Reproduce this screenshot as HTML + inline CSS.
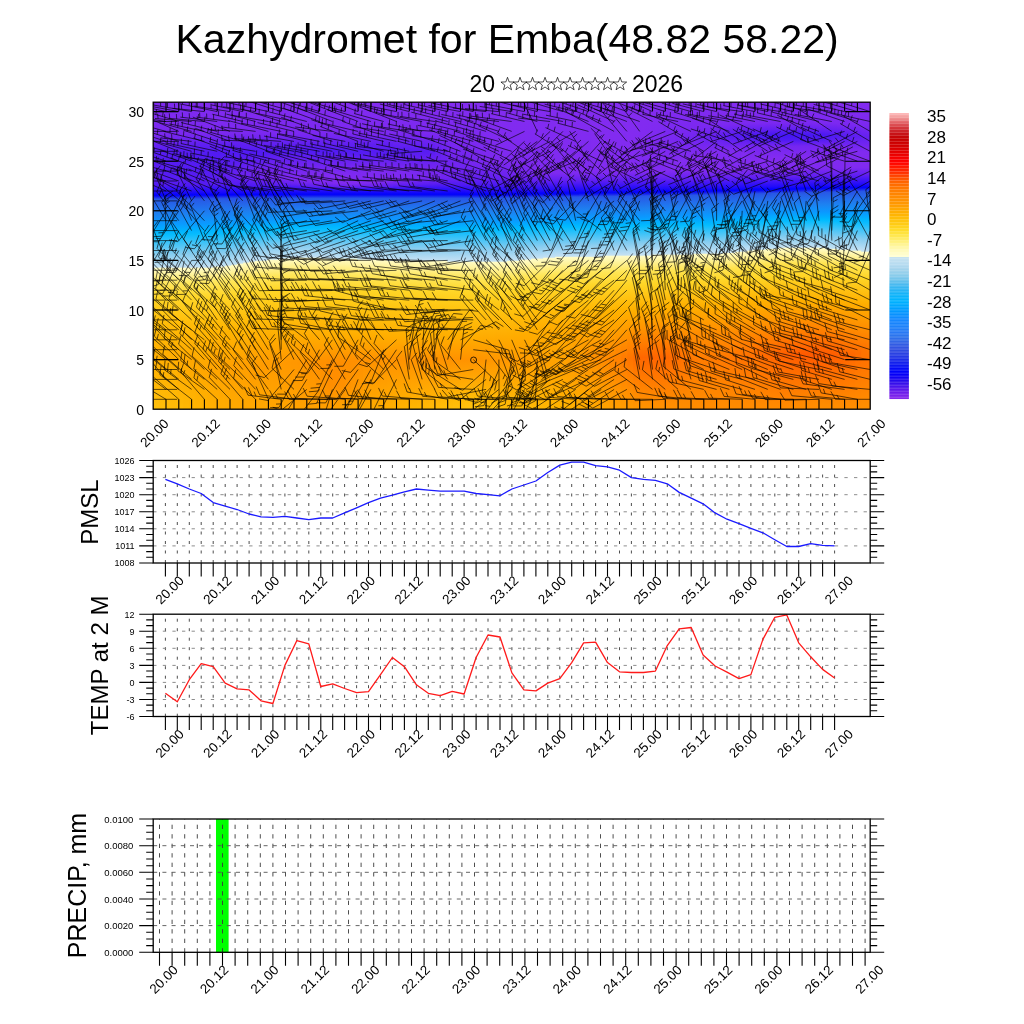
<!DOCTYPE html><html><head><meta charset="utf-8"><style>html,body{margin:0;padding:0;background:#fff;}svg{display:block;will-change:transform;}text{font-family:"Liberation Sans",sans-serif;}</style></head><body><svg width="1024" height="1024" viewBox="0 0 1024 1024"><rect width="1024" height="1024" fill="#fff"/><defs><linearGradient id="g0" x1="0" y1="0" x2="0" y2="1"><stop offset="0.000" stop-color="#7e29f0"/><stop offset="0.052" stop-color="#7e29f0"/><stop offset="0.104" stop-color="#7a28f0"/><stop offset="0.163" stop-color="#571cf2"/><stop offset="0.244" stop-color="#5e1ef2"/><stop offset="0.270" stop-color="#511af3"/><stop offset="0.296" stop-color="#1808fb"/><stop offset="0.303" stop-color="#0202fd"/><stop offset="0.306" stop-color="#0b0ef3"/><stop offset="0.313" stop-color="#2340e7"/><stop offset="0.316" stop-color="#2857e6"/><stop offset="0.362" stop-color="#1e7ff0"/><stop offset="0.394" stop-color="#0c98ff"/><stop offset="0.417" stop-color="#00b0ff"/><stop offset="0.430" stop-color="#05bcfe"/><stop offset="0.495" stop-color="#87cdf0"/><stop offset="0.537" stop-color="#c3e0f4"/><stop offset="0.541" stop-color="#fffcc7"/><stop offset="0.590" stop-color="#ffe75b"/><stop offset="0.635" stop-color="#ffd628"/><stop offset="0.720" stop-color="#ffbd09"/><stop offset="0.827" stop-color="#ffae00"/><stop offset="0.980" stop-color="#ffbe0a"/><stop offset="1.000" stop-color="#ffc10d"/></linearGradient><linearGradient id="g1" x1="0" y1="0" x2="0" y2="1"><stop offset="0.000" stop-color="#7e29f0"/><stop offset="0.052" stop-color="#7e29f0"/><stop offset="0.104" stop-color="#7a28f0"/><stop offset="0.163" stop-color="#571cf2"/><stop offset="0.257" stop-color="#591df2"/><stop offset="0.270" stop-color="#511af3"/><stop offset="0.296" stop-color="#1708fb"/><stop offset="0.303" stop-color="#0203fd"/><stop offset="0.306" stop-color="#0b0ef3"/><stop offset="0.313" stop-color="#2441e7"/><stop offset="0.316" stop-color="#2857e6"/><stop offset="0.362" stop-color="#1e7ff0"/><stop offset="0.394" stop-color="#0b98ff"/><stop offset="0.417" stop-color="#00b0ff"/><stop offset="0.430" stop-color="#05bcfe"/><stop offset="0.495" stop-color="#87cdf0"/><stop offset="0.537" stop-color="#c3e0f4"/><stop offset="0.541" stop-color="#fffcc7"/><stop offset="0.590" stop-color="#ffe75b"/><stop offset="0.635" stop-color="#ffd628"/><stop offset="0.723" stop-color="#ffbc08"/><stop offset="0.831" stop-color="#ffad00"/><stop offset="0.980" stop-color="#ffbc08"/><stop offset="1.000" stop-color="#ffbf0b"/></linearGradient><linearGradient id="g2" x1="0" y1="0" x2="0" y2="1"><stop offset="0.000" stop-color="#7e29f0"/><stop offset="0.055" stop-color="#7f2af0"/><stop offset="0.107" stop-color="#7927f0"/><stop offset="0.163" stop-color="#561cf2"/><stop offset="0.267" stop-color="#571cf2"/><stop offset="0.296" stop-color="#1708fb"/><stop offset="0.303" stop-color="#0203fd"/><stop offset="0.306" stop-color="#0c0ff2"/><stop offset="0.313" stop-color="#2442e7"/><stop offset="0.316" stop-color="#2857e6"/><stop offset="0.362" stop-color="#1e7ff0"/><stop offset="0.394" stop-color="#0b98ff"/><stop offset="0.417" stop-color="#00b1ff"/><stop offset="0.430" stop-color="#05bcfe"/><stop offset="0.495" stop-color="#87cdf0"/><stop offset="0.537" stop-color="#c3e0f4"/><stop offset="0.541" stop-color="#fffcc7"/><stop offset="0.590" stop-color="#ffe75b"/><stop offset="0.635" stop-color="#ffd628"/><stop offset="0.723" stop-color="#ffbc08"/><stop offset="0.827" stop-color="#ffad00"/><stop offset="0.987" stop-color="#ffbb07"/><stop offset="1.000" stop-color="#ffbd09"/></linearGradient><linearGradient id="g3" x1="0" y1="0" x2="0" y2="1"><stop offset="0.000" stop-color="#7e2af0"/><stop offset="0.062" stop-color="#802af0"/><stop offset="0.117" stop-color="#7425f0"/><stop offset="0.163" stop-color="#551bf3"/><stop offset="0.267" stop-color="#571cf2"/><stop offset="0.296" stop-color="#1708fb"/><stop offset="0.303" stop-color="#0203fc"/><stop offset="0.306" stop-color="#0c10f2"/><stop offset="0.313" stop-color="#2443e7"/><stop offset="0.316" stop-color="#2857e6"/><stop offset="0.362" stop-color="#1e80f0"/><stop offset="0.394" stop-color="#0b98ff"/><stop offset="0.417" stop-color="#00b1ff"/><stop offset="0.430" stop-color="#05bcfe"/><stop offset="0.495" stop-color="#87cdf0"/><stop offset="0.537" stop-color="#c3e0f4"/><stop offset="0.541" stop-color="#fffcc7"/><stop offset="0.590" stop-color="#ffe75b"/><stop offset="0.635" stop-color="#ffd628"/><stop offset="0.723" stop-color="#ffbc08"/><stop offset="0.821" stop-color="#ffac00"/><stop offset="0.997" stop-color="#ffbb07"/><stop offset="1.000" stop-color="#ffbb07"/></linearGradient><linearGradient id="g4" x1="0" y1="0" x2="0" y2="1"><stop offset="0.000" stop-color="#7f2af0"/><stop offset="0.101" stop-color="#7b28f0"/><stop offset="0.140" stop-color="#601ff1"/><stop offset="0.173" stop-color="#551bf3"/><stop offset="0.267" stop-color="#561cf2"/><stop offset="0.296" stop-color="#1607fb"/><stop offset="0.303" stop-color="#0303fc"/><stop offset="0.306" stop-color="#0d10f2"/><stop offset="0.313" stop-color="#2545e7"/><stop offset="0.316" stop-color="#2857e6"/><stop offset="0.365" stop-color="#1d82f2"/><stop offset="0.394" stop-color="#0b98ff"/><stop offset="0.417" stop-color="#00b1ff"/><stop offset="0.430" stop-color="#05bcfe"/><stop offset="0.495" stop-color="#87cdf0"/><stop offset="0.537" stop-color="#c3e0f4"/><stop offset="0.541" stop-color="#fffcc7"/><stop offset="0.590" stop-color="#ffe75b"/><stop offset="0.635" stop-color="#ffd628"/><stop offset="0.726" stop-color="#ffbb07"/><stop offset="0.844" stop-color="#ffa900"/><stop offset="1.000" stop-color="#ffba06"/></linearGradient><linearGradient id="g5" x1="0" y1="0" x2="0" y2="1"><stop offset="0.000" stop-color="#7f2af0"/><stop offset="0.101" stop-color="#7b28f0"/><stop offset="0.140" stop-color="#601ff1"/><stop offset="0.173" stop-color="#541bf3"/><stop offset="0.257" stop-color="#571cf2"/><stop offset="0.270" stop-color="#501af3"/><stop offset="0.296" stop-color="#1607fb"/><stop offset="0.303" stop-color="#0303fc"/><stop offset="0.309" stop-color="#1c29e9"/><stop offset="0.313" stop-color="#2546e7"/><stop offset="0.316" stop-color="#2857e6"/><stop offset="0.365" stop-color="#1d82f2"/><stop offset="0.394" stop-color="#0b98ff"/><stop offset="0.417" stop-color="#00b1ff"/><stop offset="0.430" stop-color="#05bcfe"/><stop offset="0.495" stop-color="#88cdf0"/><stop offset="0.537" stop-color="#c3e0f4"/><stop offset="0.541" stop-color="#fffcc7"/><stop offset="0.590" stop-color="#ffe75b"/><stop offset="0.635" stop-color="#ffd628"/><stop offset="0.726" stop-color="#ffbb07"/><stop offset="0.840" stop-color="#ffa800"/><stop offset="1.000" stop-color="#ffb804"/></linearGradient><linearGradient id="g6" x1="0" y1="0" x2="0" y2="1"><stop offset="0.000" stop-color="#802af0"/><stop offset="0.101" stop-color="#7b28f0"/><stop offset="0.140" stop-color="#5f1ff1"/><stop offset="0.173" stop-color="#541bf3"/><stop offset="0.257" stop-color="#571cf2"/><stop offset="0.270" stop-color="#501af3"/><stop offset="0.296" stop-color="#1607fb"/><stop offset="0.300" stop-color="#0602fe"/><stop offset="0.303" stop-color="#0304fc"/><stop offset="0.309" stop-color="#1c2ae9"/><stop offset="0.313" stop-color="#2547e7"/><stop offset="0.316" stop-color="#2858e6"/><stop offset="0.365" stop-color="#1d82f2"/><stop offset="0.394" stop-color="#0b98ff"/><stop offset="0.417" stop-color="#00b1ff"/><stop offset="0.430" stop-color="#06bcfe"/><stop offset="0.495" stop-color="#88cdf0"/><stop offset="0.537" stop-color="#c3e0f4"/><stop offset="0.541" stop-color="#fffcc7"/><stop offset="0.590" stop-color="#ffe75b"/><stop offset="0.635" stop-color="#ffd628"/><stop offset="0.726" stop-color="#ffbb07"/><stop offset="0.844" stop-color="#ffa700"/><stop offset="1.000" stop-color="#ffb602"/></linearGradient><linearGradient id="g7" x1="0" y1="0" x2="0" y2="1"><stop offset="0.000" stop-color="#802af0"/><stop offset="0.101" stop-color="#7b28f0"/><stop offset="0.140" stop-color="#5f1ef2"/><stop offset="0.169" stop-color="#531bf3"/><stop offset="0.267" stop-color="#561cf2"/><stop offset="0.296" stop-color="#1507fb"/><stop offset="0.300" stop-color="#0602fe"/><stop offset="0.303" stop-color="#0304fc"/><stop offset="0.309" stop-color="#1d2be9"/><stop offset="0.313" stop-color="#2648e6"/><stop offset="0.316" stop-color="#2858e6"/><stop offset="0.365" stop-color="#1d82f2"/><stop offset="0.394" stop-color="#0b98ff"/><stop offset="0.417" stop-color="#00b1ff"/><stop offset="0.430" stop-color="#06bcfe"/><stop offset="0.495" stop-color="#88cdf0"/><stop offset="0.537" stop-color="#c3e0f4"/><stop offset="0.541" stop-color="#fffcc7"/><stop offset="0.590" stop-color="#ffe75b"/><stop offset="0.635" stop-color="#ffd628"/><stop offset="0.730" stop-color="#ffba06"/><stop offset="0.866" stop-color="#ffa700"/><stop offset="1.000" stop-color="#ffb400"/></linearGradient><linearGradient id="g8" x1="0" y1="0" x2="0" y2="1"><stop offset="0.000" stop-color="#812bf0"/><stop offset="0.101" stop-color="#7b28f0"/><stop offset="0.140" stop-color="#5e1ef2"/><stop offset="0.169" stop-color="#521bf3"/><stop offset="0.267" stop-color="#561cf2"/><stop offset="0.296" stop-color="#1507fb"/><stop offset="0.300" stop-color="#0502fe"/><stop offset="0.303" stop-color="#0404fb"/><stop offset="0.309" stop-color="#1d2ce8"/><stop offset="0.313" stop-color="#264ae6"/><stop offset="0.316" stop-color="#2858e6"/><stop offset="0.365" stop-color="#1c82f2"/><stop offset="0.394" stop-color="#0b99ff"/><stop offset="0.417" stop-color="#00b1ff"/><stop offset="0.427" stop-color="#00bcff"/><stop offset="0.492" stop-color="#84ccf0"/><stop offset="0.537" stop-color="#c4e1f4"/><stop offset="0.541" stop-color="#fffbc5"/><stop offset="0.590" stop-color="#ffe75a"/><stop offset="0.635" stop-color="#ffd627"/><stop offset="0.736" stop-color="#ffb804"/><stop offset="0.866" stop-color="#ffa600"/><stop offset="1.000" stop-color="#ffb200"/></linearGradient><linearGradient id="g9" x1="0" y1="0" x2="0" y2="1"><stop offset="0.000" stop-color="#812bf0"/><stop offset="0.101" stop-color="#7b28f0"/><stop offset="0.137" stop-color="#611ff1"/><stop offset="0.166" stop-color="#521bf3"/><stop offset="0.264" stop-color="#581df2"/><stop offset="0.290" stop-color="#260df9"/><stop offset="0.296" stop-color="#1507fc"/><stop offset="0.300" stop-color="#0401fe"/><stop offset="0.303" stop-color="#0405fb"/><stop offset="0.309" stop-color="#1e2de8"/><stop offset="0.313" stop-color="#274be6"/><stop offset="0.319" stop-color="#285ce6"/><stop offset="0.365" stop-color="#1c82f3"/><stop offset="0.397" stop-color="#079dff"/><stop offset="0.423" stop-color="#00b9ff"/><stop offset="0.495" stop-color="#8acef0"/><stop offset="0.537" stop-color="#c6e1f4"/><stop offset="0.541" stop-color="#fffbc2"/><stop offset="0.590" stop-color="#ffe658"/><stop offset="0.635" stop-color="#ffd527"/><stop offset="0.746" stop-color="#ffb400"/><stop offset="0.870" stop-color="#ffa400"/><stop offset="1.000" stop-color="#ffb000"/></linearGradient><linearGradient id="g10" x1="0" y1="0" x2="0" y2="1"><stop offset="0.000" stop-color="#822bf0"/><stop offset="0.101" stop-color="#7b28f0"/><stop offset="0.137" stop-color="#611ff1"/><stop offset="0.166" stop-color="#521af3"/><stop offset="0.251" stop-color="#591df2"/><stop offset="0.267" stop-color="#561cf2"/><stop offset="0.296" stop-color="#1407fc"/><stop offset="0.300" stop-color="#0301ff"/><stop offset="0.303" stop-color="#0406fa"/><stop offset="0.309" stop-color="#1e2ee8"/><stop offset="0.313" stop-color="#274ce6"/><stop offset="0.319" stop-color="#285ce6"/><stop offset="0.365" stop-color="#1c83f3"/><stop offset="0.397" stop-color="#069eff"/><stop offset="0.423" stop-color="#00baff"/><stop offset="0.492" stop-color="#87cdf0"/><stop offset="0.534" stop-color="#c3e0f4"/><stop offset="0.537" stop-color="#fffcc6"/><stop offset="0.586" stop-color="#ffe75b"/><stop offset="0.632" stop-color="#ffd628"/><stop offset="0.723" stop-color="#ffba06"/><stop offset="0.837" stop-color="#ffa300"/><stop offset="1.000" stop-color="#ffae00"/></linearGradient><linearGradient id="g11" x1="0" y1="0" x2="0" y2="1"><stop offset="0.000" stop-color="#822bf0"/><stop offset="0.101" stop-color="#7b28f0"/><stop offset="0.137" stop-color="#611ff1"/><stop offset="0.166" stop-color="#521af3"/><stop offset="0.241" stop-color="#5d1ef2"/><stop offset="0.267" stop-color="#561cf2"/><stop offset="0.296" stop-color="#1407fc"/><stop offset="0.300" stop-color="#0201ff"/><stop offset="0.303" stop-color="#0506fa"/><stop offset="0.309" stop-color="#1f2fe8"/><stop offset="0.313" stop-color="#274de6"/><stop offset="0.319" stop-color="#285ce6"/><stop offset="0.365" stop-color="#1c83f3"/><stop offset="0.394" stop-color="#099bff"/><stop offset="0.414" stop-color="#00b0ff"/><stop offset="0.427" stop-color="#05bcfe"/><stop offset="0.492" stop-color="#89cdf0"/><stop offset="0.534" stop-color="#c5e1f4"/><stop offset="0.537" stop-color="#fffbc4"/><stop offset="0.586" stop-color="#ffe659"/><stop offset="0.632" stop-color="#ffd627"/><stop offset="0.736" stop-color="#ffb602"/><stop offset="0.866" stop-color="#ffa200"/><stop offset="1.000" stop-color="#ffac00"/></linearGradient><linearGradient id="g12" x1="0" y1="0" x2="0" y2="1"><stop offset="0.000" stop-color="#822bf0"/><stop offset="0.101" stop-color="#7b28f0"/><stop offset="0.137" stop-color="#601ff1"/><stop offset="0.166" stop-color="#511af3"/><stop offset="0.238" stop-color="#621ff1"/><stop offset="0.267" stop-color="#561cf2"/><stop offset="0.296" stop-color="#1407fc"/><stop offset="0.300" stop-color="#0100ff"/><stop offset="0.303" stop-color="#0507f9"/><stop offset="0.309" stop-color="#1f31e8"/><stop offset="0.313" stop-color="#284ee6"/><stop offset="0.326" stop-color="#2863e6"/><stop offset="0.378" stop-color="#168bfc"/><stop offset="0.410" stop-color="#00adff"/><stop offset="0.427" stop-color="#06bcfe"/><stop offset="0.492" stop-color="#8acef0"/><stop offset="0.531" stop-color="#c2e0f3"/><stop offset="0.534" stop-color="#fffcc7"/><stop offset="0.583" stop-color="#ffe75c"/><stop offset="0.632" stop-color="#ffd627"/><stop offset="0.743" stop-color="#ffb400"/><stop offset="0.866" stop-color="#ffa000"/><stop offset="1.000" stop-color="#ffab00"/></linearGradient><linearGradient id="g13" x1="0" y1="0" x2="0" y2="1"><stop offset="0.000" stop-color="#832bf0"/><stop offset="0.101" stop-color="#7b28f0"/><stop offset="0.137" stop-color="#601ff1"/><stop offset="0.166" stop-color="#511af3"/><stop offset="0.238" stop-color="#6621f1"/><stop offset="0.267" stop-color="#571cf2"/><stop offset="0.296" stop-color="#1306fc"/><stop offset="0.300" stop-color="#0000ff"/><stop offset="0.303" stop-color="#0607f9"/><stop offset="0.309" stop-color="#1f32e8"/><stop offset="0.313" stop-color="#2850e6"/><stop offset="0.339" stop-color="#2770e7"/><stop offset="0.391" stop-color="#0a99ff"/><stop offset="0.410" stop-color="#00afff"/><stop offset="0.423" stop-color="#03bcff"/><stop offset="0.485" stop-color="#84ccf0"/><stop offset="0.528" stop-color="#c2e0f3"/><stop offset="0.531" stop-color="#fffcc7"/><stop offset="0.583" stop-color="#ffe658"/><stop offset="0.629" stop-color="#ffd627"/><stop offset="0.736" stop-color="#ffb602"/><stop offset="0.863" stop-color="#ff9f00"/><stop offset="1.000" stop-color="#ffaa00"/></linearGradient><linearGradient id="g14" x1="0" y1="0" x2="0" y2="1"><stop offset="0.000" stop-color="#832bf0"/><stop offset="0.101" stop-color="#7b28f0"/><stop offset="0.137" stop-color="#601ff1"/><stop offset="0.166" stop-color="#521af3"/><stop offset="0.238" stop-color="#6b22f0"/><stop offset="0.270" stop-color="#511af3"/><stop offset="0.296" stop-color="#1306fc"/><stop offset="0.300" stop-color="#0000ff"/><stop offset="0.303" stop-color="#0608f8"/><stop offset="0.309" stop-color="#2033e8"/><stop offset="0.313" stop-color="#2851e6"/><stop offset="0.345" stop-color="#2475ea"/><stop offset="0.391" stop-color="#099bff"/><stop offset="0.414" stop-color="#00b5ff"/><stop offset="0.423" stop-color="#08bcfe"/><stop offset="0.485" stop-color="#8acdf0"/><stop offset="0.524" stop-color="#c4e1f4"/><stop offset="0.528" stop-color="#fffbc5"/><stop offset="0.577" stop-color="#ffe75b"/><stop offset="0.625" stop-color="#ffd627"/><stop offset="0.730" stop-color="#ffb703"/><stop offset="0.860" stop-color="#ff9f00"/><stop offset="1.000" stop-color="#ffa900"/></linearGradient><linearGradient id="g15" x1="0" y1="0" x2="0" y2="1"><stop offset="0.000" stop-color="#832bf0"/><stop offset="0.101" stop-color="#7b28f0"/><stop offset="0.134" stop-color="#6320f1"/><stop offset="0.163" stop-color="#511af3"/><stop offset="0.238" stop-color="#6f24f0"/><stop offset="0.270" stop-color="#511af3"/><stop offset="0.296" stop-color="#1306fc"/><stop offset="0.300" stop-color="#0000ff"/><stop offset="0.303" stop-color="#0708f8"/><stop offset="0.309" stop-color="#2034e8"/><stop offset="0.313" stop-color="#2852e6"/><stop offset="0.349" stop-color="#2279ec"/><stop offset="0.388" stop-color="#0a99ff"/><stop offset="0.407" stop-color="#00b0ff"/><stop offset="0.420" stop-color="#06bcfe"/><stop offset="0.482" stop-color="#8bcef0"/><stop offset="0.521" stop-color="#c5e1f4"/><stop offset="0.524" stop-color="#fffbc3"/><stop offset="0.573" stop-color="#ffe75a"/><stop offset="0.622" stop-color="#ffd527"/><stop offset="0.723" stop-color="#ffb905"/><stop offset="0.857" stop-color="#ff9e00"/><stop offset="0.997" stop-color="#ffa800"/><stop offset="1.000" stop-color="#ffa800"/></linearGradient><linearGradient id="g16" x1="0" y1="0" x2="0" y2="1"><stop offset="0.000" stop-color="#832bf0"/><stop offset="0.101" stop-color="#7b28f0"/><stop offset="0.134" stop-color="#6320f1"/><stop offset="0.163" stop-color="#511af3"/><stop offset="0.231" stop-color="#7124f0"/><stop offset="0.254" stop-color="#6621f1"/><stop offset="0.274" stop-color="#4b18f4"/><stop offset="0.296" stop-color="#1206fc"/><stop offset="0.300" stop-color="#0001fe"/><stop offset="0.303" stop-color="#0709f7"/><stop offset="0.309" stop-color="#2036e8"/><stop offset="0.313" stop-color="#2853e6"/><stop offset="0.352" stop-color="#207cee"/><stop offset="0.388" stop-color="#099bff"/><stop offset="0.407" stop-color="#00b2ff"/><stop offset="0.417" stop-color="#03bcff"/><stop offset="0.476" stop-color="#84ccf0"/><stop offset="0.518" stop-color="#c5e1f4"/><stop offset="0.521" stop-color="#fffbc2"/><stop offset="0.570" stop-color="#ffe75b"/><stop offset="0.619" stop-color="#ffd627"/><stop offset="0.710" stop-color="#ffbc08"/><stop offset="0.801" stop-color="#ffa500"/><stop offset="0.889" stop-color="#ff9d00"/><stop offset="1.000" stop-color="#ffa800"/></linearGradient><linearGradient id="g17" x1="0" y1="0" x2="0" y2="1"><stop offset="0.000" stop-color="#832bf0"/><stop offset="0.101" stop-color="#7b28f0"/><stop offset="0.134" stop-color="#6320f1"/><stop offset="0.163" stop-color="#511af3"/><stop offset="0.225" stop-color="#7225f0"/><stop offset="0.248" stop-color="#6f24f0"/><stop offset="0.274" stop-color="#4b19f3"/><stop offset="0.296" stop-color="#1206fc"/><stop offset="0.300" stop-color="#0101fe"/><stop offset="0.303" stop-color="#0809f7"/><stop offset="0.309" stop-color="#2137e7"/><stop offset="0.313" stop-color="#2854e6"/><stop offset="0.355" stop-color="#1e7ff0"/><stop offset="0.388" stop-color="#089bff"/><stop offset="0.410" stop-color="#00b7ff"/><stop offset="0.420" stop-color="#0cbcfe"/><stop offset="0.476" stop-color="#87ccf0"/><stop offset="0.515" stop-color="#c3e0f4"/><stop offset="0.518" stop-color="#fffcc6"/><stop offset="0.570" stop-color="#ffe659"/><stop offset="0.616" stop-color="#ffd628"/><stop offset="0.691" stop-color="#ffc00c"/><stop offset="0.775" stop-color="#ffab00"/><stop offset="0.857" stop-color="#ff9c00"/><stop offset="1.000" stop-color="#ffa700"/></linearGradient><linearGradient id="g18" x1="0" y1="0" x2="0" y2="1"><stop offset="0.000" stop-color="#832cf0"/><stop offset="0.101" stop-color="#7b28f0"/><stop offset="0.134" stop-color="#6320f1"/><stop offset="0.163" stop-color="#511af3"/><stop offset="0.221" stop-color="#7325f0"/><stop offset="0.248" stop-color="#7225f0"/><stop offset="0.274" stop-color="#4c19f3"/><stop offset="0.296" stop-color="#1206fc"/><stop offset="0.300" stop-color="#0101fe"/><stop offset="0.303" stop-color="#080af6"/><stop offset="0.309" stop-color="#2138e7"/><stop offset="0.313" stop-color="#2855e6"/><stop offset="0.355" stop-color="#1e80f0"/><stop offset="0.384" stop-color="#0b98ff"/><stop offset="0.404" stop-color="#00b0ff"/><stop offset="0.414" stop-color="#00bcff"/><stop offset="0.476" stop-color="#89cdf0"/><stop offset="0.515" stop-color="#c5e1f4"/><stop offset="0.518" stop-color="#fffbc3"/><stop offset="0.567" stop-color="#ffe75b"/><stop offset="0.616" stop-color="#ffd627"/><stop offset="0.694" stop-color="#ffc00c"/><stop offset="0.779" stop-color="#ffaa00"/><stop offset="0.857" stop-color="#ff9b00"/><stop offset="1.000" stop-color="#ffa700"/></linearGradient><linearGradient id="g19" x1="0" y1="0" x2="0" y2="1"><stop offset="0.000" stop-color="#832cf0"/><stop offset="0.101" stop-color="#7b28f0"/><stop offset="0.134" stop-color="#6320f1"/><stop offset="0.160" stop-color="#511af3"/><stop offset="0.199" stop-color="#6c22f0"/><stop offset="0.244" stop-color="#7727f0"/><stop offset="0.267" stop-color="#5c1ef2"/><stop offset="0.296" stop-color="#1106fc"/><stop offset="0.300" stop-color="#0101fe"/><stop offset="0.303" stop-color="#080bf6"/><stop offset="0.309" stop-color="#2139e7"/><stop offset="0.313" stop-color="#2856e6"/><stop offset="0.355" stop-color="#1e80f0"/><stop offset="0.384" stop-color="#0a99ff"/><stop offset="0.401" stop-color="#00adff"/><stop offset="0.414" stop-color="#01bcff"/><stop offset="0.472" stop-color="#85ccf0"/><stop offset="0.511" stop-color="#c3e0f4"/><stop offset="0.515" stop-color="#fffcc6"/><stop offset="0.567" stop-color="#ffe65a"/><stop offset="0.612" stop-color="#ffd628"/><stop offset="0.678" stop-color="#ffc30f"/><stop offset="0.772" stop-color="#ffab00"/><stop offset="0.853" stop-color="#ff9b00"/><stop offset="0.997" stop-color="#ffa500"/><stop offset="1.000" stop-color="#ffa600"/></linearGradient><linearGradient id="g20" x1="0" y1="0" x2="0" y2="1"><stop offset="0.000" stop-color="#832cf0"/><stop offset="0.101" stop-color="#7b28f0"/><stop offset="0.134" stop-color="#6220f1"/><stop offset="0.160" stop-color="#511af3"/><stop offset="0.195" stop-color="#6a22f0"/><stop offset="0.244" stop-color="#7a28f0"/><stop offset="0.267" stop-color="#5e1ef2"/><stop offset="0.296" stop-color="#1005fc"/><stop offset="0.300" stop-color="#0101fe"/><stop offset="0.303" stop-color="#090bf5"/><stop offset="0.309" stop-color="#223ae7"/><stop offset="0.313" stop-color="#2856e6"/><stop offset="0.355" stop-color="#1e80f0"/><stop offset="0.384" stop-color="#0a9aff"/><stop offset="0.404" stop-color="#00b2ff"/><stop offset="0.414" stop-color="#03bcff"/><stop offset="0.472" stop-color="#88cdf0"/><stop offset="0.511" stop-color="#c5e1f4"/><stop offset="0.515" stop-color="#fffbc3"/><stop offset="0.567" stop-color="#ffe658"/><stop offset="0.612" stop-color="#ffd627"/><stop offset="0.681" stop-color="#ffc20e"/><stop offset="0.772" stop-color="#ffab00"/><stop offset="0.850" stop-color="#ff9a00"/><stop offset="0.993" stop-color="#ffa400"/><stop offset="1.000" stop-color="#ffa500"/></linearGradient><linearGradient id="g21" x1="0" y1="0" x2="0" y2="1"><stop offset="0.000" stop-color="#832cf0"/><stop offset="0.101" stop-color="#7b28f0"/><stop offset="0.134" stop-color="#6220f1"/><stop offset="0.160" stop-color="#511af3"/><stop offset="0.195" stop-color="#6b22f0"/><stop offset="0.248" stop-color="#7a28f0"/><stop offset="0.267" stop-color="#601ff1"/><stop offset="0.300" stop-color="#0102fe"/><stop offset="0.303" stop-color="#090cf5"/><stop offset="0.313" stop-color="#2856e6"/><stop offset="0.355" stop-color="#1d81f1"/><stop offset="0.384" stop-color="#099bff"/><stop offset="0.404" stop-color="#00b3ff"/><stop offset="0.414" stop-color="#05bcfe"/><stop offset="0.472" stop-color="#8acdf0"/><stop offset="0.508" stop-color="#c3e0f4"/><stop offset="0.511" stop-color="#fffcc6"/><stop offset="0.564" stop-color="#ffe75a"/><stop offset="0.612" stop-color="#ffd526"/><stop offset="0.684" stop-color="#ffc20e"/><stop offset="0.775" stop-color="#ffa900"/><stop offset="0.850" stop-color="#ff9900"/><stop offset="0.993" stop-color="#ffa400"/><stop offset="1.000" stop-color="#ffa500"/></linearGradient><linearGradient id="g22" x1="0" y1="0" x2="0" y2="1"><stop offset="0.000" stop-color="#832cf0"/><stop offset="0.101" stop-color="#7b28f0"/><stop offset="0.134" stop-color="#6220f1"/><stop offset="0.160" stop-color="#511af3"/><stop offset="0.192" stop-color="#6921f1"/><stop offset="0.248" stop-color="#7e29f0"/><stop offset="0.267" stop-color="#6320f1"/><stop offset="0.300" stop-color="#0102fd"/><stop offset="0.303" stop-color="#0a0cf4"/><stop offset="0.313" stop-color="#2856e6"/><stop offset="0.352" stop-color="#1f7eef"/><stop offset="0.384" stop-color="#089bff"/><stop offset="0.407" stop-color="#00b8ff"/><stop offset="0.417" stop-color="#0fbcfd"/><stop offset="0.469" stop-color="#86ccf0"/><stop offset="0.508" stop-color="#c5e1f4"/><stop offset="0.511" stop-color="#fffbc3"/><stop offset="0.564" stop-color="#ffe658"/><stop offset="0.609" stop-color="#ffd628"/><stop offset="0.671" stop-color="#ffc410"/><stop offset="0.772" stop-color="#ffaa00"/><stop offset="0.847" stop-color="#ff9800"/><stop offset="0.987" stop-color="#ffa200"/><stop offset="1.000" stop-color="#ffa400"/></linearGradient><linearGradient id="g23" x1="0" y1="0" x2="0" y2="1"><stop offset="0.000" stop-color="#832cf0"/><stop offset="0.101" stop-color="#7b28f0"/><stop offset="0.134" stop-color="#6220f1"/><stop offset="0.160" stop-color="#511af3"/><stop offset="0.192" stop-color="#6922f0"/><stop offset="0.248" stop-color="#7f2af0"/><stop offset="0.267" stop-color="#6621f1"/><stop offset="0.300" stop-color="#0202fd"/><stop offset="0.303" stop-color="#0a0df4"/><stop offset="0.313" stop-color="#2857e6"/><stop offset="0.352" stop-color="#1f7fef"/><stop offset="0.381" stop-color="#0b98ff"/><stop offset="0.397" stop-color="#00adff"/><stop offset="0.410" stop-color="#02bcff"/><stop offset="0.469" stop-color="#89cdf0"/><stop offset="0.505" stop-color="#c2e0f3"/><stop offset="0.508" stop-color="#fffcc7"/><stop offset="0.560" stop-color="#ffe75b"/><stop offset="0.609" stop-color="#ffd527"/><stop offset="0.671" stop-color="#ffc410"/><stop offset="0.772" stop-color="#ffaa00"/><stop offset="0.847" stop-color="#ff9700"/><stop offset="0.984" stop-color="#ffa100"/><stop offset="1.000" stop-color="#ffa400"/></linearGradient><linearGradient id="g24" x1="0" y1="0" x2="0" y2="1"><stop offset="0.000" stop-color="#832cf0"/><stop offset="0.101" stop-color="#7b28f0"/><stop offset="0.134" stop-color="#621ff1"/><stop offset="0.160" stop-color="#511af3"/><stop offset="0.192" stop-color="#6a22f0"/><stop offset="0.248" stop-color="#802af0"/><stop offset="0.267" stop-color="#6a22f0"/><stop offset="0.280" stop-color="#3f15f5"/><stop offset="0.300" stop-color="#0202fd"/><stop offset="0.303" stop-color="#0b0df3"/><stop offset="0.313" stop-color="#2857e6"/><stop offset="0.352" stop-color="#1e7ff0"/><stop offset="0.381" stop-color="#0a99ff"/><stop offset="0.397" stop-color="#00adff"/><stop offset="0.410" stop-color="#03bcff"/><stop offset="0.466" stop-color="#85ccf0"/><stop offset="0.505" stop-color="#c5e1f4"/><stop offset="0.508" stop-color="#fffbc4"/><stop offset="0.560" stop-color="#ffe659"/><stop offset="0.606" stop-color="#ffd628"/><stop offset="0.664" stop-color="#ffc511"/><stop offset="0.772" stop-color="#ffa900"/><stop offset="0.847" stop-color="#ff9600"/><stop offset="0.977" stop-color="#ff9f00"/><stop offset="1.000" stop-color="#ffa300"/></linearGradient><linearGradient id="g25" x1="0" y1="0" x2="0" y2="1"><stop offset="0.000" stop-color="#832cf0"/><stop offset="0.101" stop-color="#7b28f0"/><stop offset="0.134" stop-color="#6220f1"/><stop offset="0.160" stop-color="#511af3"/><stop offset="0.192" stop-color="#6a22f0"/><stop offset="0.248" stop-color="#802af0"/><stop offset="0.261" stop-color="#7727f0"/><stop offset="0.274" stop-color="#5c1ef2"/><stop offset="0.287" stop-color="#290ef8"/><stop offset="0.300" stop-color="#0202fd"/><stop offset="0.303" stop-color="#0b0df3"/><stop offset="0.313" stop-color="#2857e6"/><stop offset="0.352" stop-color="#1f7fef"/><stop offset="0.381" stop-color="#0b99ff"/><stop offset="0.397" stop-color="#00adff"/><stop offset="0.410" stop-color="#03bcff"/><stop offset="0.466" stop-color="#84ccf0"/><stop offset="0.505" stop-color="#c4e1f4"/><stop offset="0.508" stop-color="#fffbc5"/><stop offset="0.560" stop-color="#ffe75a"/><stop offset="0.606" stop-color="#ffd628"/><stop offset="0.664" stop-color="#ffc511"/><stop offset="0.772" stop-color="#ffa900"/><stop offset="0.847" stop-color="#ff9400"/><stop offset="0.971" stop-color="#ff9e00"/><stop offset="1.000" stop-color="#ffa200"/></linearGradient><linearGradient id="g26" x1="0" y1="0" x2="0" y2="1"><stop offset="0.000" stop-color="#832cf0"/><stop offset="0.101" stop-color="#7b28f0"/><stop offset="0.134" stop-color="#6220f1"/><stop offset="0.160" stop-color="#511af3"/><stop offset="0.189" stop-color="#6721f1"/><stop offset="0.238" stop-color="#7f2af0"/><stop offset="0.257" stop-color="#7f2af0"/><stop offset="0.274" stop-color="#5f1ff1"/><stop offset="0.287" stop-color="#290ef8"/><stop offset="0.300" stop-color="#0202fd"/><stop offset="0.303" stop-color="#0b0df3"/><stop offset="0.313" stop-color="#2857e6"/><stop offset="0.352" stop-color="#1f7fef"/><stop offset="0.381" stop-color="#0b98ff"/><stop offset="0.397" stop-color="#00adff"/><stop offset="0.410" stop-color="#02bcff"/><stop offset="0.469" stop-color="#89cdf0"/><stop offset="0.505" stop-color="#c3e0f4"/><stop offset="0.508" stop-color="#fffcc6"/><stop offset="0.560" stop-color="#ffe75a"/><stop offset="0.609" stop-color="#ffd526"/><stop offset="0.668" stop-color="#ffc511"/><stop offset="0.772" stop-color="#ffa900"/><stop offset="0.847" stop-color="#ff9300"/><stop offset="0.958" stop-color="#ff9b00"/><stop offset="1.000" stop-color="#ffa200"/></linearGradient><linearGradient id="g27" x1="0" y1="0" x2="0" y2="1"><stop offset="0.000" stop-color="#832cf0"/><stop offset="0.101" stop-color="#7b28f0"/><stop offset="0.134" stop-color="#6220f1"/><stop offset="0.160" stop-color="#511af3"/><stop offset="0.189" stop-color="#6721f1"/><stop offset="0.238" stop-color="#802af0"/><stop offset="0.261" stop-color="#7e29f0"/><stop offset="0.274" stop-color="#6320f1"/><stop offset="0.280" stop-color="#4517f4"/><stop offset="0.283" stop-color="#3211f7"/><stop offset="0.300" stop-color="#0202fd"/><stop offset="0.303" stop-color="#0b0df3"/><stop offset="0.313" stop-color="#2857e6"/><stop offset="0.352" stop-color="#1f7fef"/><stop offset="0.381" stop-color="#0b98ff"/><stop offset="0.397" stop-color="#00acff"/><stop offset="0.410" stop-color="#01bcff"/><stop offset="0.469" stop-color="#88cdf0"/><stop offset="0.505" stop-color="#c2e0f3"/><stop offset="0.508" stop-color="#fffcc7"/><stop offset="0.560" stop-color="#ffe75b"/><stop offset="0.609" stop-color="#ffd526"/><stop offset="0.664" stop-color="#ffc612"/><stop offset="0.772" stop-color="#ffa900"/><stop offset="0.847" stop-color="#ff9100"/><stop offset="0.945" stop-color="#ff9700"/><stop offset="1.000" stop-color="#ffa100"/></linearGradient><linearGradient id="g28" x1="0" y1="0" x2="0" y2="1"><stop offset="0.000" stop-color="#832cf0"/><stop offset="0.101" stop-color="#7b28f0"/><stop offset="0.134" stop-color="#6320f1"/><stop offset="0.160" stop-color="#521af3"/><stop offset="0.189" stop-color="#6721f1"/><stop offset="0.238" stop-color="#802af0"/><stop offset="0.261" stop-color="#812af0"/><stop offset="0.274" stop-color="#6621f1"/><stop offset="0.280" stop-color="#4717f4"/><stop offset="0.283" stop-color="#3211f7"/><stop offset="0.300" stop-color="#0202fd"/><stop offset="0.303" stop-color="#0b0df3"/><stop offset="0.313" stop-color="#2857e6"/><stop offset="0.352" stop-color="#1f7fef"/><stop offset="0.381" stop-color="#0b98ff"/><stop offset="0.401" stop-color="#00b0ff"/><stop offset="0.410" stop-color="#01bcff"/><stop offset="0.466" stop-color="#82cbf0"/><stop offset="0.508" stop-color="#c6e1f4"/><stop offset="0.511" stop-color="#fffbc2"/><stop offset="0.564" stop-color="#ffe658"/><stop offset="0.609" stop-color="#ffd527"/><stop offset="0.661" stop-color="#ffc612"/><stop offset="0.765" stop-color="#ffab00"/><stop offset="0.847" stop-color="#ff9000"/><stop offset="0.935" stop-color="#ff9300"/><stop offset="1.000" stop-color="#ffa100"/></linearGradient><linearGradient id="g29" x1="0" y1="0" x2="0" y2="1"><stop offset="0.000" stop-color="#832cf0"/><stop offset="0.101" stop-color="#7b28f0"/><stop offset="0.134" stop-color="#6320f1"/><stop offset="0.160" stop-color="#521bf3"/><stop offset="0.189" stop-color="#6821f1"/><stop offset="0.238" stop-color="#802af0"/><stop offset="0.264" stop-color="#7d29f0"/><stop offset="0.277" stop-color="#5e1ef2"/><stop offset="0.283" stop-color="#3211f7"/><stop offset="0.300" stop-color="#0202fd"/><stop offset="0.303" stop-color="#0b0df3"/><stop offset="0.313" stop-color="#2857e6"/><stop offset="0.355" stop-color="#1d81f1"/><stop offset="0.384" stop-color="#089cff"/><stop offset="0.407" stop-color="#00b8ff"/><stop offset="0.414" stop-color="#08bcfe"/><stop offset="0.469" stop-color="#87ccf0"/><stop offset="0.508" stop-color="#c5e1f4"/><stop offset="0.511" stop-color="#fffbc3"/><stop offset="0.564" stop-color="#ffe658"/><stop offset="0.609" stop-color="#ffd527"/><stop offset="0.661" stop-color="#ffc713"/><stop offset="0.762" stop-color="#ffad00"/><stop offset="0.847" stop-color="#ff8e00"/><stop offset="0.922" stop-color="#ff8e00"/><stop offset="1.000" stop-color="#ffa000"/></linearGradient><linearGradient id="g30" x1="0" y1="0" x2="0" y2="1"><stop offset="0.000" stop-color="#832cf0"/><stop offset="0.101" stop-color="#7b28f0"/><stop offset="0.134" stop-color="#6320f1"/><stop offset="0.160" stop-color="#521bf3"/><stop offset="0.189" stop-color="#6821f1"/><stop offset="0.238" stop-color="#802af0"/><stop offset="0.264" stop-color="#802af0"/><stop offset="0.277" stop-color="#601ff1"/><stop offset="0.283" stop-color="#3211f7"/><stop offset="0.300" stop-color="#0202fd"/><stop offset="0.303" stop-color="#0b0df3"/><stop offset="0.313" stop-color="#2857e6"/><stop offset="0.355" stop-color="#1d81f1"/><stop offset="0.384" stop-color="#089bff"/><stop offset="0.407" stop-color="#00b8ff"/><stop offset="0.417" stop-color="#0fbcfd"/><stop offset="0.472" stop-color="#8bcef0"/><stop offset="0.508" stop-color="#c4e1f4"/><stop offset="0.511" stop-color="#fffbc4"/><stop offset="0.564" stop-color="#ffe659"/><stop offset="0.609" stop-color="#ffd627"/><stop offset="0.658" stop-color="#ffc713"/><stop offset="0.762" stop-color="#ffad00"/><stop offset="0.847" stop-color="#ff8e00"/><stop offset="0.919" stop-color="#ff8e00"/><stop offset="1.000" stop-color="#ffa200"/></linearGradient><linearGradient id="g31" x1="0" y1="0" x2="0" y2="1"><stop offset="0.000" stop-color="#832cf0"/><stop offset="0.101" stop-color="#7b28f0"/><stop offset="0.134" stop-color="#6320f1"/><stop offset="0.160" stop-color="#521bf3"/><stop offset="0.189" stop-color="#6821f1"/><stop offset="0.238" stop-color="#812af0"/><stop offset="0.264" stop-color="#812bf0"/><stop offset="0.277" stop-color="#621ff1"/><stop offset="0.280" stop-color="#501af3"/><stop offset="0.283" stop-color="#3211f7"/><stop offset="0.300" stop-color="#0202fd"/><stop offset="0.303" stop-color="#0b0df3"/><stop offset="0.313" stop-color="#2857e6"/><stop offset="0.355" stop-color="#1d81f1"/><stop offset="0.384" stop-color="#099bff"/><stop offset="0.407" stop-color="#00b7ff"/><stop offset="0.417" stop-color="#0ebcfd"/><stop offset="0.472" stop-color="#8bcef0"/><stop offset="0.508" stop-color="#c3e0f4"/><stop offset="0.511" stop-color="#fffbc5"/><stop offset="0.564" stop-color="#ffe659"/><stop offset="0.609" stop-color="#ffd627"/><stop offset="0.661" stop-color="#ffc713"/><stop offset="0.762" stop-color="#ffad00"/><stop offset="0.847" stop-color="#ff8e00"/><stop offset="0.922" stop-color="#ff9000"/><stop offset="1.000" stop-color="#ffa300"/></linearGradient><linearGradient id="g32" x1="0" y1="0" x2="0" y2="1"><stop offset="0.000" stop-color="#832cf0"/><stop offset="0.101" stop-color="#7b28f0"/><stop offset="0.134" stop-color="#6320f1"/><stop offset="0.160" stop-color="#521bf3"/><stop offset="0.189" stop-color="#6821f1"/><stop offset="0.238" stop-color="#812af0"/><stop offset="0.264" stop-color="#822bf0"/><stop offset="0.277" stop-color="#6320f1"/><stop offset="0.280" stop-color="#511af3"/><stop offset="0.283" stop-color="#3211f7"/><stop offset="0.300" stop-color="#0202fd"/><stop offset="0.303" stop-color="#0b0df3"/><stop offset="0.313" stop-color="#2857e6"/><stop offset="0.355" stop-color="#1d81f1"/><stop offset="0.384" stop-color="#099bff"/><stop offset="0.407" stop-color="#00b7ff"/><stop offset="0.417" stop-color="#0dbcfd"/><stop offset="0.472" stop-color="#8acdf0"/><stop offset="0.508" stop-color="#c3e0f4"/><stop offset="0.511" stop-color="#fffcc6"/><stop offset="0.564" stop-color="#ffe75a"/><stop offset="0.609" stop-color="#ffd628"/><stop offset="0.661" stop-color="#ffc713"/><stop offset="0.762" stop-color="#ffad00"/><stop offset="0.844" stop-color="#ff8f00"/><stop offset="0.928" stop-color="#ff9400"/><stop offset="1.000" stop-color="#ffa500"/></linearGradient><linearGradient id="g33" x1="0" y1="0" x2="0" y2="1"><stop offset="0.000" stop-color="#832cf0"/><stop offset="0.101" stop-color="#7b28f0"/><stop offset="0.137" stop-color="#601ff1"/><stop offset="0.163" stop-color="#531bf3"/><stop offset="0.218" stop-color="#7b28f0"/><stop offset="0.264" stop-color="#822bf0"/><stop offset="0.277" stop-color="#6220f1"/><stop offset="0.280" stop-color="#511af3"/><stop offset="0.283" stop-color="#3211f7"/><stop offset="0.300" stop-color="#0202fd"/><stop offset="0.303" stop-color="#0b0df3"/><stop offset="0.313" stop-color="#2857e6"/><stop offset="0.355" stop-color="#1d81f1"/><stop offset="0.384" stop-color="#099bff"/><stop offset="0.404" stop-color="#00b3ff"/><stop offset="0.414" stop-color="#05bcfe"/><stop offset="0.472" stop-color="#89cdf0"/><stop offset="0.508" stop-color="#c2e0f3"/><stop offset="0.511" stop-color="#fffcc8"/><stop offset="0.564" stop-color="#ffe75b"/><stop offset="0.609" stop-color="#ffd628"/><stop offset="0.661" stop-color="#ffc713"/><stop offset="0.762" stop-color="#ffad00"/><stop offset="0.844" stop-color="#ff8f00"/><stop offset="0.932" stop-color="#ff9700"/><stop offset="1.000" stop-color="#ffa600"/></linearGradient><linearGradient id="g34" x1="0" y1="0" x2="0" y2="1"><stop offset="0.000" stop-color="#832cf0"/><stop offset="0.101" stop-color="#7b28f0"/><stop offset="0.137" stop-color="#601ff1"/><stop offset="0.163" stop-color="#531bf3"/><stop offset="0.218" stop-color="#7b28f0"/><stop offset="0.264" stop-color="#812af0"/><stop offset="0.277" stop-color="#611ff1"/><stop offset="0.280" stop-color="#4f1af3"/><stop offset="0.283" stop-color="#3211f7"/><stop offset="0.300" stop-color="#0202fd"/><stop offset="0.303" stop-color="#0b0df3"/><stop offset="0.313" stop-color="#2857e6"/><stop offset="0.355" stop-color="#1d81f1"/><stop offset="0.384" stop-color="#099aff"/><stop offset="0.404" stop-color="#00b2ff"/><stop offset="0.414" stop-color="#04bcff"/><stop offset="0.472" stop-color="#88cdf0"/><stop offset="0.511" stop-color="#c6e1f4"/><stop offset="0.515" stop-color="#fffbc2"/><stop offset="0.564" stop-color="#ffe75b"/><stop offset="0.609" stop-color="#ffd728"/><stop offset="0.661" stop-color="#ffc713"/><stop offset="0.762" stop-color="#ffad00"/><stop offset="0.840" stop-color="#ff9000"/><stop offset="0.945" stop-color="#ff9c00"/><stop offset="1.000" stop-color="#ffa800"/></linearGradient><linearGradient id="g35" x1="0" y1="0" x2="0" y2="1"><stop offset="0.000" stop-color="#832cf0"/><stop offset="0.101" stop-color="#7b28f0"/><stop offset="0.137" stop-color="#601ff1"/><stop offset="0.163" stop-color="#541bf3"/><stop offset="0.218" stop-color="#7b28f0"/><stop offset="0.264" stop-color="#7f2af0"/><stop offset="0.277" stop-color="#5f1ff1"/><stop offset="0.283" stop-color="#3211f7"/><stop offset="0.300" stop-color="#0202fd"/><stop offset="0.303" stop-color="#0b0df3"/><stop offset="0.313" stop-color="#2857e6"/><stop offset="0.355" stop-color="#1e81f1"/><stop offset="0.384" stop-color="#099aff"/><stop offset="0.404" stop-color="#00b2ff"/><stop offset="0.414" stop-color="#03bcff"/><stop offset="0.472" stop-color="#87cdf0"/><stop offset="0.511" stop-color="#c5e1f4"/><stop offset="0.515" stop-color="#fffbc4"/><stop offset="0.567" stop-color="#ffe658"/><stop offset="0.612" stop-color="#ffd526"/><stop offset="0.664" stop-color="#ffc612"/><stop offset="0.762" stop-color="#ffad00"/><stop offset="0.840" stop-color="#ff9100"/><stop offset="0.987" stop-color="#ffa700"/><stop offset="1.000" stop-color="#ffa900"/></linearGradient><linearGradient id="g36" x1="0" y1="0" x2="0" y2="1"><stop offset="0.000" stop-color="#832cf0"/><stop offset="0.101" stop-color="#7b28f0"/><stop offset="0.137" stop-color="#611ff1"/><stop offset="0.163" stop-color="#541bf3"/><stop offset="0.221" stop-color="#7c29f0"/><stop offset="0.261" stop-color="#832bf0"/><stop offset="0.274" stop-color="#6921f1"/><stop offset="0.280" stop-color="#4918f4"/><stop offset="0.283" stop-color="#3211f7"/><stop offset="0.300" stop-color="#0202fd"/><stop offset="0.303" stop-color="#0b0df3"/><stop offset="0.313" stop-color="#2857e6"/><stop offset="0.355" stop-color="#1e81f1"/><stop offset="0.384" stop-color="#0a9aff"/><stop offset="0.404" stop-color="#00b2ff"/><stop offset="0.414" stop-color="#03bcff"/><stop offset="0.472" stop-color="#87ccf0"/><stop offset="0.511" stop-color="#c4e1f4"/><stop offset="0.515" stop-color="#fffbc5"/><stop offset="0.567" stop-color="#ffe659"/><stop offset="0.612" stop-color="#ffd527"/><stop offset="0.664" stop-color="#ffc612"/><stop offset="0.762" stop-color="#ffad00"/><stop offset="0.840" stop-color="#ff9200"/><stop offset="1.000" stop-color="#ffab00"/></linearGradient><linearGradient id="g37" x1="0" y1="0" x2="0" y2="1"><stop offset="0.000" stop-color="#832cf0"/><stop offset="0.101" stop-color="#7b28f0"/><stop offset="0.137" stop-color="#611ff1"/><stop offset="0.163" stop-color="#551bf3"/><stop offset="0.221" stop-color="#7c29f0"/><stop offset="0.261" stop-color="#802af0"/><stop offset="0.274" stop-color="#6520f1"/><stop offset="0.280" stop-color="#4617f4"/><stop offset="0.283" stop-color="#3211f7"/><stop offset="0.300" stop-color="#0202fd"/><stop offset="0.303" stop-color="#0b0df3"/><stop offset="0.313" stop-color="#2857e6"/><stop offset="0.355" stop-color="#1e80f1"/><stop offset="0.384" stop-color="#0a9aff"/><stop offset="0.404" stop-color="#00b1ff"/><stop offset="0.414" stop-color="#02bcff"/><stop offset="0.472" stop-color="#86ccf0"/><stop offset="0.511" stop-color="#c3e0f4"/><stop offset="0.515" stop-color="#fffcc6"/><stop offset="0.567" stop-color="#ffe659"/><stop offset="0.612" stop-color="#ffd627"/><stop offset="0.661" stop-color="#ffc713"/><stop offset="0.762" stop-color="#ffae00"/><stop offset="0.840" stop-color="#ff9200"/><stop offset="1.000" stop-color="#ffac00"/></linearGradient><linearGradient id="g38" x1="0" y1="0" x2="0" y2="1"><stop offset="0.000" stop-color="#832cf0"/><stop offset="0.101" stop-color="#7b28f0"/><stop offset="0.140" stop-color="#5e1ef2"/><stop offset="0.166" stop-color="#561cf2"/><stop offset="0.218" stop-color="#7b28f0"/><stop offset="0.257" stop-color="#822bf0"/><stop offset="0.274" stop-color="#621ff1"/><stop offset="0.283" stop-color="#3211f7"/><stop offset="0.300" stop-color="#0202fd"/><stop offset="0.303" stop-color="#0b0df3"/><stop offset="0.313" stop-color="#2857e6"/><stop offset="0.355" stop-color="#1e80f0"/><stop offset="0.384" stop-color="#0a99ff"/><stop offset="0.401" stop-color="#00adff"/><stop offset="0.414" stop-color="#01bcff"/><stop offset="0.472" stop-color="#85ccf0"/><stop offset="0.511" stop-color="#c2e0f3"/><stop offset="0.515" stop-color="#fffcc7"/><stop offset="0.567" stop-color="#ffe75a"/><stop offset="0.612" stop-color="#ffd627"/><stop offset="0.661" stop-color="#ffc713"/><stop offset="0.762" stop-color="#ffae00"/><stop offset="0.840" stop-color="#ff9200"/><stop offset="1.000" stop-color="#ffae00"/></linearGradient><linearGradient id="g39" x1="0" y1="0" x2="0" y2="1"><stop offset="0.000" stop-color="#832cf0"/><stop offset="0.101" stop-color="#7b28f0"/><stop offset="0.140" stop-color="#5e1ef2"/><stop offset="0.166" stop-color="#561cf2"/><stop offset="0.218" stop-color="#7b28f0"/><stop offset="0.257" stop-color="#7f2af0"/><stop offset="0.274" stop-color="#5e1ef2"/><stop offset="0.287" stop-color="#290ef8"/><stop offset="0.300" stop-color="#0202fd"/><stop offset="0.303" stop-color="#0b0df3"/><stop offset="0.313" stop-color="#2857e6"/><stop offset="0.355" stop-color="#1e80f0"/><stop offset="0.384" stop-color="#0a99ff"/><stop offset="0.401" stop-color="#00adff"/><stop offset="0.414" stop-color="#01bcff"/><stop offset="0.472" stop-color="#84ccf0"/><stop offset="0.515" stop-color="#c6e1f4"/><stop offset="0.518" stop-color="#fffbc2"/><stop offset="0.567" stop-color="#ffe75b"/><stop offset="0.612" stop-color="#ffd628"/><stop offset="0.664" stop-color="#ffc713"/><stop offset="0.762" stop-color="#ffae00"/><stop offset="0.840" stop-color="#ff9300"/><stop offset="1.000" stop-color="#ffaf00"/></linearGradient><linearGradient id="g40" x1="0" y1="0" x2="0" y2="1"><stop offset="0.000" stop-color="#832cf0"/><stop offset="0.101" stop-color="#7b28f0"/><stop offset="0.160" stop-color="#551cf2"/><stop offset="0.225" stop-color="#7d29f0"/><stop offset="0.254" stop-color="#802af0"/><stop offset="0.270" stop-color="#6420f1"/><stop offset="0.287" stop-color="#290ef8"/><stop offset="0.300" stop-color="#0202fd"/><stop offset="0.303" stop-color="#0b0df3"/><stop offset="0.313" stop-color="#2857e6"/><stop offset="0.355" stop-color="#1e80f0"/><stop offset="0.384" stop-color="#0b99ff"/><stop offset="0.404" stop-color="#00b0ff"/><stop offset="0.414" stop-color="#00bcff"/><stop offset="0.472" stop-color="#83cbf0"/><stop offset="0.515" stop-color="#c5e1f4"/><stop offset="0.518" stop-color="#fffbc3"/><stop offset="0.567" stop-color="#ffe75b"/><stop offset="0.612" stop-color="#ffd628"/><stop offset="0.664" stop-color="#ffc713"/><stop offset="0.762" stop-color="#ffae00"/><stop offset="0.837" stop-color="#ff9200"/><stop offset="1.000" stop-color="#ffb100"/></linearGradient><linearGradient id="g41" x1="0" y1="0" x2="0" y2="1"><stop offset="0.000" stop-color="#832cf0"/><stop offset="0.101" stop-color="#7b28f0"/><stop offset="0.160" stop-color="#561cf2"/><stop offset="0.225" stop-color="#7c29f0"/><stop offset="0.254" stop-color="#7d29f0"/><stop offset="0.270" stop-color="#601ff1"/><stop offset="0.290" stop-color="#210bfa"/><stop offset="0.300" stop-color="#0202fd"/><stop offset="0.303" stop-color="#0b0df3"/><stop offset="0.313" stop-color="#2857e6"/><stop offset="0.355" stop-color="#1e80f0"/><stop offset="0.384" stop-color="#0b99ff"/><stop offset="0.404" stop-color="#00b0ff"/><stop offset="0.414" stop-color="#00bcff"/><stop offset="0.476" stop-color="#88cdf0"/><stop offset="0.515" stop-color="#c5e1f4"/><stop offset="0.518" stop-color="#fffbc4"/><stop offset="0.570" stop-color="#ffe658"/><stop offset="0.616" stop-color="#ffd526"/><stop offset="0.668" stop-color="#ffc612"/><stop offset="0.762" stop-color="#ffae00"/><stop offset="0.837" stop-color="#ff9200"/><stop offset="1.000" stop-color="#ffb300"/></linearGradient><linearGradient id="g42" x1="0" y1="0" x2="0" y2="1"><stop offset="0.000" stop-color="#832cf0"/><stop offset="0.101" stop-color="#7b28f0"/><stop offset="0.160" stop-color="#561cf2"/><stop offset="0.225" stop-color="#7b28f0"/><stop offset="0.251" stop-color="#7e29f0"/><stop offset="0.267" stop-color="#6520f1"/><stop offset="0.300" stop-color="#0202fd"/><stop offset="0.303" stop-color="#0b0df3"/><stop offset="0.313" stop-color="#2857e6"/><stop offset="0.355" stop-color="#1e80f0"/><stop offset="0.384" stop-color="#0b99ff"/><stop offset="0.404" stop-color="#00b0ff"/><stop offset="0.417" stop-color="#07bcfe"/><stop offset="0.476" stop-color="#88cdf0"/><stop offset="0.515" stop-color="#c4e1f4"/><stop offset="0.518" stop-color="#fffbc4"/><stop offset="0.570" stop-color="#ffe658"/><stop offset="0.616" stop-color="#ffd526"/><stop offset="0.668" stop-color="#ffc612"/><stop offset="0.762" stop-color="#ffae00"/><stop offset="0.837" stop-color="#ff9200"/><stop offset="1.000" stop-color="#ffb400"/></linearGradient><linearGradient id="g43" x1="0" y1="0" x2="0" y2="1"><stop offset="0.000" stop-color="#832cf0"/><stop offset="0.101" stop-color="#7b28f0"/><stop offset="0.160" stop-color="#571cf2"/><stop offset="0.225" stop-color="#7a28f0"/><stop offset="0.251" stop-color="#7a28f0"/><stop offset="0.270" stop-color="#5a1df2"/><stop offset="0.300" stop-color="#0202fd"/><stop offset="0.303" stop-color="#0b0df3"/><stop offset="0.313" stop-color="#2857e6"/><stop offset="0.355" stop-color="#1e80f0"/><stop offset="0.384" stop-color="#0b98ff"/><stop offset="0.404" stop-color="#00b0ff"/><stop offset="0.417" stop-color="#06bcfe"/><stop offset="0.476" stop-color="#87cdf0"/><stop offset="0.515" stop-color="#c4e1f4"/><stop offset="0.518" stop-color="#fffbc5"/><stop offset="0.570" stop-color="#ffe658"/><stop offset="0.616" stop-color="#ffd526"/><stop offset="0.668" stop-color="#ffc612"/><stop offset="0.762" stop-color="#ffae00"/><stop offset="0.837" stop-color="#ff9200"/><stop offset="1.000" stop-color="#ffb602"/></linearGradient><linearGradient id="g44" x1="0" y1="0" x2="0" y2="1"><stop offset="0.000" stop-color="#832cf0"/><stop offset="0.101" stop-color="#7b28f0"/><stop offset="0.160" stop-color="#571cf2"/><stop offset="0.225" stop-color="#7927f0"/><stop offset="0.248" stop-color="#7a28f0"/><stop offset="0.267" stop-color="#5f1ef2"/><stop offset="0.300" stop-color="#0202fd"/><stop offset="0.303" stop-color="#0b0df3"/><stop offset="0.313" stop-color="#2857e6"/><stop offset="0.355" stop-color="#1e80f0"/><stop offset="0.384" stop-color="#0b98ff"/><stop offset="0.404" stop-color="#00b0ff"/><stop offset="0.417" stop-color="#06bcfe"/><stop offset="0.476" stop-color="#87cdf0"/><stop offset="0.515" stop-color="#c3e0f4"/><stop offset="0.518" stop-color="#fffcc6"/><stop offset="0.570" stop-color="#ffe659"/><stop offset="0.616" stop-color="#ffd527"/><stop offset="0.668" stop-color="#ffc612"/><stop offset="0.762" stop-color="#ffae00"/><stop offset="0.837" stop-color="#ff9200"/><stop offset="1.000" stop-color="#ffb703"/></linearGradient><linearGradient id="g45" x1="0" y1="0" x2="0" y2="1"><stop offset="0.000" stop-color="#832cf0"/><stop offset="0.101" stop-color="#7c28f0"/><stop offset="0.160" stop-color="#581cf2"/><stop offset="0.221" stop-color="#7726f0"/><stop offset="0.248" stop-color="#7727f0"/><stop offset="0.267" stop-color="#5c1ef2"/><stop offset="0.300" stop-color="#0202fd"/><stop offset="0.303" stop-color="#0b0df3"/><stop offset="0.313" stop-color="#2857e6"/><stop offset="0.355" stop-color="#1e80f0"/><stop offset="0.384" stop-color="#0b98ff"/><stop offset="0.404" stop-color="#00afff"/><stop offset="0.417" stop-color="#06bcfe"/><stop offset="0.476" stop-color="#87ccf0"/><stop offset="0.515" stop-color="#c3e0f4"/><stop offset="0.518" stop-color="#fffcc6"/><stop offset="0.570" stop-color="#ffe659"/><stop offset="0.616" stop-color="#ffd527"/><stop offset="0.668" stop-color="#ffc612"/><stop offset="0.762" stop-color="#ffae00"/><stop offset="0.837" stop-color="#ff9200"/><stop offset="1.000" stop-color="#ffb905"/></linearGradient><linearGradient id="g46" x1="0" y1="0" x2="0" y2="1"><stop offset="0.000" stop-color="#832cf0"/><stop offset="0.104" stop-color="#7b28f0"/><stop offset="0.163" stop-color="#5b1df2"/><stop offset="0.221" stop-color="#7526f0"/><stop offset="0.244" stop-color="#7727f0"/><stop offset="0.267" stop-color="#5a1df2"/><stop offset="0.300" stop-color="#0202fd"/><stop offset="0.303" stop-color="#0b0df3"/><stop offset="0.313" stop-color="#2857e6"/><stop offset="0.355" stop-color="#1e80f0"/><stop offset="0.384" stop-color="#0b98ff"/><stop offset="0.404" stop-color="#00afff"/><stop offset="0.417" stop-color="#05bcfe"/><stop offset="0.476" stop-color="#86ccf0"/><stop offset="0.515" stop-color="#c3e0f4"/><stop offset="0.518" stop-color="#fffcc7"/><stop offset="0.570" stop-color="#ffe659"/><stop offset="0.616" stop-color="#ffd627"/><stop offset="0.664" stop-color="#ffc713"/><stop offset="0.762" stop-color="#ffae00"/><stop offset="0.837" stop-color="#ff9200"/><stop offset="0.997" stop-color="#ffba06"/><stop offset="1.000" stop-color="#ffba06"/></linearGradient><linearGradient id="g47" x1="0" y1="0" x2="0" y2="1"><stop offset="0.000" stop-color="#832cf0"/><stop offset="0.107" stop-color="#7a28f0"/><stop offset="0.163" stop-color="#621ff1"/><stop offset="0.238" stop-color="#7827f0"/><stop offset="0.264" stop-color="#5e1ef2"/><stop offset="0.293" stop-color="#1808fb"/><stop offset="0.300" stop-color="#0202fd"/><stop offset="0.303" stop-color="#0b0df3"/><stop offset="0.313" stop-color="#2857e6"/><stop offset="0.355" stop-color="#1e80f0"/><stop offset="0.384" stop-color="#0b98ff"/><stop offset="0.404" stop-color="#00afff"/><stop offset="0.417" stop-color="#05bcfe"/><stop offset="0.476" stop-color="#86ccf0"/><stop offset="0.515" stop-color="#c2e0f3"/><stop offset="0.518" stop-color="#fffcc7"/><stop offset="0.570" stop-color="#ffe75a"/><stop offset="0.616" stop-color="#ffd627"/><stop offset="0.664" stop-color="#ffc713"/><stop offset="0.762" stop-color="#ffae00"/><stop offset="0.837" stop-color="#ff9200"/><stop offset="0.990" stop-color="#ffba06"/><stop offset="1.000" stop-color="#ffbc08"/></linearGradient><linearGradient id="g48" x1="0" y1="0" x2="0" y2="1"><stop offset="0.000" stop-color="#832cf0"/><stop offset="0.111" stop-color="#7a28f0"/><stop offset="0.166" stop-color="#6922f0"/><stop offset="0.244" stop-color="#7124f0"/><stop offset="0.270" stop-color="#501af3"/><stop offset="0.300" stop-color="#0202fd"/><stop offset="0.303" stop-color="#0b0df3"/><stop offset="0.313" stop-color="#2857e6"/><stop offset="0.355" stop-color="#1e80f0"/><stop offset="0.384" stop-color="#0b98ff"/><stop offset="0.404" stop-color="#00afff"/><stop offset="0.417" stop-color="#05bcfe"/><stop offset="0.479" stop-color="#8bcef0"/><stop offset="0.515" stop-color="#c2e0f3"/><stop offset="0.518" stop-color="#fffcc8"/><stop offset="0.570" stop-color="#ffe75a"/><stop offset="0.616" stop-color="#ffd627"/><stop offset="0.664" stop-color="#ffc713"/><stop offset="0.762" stop-color="#ffae00"/><stop offset="0.837" stop-color="#ff9200"/><stop offset="0.984" stop-color="#ffba06"/><stop offset="1.000" stop-color="#ffbd09"/></linearGradient><linearGradient id="g49" x1="0" y1="0" x2="0" y2="1"><stop offset="0.000" stop-color="#832cf0"/><stop offset="0.114" stop-color="#7b28f0"/><stop offset="0.176" stop-color="#7024f0"/><stop offset="0.244" stop-color="#6f23f0"/><stop offset="0.270" stop-color="#4f1af3"/><stop offset="0.296" stop-color="#0d04fd"/><stop offset="0.300" stop-color="#0202fd"/><stop offset="0.303" stop-color="#0b0df3"/><stop offset="0.313" stop-color="#2857e6"/><stop offset="0.355" stop-color="#1e80f0"/><stop offset="0.384" stop-color="#0c98ff"/><stop offset="0.404" stop-color="#00afff"/><stop offset="0.417" stop-color="#04bcff"/><stop offset="0.476" stop-color="#85ccf0"/><stop offset="0.518" stop-color="#c6e1f4"/><stop offset="0.521" stop-color="#fffbc2"/><stop offset="0.570" stop-color="#ffe75a"/><stop offset="0.616" stop-color="#ffd627"/><stop offset="0.664" stop-color="#ffc713"/><stop offset="0.762" stop-color="#ffae00"/><stop offset="0.837" stop-color="#ff9200"/><stop offset="0.977" stop-color="#ffba06"/><stop offset="1.000" stop-color="#ffbf0b"/></linearGradient><linearGradient id="g50" x1="0" y1="0" x2="0" y2="1"><stop offset="0.000" stop-color="#832cf0"/><stop offset="0.121" stop-color="#7a28f0"/><stop offset="0.228" stop-color="#7024f0"/><stop offset="0.251" stop-color="#6621f1"/><stop offset="0.270" stop-color="#4e1af3"/><stop offset="0.296" stop-color="#0d04fd"/><stop offset="0.300" stop-color="#0202fd"/><stop offset="0.303" stop-color="#0b0df3"/><stop offset="0.313" stop-color="#2857e6"/><stop offset="0.355" stop-color="#1e80f0"/><stop offset="0.384" stop-color="#0c98ff"/><stop offset="0.404" stop-color="#00afff"/><stop offset="0.417" stop-color="#04bcff"/><stop offset="0.476" stop-color="#85ccf0"/><stop offset="0.518" stop-color="#c5e1f4"/><stop offset="0.521" stop-color="#fffbc3"/><stop offset="0.570" stop-color="#ffe75b"/><stop offset="0.616" stop-color="#ffd627"/><stop offset="0.664" stop-color="#ffc713"/><stop offset="0.762" stop-color="#ffae00"/><stop offset="0.837" stop-color="#ff9200"/><stop offset="0.971" stop-color="#ffba06"/><stop offset="1.000" stop-color="#ffc00c"/></linearGradient><linearGradient id="g51" x1="0" y1="0" x2="0" y2="1"><stop offset="0.000" stop-color="#832cf0"/><stop offset="0.127" stop-color="#7a28f0"/><stop offset="0.244" stop-color="#6a22f0"/><stop offset="0.270" stop-color="#4e19f3"/><stop offset="0.296" stop-color="#0d04fd"/><stop offset="0.300" stop-color="#0202fd"/><stop offset="0.303" stop-color="#0b0df3"/><stop offset="0.313" stop-color="#2857e6"/><stop offset="0.355" stop-color="#1e80f0"/><stop offset="0.388" stop-color="#089bff"/><stop offset="0.410" stop-color="#00b6ff"/><stop offset="0.420" stop-color="#0bbcfe"/><stop offset="0.479" stop-color="#8acdf0"/><stop offset="0.518" stop-color="#c5e1f4"/><stop offset="0.521" stop-color="#fffbc3"/><stop offset="0.570" stop-color="#ffe75b"/><stop offset="0.616" stop-color="#ffd628"/><stop offset="0.664" stop-color="#ffc713"/><stop offset="0.762" stop-color="#ffae00"/><stop offset="0.837" stop-color="#ff9200"/><stop offset="0.964" stop-color="#ffba06"/><stop offset="1.000" stop-color="#ffc20e"/></linearGradient><linearGradient id="g52" x1="0" y1="0" x2="0" y2="1"><stop offset="0.000" stop-color="#832cf0"/><stop offset="0.195" stop-color="#7526f0"/><stop offset="0.244" stop-color="#6721f1"/><stop offset="0.267" stop-color="#541bf3"/><stop offset="0.293" stop-color="#1808fb"/><stop offset="0.300" stop-color="#0202fd"/><stop offset="0.303" stop-color="#0b0df3"/><stop offset="0.313" stop-color="#2857e6"/><stop offset="0.355" stop-color="#1e80f0"/><stop offset="0.388" stop-color="#099bff"/><stop offset="0.410" stop-color="#00b6ff"/><stop offset="0.420" stop-color="#0abcfe"/><stop offset="0.479" stop-color="#89cdf0"/><stop offset="0.518" stop-color="#c5e1f4"/><stop offset="0.521" stop-color="#fffbc4"/><stop offset="0.570" stop-color="#ffe75b"/><stop offset="0.616" stop-color="#ffd628"/><stop offset="0.664" stop-color="#ffc713"/><stop offset="0.762" stop-color="#ffae00"/><stop offset="0.837" stop-color="#ff9200"/><stop offset="0.958" stop-color="#ffba06"/><stop offset="1.000" stop-color="#ffc410"/></linearGradient><linearGradient id="g53" x1="0" y1="0" x2="0" y2="1"><stop offset="0.000" stop-color="#832cf0"/><stop offset="0.195" stop-color="#7727f0"/><stop offset="0.251" stop-color="#621ff1"/><stop offset="0.267" stop-color="#531bf3"/><stop offset="0.293" stop-color="#1808fb"/><stop offset="0.300" stop-color="#0202fd"/><stop offset="0.303" stop-color="#0b0df3"/><stop offset="0.313" stop-color="#2857e6"/><stop offset="0.355" stop-color="#1e80f0"/><stop offset="0.388" stop-color="#099bff"/><stop offset="0.410" stop-color="#00b6ff"/><stop offset="0.420" stop-color="#0abcfe"/><stop offset="0.479" stop-color="#89cdf0"/><stop offset="0.518" stop-color="#c4e1f4"/><stop offset="0.521" stop-color="#fffbc4"/><stop offset="0.573" stop-color="#ffe658"/><stop offset="0.616" stop-color="#ffd628"/><stop offset="0.668" stop-color="#ffc612"/><stop offset="0.765" stop-color="#ffad00"/><stop offset="0.837" stop-color="#ff9300"/><stop offset="0.961" stop-color="#ffbb07"/><stop offset="1.000" stop-color="#ffc30f"/></linearGradient><linearGradient id="g54" x1="0" y1="0" x2="0" y2="1"><stop offset="0.000" stop-color="#832cf0"/><stop offset="0.195" stop-color="#7927f0"/><stop offset="0.254" stop-color="#5f1ff1"/><stop offset="0.270" stop-color="#4c19f3"/><stop offset="0.293" stop-color="#1808fb"/><stop offset="0.300" stop-color="#0202fd"/><stop offset="0.303" stop-color="#0b0df3"/><stop offset="0.313" stop-color="#2857e6"/><stop offset="0.355" stop-color="#1e7ff0"/><stop offset="0.388" stop-color="#099bff"/><stop offset="0.407" stop-color="#00b2ff"/><stop offset="0.420" stop-color="#0abcfe"/><stop offset="0.479" stop-color="#89cdf0"/><stop offset="0.518" stop-color="#c4e1f4"/><stop offset="0.521" stop-color="#fffbc5"/><stop offset="0.573" stop-color="#ffe658"/><stop offset="0.616" stop-color="#ffd628"/><stop offset="0.668" stop-color="#ffc612"/><stop offset="0.775" stop-color="#ffa900"/><stop offset="0.837" stop-color="#ff9400"/><stop offset="0.964" stop-color="#ffba06"/><stop offset="1.000" stop-color="#ffc20e"/></linearGradient><linearGradient id="g55" x1="0" y1="0" x2="0" y2="1"><stop offset="0.000" stop-color="#832cf0"/><stop offset="0.192" stop-color="#7c28f0"/><stop offset="0.254" stop-color="#5f1ff1"/><stop offset="0.270" stop-color="#4c19f3"/><stop offset="0.293" stop-color="#1808fb"/><stop offset="0.300" stop-color="#0202fd"/><stop offset="0.303" stop-color="#0b0df3"/><stop offset="0.313" stop-color="#2857e6"/><stop offset="0.355" stop-color="#1e7ff0"/><stop offset="0.388" stop-color="#099bff"/><stop offset="0.407" stop-color="#00b2ff"/><stop offset="0.420" stop-color="#09bcfe"/><stop offset="0.479" stop-color="#88cdf0"/><stop offset="0.518" stop-color="#c3e0f4"/><stop offset="0.521" stop-color="#fffbc5"/><stop offset="0.573" stop-color="#ffe658"/><stop offset="0.616" stop-color="#ffd628"/><stop offset="0.668" stop-color="#ffc612"/><stop offset="0.775" stop-color="#ffa800"/><stop offset="0.837" stop-color="#ff9500"/><stop offset="0.967" stop-color="#ffba06"/><stop offset="1.000" stop-color="#ffc10d"/></linearGradient><linearGradient id="g56" x1="0" y1="0" x2="0" y2="1"><stop offset="0.000" stop-color="#832cf0"/><stop offset="0.192" stop-color="#7d29f0"/><stop offset="0.251" stop-color="#6220f1"/><stop offset="0.270" stop-color="#4c19f3"/><stop offset="0.293" stop-color="#1808fb"/><stop offset="0.300" stop-color="#0202fd"/><stop offset="0.303" stop-color="#0b0df3"/><stop offset="0.313" stop-color="#2857e6"/><stop offset="0.355" stop-color="#1e7ff0"/><stop offset="0.388" stop-color="#099bff"/><stop offset="0.407" stop-color="#00b2ff"/><stop offset="0.420" stop-color="#09bcfe"/><stop offset="0.479" stop-color="#88cdf0"/><stop offset="0.518" stop-color="#c3e0f4"/><stop offset="0.521" stop-color="#fffcc6"/><stop offset="0.573" stop-color="#ffe658"/><stop offset="0.616" stop-color="#ffd628"/><stop offset="0.668" stop-color="#ffc511"/><stop offset="0.772" stop-color="#ffaa00"/><stop offset="0.840" stop-color="#ff9600"/><stop offset="0.971" stop-color="#ffba06"/><stop offset="1.000" stop-color="#ffc00c"/></linearGradient><linearGradient id="g57" x1="0" y1="0" x2="0" y2="1"><stop offset="0.000" stop-color="#832cf0"/><stop offset="0.192" stop-color="#7e29f0"/><stop offset="0.248" stop-color="#6621f1"/><stop offset="0.270" stop-color="#4c19f3"/><stop offset="0.293" stop-color="#1808fb"/><stop offset="0.300" stop-color="#0202fd"/><stop offset="0.303" stop-color="#0b0df3"/><stop offset="0.313" stop-color="#2857e6"/><stop offset="0.355" stop-color="#1e7ff0"/><stop offset="0.388" stop-color="#099bff"/><stop offset="0.407" stop-color="#00b1ff"/><stop offset="0.417" stop-color="#02bcff"/><stop offset="0.476" stop-color="#82cbf0"/><stop offset="0.518" stop-color="#c3e0f4"/><stop offset="0.521" stop-color="#fffcc7"/><stop offset="0.573" stop-color="#ffe659"/><stop offset="0.616" stop-color="#ffd628"/><stop offset="0.668" stop-color="#ffc511"/><stop offset="0.772" stop-color="#ffa900"/><stop offset="0.840" stop-color="#ff9700"/><stop offset="0.977" stop-color="#ffba06"/><stop offset="1.000" stop-color="#ffbf0b"/></linearGradient><linearGradient id="g58" x1="0" y1="0" x2="0" y2="1"><stop offset="0.000" stop-color="#832cf0"/><stop offset="0.192" stop-color="#7e29f0"/><stop offset="0.248" stop-color="#6721f1"/><stop offset="0.270" stop-color="#4b19f3"/><stop offset="0.293" stop-color="#1708fb"/><stop offset="0.300" stop-color="#0203fd"/><stop offset="0.303" stop-color="#0b0ef3"/><stop offset="0.309" stop-color="#2441e7"/><stop offset="0.313" stop-color="#2857e6"/><stop offset="0.355" stop-color="#1e80f0"/><stop offset="0.388" stop-color="#099bff"/><stop offset="0.410" stop-color="#00b6ff"/><stop offset="0.420" stop-color="#0abcfe"/><stop offset="0.479" stop-color="#89cdf0"/><stop offset="0.518" stop-color="#c4e1f4"/><stop offset="0.521" stop-color="#fffbc5"/><stop offset="0.573" stop-color="#ffe658"/><stop offset="0.616" stop-color="#ffd627"/><stop offset="0.671" stop-color="#ffc410"/><stop offset="0.769" stop-color="#ffaa00"/><stop offset="0.840" stop-color="#ff9800"/><stop offset="0.980" stop-color="#ffba06"/><stop offset="1.000" stop-color="#ffbe0a"/></linearGradient><linearGradient id="g59" x1="0" y1="0" x2="0" y2="1"><stop offset="0.000" stop-color="#832cf0"/><stop offset="0.195" stop-color="#7e29f0"/><stop offset="0.248" stop-color="#6922f0"/><stop offset="0.274" stop-color="#4517f4"/><stop offset="0.293" stop-color="#1708fb"/><stop offset="0.300" stop-color="#0203fc"/><stop offset="0.303" stop-color="#0c10f2"/><stop offset="0.309" stop-color="#2544e7"/><stop offset="0.313" stop-color="#2857e6"/><stop offset="0.355" stop-color="#1e80f0"/><stop offset="0.384" stop-color="#0b98ff"/><stop offset="0.404" stop-color="#00afff"/><stop offset="0.417" stop-color="#05bcfe"/><stop offset="0.476" stop-color="#86ccf0"/><stop offset="0.515" stop-color="#c2e0f3"/><stop offset="0.518" stop-color="#fffcc8"/><stop offset="0.570" stop-color="#ffe75a"/><stop offset="0.616" stop-color="#ffd526"/><stop offset="0.671" stop-color="#ffc30f"/><stop offset="0.762" stop-color="#ffac00"/><stop offset="0.840" stop-color="#ff9900"/><stop offset="0.987" stop-color="#ffba06"/><stop offset="1.000" stop-color="#ffbd09"/></linearGradient><linearGradient id="g60" x1="0" y1="0" x2="0" y2="1"><stop offset="0.000" stop-color="#832cf0"/><stop offset="0.199" stop-color="#7e29f0"/><stop offset="0.244" stop-color="#6e23f0"/><stop offset="0.277" stop-color="#3e15f5"/><stop offset="0.293" stop-color="#1607fb"/><stop offset="0.296" stop-color="#0702fe"/><stop offset="0.300" stop-color="#0303fc"/><stop offset="0.306" stop-color="#1c29e9"/><stop offset="0.309" stop-color="#2546e7"/><stop offset="0.313" stop-color="#2858e6"/><stop offset="0.355" stop-color="#1e81f1"/><stop offset="0.384" stop-color="#0a99ff"/><stop offset="0.404" stop-color="#00b0ff"/><stop offset="0.414" stop-color="#00bcff"/><stop offset="0.472" stop-color="#82cbf0"/><stop offset="0.515" stop-color="#c4e1f4"/><stop offset="0.518" stop-color="#fffbc5"/><stop offset="0.570" stop-color="#ffe658"/><stop offset="0.612" stop-color="#ffd627"/><stop offset="0.668" stop-color="#ffc30f"/><stop offset="0.759" stop-color="#ffac00"/><stop offset="0.840" stop-color="#ff9a00"/><stop offset="0.990" stop-color="#ffba06"/><stop offset="1.000" stop-color="#ffbc08"/></linearGradient><linearGradient id="g61" x1="0" y1="0" x2="0" y2="1"><stop offset="0.000" stop-color="#832cf0"/><stop offset="0.202" stop-color="#7e29f0"/><stop offset="0.244" stop-color="#6f23f0"/><stop offset="0.277" stop-color="#3e14f5"/><stop offset="0.293" stop-color="#1507fb"/><stop offset="0.296" stop-color="#0502fe"/><stop offset="0.300" stop-color="#0304fb"/><stop offset="0.306" stop-color="#1d2ce8"/><stop offset="0.309" stop-color="#2649e6"/><stop offset="0.313" stop-color="#2858e6"/><stop offset="0.355" stop-color="#1d81f1"/><stop offset="0.384" stop-color="#0a9aff"/><stop offset="0.404" stop-color="#00b1ff"/><stop offset="0.414" stop-color="#02bcff"/><stop offset="0.472" stop-color="#85ccf0"/><stop offset="0.511" stop-color="#c2e0f3"/><stop offset="0.515" stop-color="#fffcc8"/><stop offset="0.567" stop-color="#ffe75a"/><stop offset="0.612" stop-color="#ffd527"/><stop offset="0.671" stop-color="#ffc20e"/><stop offset="0.756" stop-color="#ffac00"/><stop offset="0.840" stop-color="#ff9b00"/><stop offset="0.997" stop-color="#ffba06"/><stop offset="1.000" stop-color="#ffbb07"/></linearGradient><linearGradient id="g62" x1="0" y1="0" x2="0" y2="1"><stop offset="0.000" stop-color="#832cf0"/><stop offset="0.208" stop-color="#7d29f0"/><stop offset="0.244" stop-color="#7024f0"/><stop offset="0.280" stop-color="#3612f6"/><stop offset="0.293" stop-color="#1407fc"/><stop offset="0.296" stop-color="#0301ff"/><stop offset="0.300" stop-color="#0405fa"/><stop offset="0.306" stop-color="#1e2ee8"/><stop offset="0.309" stop-color="#274ce6"/><stop offset="0.316" stop-color="#285ce6"/><stop offset="0.358" stop-color="#1b84f4"/><stop offset="0.388" stop-color="#059fff"/><stop offset="0.410" stop-color="#00baff"/><stop offset="0.472" stop-color="#87cdf0"/><stop offset="0.511" stop-color="#c4e1f4"/><stop offset="0.515" stop-color="#fffbc5"/><stop offset="0.567" stop-color="#ffe658"/><stop offset="0.609" stop-color="#ffd628"/><stop offset="0.664" stop-color="#ffc30f"/><stop offset="0.749" stop-color="#ffad00"/><stop offset="0.844" stop-color="#ff9d00"/><stop offset="1.000" stop-color="#ffba06"/></linearGradient><linearGradient id="g63" x1="0" y1="0" x2="0" y2="1"><stop offset="0.000" stop-color="#832cf0"/><stop offset="0.228" stop-color="#7d29f0"/><stop offset="0.254" stop-color="#6420f1"/><stop offset="0.287" stop-color="#250cf9"/><stop offset="0.293" stop-color="#1407fc"/><stop offset="0.296" stop-color="#0100ff"/><stop offset="0.300" stop-color="#0507f9"/><stop offset="0.306" stop-color="#1f31e8"/><stop offset="0.309" stop-color="#284ee6"/><stop offset="0.322" stop-color="#2864e6"/><stop offset="0.381" stop-color="#0b98ff"/><stop offset="0.401" stop-color="#00b0ff"/><stop offset="0.414" stop-color="#07bcfe"/><stop offset="0.472" stop-color="#89cdf0"/><stop offset="0.508" stop-color="#c2e0f3"/><stop offset="0.511" stop-color="#fffcc8"/><stop offset="0.564" stop-color="#ffe75b"/><stop offset="0.609" stop-color="#ffd527"/><stop offset="0.668" stop-color="#ffc10d"/><stop offset="0.746" stop-color="#ffad00"/><stop offset="0.844" stop-color="#ff9e00"/><stop offset="1.000" stop-color="#ffb905"/></linearGradient><linearGradient id="g64" x1="0" y1="0" x2="0" y2="1"><stop offset="0.000" stop-color="#832cf0"/><stop offset="0.228" stop-color="#7e2af0"/><stop offset="0.254" stop-color="#6520f1"/><stop offset="0.287" stop-color="#240cf9"/><stop offset="0.293" stop-color="#1306fc"/><stop offset="0.296" stop-color="#0000ff"/><stop offset="0.300" stop-color="#0608f8"/><stop offset="0.306" stop-color="#2033e8"/><stop offset="0.309" stop-color="#2851e6"/><stop offset="0.342" stop-color="#2377eb"/><stop offset="0.381" stop-color="#0b99ff"/><stop offset="0.397" stop-color="#00adff"/><stop offset="0.410" stop-color="#01bcff"/><stop offset="0.469" stop-color="#86ccf0"/><stop offset="0.508" stop-color="#c4e1f4"/><stop offset="0.511" stop-color="#fffbc5"/><stop offset="0.564" stop-color="#ffe659"/><stop offset="0.606" stop-color="#ffd628"/><stop offset="0.664" stop-color="#ffc10d"/><stop offset="0.739" stop-color="#ffad00"/><stop offset="0.844" stop-color="#ff9f00"/><stop offset="1.000" stop-color="#ffb804"/></linearGradient><linearGradient id="g65" x1="0" y1="0" x2="0" y2="1"><stop offset="0.000" stop-color="#832cf0"/><stop offset="0.231" stop-color="#7d29f0"/><stop offset="0.257" stop-color="#5f1ef2"/><stop offset="0.287" stop-color="#230cf9"/><stop offset="0.293" stop-color="#1206fc"/><stop offset="0.296" stop-color="#0101fe"/><stop offset="0.300" stop-color="#0709f7"/><stop offset="0.306" stop-color="#2136e7"/><stop offset="0.309" stop-color="#2853e6"/><stop offset="0.349" stop-color="#1f7def"/><stop offset="0.381" stop-color="#0a9aff"/><stop offset="0.401" stop-color="#00b2ff"/><stop offset="0.410" stop-color="#04bcff"/><stop offset="0.469" stop-color="#89cdf0"/><stop offset="0.505" stop-color="#c2e0f3"/><stop offset="0.508" stop-color="#fffcc8"/><stop offset="0.564" stop-color="#ffe657"/><stop offset="0.606" stop-color="#ffd627"/><stop offset="0.668" stop-color="#ffc00c"/><stop offset="0.739" stop-color="#ffac00"/><stop offset="0.847" stop-color="#ffa000"/><stop offset="1.000" stop-color="#ffb602"/></linearGradient><linearGradient id="g66" x1="0" y1="0" x2="0" y2="1"><stop offset="0.000" stop-color="#832cf0"/><stop offset="0.231" stop-color="#7e29f0"/><stop offset="0.257" stop-color="#5f1ef2"/><stop offset="0.287" stop-color="#220bf9"/><stop offset="0.293" stop-color="#1106fc"/><stop offset="0.296" stop-color="#0101fe"/><stop offset="0.300" stop-color="#080af6"/><stop offset="0.306" stop-color="#2139e7"/><stop offset="0.309" stop-color="#2856e6"/><stop offset="0.352" stop-color="#1e81f1"/><stop offset="0.381" stop-color="#099bff"/><stop offset="0.401" stop-color="#00b3ff"/><stop offset="0.410" stop-color="#06bcfe"/><stop offset="0.466" stop-color="#85ccf0"/><stop offset="0.505" stop-color="#c4e1f4"/><stop offset="0.508" stop-color="#fffbc5"/><stop offset="0.560" stop-color="#ffe659"/><stop offset="0.603" stop-color="#ffd628"/><stop offset="0.664" stop-color="#ffc00c"/><stop offset="0.736" stop-color="#ffac00"/><stop offset="0.850" stop-color="#ffa100"/><stop offset="1.000" stop-color="#ffb501"/></linearGradient><linearGradient id="g67" x1="0" y1="0" x2="0" y2="1"><stop offset="0.000" stop-color="#832cf0"/><stop offset="0.231" stop-color="#7e2af0"/><stop offset="0.257" stop-color="#5e1ef2"/><stop offset="0.287" stop-color="#220bf9"/><stop offset="0.296" stop-color="#0102fe"/><stop offset="0.300" stop-color="#090cf5"/><stop offset="0.309" stop-color="#2856e6"/><stop offset="0.349" stop-color="#1f7eef"/><stop offset="0.378" stop-color="#0c98ff"/><stop offset="0.397" stop-color="#00b0ff"/><stop offset="0.407" stop-color="#00bcff"/><stop offset="0.463" stop-color="#82cbf0"/><stop offset="0.502" stop-color="#c2e0f3"/><stop offset="0.505" stop-color="#fffcc8"/><stop offset="0.560" stop-color="#ffe657"/><stop offset="0.603" stop-color="#ffd627"/><stop offset="0.664" stop-color="#ffbf0b"/><stop offset="0.733" stop-color="#ffac00"/><stop offset="0.857" stop-color="#ffa200"/><stop offset="1.000" stop-color="#ffb400"/></linearGradient><linearGradient id="g68" x1="0" y1="0" x2="0" y2="1"><stop offset="0.000" stop-color="#832cf0"/><stop offset="0.231" stop-color="#7f2af0"/><stop offset="0.254" stop-color="#6420f1"/><stop offset="0.287" stop-color="#210bfa"/><stop offset="0.296" stop-color="#0202fd"/><stop offset="0.300" stop-color="#0a0df4"/><stop offset="0.309" stop-color="#2857e6"/><stop offset="0.349" stop-color="#1f7fef"/><stop offset="0.378" stop-color="#0b98ff"/><stop offset="0.394" stop-color="#00adff"/><stop offset="0.407" stop-color="#02bcff"/><stop offset="0.466" stop-color="#89cdf0"/><stop offset="0.502" stop-color="#c3e0f4"/><stop offset="0.505" stop-color="#fffcc6"/><stop offset="0.560" stop-color="#ffe556"/><stop offset="0.603" stop-color="#ffd526"/><stop offset="0.668" stop-color="#ffbe0a"/><stop offset="0.736" stop-color="#ffaa00"/><stop offset="0.857" stop-color="#ffa000"/><stop offset="1.000" stop-color="#ffb200"/></linearGradient><linearGradient id="g69" x1="0" y1="0" x2="0" y2="1"><stop offset="0.000" stop-color="#832cf0"/><stop offset="0.231" stop-color="#7f2af0"/><stop offset="0.254" stop-color="#6420f1"/><stop offset="0.287" stop-color="#200bfa"/><stop offset="0.296" stop-color="#0203fd"/><stop offset="0.300" stop-color="#0b0ef3"/><stop offset="0.306" stop-color="#2441e7"/><stop offset="0.309" stop-color="#2857e6"/><stop offset="0.349" stop-color="#1f7fef"/><stop offset="0.378" stop-color="#0b99ff"/><stop offset="0.394" stop-color="#00adff"/><stop offset="0.407" stop-color="#02bcff"/><stop offset="0.463" stop-color="#84cbf0"/><stop offset="0.502" stop-color="#c3e0f4"/><stop offset="0.505" stop-color="#fffcc6"/><stop offset="0.557" stop-color="#ffe659"/><stop offset="0.599" stop-color="#ffd628"/><stop offset="0.664" stop-color="#ffbe0a"/><stop offset="0.730" stop-color="#ffaa00"/><stop offset="0.853" stop-color="#ff9d00"/><stop offset="1.000" stop-color="#ffb000"/></linearGradient><linearGradient id="g70" x1="0" y1="0" x2="0" y2="1"><stop offset="0.000" stop-color="#832cf0"/><stop offset="0.231" stop-color="#7f2af0"/><stop offset="0.254" stop-color="#6320f1"/><stop offset="0.287" stop-color="#1f0afa"/><stop offset="0.296" stop-color="#0203fc"/><stop offset="0.300" stop-color="#0c10f2"/><stop offset="0.306" stop-color="#2443e7"/><stop offset="0.309" stop-color="#2857e6"/><stop offset="0.349" stop-color="#1e7ff0"/><stop offset="0.378" stop-color="#0a99ff"/><stop offset="0.394" stop-color="#00adff"/><stop offset="0.407" stop-color="#03bcff"/><stop offset="0.463" stop-color="#84ccf0"/><stop offset="0.502" stop-color="#c4e1f4"/><stop offset="0.505" stop-color="#fffbc5"/><stop offset="0.557" stop-color="#ffe658"/><stop offset="0.599" stop-color="#ffd627"/><stop offset="0.668" stop-color="#ffbc08"/><stop offset="0.736" stop-color="#ffa700"/><stop offset="0.850" stop-color="#ff9a00"/><stop offset="1.000" stop-color="#ffae00"/></linearGradient><linearGradient id="g71" x1="0" y1="0" x2="0" y2="1"><stop offset="0.000" stop-color="#832cf0"/><stop offset="0.231" stop-color="#7f2af0"/><stop offset="0.254" stop-color="#6320f1"/><stop offset="0.287" stop-color="#1f0afa"/><stop offset="0.296" stop-color="#0303fc"/><stop offset="0.303" stop-color="#1c29e9"/><stop offset="0.306" stop-color="#2546e7"/><stop offset="0.309" stop-color="#2858e6"/><stop offset="0.349" stop-color="#1e80f0"/><stop offset="0.378" stop-color="#0a99ff"/><stop offset="0.394" stop-color="#00aeff"/><stop offset="0.407" stop-color="#04bcff"/><stop offset="0.463" stop-color="#85ccf0"/><stop offset="0.502" stop-color="#c4e1f4"/><stop offset="0.505" stop-color="#fffbc4"/><stop offset="0.557" stop-color="#ffe657"/><stop offset="0.599" stop-color="#ffd627"/><stop offset="0.671" stop-color="#ffba06"/><stop offset="0.772" stop-color="#ff9f00"/><stop offset="0.853" stop-color="#ff9800"/><stop offset="1.000" stop-color="#ffac00"/></linearGradient><linearGradient id="g72" x1="0" y1="0" x2="0" y2="1"><stop offset="0.000" stop-color="#832cf0"/><stop offset="0.231" stop-color="#7e2af0"/><stop offset="0.254" stop-color="#621ff1"/><stop offset="0.287" stop-color="#1e0afa"/><stop offset="0.293" stop-color="#0502fe"/><stop offset="0.296" stop-color="#0304fb"/><stop offset="0.303" stop-color="#1d2be9"/><stop offset="0.306" stop-color="#2649e6"/><stop offset="0.309" stop-color="#2858e6"/><stop offset="0.349" stop-color="#1e80f0"/><stop offset="0.378" stop-color="#0a9aff"/><stop offset="0.397" stop-color="#00b2ff"/><stop offset="0.407" stop-color="#05bcfe"/><stop offset="0.463" stop-color="#85ccf0"/><stop offset="0.502" stop-color="#c5e1f4"/><stop offset="0.505" stop-color="#fffbc3"/><stop offset="0.557" stop-color="#ffe555"/><stop offset="0.599" stop-color="#ffd526"/><stop offset="0.674" stop-color="#ffb804"/><stop offset="0.824" stop-color="#ff9300"/><stop offset="1.000" stop-color="#ffa900"/></linearGradient><linearGradient id="g73" x1="0" y1="0" x2="0" y2="1"><stop offset="0.000" stop-color="#832cf0"/><stop offset="0.228" stop-color="#812bf0"/><stop offset="0.254" stop-color="#611ff1"/><stop offset="0.287" stop-color="#1d0afa"/><stop offset="0.293" stop-color="#0301fe"/><stop offset="0.296" stop-color="#0405fa"/><stop offset="0.303" stop-color="#1e2ee8"/><stop offset="0.306" stop-color="#274be6"/><stop offset="0.313" stop-color="#285ce6"/><stop offset="0.355" stop-color="#1b85f5"/><stop offset="0.381" stop-color="#069eff"/><stop offset="0.404" stop-color="#00bbff"/><stop offset="0.466" stop-color="#8ccef0"/><stop offset="0.502" stop-color="#c5e1f4"/><stop offset="0.505" stop-color="#fffbc3"/><stop offset="0.557" stop-color="#ffe554"/><stop offset="0.596" stop-color="#ffd628"/><stop offset="0.671" stop-color="#ffb905"/><stop offset="0.824" stop-color="#ff9000"/><stop offset="1.000" stop-color="#ffa700"/></linearGradient><linearGradient id="g74" x1="0" y1="0" x2="0" y2="1"><stop offset="0.000" stop-color="#832cf0"/><stop offset="0.228" stop-color="#812bf0"/><stop offset="0.254" stop-color="#611ff1"/><stop offset="0.287" stop-color="#1c09fa"/><stop offset="0.290" stop-color="#1407fc"/><stop offset="0.293" stop-color="#0100ff"/><stop offset="0.296" stop-color="#0507f9"/><stop offset="0.303" stop-color="#1f30e8"/><stop offset="0.306" stop-color="#274ee6"/><stop offset="0.319" stop-color="#2865e6"/><stop offset="0.375" stop-color="#0d97ff"/><stop offset="0.394" stop-color="#00afff"/><stop offset="0.407" stop-color="#06bcfe"/><stop offset="0.463" stop-color="#87ccf0"/><stop offset="0.502" stop-color="#c6e1f4"/><stop offset="0.505" stop-color="#fffbc2"/><stop offset="0.554" stop-color="#ffe657"/><stop offset="0.596" stop-color="#ffd627"/><stop offset="0.674" stop-color="#ffb703"/><stop offset="0.827" stop-color="#ff8d00"/><stop offset="1.000" stop-color="#ffa500"/></linearGradient><linearGradient id="g75" x1="0" y1="0" x2="0" y2="1"><stop offset="0.000" stop-color="#832cf0"/><stop offset="0.228" stop-color="#812bf0"/><stop offset="0.254" stop-color="#601ff1"/><stop offset="0.283" stop-color="#240cf9"/><stop offset="0.290" stop-color="#1306fc"/><stop offset="0.293" stop-color="#0000ff"/><stop offset="0.296" stop-color="#0608f8"/><stop offset="0.303" stop-color="#2033e8"/><stop offset="0.306" stop-color="#2851e6"/><stop offset="0.336" stop-color="#2475ea"/><stop offset="0.378" stop-color="#099bff"/><stop offset="0.401" stop-color="#00b8ff"/><stop offset="0.410" stop-color="#0fbcfd"/><stop offset="0.463" stop-color="#87cdf0"/><stop offset="0.498" stop-color="#c2e0f3"/><stop offset="0.502" stop-color="#fffcc8"/><stop offset="0.554" stop-color="#ffe656"/><stop offset="0.596" stop-color="#ffd527"/><stop offset="0.678" stop-color="#ffb501"/><stop offset="0.834" stop-color="#ff8a00"/><stop offset="1.000" stop-color="#ffa300"/></linearGradient><linearGradient id="g76" x1="0" y1="0" x2="0" y2="1"><stop offset="0.000" stop-color="#832cf0"/><stop offset="0.228" stop-color="#812af0"/><stop offset="0.254" stop-color="#601ff1"/><stop offset="0.283" stop-color="#230cf9"/><stop offset="0.290" stop-color="#1206fc"/><stop offset="0.293" stop-color="#0101fe"/><stop offset="0.296" stop-color="#0709f7"/><stop offset="0.303" stop-color="#2136e7"/><stop offset="0.306" stop-color="#2853e6"/><stop offset="0.342" stop-color="#217bed"/><stop offset="0.378" stop-color="#089bff"/><stop offset="0.401" stop-color="#00b8ff"/><stop offset="0.407" stop-color="#08bcfe"/><stop offset="0.463" stop-color="#88cdf0"/><stop offset="0.498" stop-color="#c2e0f3"/><stop offset="0.502" stop-color="#fffcc7"/><stop offset="0.554" stop-color="#ffe555"/><stop offset="0.596" stop-color="#ffd526"/><stop offset="0.678" stop-color="#ffb400"/><stop offset="0.837" stop-color="#ff8500"/><stop offset="1.000" stop-color="#ffa000"/></linearGradient><linearGradient id="g77" x1="0" y1="0" x2="0" y2="1"><stop offset="0.000" stop-color="#832cf0"/><stop offset="0.228" stop-color="#802af0"/><stop offset="0.254" stop-color="#5f1ff1"/><stop offset="0.283" stop-color="#230cf9"/><stop offset="0.290" stop-color="#1106fc"/><stop offset="0.293" stop-color="#0101fe"/><stop offset="0.296" stop-color="#080af6"/><stop offset="0.303" stop-color="#2138e7"/><stop offset="0.306" stop-color="#2855e6"/><stop offset="0.345" stop-color="#1f7eef"/><stop offset="0.375" stop-color="#0b98ff"/><stop offset="0.394" stop-color="#00b0ff"/><stop offset="0.404" stop-color="#01bcff"/><stop offset="0.459" stop-color="#83cbf0"/><stop offset="0.498" stop-color="#c3e0f4"/><stop offset="0.502" stop-color="#fffcc6"/><stop offset="0.554" stop-color="#ffe554"/><stop offset="0.593" stop-color="#ffd628"/><stop offset="0.674" stop-color="#ffb400"/><stop offset="0.834" stop-color="#ff8000"/><stop offset="1.000" stop-color="#ff9e00"/></linearGradient><linearGradient id="g78" x1="0" y1="0" x2="0" y2="1"><stop offset="0.000" stop-color="#832cf0"/><stop offset="0.228" stop-color="#802af0"/><stop offset="0.254" stop-color="#5f1ef2"/><stop offset="0.283" stop-color="#220bf9"/><stop offset="0.293" stop-color="#0102fe"/><stop offset="0.296" stop-color="#090bf5"/><stop offset="0.306" stop-color="#2856e6"/><stop offset="0.345" stop-color="#1f7fef"/><stop offset="0.375" stop-color="#0b98ff"/><stop offset="0.391" stop-color="#00adff"/><stop offset="0.404" stop-color="#02bcff"/><stop offset="0.459" stop-color="#83cbf0"/><stop offset="0.498" stop-color="#c3e0f4"/><stop offset="0.502" stop-color="#fffbc5"/><stop offset="0.554" stop-color="#ffe553"/><stop offset="0.593" stop-color="#ffd627"/><stop offset="0.674" stop-color="#ffb300"/><stop offset="0.834" stop-color="#ff7a00"/><stop offset="1.000" stop-color="#ff9c00"/></linearGradient><linearGradient id="g79" x1="0" y1="0" x2="0" y2="1"><stop offset="0.000" stop-color="#832cf0"/><stop offset="0.163" stop-color="#832bf0"/><stop offset="0.228" stop-color="#802af0"/><stop offset="0.254" stop-color="#5e1ef2"/><stop offset="0.283" stop-color="#210bfa"/><stop offset="0.293" stop-color="#0202fd"/><stop offset="0.296" stop-color="#0a0df4"/><stop offset="0.306" stop-color="#2857e6"/><stop offset="0.345" stop-color="#1f7fef"/><stop offset="0.375" stop-color="#0b99ff"/><stop offset="0.391" stop-color="#00adff"/><stop offset="0.404" stop-color="#03bcff"/><stop offset="0.459" stop-color="#84ccf0"/><stop offset="0.498" stop-color="#c4e1f4"/><stop offset="0.502" stop-color="#fffbc5"/><stop offset="0.550" stop-color="#ffe556"/><stop offset="0.593" stop-color="#ffd526"/><stop offset="0.674" stop-color="#ffb200"/><stop offset="0.834" stop-color="#ff7400"/><stop offset="1.000" stop-color="#ff9a00"/></linearGradient><linearGradient id="g80" x1="0" y1="0" x2="0" y2="1"><stop offset="0.000" stop-color="#832cf0"/><stop offset="0.147" stop-color="#822bf0"/><stop offset="0.228" stop-color="#7f2af0"/><stop offset="0.251" stop-color="#6420f1"/><stop offset="0.283" stop-color="#200bfa"/><stop offset="0.293" stop-color="#0202fd"/><stop offset="0.296" stop-color="#0b0ef3"/><stop offset="0.303" stop-color="#2440e7"/><stop offset="0.306" stop-color="#2857e6"/><stop offset="0.345" stop-color="#1e7ff0"/><stop offset="0.375" stop-color="#0a99ff"/><stop offset="0.391" stop-color="#00adff"/><stop offset="0.404" stop-color="#03bcff"/><stop offset="0.459" stop-color="#85ccf0"/><stop offset="0.498" stop-color="#c4e1f4"/><stop offset="0.502" stop-color="#fffbc4"/><stop offset="0.550" stop-color="#ffe554"/><stop offset="0.593" stop-color="#ffd526"/><stop offset="0.674" stop-color="#ffb100"/><stop offset="0.831" stop-color="#ff6d00"/><stop offset="1.000" stop-color="#ff9700"/></linearGradient><linearGradient id="g81" x1="0" y1="0" x2="0" y2="1"><stop offset="0.000" stop-color="#832cf0"/><stop offset="0.140" stop-color="#802af0"/><stop offset="0.228" stop-color="#7f2af0"/><stop offset="0.251" stop-color="#6320f1"/><stop offset="0.283" stop-color="#1f0afa"/><stop offset="0.293" stop-color="#0203fc"/><stop offset="0.296" stop-color="#0c0ff2"/><stop offset="0.303" stop-color="#2443e7"/><stop offset="0.306" stop-color="#2857e6"/><stop offset="0.345" stop-color="#1e7ff0"/><stop offset="0.375" stop-color="#0a99ff"/><stop offset="0.391" stop-color="#00aeff"/><stop offset="0.404" stop-color="#04bcff"/><stop offset="0.459" stop-color="#85ccf0"/><stop offset="0.498" stop-color="#c5e1f4"/><stop offset="0.502" stop-color="#fffbc3"/><stop offset="0.550" stop-color="#ffe553"/><stop offset="0.590" stop-color="#ffd627"/><stop offset="0.671" stop-color="#ffb100"/><stop offset="0.831" stop-color="#ff6700"/><stop offset="1.000" stop-color="#ff9500"/></linearGradient><linearGradient id="g82" x1="0" y1="0" x2="0" y2="1"><stop offset="0.000" stop-color="#832cf0"/><stop offset="0.137" stop-color="#7f2af0"/><stop offset="0.228" stop-color="#7f2af0"/><stop offset="0.251" stop-color="#6320f1"/><stop offset="0.283" stop-color="#1f0afa"/><stop offset="0.293" stop-color="#0303fc"/><stop offset="0.300" stop-color="#1b29e9"/><stop offset="0.303" stop-color="#2546e7"/><stop offset="0.306" stop-color="#2858e6"/><stop offset="0.345" stop-color="#1e80f0"/><stop offset="0.375" stop-color="#0a9aff"/><stop offset="0.394" stop-color="#00b2ff"/><stop offset="0.404" stop-color="#05bcfe"/><stop offset="0.459" stop-color="#86ccf0"/><stop offset="0.498" stop-color="#c6e1f4"/><stop offset="0.502" stop-color="#fffbc2"/><stop offset="0.550" stop-color="#ffe452"/><stop offset="0.590" stop-color="#ffd627"/><stop offset="0.671" stop-color="#ffb100"/><stop offset="0.831" stop-color="#ff6600"/><stop offset="1.000" stop-color="#ff9400"/></linearGradient><linearGradient id="g83" x1="0" y1="0" x2="0" y2="1"><stop offset="0.000" stop-color="#832cf0"/><stop offset="0.134" stop-color="#7e29f0"/><stop offset="0.225" stop-color="#822bf0"/><stop offset="0.251" stop-color="#621ff1"/><stop offset="0.283" stop-color="#1e0afa"/><stop offset="0.290" stop-color="#0502fe"/><stop offset="0.293" stop-color="#0304fc"/><stop offset="0.300" stop-color="#1d2be9"/><stop offset="0.303" stop-color="#2649e6"/><stop offset="0.306" stop-color="#2858e6"/><stop offset="0.345" stop-color="#1e80f0"/><stop offset="0.375" stop-color="#099aff"/><stop offset="0.394" stop-color="#00b3ff"/><stop offset="0.404" stop-color="#06bcfe"/><stop offset="0.459" stop-color="#87ccf0"/><stop offset="0.495" stop-color="#c2e0f3"/><stop offset="0.498" stop-color="#fffcc8"/><stop offset="0.550" stop-color="#ffe451"/><stop offset="0.590" stop-color="#ffd526"/><stop offset="0.671" stop-color="#ffb000"/><stop offset="0.831" stop-color="#ff6500"/><stop offset="1.000" stop-color="#ff9300"/></linearGradient><linearGradient id="g84" x1="0" y1="0" x2="0" y2="1"><stop offset="0.000" stop-color="#832cf0"/><stop offset="0.130" stop-color="#7c29f0"/><stop offset="0.225" stop-color="#812bf0"/><stop offset="0.251" stop-color="#621ff1"/><stop offset="0.283" stop-color="#1d0afa"/><stop offset="0.290" stop-color="#0301fe"/><stop offset="0.293" stop-color="#0405fb"/><stop offset="0.300" stop-color="#1e2de8"/><stop offset="0.303" stop-color="#274be6"/><stop offset="0.309" stop-color="#285ce6"/><stop offset="0.349" stop-color="#1c83f3"/><stop offset="0.375" stop-color="#099bff"/><stop offset="0.394" stop-color="#00b3ff"/><stop offset="0.404" stop-color="#07bcfe"/><stop offset="0.459" stop-color="#88cdf0"/><stop offset="0.495" stop-color="#c2e0f3"/><stop offset="0.498" stop-color="#fffcc7"/><stop offset="0.547" stop-color="#ffe555"/><stop offset="0.586" stop-color="#ffd628"/><stop offset="0.668" stop-color="#ffb100"/><stop offset="0.831" stop-color="#ff6600"/><stop offset="1.000" stop-color="#ff9200"/></linearGradient><linearGradient id="g85" x1="0" y1="0" x2="0" y2="1"><stop offset="0.000" stop-color="#832cf0"/><stop offset="0.094" stop-color="#7a28f0"/><stop offset="0.225" stop-color="#812bf0"/><stop offset="0.251" stop-color="#611ff1"/><stop offset="0.283" stop-color="#1c09fa"/><stop offset="0.290" stop-color="#0100ff"/><stop offset="0.293" stop-color="#0506f9"/><stop offset="0.300" stop-color="#1f30e8"/><stop offset="0.303" stop-color="#274ee6"/><stop offset="0.313" stop-color="#2861e6"/><stop offset="0.355" stop-color="#1988f8"/><stop offset="0.388" stop-color="#00acff"/><stop offset="0.401" stop-color="#00bcff"/><stop offset="0.456" stop-color="#83cbf0"/><stop offset="0.495" stop-color="#c3e0f4"/><stop offset="0.498" stop-color="#fffcc6"/><stop offset="0.547" stop-color="#ffe553"/><stop offset="0.586" stop-color="#ffd627"/><stop offset="0.668" stop-color="#ffb000"/><stop offset="0.831" stop-color="#ff6800"/><stop offset="1.000" stop-color="#ff9100"/></linearGradient><linearGradient id="g86" x1="0" y1="0" x2="0" y2="1"><stop offset="0.000" stop-color="#832cf0"/><stop offset="0.088" stop-color="#7b28f0"/><stop offset="0.130" stop-color="#7a28f0"/><stop offset="0.221" stop-color="#832cf0"/><stop offset="0.248" stop-color="#6721f1"/><stop offset="0.280" stop-color="#240cf9"/><stop offset="0.287" stop-color="#1306fc"/><stop offset="0.290" stop-color="#0000ff"/><stop offset="0.293" stop-color="#0608f8"/><stop offset="0.300" stop-color="#2033e8"/><stop offset="0.303" stop-color="#2850e6"/><stop offset="0.332" stop-color="#2475ea"/><stop offset="0.371" stop-color="#0c98ff"/><stop offset="0.391" stop-color="#00b0ff"/><stop offset="0.401" stop-color="#01bcff"/><stop offset="0.456" stop-color="#84cbf0"/><stop offset="0.495" stop-color="#c4e1f4"/><stop offset="0.498" stop-color="#fffbc4"/><stop offset="0.547" stop-color="#ffe452"/><stop offset="0.586" stop-color="#ffd627"/><stop offset="0.668" stop-color="#ffb000"/><stop offset="0.831" stop-color="#ff6b00"/><stop offset="1.000" stop-color="#ff9000"/></linearGradient><linearGradient id="g87" x1="0" y1="0" x2="0" y2="1"><stop offset="0.000" stop-color="#832cf0"/><stop offset="0.085" stop-color="#7b28f0"/><stop offset="0.124" stop-color="#7726f0"/><stop offset="0.195" stop-color="#832cf0"/><stop offset="0.228" stop-color="#7d29f0"/><stop offset="0.251" stop-color="#601ff1"/><stop offset="0.280" stop-color="#230cf9"/><stop offset="0.287" stop-color="#1206fc"/><stop offset="0.290" stop-color="#0001fe"/><stop offset="0.293" stop-color="#0709f7"/><stop offset="0.300" stop-color="#2035e8"/><stop offset="0.303" stop-color="#2853e6"/><stop offset="0.339" stop-color="#217bed"/><stop offset="0.371" stop-color="#0b98ff"/><stop offset="0.388" stop-color="#00adff"/><stop offset="0.401" stop-color="#02bcff"/><stop offset="0.456" stop-color="#84ccf0"/><stop offset="0.495" stop-color="#c4e1f4"/><stop offset="0.498" stop-color="#fffbc3"/><stop offset="0.547" stop-color="#ffe451"/><stop offset="0.586" stop-color="#ffd526"/><stop offset="0.668" stop-color="#ffaf00"/><stop offset="0.827" stop-color="#ff6f00"/><stop offset="1.000" stop-color="#ff8f00"/></linearGradient><linearGradient id="g88" x1="0" y1="0" x2="0" y2="1"><stop offset="0.000" stop-color="#832cf0"/><stop offset="0.081" stop-color="#7c28f0"/><stop offset="0.121" stop-color="#7425f0"/><stop offset="0.186" stop-color="#832cf0"/><stop offset="0.225" stop-color="#802af0"/><stop offset="0.251" stop-color="#5f1ff1"/><stop offset="0.280" stop-color="#230cf9"/><stop offset="0.287" stop-color="#1106fc"/><stop offset="0.290" stop-color="#0101fe"/><stop offset="0.293" stop-color="#080af6"/><stop offset="0.300" stop-color="#2138e7"/><stop offset="0.303" stop-color="#2855e6"/><stop offset="0.342" stop-color="#1f7fef"/><stop offset="0.371" stop-color="#0b99ff"/><stop offset="0.388" stop-color="#00adff"/><stop offset="0.401" stop-color="#03bcff"/><stop offset="0.456" stop-color="#85ccf0"/><stop offset="0.495" stop-color="#c5e1f4"/><stop offset="0.498" stop-color="#fffbc2"/><stop offset="0.547" stop-color="#ffe450"/><stop offset="0.586" stop-color="#ffd526"/><stop offset="0.664" stop-color="#ffb000"/><stop offset="0.798" stop-color="#ff7b00"/><stop offset="0.844" stop-color="#ff7400"/><stop offset="1.000" stop-color="#ff8e00"/></linearGradient><linearGradient id="g89" x1="0" y1="0" x2="0" y2="1"><stop offset="0.000" stop-color="#832cf0"/><stop offset="0.081" stop-color="#7b28f0"/><stop offset="0.121" stop-color="#7225f0"/><stop offset="0.182" stop-color="#832cf0"/><stop offset="0.225" stop-color="#802af0"/><stop offset="0.251" stop-color="#5f1ef2"/><stop offset="0.280" stop-color="#220bf9"/><stop offset="0.290" stop-color="#0102fe"/><stop offset="0.293" stop-color="#090bf5"/><stop offset="0.303" stop-color="#2856e6"/><stop offset="0.342" stop-color="#1f7fef"/><stop offset="0.371" stop-color="#0a99ff"/><stop offset="0.388" stop-color="#00aeff"/><stop offset="0.401" stop-color="#04bcff"/><stop offset="0.456" stop-color="#86ccf0"/><stop offset="0.495" stop-color="#c6e1f4"/><stop offset="0.498" stop-color="#fffbc1"/><stop offset="0.544" stop-color="#ffe554"/><stop offset="0.583" stop-color="#ffd627"/><stop offset="0.664" stop-color="#ffb000"/><stop offset="0.752" stop-color="#ff8d00"/><stop offset="0.837" stop-color="#ff7700"/><stop offset="1.000" stop-color="#ff8e00"/></linearGradient><linearGradient id="g90" x1="0" y1="0" x2="0" y2="1"><stop offset="0.000" stop-color="#832cf0"/><stop offset="0.078" stop-color="#7c28f0"/><stop offset="0.117" stop-color="#7024f0"/><stop offset="0.179" stop-color="#832bf0"/><stop offset="0.225" stop-color="#802af0"/><stop offset="0.251" stop-color="#5e1ef2"/><stop offset="0.280" stop-color="#210bf9"/><stop offset="0.290" stop-color="#0202fd"/><stop offset="0.293" stop-color="#0a0df4"/><stop offset="0.303" stop-color="#2857e6"/><stop offset="0.342" stop-color="#1e7ff0"/><stop offset="0.371" stop-color="#0a99ff"/><stop offset="0.388" stop-color="#00aeff"/><stop offset="0.401" stop-color="#05bcfe"/><stop offset="0.456" stop-color="#87ccf0"/><stop offset="0.492" stop-color="#c2e0f3"/><stop offset="0.495" stop-color="#fffcc7"/><stop offset="0.544" stop-color="#ffe553"/><stop offset="0.583" stop-color="#ffd627"/><stop offset="0.664" stop-color="#ffaf00"/><stop offset="0.749" stop-color="#ff8e00"/><stop offset="0.840" stop-color="#ff7a00"/><stop offset="1.000" stop-color="#ff8d00"/></linearGradient><linearGradient id="g91" x1="0" y1="0" x2="0" y2="1"><stop offset="0.000" stop-color="#832cf0"/><stop offset="0.078" stop-color="#7b28f0"/><stop offset="0.114" stop-color="#6c22f0"/><stop offset="0.176" stop-color="#832bf0"/><stop offset="0.225" stop-color="#7f2af0"/><stop offset="0.248" stop-color="#6420f1"/><stop offset="0.280" stop-color="#200bfa"/><stop offset="0.290" stop-color="#0203fd"/><stop offset="0.293" stop-color="#0b0ef3"/><stop offset="0.300" stop-color="#2441e7"/><stop offset="0.303" stop-color="#2857e6"/><stop offset="0.342" stop-color="#1e80f0"/><stop offset="0.371" stop-color="#0a9aff"/><stop offset="0.391" stop-color="#00b3ff"/><stop offset="0.401" stop-color="#06bcfe"/><stop offset="0.456" stop-color="#88cdf0"/><stop offset="0.492" stop-color="#c2e0f3"/><stop offset="0.495" stop-color="#fffcc6"/><stop offset="0.544" stop-color="#ffe452"/><stop offset="0.583" stop-color="#ffd527"/><stop offset="0.664" stop-color="#ffaf00"/><stop offset="0.746" stop-color="#ff8f00"/><stop offset="0.840" stop-color="#ff7c00"/><stop offset="1.000" stop-color="#ff8c00"/></linearGradient><linearGradient id="g92" x1="0" y1="0" x2="0" y2="1"><stop offset="0.000" stop-color="#832cf0"/><stop offset="0.075" stop-color="#7c28f0"/><stop offset="0.114" stop-color="#6821f1"/><stop offset="0.169" stop-color="#832bf0"/><stop offset="0.225" stop-color="#7f2af0"/><stop offset="0.248" stop-color="#6320f1"/><stop offset="0.280" stop-color="#1f0afa"/><stop offset="0.290" stop-color="#0303fc"/><stop offset="0.296" stop-color="#1b28ea"/><stop offset="0.300" stop-color="#2545e7"/><stop offset="0.303" stop-color="#2858e6"/><stop offset="0.342" stop-color="#1e80f0"/><stop offset="0.371" stop-color="#099bff"/><stop offset="0.391" stop-color="#00b3ff"/><stop offset="0.401" stop-color="#07bcfe"/><stop offset="0.456" stop-color="#88cdf0"/><stop offset="0.492" stop-color="#c3e0f4"/><stop offset="0.495" stop-color="#fffbc5"/><stop offset="0.544" stop-color="#ffe450"/><stop offset="0.583" stop-color="#ffd526"/><stop offset="0.661" stop-color="#ffb000"/><stop offset="0.746" stop-color="#ff8f00"/><stop offset="0.840" stop-color="#ff7b00"/><stop offset="1.000" stop-color="#ff8c00"/></linearGradient><linearGradient id="g93" x1="0" y1="0" x2="0" y2="1"><stop offset="0.000" stop-color="#832cf0"/><stop offset="0.075" stop-color="#7b28f0"/><stop offset="0.114" stop-color="#6420f1"/><stop offset="0.166" stop-color="#822bf0"/><stop offset="0.225" stop-color="#7e2af0"/><stop offset="0.248" stop-color="#621ff1"/><stop offset="0.280" stop-color="#1e0afa"/><stop offset="0.287" stop-color="#0502fe"/><stop offset="0.290" stop-color="#0304fb"/><stop offset="0.296" stop-color="#1d2ce8"/><stop offset="0.300" stop-color="#2649e6"/><stop offset="0.303" stop-color="#2858e6"/><stop offset="0.342" stop-color="#1e80f0"/><stop offset="0.371" stop-color="#099bff"/><stop offset="0.394" stop-color="#00b8ff"/><stop offset="0.401" stop-color="#08bcfe"/><stop offset="0.456" stop-color="#89cdf0"/><stop offset="0.492" stop-color="#c4e1f4"/><stop offset="0.495" stop-color="#fffbc4"/><stop offset="0.544" stop-color="#ffe44f"/><stop offset="0.583" stop-color="#ffd526"/><stop offset="0.661" stop-color="#ffb000"/><stop offset="0.746" stop-color="#ff8e00"/><stop offset="0.837" stop-color="#ff7a00"/><stop offset="1.000" stop-color="#ff8c00"/></linearGradient><linearGradient id="g94" x1="0" y1="0" x2="0" y2="1"><stop offset="0.000" stop-color="#832cf0"/><stop offset="0.072" stop-color="#7c29f0"/><stop offset="0.111" stop-color="#601ff1"/><stop offset="0.163" stop-color="#812bf0"/><stop offset="0.221" stop-color="#812bf0"/><stop offset="0.248" stop-color="#611ff1"/><stop offset="0.280" stop-color="#1c09fa"/><stop offset="0.287" stop-color="#0201ff"/><stop offset="0.290" stop-color="#0506fa"/><stop offset="0.296" stop-color="#1f30e8"/><stop offset="0.300" stop-color="#274de6"/><stop offset="0.309" stop-color="#2861e6"/><stop offset="0.352" stop-color="#1888f8"/><stop offset="0.384" stop-color="#00acff"/><stop offset="0.397" stop-color="#02bcff"/><stop offset="0.453" stop-color="#84ccf0"/><stop offset="0.492" stop-color="#c5e1f4"/><stop offset="0.495" stop-color="#fffbc3"/><stop offset="0.544" stop-color="#ffe34e"/><stop offset="0.580" stop-color="#ffd627"/><stop offset="0.661" stop-color="#ffb000"/><stop offset="0.746" stop-color="#ff8e00"/><stop offset="0.837" stop-color="#ff7900"/><stop offset="1.000" stop-color="#ff8c00"/></linearGradient><linearGradient id="g95" x1="0" y1="0" x2="0" y2="1"><stop offset="0.000" stop-color="#832cf0"/><stop offset="0.072" stop-color="#7c29f0"/><stop offset="0.111" stop-color="#5c1df2"/><stop offset="0.160" stop-color="#802af0"/><stop offset="0.221" stop-color="#812bf0"/><stop offset="0.248" stop-color="#601ff1"/><stop offset="0.277" stop-color="#240cf9"/><stop offset="0.283" stop-color="#1306fc"/><stop offset="0.287" stop-color="#0000ff"/><stop offset="0.290" stop-color="#0608f8"/><stop offset="0.296" stop-color="#2034e8"/><stop offset="0.300" stop-color="#2851e6"/><stop offset="0.329" stop-color="#2475ea"/><stop offset="0.368" stop-color="#0b99ff"/><stop offset="0.384" stop-color="#00aeff"/><stop offset="0.397" stop-color="#04bcfe"/><stop offset="0.453" stop-color="#87cdf0"/><stop offset="0.489" stop-color="#c3e0f4"/><stop offset="0.492" stop-color="#fffcc6"/><stop offset="0.541" stop-color="#ffe451"/><stop offset="0.580" stop-color="#ffd526"/><stop offset="0.658" stop-color="#ffb000"/><stop offset="0.746" stop-color="#ff8d00"/><stop offset="0.834" stop-color="#ff7700"/><stop offset="1.000" stop-color="#ff8c00"/></linearGradient><linearGradient id="g96" x1="0" y1="0" x2="0" y2="1"><stop offset="0.000" stop-color="#832cf0"/><stop offset="0.072" stop-color="#7b28f0"/><stop offset="0.111" stop-color="#581cf2"/><stop offset="0.156" stop-color="#7f2af0"/><stop offset="0.221" stop-color="#802af0"/><stop offset="0.248" stop-color="#5f1ff1"/><stop offset="0.277" stop-color="#230cf9"/><stop offset="0.283" stop-color="#1206fc"/><stop offset="0.287" stop-color="#0101fe"/><stop offset="0.290" stop-color="#080af6"/><stop offset="0.296" stop-color="#2138e7"/><stop offset="0.300" stop-color="#2855e6"/><stop offset="0.339" stop-color="#1e7ff0"/><stop offset="0.368" stop-color="#0a9aff"/><stop offset="0.388" stop-color="#00b3ff"/><stop offset="0.397" stop-color="#07bcfe"/><stop offset="0.450" stop-color="#84ccf0"/><stop offset="0.489" stop-color="#c5e1f4"/><stop offset="0.492" stop-color="#fffbc2"/><stop offset="0.541" stop-color="#ffe34d"/><stop offset="0.577" stop-color="#ffd627"/><stop offset="0.658" stop-color="#ffb000"/><stop offset="0.746" stop-color="#ff8d00"/><stop offset="0.834" stop-color="#ff7600"/><stop offset="1.000" stop-color="#ff8c00"/></linearGradient><linearGradient id="g97" x1="0" y1="0" x2="0" y2="1"><stop offset="0.000" stop-color="#832cf0"/><stop offset="0.072" stop-color="#7b28f0"/><stop offset="0.094" stop-color="#621ff1"/><stop offset="0.111" stop-color="#541bf3"/><stop offset="0.153" stop-color="#7d29f0"/><stop offset="0.221" stop-color="#802af0"/><stop offset="0.248" stop-color="#5e1ef2"/><stop offset="0.277" stop-color="#210bf9"/><stop offset="0.287" stop-color="#0102fd"/><stop offset="0.290" stop-color="#0a0cf5"/><stop offset="0.300" stop-color="#2856e6"/><stop offset="0.339" stop-color="#1e80f0"/><stop offset="0.365" stop-color="#0c97ff"/><stop offset="0.384" stop-color="#00b0ff"/><stop offset="0.394" stop-color="#02bcff"/><stop offset="0.450" stop-color="#87ccf0"/><stop offset="0.485" stop-color="#c3e0f4"/><stop offset="0.489" stop-color="#fffbc5"/><stop offset="0.537" stop-color="#ffe450"/><stop offset="0.577" stop-color="#ffd526"/><stop offset="0.655" stop-color="#ffb000"/><stop offset="0.749" stop-color="#ff8b00"/><stop offset="0.831" stop-color="#ff7400"/><stop offset="1.000" stop-color="#ff8c00"/></linearGradient><linearGradient id="g98" x1="0" y1="0" x2="0" y2="1"><stop offset="0.000" stop-color="#832cf0"/><stop offset="0.068" stop-color="#7c29f0"/><stop offset="0.091" stop-color="#6520f1"/><stop offset="0.111" stop-color="#511af3"/><stop offset="0.130" stop-color="#6821f1"/><stop offset="0.163" stop-color="#812bf0"/><stop offset="0.221" stop-color="#7f2af0"/><stop offset="0.244" stop-color="#6420f1"/><stop offset="0.277" stop-color="#200bfa"/><stop offset="0.287" stop-color="#0202fd"/><stop offset="0.290" stop-color="#0b0ef3"/><stop offset="0.296" stop-color="#2440e7"/><stop offset="0.300" stop-color="#2857e6"/><stop offset="0.339" stop-color="#1e80f1"/><stop offset="0.365" stop-color="#0b98ff"/><stop offset="0.381" stop-color="#00adff"/><stop offset="0.394" stop-color="#05bcfe"/><stop offset="0.446" stop-color="#84cbf0"/><stop offset="0.485" stop-color="#c6e1f4"/><stop offset="0.489" stop-color="#fffbc1"/><stop offset="0.534" stop-color="#ffe553"/><stop offset="0.573" stop-color="#ffd627"/><stop offset="0.655" stop-color="#ffb000"/><stop offset="0.759" stop-color="#ff8600"/><stop offset="0.831" stop-color="#ff7200"/><stop offset="1.000" stop-color="#ff8c00"/></linearGradient><linearGradient id="g99" x1="0" y1="0" x2="0" y2="1"><stop offset="0.000" stop-color="#832cf0"/><stop offset="0.068" stop-color="#7c29f0"/><stop offset="0.091" stop-color="#6320f1"/><stop offset="0.107" stop-color="#4e19f3"/><stop offset="0.124" stop-color="#5a1df2"/><stop offset="0.143" stop-color="#7626f0"/><stop offset="0.189" stop-color="#832cf0"/><stop offset="0.221" stop-color="#7f2af0"/><stop offset="0.244" stop-color="#6320f1"/><stop offset="0.277" stop-color="#1f0afa"/><stop offset="0.287" stop-color="#0303fc"/><stop offset="0.290" stop-color="#0d10f2"/><stop offset="0.296" stop-color="#2545e7"/><stop offset="0.300" stop-color="#2858e6"/><stop offset="0.339" stop-color="#1d81f1"/><stop offset="0.365" stop-color="#0a99ff"/><stop offset="0.381" stop-color="#00afff"/><stop offset="0.391" stop-color="#00bcff"/><stop offset="0.446" stop-color="#86ccf0"/><stop offset="0.482" stop-color="#c3e0f4"/><stop offset="0.485" stop-color="#fffbc5"/><stop offset="0.534" stop-color="#ffe44f"/><stop offset="0.570" stop-color="#ffd628"/><stop offset="0.651" stop-color="#ffb000"/><stop offset="0.775" stop-color="#ff7f00"/><stop offset="0.831" stop-color="#ff7100"/><stop offset="1.000" stop-color="#ff8c00"/></linearGradient><linearGradient id="g100" x1="0" y1="0" x2="0" y2="1"><stop offset="0.000" stop-color="#832cf0"/><stop offset="0.068" stop-color="#7c29f0"/><stop offset="0.088" stop-color="#6821f1"/><stop offset="0.107" stop-color="#4b19f3"/><stop offset="0.124" stop-color="#571cf2"/><stop offset="0.143" stop-color="#7626f0"/><stop offset="0.186" stop-color="#832bf0"/><stop offset="0.221" stop-color="#7f2af0"/><stop offset="0.244" stop-color="#621ff1"/><stop offset="0.277" stop-color="#1e0afa"/><stop offset="0.283" stop-color="#0502fe"/><stop offset="0.287" stop-color="#0304fb"/><stop offset="0.293" stop-color="#1d2be9"/><stop offset="0.296" stop-color="#2649e6"/><stop offset="0.300" stop-color="#2858e6"/><stop offset="0.339" stop-color="#1d82f2"/><stop offset="0.365" stop-color="#099bff"/><stop offset="0.384" stop-color="#00b5ff"/><stop offset="0.394" stop-color="#0abcfe"/><stop offset="0.446" stop-color="#89cdf0"/><stop offset="0.479" stop-color="#c1e0f3"/><stop offset="0.482" stop-color="#fffcc8"/><stop offset="0.534" stop-color="#ffe34c"/><stop offset="0.570" stop-color="#ffd527"/><stop offset="0.651" stop-color="#ffb000"/><stop offset="0.811" stop-color="#ff7000"/><stop offset="1.000" stop-color="#ff8c00"/></linearGradient><linearGradient id="g101" x1="0" y1="0" x2="0" y2="1"><stop offset="0.000" stop-color="#832cf0"/><stop offset="0.068" stop-color="#7c28f0"/><stop offset="0.088" stop-color="#6621f1"/><stop offset="0.107" stop-color="#4918f4"/><stop offset="0.124" stop-color="#551cf2"/><stop offset="0.143" stop-color="#7526f0"/><stop offset="0.186" stop-color="#832bf0"/><stop offset="0.221" stop-color="#7e29f0"/><stop offset="0.244" stop-color="#611ff1"/><stop offset="0.277" stop-color="#1d0afa"/><stop offset="0.283" stop-color="#0201ff"/><stop offset="0.287" stop-color="#0506fa"/><stop offset="0.293" stop-color="#1f2fe8"/><stop offset="0.296" stop-color="#274de6"/><stop offset="0.303" stop-color="#285de6"/><stop offset="0.342" stop-color="#1b85f5"/><stop offset="0.368" stop-color="#04a0ff"/><stop offset="0.391" stop-color="#05bcfe"/><stop offset="0.443" stop-color="#86ccf0"/><stop offset="0.479" stop-color="#c4e1f4"/><stop offset="0.482" stop-color="#fffbc4"/><stop offset="0.531" stop-color="#ffe34f"/><stop offset="0.567" stop-color="#ffd627"/><stop offset="0.648" stop-color="#ffb000"/><stop offset="0.818" stop-color="#ff6a00"/><stop offset="1.000" stop-color="#ff8c00"/></linearGradient><linearGradient id="g102" x1="0" y1="0" x2="0" y2="1"><stop offset="0.000" stop-color="#832cf0"/><stop offset="0.068" stop-color="#7b28f0"/><stop offset="0.088" stop-color="#6520f1"/><stop offset="0.107" stop-color="#4717f4"/><stop offset="0.124" stop-color="#541bf3"/><stop offset="0.143" stop-color="#7526f0"/><stop offset="0.186" stop-color="#832bf0"/><stop offset="0.221" stop-color="#7e29f0"/><stop offset="0.244" stop-color="#601ff1"/><stop offset="0.274" stop-color="#240cf9"/><stop offset="0.280" stop-color="#1306fc"/><stop offset="0.283" stop-color="#0000ff"/><stop offset="0.287" stop-color="#0608f8"/><stop offset="0.293" stop-color="#2033e8"/><stop offset="0.296" stop-color="#2851e6"/><stop offset="0.326" stop-color="#2377eb"/><stop offset="0.362" stop-color="#0b99ff"/><stop offset="0.378" stop-color="#00afff"/><stop offset="0.388" stop-color="#00bcff"/><stop offset="0.443" stop-color="#89cdf0"/><stop offset="0.476" stop-color="#c2e0f3"/><stop offset="0.479" stop-color="#fffcc7"/><stop offset="0.531" stop-color="#ffe24b"/><stop offset="0.567" stop-color="#ffd526"/><stop offset="0.648" stop-color="#ffaf00"/><stop offset="0.821" stop-color="#ff6800"/><stop offset="1.000" stop-color="#ff8c00"/></linearGradient><linearGradient id="g103" x1="0" y1="0" x2="0" y2="1"><stop offset="0.000" stop-color="#832cf0"/><stop offset="0.068" stop-color="#7b28f0"/><stop offset="0.088" stop-color="#6420f1"/><stop offset="0.107" stop-color="#4517f4"/><stop offset="0.124" stop-color="#521bf3"/><stop offset="0.143" stop-color="#7526f0"/><stop offset="0.182" stop-color="#832bf0"/><stop offset="0.218" stop-color="#802af0"/><stop offset="0.244" stop-color="#5f1ff1"/><stop offset="0.274" stop-color="#230cf9"/><stop offset="0.280" stop-color="#1206fc"/><stop offset="0.283" stop-color="#0101fe"/><stop offset="0.287" stop-color="#080af6"/><stop offset="0.293" stop-color="#2138e7"/><stop offset="0.296" stop-color="#2855e6"/><stop offset="0.336" stop-color="#1d81f1"/><stop offset="0.362" stop-color="#099aff"/><stop offset="0.381" stop-color="#00b5ff"/><stop offset="0.391" stop-color="#0bbcfe"/><stop offset="0.440" stop-color="#86ccf0"/><stop offset="0.476" stop-color="#c4e1f4"/><stop offset="0.479" stop-color="#fffbc3"/><stop offset="0.528" stop-color="#ffe34e"/><stop offset="0.564" stop-color="#ffd627"/><stop offset="0.645" stop-color="#ffb000"/><stop offset="0.824" stop-color="#ff6500"/><stop offset="1.000" stop-color="#ff8c00"/></linearGradient><linearGradient id="g104" x1="0" y1="0" x2="0" y2="1"><stop offset="0.000" stop-color="#832cf0"/><stop offset="0.068" stop-color="#7b28f0"/><stop offset="0.088" stop-color="#6320f1"/><stop offset="0.107" stop-color="#4417f4"/><stop offset="0.124" stop-color="#521af3"/><stop offset="0.143" stop-color="#7426f0"/><stop offset="0.182" stop-color="#832bf0"/><stop offset="0.218" stop-color="#802af0"/><stop offset="0.244" stop-color="#5e1ef2"/><stop offset="0.274" stop-color="#220bf9"/><stop offset="0.283" stop-color="#0102fe"/><stop offset="0.287" stop-color="#090cf5"/><stop offset="0.296" stop-color="#2856e6"/><stop offset="0.336" stop-color="#1d81f2"/><stop offset="0.358" stop-color="#0c97ff"/><stop offset="0.375" stop-color="#00adff"/><stop offset="0.388" stop-color="#05bcfe"/><stop offset="0.440" stop-color="#88cdf0"/><stop offset="0.472" stop-color="#c2e0f3"/><stop offset="0.476" stop-color="#fffcc7"/><stop offset="0.528" stop-color="#ffe24b"/><stop offset="0.564" stop-color="#ffd526"/><stop offset="0.645" stop-color="#ffaf00"/><stop offset="0.821" stop-color="#ff6100"/><stop offset="1.000" stop-color="#ff8c00"/></linearGradient><linearGradient id="g105" x1="0" y1="0" x2="0" y2="1"><stop offset="0.000" stop-color="#832cf0"/><stop offset="0.068" stop-color="#7b28f0"/><stop offset="0.088" stop-color="#6320f1"/><stop offset="0.107" stop-color="#4416f4"/><stop offset="0.124" stop-color="#511af3"/><stop offset="0.143" stop-color="#7426f0"/><stop offset="0.182" stop-color="#832bf0"/><stop offset="0.218" stop-color="#7f2af0"/><stop offset="0.241" stop-color="#6420f1"/><stop offset="0.274" stop-color="#200bfa"/><stop offset="0.283" stop-color="#0202fd"/><stop offset="0.287" stop-color="#0b0ef3"/><stop offset="0.293" stop-color="#2340e7"/><stop offset="0.296" stop-color="#2857e6"/><stop offset="0.336" stop-color="#1d82f2"/><stop offset="0.362" stop-color="#089cff"/><stop offset="0.378" stop-color="#00b2ff"/><stop offset="0.388" stop-color="#06bcfe"/><stop offset="0.440" stop-color="#89cdf0"/><stop offset="0.472" stop-color="#c2e0f3"/><stop offset="0.476" stop-color="#fffcc7"/><stop offset="0.528" stop-color="#ffe24b"/><stop offset="0.564" stop-color="#ffd526"/><stop offset="0.645" stop-color="#ffaf00"/><stop offset="0.821" stop-color="#ff5f00"/><stop offset="1.000" stop-color="#ff8c00"/></linearGradient><linearGradient id="g106" x1="0" y1="0" x2="0" y2="1"><stop offset="0.000" stop-color="#832cf0"/><stop offset="0.068" stop-color="#7b28f0"/><stop offset="0.088" stop-color="#6320f1"/><stop offset="0.107" stop-color="#4416f4"/><stop offset="0.124" stop-color="#511af3"/><stop offset="0.143" stop-color="#7426f0"/><stop offset="0.182" stop-color="#832bf0"/><stop offset="0.218" stop-color="#7f2af0"/><stop offset="0.241" stop-color="#6320f1"/><stop offset="0.274" stop-color="#1f0afa"/><stop offset="0.283" stop-color="#0203fc"/><stop offset="0.287" stop-color="#0d10f2"/><stop offset="0.293" stop-color="#2544e7"/><stop offset="0.296" stop-color="#2858e6"/><stop offset="0.332" stop-color="#1e7ff0"/><stop offset="0.358" stop-color="#0c98ff"/><stop offset="0.375" stop-color="#00aeff"/><stop offset="0.388" stop-color="#07bcfe"/><stop offset="0.440" stop-color="#89cdf0"/><stop offset="0.472" stop-color="#c2e0f3"/><stop offset="0.476" stop-color="#fffcc7"/><stop offset="0.528" stop-color="#ffe24b"/><stop offset="0.564" stop-color="#ffd526"/><stop offset="0.645" stop-color="#ffb000"/><stop offset="0.821" stop-color="#ff5d00"/><stop offset="1.000" stop-color="#ff8d00"/></linearGradient><linearGradient id="g107" x1="0" y1="0" x2="0" y2="1"><stop offset="0.000" stop-color="#832cf0"/><stop offset="0.068" stop-color="#7b28f0"/><stop offset="0.088" stop-color="#6320f1"/><stop offset="0.107" stop-color="#4416f4"/><stop offset="0.124" stop-color="#511af3"/><stop offset="0.143" stop-color="#7426f0"/><stop offset="0.182" stop-color="#832bf0"/><stop offset="0.218" stop-color="#7f2af0"/><stop offset="0.241" stop-color="#621ff1"/><stop offset="0.274" stop-color="#1e0afa"/><stop offset="0.280" stop-color="#0502fe"/><stop offset="0.283" stop-color="#0304fc"/><stop offset="0.290" stop-color="#1d2be9"/><stop offset="0.293" stop-color="#2648e6"/><stop offset="0.296" stop-color="#2858e6"/><stop offset="0.332" stop-color="#1e80f0"/><stop offset="0.358" stop-color="#0b98ff"/><stop offset="0.375" stop-color="#00aeff"/><stop offset="0.384" stop-color="#00bbff"/><stop offset="0.440" stop-color="#89cdf0"/><stop offset="0.472" stop-color="#c2e0f3"/><stop offset="0.476" stop-color="#fffcc7"/><stop offset="0.528" stop-color="#ffe24b"/><stop offset="0.564" stop-color="#ffd526"/><stop offset="0.645" stop-color="#ffb000"/><stop offset="0.821" stop-color="#ff5c00"/><stop offset="0.993" stop-color="#ff8c00"/><stop offset="1.000" stop-color="#ff8d00"/></linearGradient><linearGradient id="g108" x1="0" y1="0" x2="0" y2="1"><stop offset="0.000" stop-color="#832cf0"/><stop offset="0.068" stop-color="#7b28f0"/><stop offset="0.088" stop-color="#6420f1"/><stop offset="0.107" stop-color="#4517f4"/><stop offset="0.124" stop-color="#521bf3"/><stop offset="0.143" stop-color="#7526f0"/><stop offset="0.182" stop-color="#832bf0"/><stop offset="0.218" stop-color="#7e29f0"/><stop offset="0.241" stop-color="#611ff1"/><stop offset="0.274" stop-color="#1d0afa"/><stop offset="0.280" stop-color="#0201ff"/><stop offset="0.283" stop-color="#0506fa"/><stop offset="0.290" stop-color="#1f2fe8"/><stop offset="0.293" stop-color="#274de6"/><stop offset="0.300" stop-color="#285de6"/><stop offset="0.339" stop-color="#1a85f5"/><stop offset="0.365" stop-color="#03a1ff"/><stop offset="0.384" stop-color="#00bcff"/><stop offset="0.440" stop-color="#89cdf0"/><stop offset="0.472" stop-color="#c2e0f3"/><stop offset="0.476" stop-color="#fffcc7"/><stop offset="0.528" stop-color="#ffe24b"/><stop offset="0.564" stop-color="#ffd526"/><stop offset="0.645" stop-color="#ffb000"/><stop offset="0.821" stop-color="#ff5a00"/><stop offset="0.984" stop-color="#ff8a00"/><stop offset="1.000" stop-color="#ff8d00"/></linearGradient><linearGradient id="g109" x1="0" y1="0" x2="0" y2="1"><stop offset="0.000" stop-color="#832cf0"/><stop offset="0.068" stop-color="#7b28f0"/><stop offset="0.088" stop-color="#6520f1"/><stop offset="0.107" stop-color="#4717f4"/><stop offset="0.124" stop-color="#531bf3"/><stop offset="0.143" stop-color="#7526f0"/><stop offset="0.186" stop-color="#832bf0"/><stop offset="0.218" stop-color="#7e29f0"/><stop offset="0.241" stop-color="#601ff1"/><stop offset="0.270" stop-color="#240cf9"/><stop offset="0.277" stop-color="#1306fc"/><stop offset="0.280" stop-color="#0000ff"/><stop offset="0.283" stop-color="#0608f8"/><stop offset="0.290" stop-color="#2033e8"/><stop offset="0.293" stop-color="#2851e6"/><stop offset="0.322" stop-color="#2377eb"/><stop offset="0.358" stop-color="#0a99ff"/><stop offset="0.375" stop-color="#00afff"/><stop offset="0.384" stop-color="#00bcff"/><stop offset="0.436" stop-color="#83cbf0"/><stop offset="0.472" stop-color="#c2e0f3"/><stop offset="0.476" stop-color="#fffcc7"/><stop offset="0.528" stop-color="#ffe24b"/><stop offset="0.564" stop-color="#ffd526"/><stop offset="0.645" stop-color="#ffb000"/><stop offset="0.821" stop-color="#ff5900"/><stop offset="0.980" stop-color="#ff8a00"/><stop offset="1.000" stop-color="#ff8d00"/></linearGradient><linearGradient id="g110" x1="0" y1="0" x2="0" y2="1"><stop offset="0.000" stop-color="#832cf0"/><stop offset="0.068" stop-color="#7c28f0"/><stop offset="0.088" stop-color="#6621f1"/><stop offset="0.107" stop-color="#4818f4"/><stop offset="0.124" stop-color="#551bf3"/><stop offset="0.143" stop-color="#7526f0"/><stop offset="0.186" stop-color="#832bf0"/><stop offset="0.215" stop-color="#802af0"/><stop offset="0.241" stop-color="#5f1ff1"/><stop offset="0.270" stop-color="#230cf9"/><stop offset="0.277" stop-color="#1206fc"/><stop offset="0.280" stop-color="#0101fe"/><stop offset="0.283" stop-color="#080af7"/><stop offset="0.290" stop-color="#2137e7"/><stop offset="0.293" stop-color="#2854e6"/><stop offset="0.332" stop-color="#1e81f1"/><stop offset="0.358" stop-color="#0a99ff"/><stop offset="0.375" stop-color="#00afff"/><stop offset="0.384" stop-color="#01bcff"/><stop offset="0.436" stop-color="#83cbf0"/><stop offset="0.472" stop-color="#c2e0f3"/><stop offset="0.476" stop-color="#fffcc7"/><stop offset="0.528" stop-color="#ffe24b"/><stop offset="0.564" stop-color="#ffd526"/><stop offset="0.645" stop-color="#ffb000"/><stop offset="0.821" stop-color="#ff5900"/><stop offset="0.977" stop-color="#ff8a00"/><stop offset="1.000" stop-color="#ff8e00"/></linearGradient><linearGradient id="g111" x1="0" y1="0" x2="0" y2="1"><stop offset="0.000" stop-color="#832cf0"/><stop offset="0.068" stop-color="#7c29f0"/><stop offset="0.088" stop-color="#6721f1"/><stop offset="0.107" stop-color="#4b18f4"/><stop offset="0.124" stop-color="#571cf2"/><stop offset="0.143" stop-color="#7626f0"/><stop offset="0.186" stop-color="#832bf0"/><stop offset="0.215" stop-color="#802af0"/><stop offset="0.241" stop-color="#5f1ef2"/><stop offset="0.270" stop-color="#220bf9"/><stop offset="0.280" stop-color="#0102fe"/><stop offset="0.283" stop-color="#090cf5"/><stop offset="0.293" stop-color="#2856e6"/><stop offset="0.332" stop-color="#1d81f1"/><stop offset="0.358" stop-color="#0a99ff"/><stop offset="0.375" stop-color="#00afff"/><stop offset="0.384" stop-color="#00bcff"/><stop offset="0.436" stop-color="#83cbf0"/><stop offset="0.472" stop-color="#c1e0f3"/><stop offset="0.476" stop-color="#fffcc8"/><stop offset="0.528" stop-color="#ffe34b"/><stop offset="0.564" stop-color="#ffd527"/><stop offset="0.645" stop-color="#ffb000"/><stop offset="0.821" stop-color="#ff5a00"/><stop offset="0.980" stop-color="#ff8b00"/><stop offset="1.000" stop-color="#ff8e00"/></linearGradient><linearGradient id="g112" x1="0" y1="0" x2="0" y2="1"><stop offset="0.000" stop-color="#832cf0"/><stop offset="0.068" stop-color="#7c29f0"/><stop offset="0.091" stop-color="#6320f1"/><stop offset="0.107" stop-color="#4d19f3"/><stop offset="0.124" stop-color="#591df2"/><stop offset="0.147" stop-color="#7927f0"/><stop offset="0.199" stop-color="#832cf0"/><stop offset="0.218" stop-color="#7c29f0"/><stop offset="0.241" stop-color="#5e1ef2"/><stop offset="0.270" stop-color="#200bfa"/><stop offset="0.280" stop-color="#0202fd"/><stop offset="0.283" stop-color="#0b0ef3"/><stop offset="0.290" stop-color="#2340e7"/><stop offset="0.293" stop-color="#2857e6"/><stop offset="0.332" stop-color="#1d81f1"/><stop offset="0.358" stop-color="#0a99ff"/><stop offset="0.375" stop-color="#00afff"/><stop offset="0.384" stop-color="#00bbff"/><stop offset="0.440" stop-color="#87ccf0"/><stop offset="0.476" stop-color="#c4e1f4"/><stop offset="0.479" stop-color="#fffbc4"/><stop offset="0.528" stop-color="#ffe34e"/><stop offset="0.564" stop-color="#ffd627"/><stop offset="0.648" stop-color="#ffaf00"/><stop offset="0.821" stop-color="#ff5c00"/><stop offset="0.987" stop-color="#ff8c00"/><stop offset="1.000" stop-color="#ff8e00"/></linearGradient><linearGradient id="g113" x1="0" y1="0" x2="0" y2="1"><stop offset="0.000" stop-color="#832cf0"/><stop offset="0.068" stop-color="#7c29f0"/><stop offset="0.091" stop-color="#6520f1"/><stop offset="0.111" stop-color="#501af3"/><stop offset="0.130" stop-color="#6721f1"/><stop offset="0.160" stop-color="#802af0"/><stop offset="0.215" stop-color="#7f2af0"/><stop offset="0.238" stop-color="#6320f1"/><stop offset="0.270" stop-color="#1f0afa"/><stop offset="0.280" stop-color="#0203fc"/><stop offset="0.283" stop-color="#0d10f2"/><stop offset="0.290" stop-color="#2544e7"/><stop offset="0.293" stop-color="#2857e6"/><stop offset="0.332" stop-color="#1d81f1"/><stop offset="0.358" stop-color="#0b99ff"/><stop offset="0.375" stop-color="#00aeff"/><stop offset="0.388" stop-color="#06bcfe"/><stop offset="0.440" stop-color="#84ccf0"/><stop offset="0.476" stop-color="#c1e0f3"/><stop offset="0.479" stop-color="#fffcc8"/><stop offset="0.531" stop-color="#ffe24b"/><stop offset="0.567" stop-color="#ffd526"/><stop offset="0.648" stop-color="#ffaf00"/><stop offset="0.821" stop-color="#ff5e00"/><stop offset="0.993" stop-color="#ff8e00"/><stop offset="1.000" stop-color="#ff8e00"/></linearGradient><linearGradient id="g114" x1="0" y1="0" x2="0" y2="1"><stop offset="0.000" stop-color="#832cf0"/><stop offset="0.072" stop-color="#7b28f0"/><stop offset="0.094" stop-color="#621ff1"/><stop offset="0.111" stop-color="#531bf3"/><stop offset="0.130" stop-color="#6922f0"/><stop offset="0.163" stop-color="#812bf0"/><stop offset="0.215" stop-color="#7f2af0"/><stop offset="0.238" stop-color="#621ff1"/><stop offset="0.270" stop-color="#1e0afa"/><stop offset="0.277" stop-color="#0602fe"/><stop offset="0.280" stop-color="#0304fc"/><stop offset="0.287" stop-color="#1d2be9"/><stop offset="0.290" stop-color="#2648e6"/><stop offset="0.293" stop-color="#2858e6"/><stop offset="0.332" stop-color="#1d81f1"/><stop offset="0.358" stop-color="#0b98ff"/><stop offset="0.375" stop-color="#00adff"/><stop offset="0.388" stop-color="#04bcfe"/><stop offset="0.443" stop-color="#88cdf0"/><stop offset="0.479" stop-color="#c4e1f4"/><stop offset="0.482" stop-color="#fffbc4"/><stop offset="0.531" stop-color="#ffe34d"/><stop offset="0.567" stop-color="#ffd627"/><stop offset="0.648" stop-color="#ffb000"/><stop offset="0.821" stop-color="#ff6100"/><stop offset="1.000" stop-color="#ff8f00"/></linearGradient><linearGradient id="g115" x1="0" y1="0" x2="0" y2="1"><stop offset="0.000" stop-color="#832cf0"/><stop offset="0.072" stop-color="#7b28f0"/><stop offset="0.111" stop-color="#571cf2"/><stop offset="0.156" stop-color="#7f2af0"/><stop offset="0.212" stop-color="#812bf0"/><stop offset="0.238" stop-color="#611ff1"/><stop offset="0.270" stop-color="#1d0afa"/><stop offset="0.277" stop-color="#0301ff"/><stop offset="0.280" stop-color="#0506fa"/><stop offset="0.287" stop-color="#1e2fe8"/><stop offset="0.290" stop-color="#274ce6"/><stop offset="0.296" stop-color="#285de6"/><stop offset="0.336" stop-color="#1c83f3"/><stop offset="0.362" stop-color="#089cff"/><stop offset="0.381" stop-color="#00b5ff"/><stop offset="0.391" stop-color="#0bbcfe"/><stop offset="0.443" stop-color="#86ccf0"/><stop offset="0.479" stop-color="#c2e0f3"/><stop offset="0.482" stop-color="#fffcc7"/><stop offset="0.531" stop-color="#ffe450"/><stop offset="0.567" stop-color="#ffd628"/><stop offset="0.651" stop-color="#ffaf00"/><stop offset="0.824" stop-color="#ff6500"/><stop offset="1.000" stop-color="#ff8f00"/></linearGradient><linearGradient id="g116" x1="0" y1="0" x2="0" y2="1"><stop offset="0.000" stop-color="#832cf0"/><stop offset="0.072" stop-color="#7c28f0"/><stop offset="0.111" stop-color="#5b1df2"/><stop offset="0.160" stop-color="#802af0"/><stop offset="0.212" stop-color="#812bf0"/><stop offset="0.238" stop-color="#601ff1"/><stop offset="0.270" stop-color="#1c09fa"/><stop offset="0.274" stop-color="#1306fc"/><stop offset="0.277" stop-color="#0000ff"/><stop offset="0.280" stop-color="#0608f8"/><stop offset="0.287" stop-color="#2033e8"/><stop offset="0.290" stop-color="#2850e6"/><stop offset="0.319" stop-color="#2475ea"/><stop offset="0.358" stop-color="#0b98ff"/><stop offset="0.378" stop-color="#00b0ff"/><stop offset="0.388" stop-color="#02bcff"/><stop offset="0.443" stop-color="#84ccf0"/><stop offset="0.482" stop-color="#c4e1f4"/><stop offset="0.485" stop-color="#fffbc3"/><stop offset="0.534" stop-color="#ffe34d"/><stop offset="0.570" stop-color="#ffd527"/><stop offset="0.651" stop-color="#ffb000"/><stop offset="0.821" stop-color="#ff6800"/><stop offset="1.000" stop-color="#ff8f00"/></linearGradient><linearGradient id="g117" x1="0" y1="0" x2="0" y2="1"><stop offset="0.000" stop-color="#832cf0"/><stop offset="0.072" stop-color="#7c29f0"/><stop offset="0.111" stop-color="#5f1ef2"/><stop offset="0.163" stop-color="#812bf0"/><stop offset="0.212" stop-color="#802af0"/><stop offset="0.238" stop-color="#5f1ff1"/><stop offset="0.267" stop-color="#230cf9"/><stop offset="0.274" stop-color="#1206fc"/><stop offset="0.277" stop-color="#0101fe"/><stop offset="0.280" stop-color="#080af7"/><stop offset="0.287" stop-color="#2137e7"/><stop offset="0.290" stop-color="#2854e6"/><stop offset="0.329" stop-color="#1f7eef"/><stop offset="0.362" stop-color="#089cff"/><stop offset="0.384" stop-color="#00b8ff"/><stop offset="0.394" stop-color="#10bdfd"/><stop offset="0.446" stop-color="#88cdf0"/><stop offset="0.482" stop-color="#c2e0f3"/><stop offset="0.485" stop-color="#fffcc7"/><stop offset="0.534" stop-color="#ffe44f"/><stop offset="0.570" stop-color="#ffd627"/><stop offset="0.651" stop-color="#ffb000"/><stop offset="0.818" stop-color="#ff6c00"/><stop offset="1.000" stop-color="#ff8f00"/></linearGradient><linearGradient id="g118" x1="0" y1="0" x2="0" y2="1"><stop offset="0.000" stop-color="#832cf0"/><stop offset="0.075" stop-color="#7b28f0"/><stop offset="0.114" stop-color="#6320f1"/><stop offset="0.163" stop-color="#812bf0"/><stop offset="0.212" stop-color="#802af0"/><stop offset="0.238" stop-color="#5f1ef2"/><stop offset="0.267" stop-color="#220bf9"/><stop offset="0.277" stop-color="#0102fe"/><stop offset="0.280" stop-color="#090bf5"/><stop offset="0.290" stop-color="#2856e6"/><stop offset="0.329" stop-color="#1f7eef"/><stop offset="0.362" stop-color="#099bff"/><stop offset="0.384" stop-color="#00b7ff"/><stop offset="0.394" stop-color="#0ebcfd"/><stop offset="0.450" stop-color="#8ccef0"/><stop offset="0.485" stop-color="#c4e1f4"/><stop offset="0.489" stop-color="#fffbc3"/><stop offset="0.537" stop-color="#ffe34c"/><stop offset="0.573" stop-color="#ffd526"/><stop offset="0.655" stop-color="#ffaf00"/><stop offset="0.801" stop-color="#ff7400"/><stop offset="0.840" stop-color="#ff7200"/><stop offset="1.000" stop-color="#ff9000"/></linearGradient><linearGradient id="g119" x1="0" y1="0" x2="0" y2="1"><stop offset="0.000" stop-color="#832cf0"/><stop offset="0.075" stop-color="#7b28f0"/><stop offset="0.114" stop-color="#6621f1"/><stop offset="0.166" stop-color="#822bf0"/><stop offset="0.212" stop-color="#802af0"/><stop offset="0.235" stop-color="#6420f1"/><stop offset="0.267" stop-color="#210bfa"/><stop offset="0.277" stop-color="#0202fd"/><stop offset="0.280" stop-color="#0a0df4"/><stop offset="0.290" stop-color="#2857e6"/><stop offset="0.332" stop-color="#1d81f1"/><stop offset="0.362" stop-color="#099bff"/><stop offset="0.384" stop-color="#00b7ff"/><stop offset="0.394" stop-color="#0dbcfd"/><stop offset="0.450" stop-color="#8acdf0"/><stop offset="0.485" stop-color="#c3e0f4"/><stop offset="0.489" stop-color="#fffcc6"/><stop offset="0.537" stop-color="#ffe34e"/><stop offset="0.573" stop-color="#ffd527"/><stop offset="0.655" stop-color="#ffb000"/><stop offset="0.785" stop-color="#ff7c00"/><stop offset="0.834" stop-color="#ff7200"/><stop offset="1.000" stop-color="#ff9000"/></linearGradient></defs><rect x="153.2" y="102.2" width="7.00" height="307.0" fill="url(#g0)"/><rect x="159.2" y="102.2" width="7.00" height="307.0" fill="url(#g1)"/><rect x="165.2" y="102.2" width="7.00" height="307.0" fill="url(#g2)"/><rect x="171.2" y="102.2" width="7.00" height="307.0" fill="url(#g3)"/><rect x="177.2" y="102.2" width="7.00" height="307.0" fill="url(#g4)"/><rect x="183.2" y="102.2" width="7.00" height="307.0" fill="url(#g5)"/><rect x="189.2" y="102.2" width="7.00" height="307.0" fill="url(#g6)"/><rect x="195.2" y="102.2" width="7.00" height="307.0" fill="url(#g7)"/><rect x="201.2" y="102.2" width="7.00" height="307.0" fill="url(#g8)"/><rect x="207.2" y="102.2" width="7.00" height="307.0" fill="url(#g9)"/><rect x="213.2" y="102.2" width="7.00" height="307.0" fill="url(#g10)"/><rect x="219.2" y="102.2" width="7.00" height="307.0" fill="url(#g11)"/><rect x="225.2" y="102.2" width="7.00" height="307.0" fill="url(#g12)"/><rect x="231.2" y="102.2" width="7.00" height="307.0" fill="url(#g13)"/><rect x="237.2" y="102.2" width="7.00" height="307.0" fill="url(#g14)"/><rect x="243.2" y="102.2" width="7.00" height="307.0" fill="url(#g15)"/><rect x="249.2" y="102.2" width="7.00" height="307.0" fill="url(#g16)"/><rect x="255.2" y="102.2" width="7.00" height="307.0" fill="url(#g17)"/><rect x="261.2" y="102.2" width="7.00" height="307.0" fill="url(#g18)"/><rect x="267.2" y="102.2" width="7.00" height="307.0" fill="url(#g19)"/><rect x="273.2" y="102.2" width="7.00" height="307.0" fill="url(#g20)"/><rect x="279.2" y="102.2" width="7.00" height="307.0" fill="url(#g21)"/><rect x="285.2" y="102.2" width="7.00" height="307.0" fill="url(#g22)"/><rect x="291.2" y="102.2" width="7.00" height="307.0" fill="url(#g23)"/><rect x="297.2" y="102.2" width="7.00" height="307.0" fill="url(#g24)"/><rect x="303.2" y="102.2" width="7.00" height="307.0" fill="url(#g25)"/><rect x="309.2" y="102.2" width="7.00" height="307.0" fill="url(#g26)"/><rect x="315.2" y="102.2" width="7.00" height="307.0" fill="url(#g27)"/><rect x="321.2" y="102.2" width="7.00" height="307.0" fill="url(#g28)"/><rect x="327.2" y="102.2" width="7.00" height="307.0" fill="url(#g29)"/><rect x="333.2" y="102.2" width="7.00" height="307.0" fill="url(#g30)"/><rect x="339.2" y="102.2" width="7.00" height="307.0" fill="url(#g31)"/><rect x="345.2" y="102.2" width="7.00" height="307.0" fill="url(#g32)"/><rect x="351.2" y="102.2" width="7.00" height="307.0" fill="url(#g33)"/><rect x="357.2" y="102.2" width="7.00" height="307.0" fill="url(#g34)"/><rect x="363.2" y="102.2" width="7.00" height="307.0" fill="url(#g35)"/><rect x="369.2" y="102.2" width="7.00" height="307.0" fill="url(#g36)"/><rect x="375.2" y="102.2" width="7.00" height="307.0" fill="url(#g37)"/><rect x="381.2" y="102.2" width="7.00" height="307.0" fill="url(#g38)"/><rect x="387.2" y="102.2" width="7.00" height="307.0" fill="url(#g39)"/><rect x="393.2" y="102.2" width="7.00" height="307.0" fill="url(#g40)"/><rect x="399.2" y="102.2" width="7.00" height="307.0" fill="url(#g41)"/><rect x="405.2" y="102.2" width="7.00" height="307.0" fill="url(#g42)"/><rect x="411.2" y="102.2" width="7.00" height="307.0" fill="url(#g43)"/><rect x="417.2" y="102.2" width="7.00" height="307.0" fill="url(#g44)"/><rect x="423.2" y="102.2" width="7.00" height="307.0" fill="url(#g45)"/><rect x="429.2" y="102.2" width="7.00" height="307.0" fill="url(#g46)"/><rect x="435.2" y="102.2" width="7.00" height="307.0" fill="url(#g47)"/><rect x="441.2" y="102.2" width="7.00" height="307.0" fill="url(#g48)"/><rect x="447.2" y="102.2" width="7.00" height="307.0" fill="url(#g49)"/><rect x="453.2" y="102.2" width="7.00" height="307.0" fill="url(#g50)"/><rect x="459.2" y="102.2" width="7.00" height="307.0" fill="url(#g51)"/><rect x="465.2" y="102.2" width="7.00" height="307.0" fill="url(#g52)"/><rect x="471.2" y="102.2" width="7.00" height="307.0" fill="url(#g53)"/><rect x="477.2" y="102.2" width="7.00" height="307.0" fill="url(#g54)"/><rect x="483.2" y="102.2" width="7.00" height="307.0" fill="url(#g55)"/><rect x="489.2" y="102.2" width="7.00" height="307.0" fill="url(#g56)"/><rect x="495.2" y="102.2" width="7.00" height="307.0" fill="url(#g57)"/><rect x="501.2" y="102.2" width="7.00" height="307.0" fill="url(#g58)"/><rect x="507.2" y="102.2" width="7.00" height="307.0" fill="url(#g59)"/><rect x="513.2" y="102.2" width="7.00" height="307.0" fill="url(#g60)"/><rect x="519.2" y="102.2" width="7.00" height="307.0" fill="url(#g61)"/><rect x="525.2" y="102.2" width="7.00" height="307.0" fill="url(#g62)"/><rect x="531.2" y="102.2" width="7.00" height="307.0" fill="url(#g63)"/><rect x="537.2" y="102.2" width="7.00" height="307.0" fill="url(#g64)"/><rect x="543.2" y="102.2" width="7.00" height="307.0" fill="url(#g65)"/><rect x="549.2" y="102.2" width="7.00" height="307.0" fill="url(#g66)"/><rect x="555.2" y="102.2" width="7.00" height="307.0" fill="url(#g67)"/><rect x="561.2" y="102.2" width="7.00" height="307.0" fill="url(#g68)"/><rect x="567.2" y="102.2" width="7.00" height="307.0" fill="url(#g69)"/><rect x="573.2" y="102.2" width="7.00" height="307.0" fill="url(#g70)"/><rect x="579.2" y="102.2" width="7.00" height="307.0" fill="url(#g71)"/><rect x="585.2" y="102.2" width="7.00" height="307.0" fill="url(#g72)"/><rect x="591.2" y="102.2" width="7.00" height="307.0" fill="url(#g73)"/><rect x="597.2" y="102.2" width="7.00" height="307.0" fill="url(#g74)"/><rect x="603.2" y="102.2" width="7.00" height="307.0" fill="url(#g75)"/><rect x="609.2" y="102.2" width="7.00" height="307.0" fill="url(#g76)"/><rect x="615.2" y="102.2" width="7.00" height="307.0" fill="url(#g77)"/><rect x="621.2" y="102.2" width="7.00" height="307.0" fill="url(#g78)"/><rect x="627.2" y="102.2" width="7.00" height="307.0" fill="url(#g79)"/><rect x="633.2" y="102.2" width="7.00" height="307.0" fill="url(#g80)"/><rect x="639.2" y="102.2" width="7.00" height="307.0" fill="url(#g81)"/><rect x="645.2" y="102.2" width="7.00" height="307.0" fill="url(#g82)"/><rect x="651.2" y="102.2" width="7.00" height="307.0" fill="url(#g83)"/><rect x="657.2" y="102.2" width="7.00" height="307.0" fill="url(#g84)"/><rect x="663.2" y="102.2" width="7.00" height="307.0" fill="url(#g85)"/><rect x="669.2" y="102.2" width="7.00" height="307.0" fill="url(#g86)"/><rect x="675.2" y="102.2" width="7.00" height="307.0" fill="url(#g87)"/><rect x="681.2" y="102.2" width="7.00" height="307.0" fill="url(#g88)"/><rect x="687.2" y="102.2" width="7.00" height="307.0" fill="url(#g89)"/><rect x="693.2" y="102.2" width="7.00" height="307.0" fill="url(#g90)"/><rect x="699.2" y="102.2" width="7.00" height="307.0" fill="url(#g91)"/><rect x="705.2" y="102.2" width="7.00" height="307.0" fill="url(#g92)"/><rect x="711.2" y="102.2" width="7.00" height="307.0" fill="url(#g93)"/><rect x="717.2" y="102.2" width="7.00" height="307.0" fill="url(#g94)"/><rect x="723.2" y="102.2" width="7.00" height="307.0" fill="url(#g95)"/><rect x="729.2" y="102.2" width="7.00" height="307.0" fill="url(#g96)"/><rect x="735.2" y="102.2" width="7.00" height="307.0" fill="url(#g97)"/><rect x="741.2" y="102.2" width="7.00" height="307.0" fill="url(#g98)"/><rect x="747.2" y="102.2" width="7.00" height="307.0" fill="url(#g99)"/><rect x="753.2" y="102.2" width="7.00" height="307.0" fill="url(#g100)"/><rect x="759.2" y="102.2" width="7.00" height="307.0" fill="url(#g101)"/><rect x="765.2" y="102.2" width="7.00" height="307.0" fill="url(#g102)"/><rect x="771.2" y="102.2" width="7.00" height="307.0" fill="url(#g103)"/><rect x="777.2" y="102.2" width="7.00" height="307.0" fill="url(#g104)"/><rect x="783.2" y="102.2" width="7.00" height="307.0" fill="url(#g105)"/><rect x="789.2" y="102.2" width="7.00" height="307.0" fill="url(#g106)"/><rect x="795.2" y="102.2" width="7.00" height="307.0" fill="url(#g107)"/><rect x="801.2" y="102.2" width="7.00" height="307.0" fill="url(#g108)"/><rect x="807.2" y="102.2" width="7.00" height="307.0" fill="url(#g109)"/><rect x="813.2" y="102.2" width="7.00" height="307.0" fill="url(#g110)"/><rect x="819.2" y="102.2" width="7.00" height="307.0" fill="url(#g111)"/><rect x="825.2" y="102.2" width="7.00" height="307.0" fill="url(#g112)"/><rect x="831.2" y="102.2" width="7.00" height="307.0" fill="url(#g113)"/><rect x="837.2" y="102.2" width="7.00" height="307.0" fill="url(#g114)"/><rect x="843.2" y="102.2" width="7.00" height="307.0" fill="url(#g115)"/><rect x="849.2" y="102.2" width="7.00" height="307.0" fill="url(#g116)"/><rect x="855.2" y="102.2" width="7.00" height="307.0" fill="url(#g117)"/><rect x="861.2" y="102.2" width="7.00" height="307.0" fill="url(#g118)"/><rect x="867.2" y="102.2" width="3.00" height="307.0" fill="url(#g119)"/><clipPath id="mclip"><rect x="153.2" y="102.2" width="717.0" height="307.0"/></clipPath><g clip-path="url(#mclip)"><path d="M153.2 399.3L177.2 399.3M153.2 389.4L177.2 389.4M153.2 379.4L177.2 379.4M153.2 369.5L177.2 369.5M153.2 359.6L177.2 359.6M153.2 349.7L177.2 349.7M153.2 339.8L177.2 339.8M153.2 329.8L177.2 329.8M153.2 319.9L177.2 319.9M153.2 310.0L177.2 310.0M153.2 300.1L177.2 300.1M153.2 290.2L177.2 290.2M153.2 280.2L177.2 280.2M153.2 270.3L177.2 270.3M153.2 260.4L177.2 260.4M153.2 250.5L177.2 250.5M153.2 240.6L177.2 240.6M153.2 230.6L177.2 230.6M153.2 220.7L177.2 220.7M153.2 210.8L177.2 210.8M153.2 200.9L177.2 200.9M153.2 191.0L177.2 191.0M153.2 181.0L177.2 181.0M153.2 171.1L177.2 171.1M153.2 161.2L177.2 161.2M153.2 151.3L177.2 151.3M153.2 141.4L177.2 141.4M153.2 131.4L177.2 131.4M153.2 121.5L177.2 121.5M153.2 111.6L177.2 111.6M166.0 399.3L135.1 380.7M135.1 380.7l0.2 -9.0M138.6 382.8l0.1 -5.0M166.0 389.4L137.5 368.2M137.5 368.2l1.0 -8.9M166.0 379.4L140.8 348.3M140.8 348.3l3.2 -8.4M143.3 351.4l1.8 -4.7M166.0 369.5L139.4 348.6M139.4 348.6l1.3 -8.9M166.0 359.6L135.3 335.2M135.3 335.2l1.3 -8.9M166.0 349.7L135.7 323.4M135.7 323.4l1.7 -8.8M166.0 339.8L145.7 317.6M145.7 317.6l2.7 -8.6M166.0 329.8L134.0 304.3M134.0 304.3l1.3 -8.9M137.1 306.8l0.7 -4.9M166.0 319.9L144.2 298.0M144.2 298.0l2.4 -8.7M147.1 300.9l1.3 -4.8M166.0 310.0L136.4 284.1M136.4 284.1l1.8 -8.8M166.0 300.1L136.8 270.5M136.8 270.5l2.4 -8.7M139.6 273.3l1.3 -4.8M166.0 290.2L143.7 268.1M143.7 268.1l2.3 -8.7M166.0 280.2L137.8 252.5M137.8 252.5l2.3 -8.7M166.0 270.3L140.0 244.4M140.0 244.4l2.3 -8.7M166.0 260.4L152.8 227.9M152.8 227.9l5.5 -7.1M166.0 250.5L158.2 284.6M158.2 284.6l-8.6 2.6M166.0 240.6L144.2 276.4M144.2 276.4l-9.0 -0.2M166.0 230.6L165.0 195.9M165.0 195.9l7.7 -4.7M165.1 199.9l7.7 -4.7M165.3 203.9l4.3 -2.6M166.0 220.7L149.3 192.8M149.3 192.8l4.4 -7.9M166.0 210.8L145.1 244.8M145.1 244.8l-9.0 -0.2M166.0 200.9L154.7 172.9M154.7 172.9l5.6 -7.1M166.0 191.0L131.8 175.7M131.8 175.7l-0.9 -9.0M166.0 181.0L135.5 172.8M140.3 174.1l0.4 -5.0M147.1 176.0l0.4 -5.0M166.0 171.1L133.6 161.7M138.3 163.1l0.5 -5.0M145.0 165.0l0.5 -5.0M166.0 161.2L130.4 149.3M135.6 151.0l0.7 -4.9M142.2 153.3l0.7 -4.9M148.9 155.5l0.7 -4.9M166.0 151.3L132.6 142.2M133.2 142.4l0.5 -5.0M139.9 144.2l0.5 -5.0M166.0 141.4L131.6 130.2M137.3 132.0l0.7 -5.0M143.9 134.2l0.7 -5.0M166.0 131.4L132.6 122.2M139.5 124.1l0.5 -5.0M146.3 126.0l0.5 -5.0M166.0 121.5L125.3 115.2M126.3 115.4l-0.1 -5.0M133.3 116.5l-0.1 -5.0M140.2 117.5l-0.1 -5.0M166.0 111.6L131.1 103.8M135.9 104.9l0.2 -5.0M142.8 106.4l0.2 -5.0M149.6 107.9l0.2 -5.0M178.8 399.3L148.0 372.3M148.0 372.3l1.8 -8.8M151.0 374.9l1.0 -4.9M178.8 389.4L155.4 369.3M155.4 369.3l1.6 -8.8M178.8 379.4L153.2 358.0M153.2 358.0l1.5 -8.9M156.3 360.6l0.9 -4.9M178.8 369.5L147.7 341.8M147.7 341.8l1.8 -8.8M178.8 359.6L154.3 336.1M154.3 336.1l2.2 -8.7M157.2 338.8l1.2 -4.9M178.8 349.7L153.1 324.1M153.1 324.1l2.3 -8.7M156.0 326.9l2.3 -8.7M158.8 329.7l1.3 -4.8M178.8 339.8L149.4 319.6M149.4 319.6l0.7 -9.0M178.8 329.8L152.2 309.1M152.2 309.1l1.2 -8.9M178.8 319.9L155.9 299.3M155.9 299.3l1.9 -8.8M178.8 310.0L155.6 288.5M155.6 288.5l2.0 -8.8M178.8 300.1L155.7 280.2M155.7 280.2l1.7 -8.8M158.7 282.8l1.7 -8.8M161.7 285.4l0.9 -4.9M178.8 290.2L151.8 262.2M151.8 262.2l2.5 -8.6M178.8 280.2L158.5 256.8M158.5 256.8l2.9 -8.5M161.1 259.8l1.6 -4.7M178.8 270.3L157.0 248.4M157.0 248.4l2.4 -8.7M159.8 251.2l2.4 -8.7M162.7 254.0l1.3 -4.8M178.8 260.4L162.8 293.6M162.8 293.6l-9.0 0.7M164.6 290.0l-5.0 0.4M178.8 250.5L162.1 280.7M162.1 280.7l-9.0 0.2M178.8 240.6L161.7 202.3M161.7 202.3l5.3 -7.3M163.3 205.9l5.3 -7.3M165.0 209.6l2.9 -4.0M178.8 230.6L163.6 261.8M163.6 261.8l-9.0 0.6M165.3 258.2l-5.0 0.3M178.8 220.7L156.8 191.9M156.8 191.9l3.5 -8.3M159.2 195.1l1.9 -4.6M178.8 210.8L158.4 241.9M158.4 241.9l-9.0 -0.5M160.6 238.6l-5.0 -0.3M178.8 200.9L161.5 236.2M161.5 236.2l-9.0 0.6M163.3 232.6l-5.0 0.3M178.8 191.0L147.4 173.6M147.4 173.6l-0.2 -9.0M150.9 175.6l-0.2 -9.0M154.4 177.5l-0.1 -5.0M178.8 181.0L143.7 168.3M149.4 170.3l0.9 -4.9M156.0 172.7l0.9 -4.9M162.5 175.1l0.9 -4.9M178.8 171.1L147.1 158.5M150.8 159.9l1.0 -4.9M157.3 162.5l1.0 -4.9M163.8 165.1l1.0 -4.9M178.8 161.2L147.6 150.4M153.7 152.5l0.8 -4.9M160.3 154.8l0.8 -4.9M166.9 157.1l0.8 -4.9M178.8 151.3L142.5 136.9M144.1 137.6l1.0 -4.9M150.6 140.1l1.0 -4.9M178.8 141.4L147.9 131.4M150.5 132.2l0.7 -5.0M157.2 134.4l0.7 -5.0M178.8 131.4L141.5 115.1M142.0 115.3l1.2 -4.9M148.4 118.1l1.2 -4.9M178.8 121.5L148.8 112.4M155.9 114.6l0.6 -5.0M162.6 116.6l0.6 -5.0M178.8 111.6L139.5 104.2M143.6 105.0l0.1 -5.0M150.5 106.3l0.1 -5.0M191.6 399.3L159.9 374.7M159.9 374.7l1.2 -8.9M163.1 377.1l0.7 -5.0M191.6 389.4L164.2 369.6M164.2 369.6l0.9 -9.0M167.4 371.9l0.9 -9.0M170.6 374.2l0.5 -5.0M191.6 379.4L162.8 354.4M162.8 354.4l1.7 -8.8M191.6 369.5L168.6 344.1M168.6 344.1l2.8 -8.6M171.3 347.1l1.5 -4.8M191.6 359.6L164.1 338.2M164.1 338.2l1.2 -8.9M191.6 349.7L162.2 323.7M162.2 323.7l1.8 -8.8M191.6 339.8L162.3 309.9M162.3 309.9l2.4 -8.7M191.6 329.8L166.9 310.7M166.9 310.7l1.2 -8.9M170.0 313.1l0.7 -5.0M191.6 319.9L168.9 298.9M168.9 298.9l2.0 -8.8M191.6 310.0L162.4 282.8M162.4 282.8l2.0 -8.8M191.6 300.1L165.8 274.3M165.8 274.3l2.3 -8.7M191.6 290.2L166.7 268.9M166.7 268.9l1.6 -8.8M169.8 271.5l0.9 -4.9M191.6 280.2L163.3 258.0M163.3 258.0l1.3 -8.9M166.5 260.5l1.3 -8.9M169.6 262.9l0.7 -4.9M191.6 270.3L169.3 247.5M169.3 247.5l2.4 -8.7M172.1 250.3l2.4 -8.7M174.9 253.2l1.4 -4.8M191.6 260.4L170.9 296.0M170.9 296.0l-9.0 -0.0M172.9 292.5l-5.0 -0.0M191.6 250.5L171.4 221.4M171.4 221.4l3.8 -8.1M191.6 240.6L175.4 272.2M175.4 272.2l-9.0 0.5M177.2 268.7l-5.0 0.3M191.6 230.6L176.6 203.3M176.6 203.3l4.7 -7.7M178.5 206.8l4.7 -7.7M180.5 210.3l2.6 -4.3M191.6 220.7L179.8 190.4M179.8 190.4l5.6 -7.0M181.3 194.1l5.6 -7.0M182.7 197.8l3.1 -3.9M191.6 210.8L159.8 183.8M159.8 183.8l1.6 -8.9M162.8 186.4l0.9 -4.9M191.6 200.9L176.7 170.1M176.7 170.1l5.1 -7.4M191.6 191.0L158.3 179.2M158.3 179.2l-1.7 -8.8M162.1 180.6l-0.9 -4.9M191.6 181.0L163.5 169.7M164.0 169.9l1.0 -4.9M170.4 172.5l1.0 -4.9M176.9 175.1l1.0 -4.9M191.6 171.1L153.5 160.5M156.0 161.2l0.5 -5.0M162.8 163.1l0.5 -5.0M191.6 161.2L161.6 150.7M167.1 152.6l0.8 -4.9M173.7 154.9l0.8 -4.9M180.3 157.2l0.8 -4.9M191.6 151.3L153.0 140.7M160.3 142.7l0.5 -5.0M167.0 144.5l0.5 -5.0M173.8 146.4l0.5 -5.0M191.6 141.4L160.8 137.9M165.0 138.4l-0.3 -5.0M171.9 139.1l-0.3 -5.0M191.6 131.4L159.3 122.6M164.2 123.9l0.5 -5.0M171.0 125.8l0.5 -5.0M177.7 127.6l0.5 -5.0M191.6 121.5L155.0 118.5M158.1 118.7l-0.5 -5.0M165.0 119.3l-0.5 -5.0M191.6 111.6L152.0 104.8M153.7 105.1l-0.0 -5.0M160.6 106.3l-0.0 -5.0M167.5 107.5l-0.0 -5.0M204.4 399.3L180.7 371.8M180.7 371.8l2.9 -8.5M183.3 374.9l1.6 -4.7M204.4 389.4L177.9 370.8M177.9 370.8l0.8 -9.0M181.1 373.1l0.4 -5.0M204.4 379.4L180.7 360.5M180.7 360.5l1.3 -8.9M183.8 363.0l1.3 -8.9M187.0 365.5l0.7 -4.9M204.4 369.5L178.6 344.2M178.6 344.2l2.3 -8.7M204.4 359.6L179.8 333.4M179.8 333.4l2.6 -8.6M182.6 336.4l1.4 -4.8M204.4 349.7L181.1 329.5M181.1 329.5l1.7 -8.8M184.1 332.2l0.9 -4.9M204.4 339.8L171.9 314.6M171.9 314.6l1.2 -8.9M204.4 329.8L182.5 301.7M182.5 301.7l3.4 -8.3M204.4 319.9L173.5 293.3M173.5 293.3l1.7 -8.8M176.5 295.9l0.9 -4.9M204.4 310.0L183.1 283.7M183.1 283.7l3.2 -8.4M204.4 300.1L180.9 279.0M180.9 279.0l1.8 -8.8M183.9 281.7l1.0 -4.9M204.4 290.2L182.3 269.5M182.3 269.5l2.0 -8.8M204.4 280.2L182.9 254.1M182.9 254.1l3.2 -8.4M204.4 270.3L183.6 239.2M183.6 239.2l4.0 -8.1M204.4 260.4L185.9 294.3M185.9 294.3l-9.0 0.2M187.8 290.8l-5.0 0.1M204.4 250.5L187.9 275.9M187.9 275.9l-9.0 -0.5M190.1 272.5l-5.0 -0.3M204.4 240.6L189.5 203.1M189.5 203.1l5.6 -7.1M191.0 206.8l3.1 -3.9M204.4 230.6L180.9 202.9M180.9 202.9l3.0 -8.5M183.5 206.0l3.0 -8.5M186.1 209.0l1.7 -4.7M204.4 220.7L176.4 190.8M176.4 190.8l2.6 -8.6M179.2 193.7l1.5 -4.8M204.4 210.8L177.8 241.7M177.8 241.7l-8.8 -1.7M204.4 200.9L180.7 169.5M180.7 169.5l3.5 -8.3M204.4 191.0L177.7 174.9M177.7 174.9l0.2 -9.0M181.2 176.9l0.2 -9.0M184.6 179.0l0.1 -5.0M204.4 181.0L172.4 167.7M179.4 170.6l1.1 -4.9M185.8 173.3l1.1 -4.9M204.4 171.1L170.4 157.8M171.9 158.4l1.0 -4.9M178.4 160.9l1.0 -4.9M184.9 163.5l1.0 -4.9M204.4 161.2L174.2 153.7M176.9 154.4l0.3 -5.0M183.7 156.1l0.3 -5.0M190.5 157.8l0.3 -5.0M204.4 151.3L165.5 142.8M171.0 144.0l0.2 -5.0M177.8 145.5l0.2 -5.0M204.4 141.4L163.6 131.4M169.9 132.9l0.3 -5.0M176.7 134.6l0.3 -5.0M183.5 136.2l0.3 -5.0M204.4 131.4L169.4 123.9M175.4 125.2l0.2 -5.0M182.2 126.7l0.2 -5.0M204.4 121.5L168.8 118.3M169.7 118.4l-0.4 -5.0M176.7 119.0l-0.4 -5.0M204.4 111.6L172.5 108.3M174.8 108.6l-0.4 -5.0M181.7 109.3l-0.4 -5.0M217.2 399.3L193.9 377.9M193.9 377.9l2.0 -8.8M196.9 380.6l1.1 -4.9M217.2 389.4L193.8 369.1M193.8 369.1l1.7 -8.8M217.2 379.4L192.1 356.1M192.1 356.1l2.0 -8.8M217.2 369.5L194.8 343.4M194.8 343.4l3.0 -8.5M197.4 346.4l1.7 -4.7M217.2 359.6L194.7 332.9M194.7 332.9l3.0 -8.5M217.2 349.7L194.4 323.9M194.4 323.9l2.8 -8.5M197.0 326.9l2.8 -8.5M199.7 329.9l1.6 -4.7M217.2 339.8L190.2 310.9M190.2 310.9l2.6 -8.6M217.2 329.8L196.4 306.9M196.4 306.9l2.8 -8.6M199.1 309.8l2.8 -8.6M201.8 312.8l1.5 -4.8M217.2 319.9L193.9 285.8M193.9 285.8l3.9 -8.1M196.2 289.1l2.2 -4.5M217.2 310.0L193.9 287.6M193.9 287.6l2.2 -8.7M196.8 290.4l1.2 -4.9M217.2 300.1L194.4 275.7M194.4 275.7l2.6 -8.6M217.2 290.2L195.9 257.6M195.9 257.6l4.1 -8.0M217.2 280.2L197.1 252.9M197.1 252.9l3.6 -8.2M199.5 256.1l2.0 -4.6M217.2 270.3L195.7 243.4M195.7 243.4l3.3 -8.4M217.2 260.4L204.1 232.5M204.1 232.5l5.1 -7.4M217.2 250.5L205.6 279.5M205.6 279.5l-8.9 1.3M207.1 275.7l-8.9 1.3M208.6 272.0l-4.9 0.7M217.2 240.6L213.5 208.0M213.5 208.0l7.2 -5.3M214.0 212.0l7.2 -5.3M214.4 215.9l4.0 -3.0M217.2 230.6L200.6 260.3M200.6 260.3l-9.0 0.1M202.5 256.9l-5.0 0.1M217.2 220.7L194.4 248.8M194.4 248.8l-8.9 -1.4M196.9 245.7l-4.9 -0.8M217.2 210.8L196.2 178.7M196.2 178.7l4.1 -8.0M198.4 182.0l2.3 -4.5M217.2 200.9L200.3 165.9M200.3 165.9l5.0 -7.4M217.2 191.0L185.1 177.5M185.1 177.5l-1.1 -8.9M217.2 181.0L188.5 169.0M195.1 171.8l1.1 -4.9M201.6 174.5l1.1 -4.9M217.2 171.1L183.7 156.3M190.8 159.5l1.2 -4.9M197.2 162.3l1.2 -4.9M203.6 165.1l1.2 -4.9M217.2 161.2L179.8 156.6M180.4 156.7l-0.3 -5.0M187.4 157.6l-0.3 -5.0M194.3 158.4l-0.3 -5.0M217.2 151.3L180.9 143.5M181.2 143.6l0.2 -5.0M188.1 145.0l0.2 -5.0M194.9 146.5l0.2 -5.0M217.2 141.4L183.4 130.2M187.1 131.4l0.7 -4.9M193.8 133.6l0.7 -4.9M217.2 131.4L181.0 122.5M188.3 124.3l0.3 -5.0M195.1 126.0l0.3 -5.0M217.2 121.5L180.3 117.1M182.6 117.4l-0.3 -5.0M189.5 118.2l-0.3 -5.0M217.2 111.6L180.2 103.9M182.4 104.3l0.2 -5.0M189.2 105.8l0.2 -5.0M196.1 107.2l0.2 -5.0M230.0 399.3L209.2 377.4M209.2 377.4l2.5 -8.6M230.0 389.4L208.2 368.0M208.2 368.0l2.2 -8.7M230.0 379.4L202.9 349.0M202.9 349.0l2.8 -8.5M205.6 352.0l1.6 -4.7M230.0 369.5L208.3 348.0M208.3 348.0l2.3 -8.7M211.1 350.8l2.3 -8.7M214.0 353.6l1.3 -4.8M230.0 359.6L204.2 328.0M204.2 328.0l3.2 -8.4M230.0 349.7L206.7 322.6M206.7 322.6l3.0 -8.5M209.3 325.6l3.0 -8.5M211.9 328.7l1.7 -4.7M230.0 339.8L203.8 307.9M203.8 307.9l3.2 -8.4M206.4 311.0l1.8 -4.7M230.0 329.8L210.0 300.4M210.0 300.4l3.9 -8.1M212.3 303.7l3.9 -8.1M214.5 307.0l2.2 -4.5M230.0 319.9L211.5 294.6M211.5 294.6l3.6 -8.2M213.8 297.8l2.0 -4.6M230.0 310.0L205.9 284.0M205.9 284.0l2.6 -8.6M230.0 300.1L213.0 273.6M213.0 273.6l4.1 -8.0M230.0 290.2L208.1 259.1M208.1 259.1l3.8 -8.2M210.4 262.4l2.1 -4.5M230.0 280.2L209.1 252.1M209.1 252.1l3.6 -8.3M211.5 255.3l2.0 -4.6M230.0 270.3L211.6 239.0M211.6 239.0l4.4 -7.8M213.6 242.4l4.4 -7.8M215.6 245.9l2.5 -4.3M230.0 260.4L222.3 225.5M222.3 225.5l6.6 -6.1M223.2 229.4l3.7 -3.4M230.0 250.5L208.7 283.6M208.7 283.6l-9.0 -0.4M210.9 280.3l-5.0 -0.2M230.0 240.6L209.5 209.0M209.5 209.0l4.1 -8.0M211.7 212.4l2.3 -4.5M230.0 230.6L214.6 192.2M214.6 192.2l5.6 -7.1M216.1 195.9l3.1 -3.9M230.0 220.7L210.2 188.8M210.2 188.8l4.3 -7.9M230.0 210.8L210.7 240.1M210.7 240.1l-9.0 -0.5M212.9 236.8l-5.0 -0.3M230.0 200.9L217.9 163.7M217.9 163.7l6.0 -6.7M219.2 167.5l6.0 -6.7M220.4 171.3l3.3 -3.7M230.0 191.0L201.3 177.1M201.3 177.1l-0.7 -9.0M230.0 181.0L199.2 166.0M202.8 167.7l1.4 -4.8M209.1 170.8l1.4 -4.8M230.0 171.1L200.3 160.5M206.3 162.7l0.8 -4.9M212.9 165.0l0.8 -4.9M219.5 167.4l0.8 -4.9M230.0 161.2L190.8 153.0M194.3 153.7l0.2 -5.0M201.1 155.2l0.2 -5.0M208.0 156.6l0.2 -5.0M230.0 151.3L193.4 138.0M194.5 138.4l0.9 -4.9M201.1 140.8l0.9 -4.9M230.0 141.4L195.2 128.3M200.9 130.5l0.9 -4.9M207.5 132.9l0.9 -4.9M230.0 131.4L192.8 117.1M197.7 118.9l1.0 -4.9M204.2 121.5l1.0 -4.9M230.0 121.5L196.4 117.1M199.8 117.6l-0.2 -5.0M206.8 118.5l-0.2 -5.0M213.7 119.4l-0.2 -5.0M230.0 111.6L193.6 106.0M197.3 106.6l-0.1 -5.0M204.2 107.6l-0.1 -5.0M211.1 108.7l-0.1 -5.0M242.8 399.3L220.9 373.7M220.9 373.7l3.0 -8.5M223.5 376.7l3.0 -8.5M226.1 379.8l1.7 -4.7M242.8 389.4L218.5 361.2M218.5 361.2l3.0 -8.5M221.1 364.2l1.6 -4.7M242.8 379.4L218.2 356.1M218.2 356.1l2.1 -8.8M221.1 358.9l2.1 -8.8M224.0 361.6l1.2 -4.9M242.8 369.5L222.3 344.2M222.3 344.2l3.2 -8.4M224.8 347.3l1.8 -4.7M242.8 359.6L219.8 334.7M219.8 334.7l2.7 -8.6M242.8 349.7L224.0 317.7M224.0 317.7l4.4 -7.8M226.0 321.1l4.4 -7.8M228.1 324.6l2.5 -4.3M242.8 339.8L220.0 311.4M220.0 311.4l3.2 -8.4M222.5 314.6l3.2 -8.4M225.0 317.7l1.8 -4.7M242.8 329.8L220.0 302.7M220.0 302.7l3.1 -8.5M242.8 319.9L224.6 288.6M224.6 288.6l4.5 -7.8M242.8 310.0L218.6 278.2M218.6 278.2l3.5 -8.3M242.8 300.1L218.6 268.8M218.6 268.8l3.4 -8.3M221.0 272.0l1.9 -4.6M242.8 290.2L220.9 263.7M220.9 263.7l3.1 -8.4M242.8 280.2L226.1 252.8M226.1 252.8l4.3 -7.9M242.8 270.3L225.4 239.4M225.4 239.4l4.6 -7.7M227.4 242.9l4.6 -7.7M229.4 246.4l2.5 -4.3M242.8 260.4L227.2 227.4M227.2 227.4l5.1 -7.4M228.9 231.0l2.8 -4.1M242.8 250.5L221.4 219.3M221.4 219.3l3.9 -8.1M223.7 222.6l3.9 -8.1M225.9 225.9l2.1 -4.5M242.8 240.6L233.2 207.9M233.2 207.9l6.2 -6.5M242.8 230.6L226.8 193.1M226.8 193.1l5.4 -7.2M242.8 220.7L225.5 248.7M225.5 248.7l-9.0 -0.3M242.8 210.8L222.0 244.0M222.0 244.0l-9.0 -0.3M242.8 200.9L218.9 174.1M218.9 174.1l2.8 -8.5M221.6 177.1l1.6 -4.7M242.8 191.0L210.0 170.6M210.0 170.6l0.3 -9.0M213.4 172.7l0.2 -5.0M242.8 181.0L206.7 164.2M212.8 167.1l1.3 -4.8M219.2 170.0l1.3 -4.8M225.5 173.0l1.3 -4.8M242.8 171.1L205.1 158.8M211.9 161.0l0.7 -5.0M218.5 163.2l0.7 -5.0M225.2 165.4l0.7 -5.0M242.8 161.2L209.8 146.2M215.6 148.9l1.2 -4.8M222.0 151.8l1.2 -4.8M228.4 154.7l1.2 -4.8M242.8 151.3L209.1 141.6M210.2 141.9l0.5 -5.0M217.0 143.9l0.5 -5.0M242.8 141.4L209.6 132.1M211.1 132.6l0.5 -5.0M217.9 134.4l0.5 -5.0M242.8 131.4L207.8 129.8M215.5 130.2l-0.6 -5.0M222.5 130.5l-0.6 -5.0M242.8 121.5L212.3 114.2M218.4 115.6l0.3 -5.0M225.2 117.3l0.3 -5.0M232.0 118.9l0.3 -5.0M242.8 111.6L211.4 104.9M215.0 105.6l0.2 -5.0M221.8 107.1l0.2 -5.0M255.6 399.3L233.6 378.3M233.6 378.3l2.1 -8.7M255.6 389.4L233.8 365.7M233.8 365.7l2.7 -8.6M255.6 379.4L233.2 349.8M233.2 349.8l3.5 -8.3M255.6 369.5L239.1 341.9M239.1 341.9l4.4 -7.9M255.6 359.6L237.0 331.5M237.0 331.5l4.0 -8.1M239.2 334.8l2.2 -4.5M255.6 349.7L235.6 315.3M235.6 315.3l4.5 -7.8M237.6 318.7l2.5 -4.3M255.6 339.8L231.5 306.7M231.5 306.7l3.6 -8.2M255.6 329.8L239.2 297.2M239.2 297.2l4.9 -7.5M241.0 300.7l4.9 -7.5M242.8 304.3l2.7 -4.2M255.6 319.9L237.1 295.6M237.1 295.6l3.5 -8.3M239.5 298.8l3.5 -8.3M241.9 301.9l1.9 -4.6M255.6 310.0L233.7 277.0M233.7 277.0l4.0 -8.1M255.6 300.1L235.1 273.9M235.1 273.9l3.3 -8.4M237.5 277.0l3.3 -8.4M240.0 280.2l1.9 -4.6M255.6 290.2L234.6 258.6M234.6 258.6l4.0 -8.1M255.6 280.2L239.5 249.8M239.5 249.8l4.8 -7.6M241.4 253.3l2.7 -4.2M255.6 270.3L235.5 237.4M235.5 237.4l4.3 -7.9M237.6 240.9l2.4 -4.4M255.6 260.4L239.5 230.6M239.5 230.6l4.7 -7.7M255.6 250.5L236.9 214.6M236.9 214.6l4.8 -7.6M238.8 218.2l2.7 -4.2M255.6 240.6L234.2 215.2M234.2 215.2l3.0 -8.5M236.7 218.3l1.7 -4.7M255.6 230.6L234.4 207.0M234.4 207.0l2.8 -8.6M237.0 210.0l1.5 -4.8M255.6 220.7L241.4 183.2M241.4 183.2l5.7 -7.0M242.8 186.9l5.7 -7.0M244.3 190.6l3.2 -3.9M255.6 210.8L240.2 183.9M240.2 183.9l4.5 -7.8M255.6 200.9L237.5 170.1M237.5 170.1l4.4 -7.8M239.5 173.5l2.5 -4.4M255.6 191.0L215.2 181.9M215.2 181.9l-2.7 -8.6M219.1 182.8l-1.5 -4.8M255.6 181.0L217.9 169.4M224.9 171.6l0.6 -5.0M231.6 173.6l0.6 -5.0M255.6 171.1L225.2 164.8M226.8 165.1l0.2 -5.0M233.7 166.5l0.2 -5.0M240.5 168.0l0.2 -5.0M255.6 161.2L224.1 156.7M226.5 157.0l-0.2 -5.0M233.5 158.0l-0.2 -5.0M240.4 159.0l-0.2 -5.0M255.6 151.3L222.3 145.9M224.8 146.3l-0.1 -5.0M231.7 147.4l-0.1 -5.0M255.6 141.4L221.3 140.2M222.2 140.2l-0.7 -5.0M229.2 140.5l-0.7 -5.0M236.2 140.7l-0.7 -5.0M255.6 131.4L221.2 126.9M228.9 127.9l-0.2 -5.0M235.8 128.9l-0.2 -5.0M255.6 121.5L226.4 114.1M231.9 115.5l0.4 -5.0M238.7 117.2l0.4 -5.0M255.6 111.6L223.1 106.8M226.8 107.4l-0.1 -5.0M233.7 108.4l-0.1 -5.0M240.6 109.4l-0.1 -5.0M268.4 399.3L252.1 363.2M252.1 363.2l5.2 -7.3M268.4 389.4L246.8 358.9M246.8 358.9l3.8 -8.2M268.4 379.4L247.2 353.4M247.2 353.4l3.2 -8.4M268.4 369.5L250.2 340.0M250.2 340.0l4.3 -7.9M252.3 343.4l2.4 -4.4M268.4 359.6L246.4 327.7M246.4 327.7l3.8 -8.1M268.4 349.7L246.9 314.4M246.9 314.4l4.3 -7.9M249.0 317.8l2.4 -4.4M268.4 339.8L246.0 306.7M246.0 306.7l3.9 -8.1M268.4 329.8L249.6 304.4M249.6 304.4l3.6 -8.3M268.4 319.9L249.9 293.6M249.9 293.6l3.8 -8.2M268.4 310.0L244.0 278.3M244.0 278.3l3.4 -8.3M246.5 281.4l1.9 -4.6M268.4 300.1L253.0 272.2M253.0 272.2l4.6 -7.7M268.4 290.2L251.4 259.7M251.4 259.7l4.6 -7.7M268.4 280.2L252.2 247.9M252.2 247.9l5.0 -7.5M254.0 251.5l2.8 -4.2M268.4 270.3L247.8 237.0M247.8 237.0l4.3 -7.9M249.9 240.4l4.3 -7.9M252.0 243.8l2.4 -4.4M268.4 260.4L249.9 230.8M249.9 230.8l4.2 -7.9M268.4 250.5L252.6 219.5M252.6 219.5l4.9 -7.6M254.4 223.0l2.7 -4.2M268.4 240.6L254.7 205.2M254.7 205.2l5.6 -7.0M256.1 208.9l3.1 -3.9M268.4 230.6L252.9 204.7M252.9 204.7l4.4 -7.9M268.4 220.7L251.0 194.8M251.0 194.8l3.9 -8.1M268.4 210.8L253.8 177.8M253.8 177.8l5.3 -7.3M255.4 181.4l2.9 -4.0M268.4 200.9L254.0 172.4M254.0 172.4l4.9 -7.5M255.8 176.0l2.7 -4.2M268.4 191.0L228.1 184.8M228.1 184.8l-3.3 -8.4M232.0 185.4l-1.8 -4.7M268.4 181.0L237.4 174.5M245.1 176.1l0.2 -5.0M252.0 177.6l0.2 -5.0M258.8 179.0l0.2 -5.0M268.4 171.1L234.1 159.5M240.5 161.7l0.8 -4.9M247.1 163.9l0.8 -4.9M253.7 166.2l0.8 -4.9M268.4 161.2L232.5 150.3M233.2 150.5l0.6 -5.0M239.9 152.5l0.6 -5.0M268.4 151.3L237.7 139.5M242.9 141.5l0.9 -4.9M249.4 144.0l0.9 -4.9M256.0 146.5l0.9 -4.9M268.4 141.4L234.2 138.4M235.2 138.5l-0.4 -5.0M242.2 139.1l-0.4 -5.0M268.4 131.4L228.2 120.5M235.2 122.4l0.4 -5.0M241.9 124.3l0.4 -5.0M268.4 121.5L232.2 115.3M239.4 116.5l-0.0 -5.0M246.3 117.7l-0.0 -5.0M268.4 111.6L227.5 102.6M232.2 103.6l0.2 -5.0M239.0 105.1l0.2 -5.0M245.9 106.6l0.2 -5.0M281.2 399.3L248.0 395.2M248.0 395.2l-3.5 -8.3M252.0 395.7l-3.5 -8.3M256.0 396.2l-2.0 -4.6M281.2 389.4L274.3 357.2M274.3 357.2l6.7 -6.0M275.1 361.1l3.7 -3.4M281.2 379.4L269.9 344.7M269.9 344.7l6.0 -6.7M281.2 369.5L269.2 341.6M269.2 341.6l5.4 -7.2M281.2 359.6L277.4 321.9M277.4 321.9l7.3 -5.3M281.2 349.7L281.0 311.6M281.0 311.6l7.8 -4.6M281.0 315.6l4.3 -2.5M281.2 339.8L279.9 300.1M279.9 300.1l7.6 -4.8M281.2 329.8L282.3 297.5M282.3 297.5l7.9 -4.3M282.1 301.5l4.4 -2.4M281.2 319.9L282.0 283.1M282.0 283.1l7.9 -4.3M281.2 310.0L282.2 273.8M282.2 273.8l7.9 -4.3M281.2 300.1L280.2 262.4M280.2 262.4l7.7 -4.7M281.2 290.2L280.7 252.1M280.7 252.1l7.7 -4.6M281.2 280.2L282.9 244.6M282.9 244.6l8.0 -4.1M281.2 270.3L280.8 232.8M280.8 232.8l7.7 -4.6M280.8 236.8l4.3 -2.6M281.2 260.4L281.3 224.6M281.3 224.6l7.8 -4.5M281.3 228.6l7.8 -4.5M281.3 232.6l4.3 -2.5M281.2 250.5L256.4 219.1M256.4 219.1l3.3 -8.4M258.9 222.2l3.3 -8.4M261.4 225.3l1.8 -4.6M281.2 240.6L260.4 210.2M260.4 210.2l3.9 -8.1M262.7 213.5l3.9 -8.1M264.9 216.8l2.2 -4.5M281.2 230.6L264.7 198.3M264.7 198.3l4.9 -7.6M266.5 201.9l2.7 -4.2M281.2 220.7L259.5 194.7M259.5 194.7l3.1 -8.4M281.2 210.8L264.6 175.9M264.6 175.9l5.1 -7.4M266.3 179.5l5.1 -7.4M268.0 183.1l2.8 -4.1M281.2 200.9L261.3 167.3M261.3 167.3l4.4 -7.9M281.2 191.0L244.4 186.3M244.4 186.3l-3.5 -8.3M281.2 181.0L246.8 170.3M247.2 170.4l0.6 -5.0M253.9 172.5l0.6 -5.0M281.2 171.1L244.8 159.2M246.6 159.8l0.7 -5.0M253.3 162.0l0.7 -5.0M259.9 164.2l0.7 -5.0M281.2 161.2L249.3 153.8M256.4 155.4l0.3 -5.0M263.2 157.0l0.3 -5.0M281.2 151.3L241.4 139.3M248.0 141.3l0.6 -5.0M254.7 143.3l0.6 -5.0M261.4 145.3l0.6 -5.0M281.2 141.4L248.7 138.9M253.2 139.3l-0.5 -5.0M260.2 139.8l-0.5 -5.0M267.1 140.3l-0.5 -5.0M281.2 131.4L241.2 123.2M247.4 124.5l0.1 -5.0M254.3 125.9l0.1 -5.0M281.2 121.5L241.7 109.1M243.6 109.7l0.7 -5.0M250.3 111.8l0.7 -5.0M281.2 111.6L249.2 101.5M249.7 101.7l0.6 -5.0M256.3 103.8l0.6 -5.0M294.0 399.3L259.6 394.8M259.6 394.8l-3.5 -8.3M294.0 389.4L272.0 368.2M272.0 368.2l2.1 -8.7M294.0 379.4L279.1 407.4M279.1 407.4l-9.0 0.3M281.0 403.9l-5.0 0.2M294.0 369.5L267.9 400.5M267.9 400.5l-8.9 -1.6M294.0 359.6L280.2 330.4M280.2 330.4l5.1 -7.4M281.9 334.0l5.1 -7.4M283.6 337.6l2.8 -4.1M294.0 349.7L264.3 377.6M264.3 377.6l-8.6 -2.6M294.0 339.8L268.2 314.1M268.2 314.1l2.3 -8.7M294.0 329.8L252.7 328.4M252.7 328.4l-4.2 -7.9M256.7 328.6l-4.2 -7.9M260.7 328.7l-2.3 -4.4M294.0 319.9L254.2 319.0M254.2 319.0l-4.3 -7.9M258.2 319.1l-4.3 -7.9M262.2 319.2l-2.4 -4.4M294.0 310.0L260.8 310.8M260.8 310.8l-4.7 -7.7M294.0 300.1L252.6 298.7M252.6 298.7l-4.2 -7.9M256.6 298.8l-2.3 -4.4M294.0 290.2L259.1 290.7M259.1 290.7l-4.6 -7.7M294.0 280.2L255.8 277.5M255.8 277.5l-3.9 -8.1M294.0 270.3L255.5 267.2M255.5 267.2l-3.9 -8.1M259.5 267.6l-2.1 -4.5M294.0 260.4L254.7 255.6M254.7 255.6l-3.5 -8.3M258.7 256.1l-2.0 -4.6M294.0 250.5L280.2 222.3M280.2 222.3l5.0 -7.5M282.0 225.9l2.8 -4.2M294.0 240.6L283.3 210.2M283.3 210.2l5.8 -6.8M294.0 230.6L277.5 203.7M277.5 203.7l4.3 -7.9M279.6 207.1l2.4 -4.4M294.0 220.7L272.3 185.9M272.3 185.9l4.2 -7.9M294.0 210.8L273.9 175.2M273.9 175.2l4.6 -7.8M294.0 200.9L273.8 172.3M273.8 172.3l3.8 -8.2M276.1 175.5l2.1 -4.5M294.0 191.0L262.4 186.1M262.4 186.1l-3.3 -8.4M266.4 186.7l-3.3 -8.4M270.3 187.3l-1.8 -4.7M294.0 181.0L256.5 171.4M262.6 172.9l0.4 -5.0M269.4 174.7l0.4 -5.0M294.0 171.1L263.6 161.8M268.4 163.2l0.6 -5.0M275.1 165.3l0.6 -5.0M281.8 167.3l0.6 -5.0M294.0 161.2L265.7 151.2M266.2 151.3l0.8 -4.9M272.8 153.7l0.8 -4.9M279.4 156.0l0.8 -4.9M294.0 151.3L263.9 145.3M271.0 146.7l0.1 -5.0M277.9 148.1l0.1 -5.0M284.7 149.4l0.1 -5.0M294.0 141.4L264.1 136.1M270.6 137.3l-0.0 -5.0M277.5 138.5l-0.0 -5.0M294.0 131.4L257.5 122.6M263.3 124.0l0.3 -5.0M270.1 125.6l0.3 -5.0M276.9 127.3l0.3 -5.0M294.0 121.5L255.7 113.2M259.1 113.9l0.2 -5.0M265.9 115.4l0.2 -5.0M294.0 111.6L257.4 101.5M259.4 102.0l0.5 -5.0M266.1 103.9l0.5 -5.0M272.9 105.7l0.5 -5.0M306.8 399.3L273.7 398.1M273.7 398.1l-4.2 -7.9M277.7 398.3l-2.3 -4.4M306.8 389.4L281.2 410.4M281.2 410.4l-8.4 -3.2M306.8 379.4L285.5 413.8M285.5 413.8l-9.0 -0.3M306.8 369.5L285.1 339.2M285.1 339.2l3.7 -8.2M287.5 342.4l2.1 -4.6M306.8 359.6L286.2 394.2M286.2 394.2l-9.0 -0.1M306.8 349.7L277.4 321.3M277.4 321.3l2.2 -8.7M280.3 324.1l1.2 -4.9M306.8 339.8L277.3 316.7M277.3 316.7l1.2 -8.9M306.8 329.8L271.9 326.5M271.9 326.5l-3.7 -8.2M275.9 326.9l-2.1 -4.5M306.8 319.9L267.7 315.4M267.7 315.4l-3.6 -8.3M271.7 315.8l-2.0 -4.6M306.8 310.0L270.9 311.5M270.9 311.5l-4.8 -7.6M274.9 311.4l-2.7 -4.2M306.8 300.1L273.9 301.6M273.9 301.6l-4.9 -7.6M277.9 301.4l-2.7 -4.2M306.8 290.2L268.9 290.2M268.9 290.2l-4.5 -7.8M272.9 290.2l-2.5 -4.3M306.8 280.2L271.2 280.8M271.2 280.8l-4.6 -7.7M275.2 280.7l-2.6 -4.3M306.8 270.3L268.5 267.1M268.5 267.1l-3.8 -8.1M272.5 267.4l-3.8 -8.1M276.5 267.8l-2.1 -4.5M306.8 260.4L270.2 253.9M270.2 253.9l-3.1 -8.5M306.8 250.5L268.8 258.7M268.8 258.7l-6.1 -6.7M272.7 257.9l-3.4 -3.7M306.8 240.6L272.8 248.3M272.8 248.3l-6.1 -6.6M276.7 247.4l-3.4 -3.7M306.8 230.6L276.1 235.4M276.1 235.4l-5.6 -7.0M280.1 234.8l-3.1 -3.9M306.8 220.7L266.5 231.3M266.5 231.3l-6.3 -6.4M270.4 230.3l-3.5 -3.6M306.8 210.8L268.3 212.4M268.3 212.4l-4.8 -7.6M272.3 212.2l-4.8 -7.6M276.3 212.1l-2.7 -4.2M306.8 200.9L275.7 205.0M275.7 205.0l-5.5 -7.1M279.7 204.5l-5.5 -7.1M283.6 203.9l-3.0 -4.0M306.8 191.0L272.2 186.1M272.2 186.1l-3.4 -8.3M306.8 181.0L266.5 171.8M268.2 172.1l0.3 -5.0M275.1 173.7l0.3 -5.0M281.9 175.3l0.3 -5.0M306.8 171.1L276.4 161.4M284.0 163.9l0.7 -5.0M290.7 166.0l0.7 -5.0M297.3 168.1l0.7 -5.0M306.8 161.2L267.2 150.9M274.4 152.8l0.4 -5.0M281.1 154.5l0.4 -5.0M287.9 156.3l0.4 -5.0M306.8 151.3L275.1 146.0M282.5 147.3l-0.1 -5.0M289.4 148.4l-0.1 -5.0M296.3 149.5l-0.1 -5.0M306.8 141.4L277.1 134.0M279.1 134.5l0.3 -5.0M285.9 136.2l0.3 -5.0M306.8 131.4L268.6 121.5M272.3 122.5l0.4 -5.0M279.1 124.3l0.4 -5.0M285.9 126.0l0.4 -5.0M306.8 121.5L268.9 111.9M272.7 112.8l0.4 -5.0M279.5 114.6l0.4 -5.0M306.8 111.6L271.6 98.8M275.2 100.1l0.9 -4.9M281.8 102.5l0.9 -4.9M319.6 399.3L289.1 399.3M289.1 399.3l-4.5 -7.8M319.6 389.4L296.8 419.0M296.8 419.0l-8.9 -1.2M299.2 415.9l-5.0 -0.7M319.6 379.4L300.3 352.4M300.3 352.4l3.7 -8.2M319.6 369.5L291.3 343.1M291.3 343.1l2.0 -8.8M294.3 345.8l1.1 -4.9M319.6 359.6L304.4 333.5M304.4 333.5l4.5 -7.8M319.6 349.7L302.3 380.5M302.3 380.5l-9.0 0.1M304.2 377.0l-9.0 0.1M306.2 373.6l-5.0 0.1M319.6 339.8L297.7 314.2M297.7 314.2l3.0 -8.5M300.3 317.3l1.7 -4.7M319.6 329.8L284.3 324.0M284.3 324.0l-3.2 -8.4M319.6 319.9L287.2 317.3M287.2 317.3l-3.9 -8.1M319.6 310.0L284.0 307.8M284.0 307.8l-4.0 -8.1M288.0 308.1l-2.2 -4.5M319.6 300.1L285.9 301.6M285.9 301.6l-4.8 -7.6M289.9 301.4l-2.7 -4.2M319.6 290.2L285.1 290.4M285.1 290.4l-4.5 -7.8M289.1 290.3l-4.5 -7.8M293.1 290.3l-2.5 -4.3M319.6 280.2L284.3 278.8M284.3 278.8l-4.2 -8.0M319.6 270.3L283.4 270.8M283.4 270.8l-4.6 -7.7M319.6 260.4L282.6 255.6M282.6 255.6l-3.5 -8.3M319.6 250.5L281.2 262.0M281.2 262.0l-6.5 -6.2M285.0 260.8l-3.6 -3.4M319.6 240.6L282.1 251.7M282.1 251.7l-6.5 -6.2M286.0 250.5l-3.6 -3.4M319.6 230.6L282.5 238.2M282.5 238.2l-6.0 -6.7M319.6 220.7L285.5 223.4M285.5 223.4l-5.1 -7.4M319.6 210.8L280.8 216.8M280.8 216.8l-5.6 -7.0M319.6 200.9L280.1 203.2M280.1 203.2l-5.0 -7.5M319.6 191.0L283.9 187.3M283.9 187.3l-3.7 -8.2M287.9 187.7l-2.0 -4.6M319.6 181.0L282.4 171.6M289.6 173.4l0.4 -5.0M296.4 175.1l0.4 -5.0M319.6 171.1L287.9 164.3M290.7 164.9l0.2 -5.0M297.5 166.4l0.2 -5.0M304.4 167.9l0.2 -5.0M319.6 161.2L281.8 152.0M288.1 153.6l0.3 -5.0M294.9 155.2l0.3 -5.0M301.7 156.8l0.3 -5.0M319.6 151.3L284.5 144.9M291.2 146.2l0.0 -5.0M298.1 147.4l0.0 -5.0M319.6 141.4L279.5 133.8M286.7 135.1l0.1 -5.0M293.6 136.4l0.1 -5.0M319.6 131.4L281.2 117.3M284.1 118.3l0.9 -4.9M290.6 120.7l0.9 -4.9M319.6 121.5L283.4 108.2M283.9 108.4l0.9 -4.9M290.5 110.8l0.9 -4.9M297.1 113.3l0.9 -4.9M319.6 111.6L290.5 102.9M293.3 103.8l0.6 -5.0M300.1 105.8l0.6 -5.0M332.4 399.3L291.8 398.3M291.8 398.3l-4.3 -7.9M295.8 398.4l-2.4 -4.4M332.4 389.4L321.3 425.0M321.3 425.0l-8.8 2.0M322.5 421.2l-8.8 2.0M323.6 417.4l-4.9 1.1M332.4 379.4L305.4 351.0M305.4 351.0l2.6 -8.6M308.2 353.9l1.4 -4.8M332.4 369.5L316.6 403.4M316.6 403.4l-9.0 0.8M332.4 359.6L317.9 391.0M317.9 391.0l-9.0 0.8M319.6 387.4l-9.0 0.8M321.3 383.7l-5.0 0.4M332.4 349.7L312.4 315.5M312.4 315.5l4.5 -7.8M314.4 318.9l2.5 -4.3M332.4 339.8L307.5 373.2M307.5 373.2l-8.9 -1.0M332.4 329.8L300.8 323.4M300.8 323.4l-2.9 -8.5M332.4 319.9L302.6 316.6M302.6 316.6l-3.6 -8.2M306.6 317.0l-2.0 -4.6M332.4 310.0L297.8 308.0M297.8 308.0l-4.0 -8.0M332.4 300.1L295.9 301.1M295.9 301.1l-4.7 -7.7M299.9 301.0l-2.6 -4.3M332.4 290.2L295.7 289.6M295.7 289.6l-4.4 -7.9M299.7 289.7l-4.4 -7.9M303.7 289.7l-2.4 -4.4M332.4 280.2L298.3 278.7M298.3 278.7l-4.1 -8.0M302.3 278.8l-4.1 -8.0M306.3 279.0l-2.3 -4.4M332.4 270.3L298.7 270.0M298.7 270.0l-4.4 -7.8M302.7 270.0l-2.5 -4.4M332.4 260.4L290.9 259.1M290.9 259.1l-4.3 -7.9M294.9 259.2l-4.3 -7.9M298.9 259.3l-2.4 -4.4M332.4 250.5L303.7 264.3M303.7 264.3l-7.4 -5.1M307.3 262.6l-4.1 -2.8M332.4 240.6L300.8 254.2M300.8 254.2l-7.2 -5.4M332.4 230.6L294.7 240.2M294.7 240.2l-6.3 -6.5M298.5 239.2l-3.5 -3.6M332.4 220.7L299.1 226.6M299.1 226.6l-5.8 -6.9M332.4 210.8L296.3 212.9M296.3 212.9l-4.9 -7.5M332.4 200.9L301.3 202.4M301.3 202.4l-4.9 -7.6M305.3 202.2l-2.7 -4.2M332.4 191.0L301.4 186.5M301.4 186.5l-3.3 -8.4M305.4 187.0l-1.9 -4.6M332.4 181.0L301.1 175.1M307.9 176.4l0.1 -5.0M314.8 177.7l0.1 -5.0M321.6 179.0l0.1 -5.0M332.4 171.1L302.1 166.9M306.1 167.5l-0.2 -5.0M313.1 168.4l-0.2 -5.0M332.4 161.2L295.2 151.0M300.8 152.5l0.5 -5.0M307.5 154.4l0.5 -5.0M332.4 151.3L299.2 144.7M305.1 145.9l0.1 -5.0M312.0 147.2l0.1 -5.0M332.4 141.4L297.6 129.6M302.9 131.4l0.8 -4.9M309.6 133.6l0.8 -4.9M332.4 131.4L295.2 127.0M301.6 127.8l-0.3 -5.0M308.6 128.6l-0.3 -5.0M315.5 129.4l-0.3 -5.0M332.4 121.5L297.1 107.6M298.4 108.1l1.0 -4.9M305.0 110.7l1.0 -4.9M332.4 111.6L304.4 100.5M311.4 103.3l1.0 -4.9M317.9 105.9l1.0 -4.9M324.4 108.4l1.0 -4.9M345.3 399.3L307.1 396.2M307.1 396.2l-3.9 -8.1M345.3 389.4L324.9 417.4M324.9 417.4l-9.0 -0.9M327.2 414.2l-5.0 -0.5M345.3 379.4L324.3 344.9M324.3 344.9l4.3 -7.9M345.3 369.5L325.6 402.9M325.6 402.9l-9.0 -0.1M327.6 399.5l-9.0 -0.1M329.6 396.0l-5.0 -0.0M345.3 359.6L326.2 324.4M326.2 324.4l4.7 -7.7M328.1 328.0l4.7 -7.7M330.0 331.5l2.6 -4.3M345.3 349.7L328.6 319.5M328.6 319.5l4.7 -7.7M345.3 339.8L329.4 368.3M329.4 368.3l-9.0 0.2M331.3 364.8l-5.0 0.1M345.3 329.8L310.4 328.6M310.4 328.6l-4.2 -7.9M345.3 319.9L312.7 317.7M312.7 317.7l-4.0 -8.1M345.3 310.0L305.0 306.7M305.0 306.7l-3.8 -8.1M345.3 300.1L304.7 295.6M304.7 295.6l-3.6 -8.2M308.7 296.0l-3.6 -8.2M312.7 296.5l-2.0 -4.6M345.3 290.2L310.1 291.0M310.1 291.0l-4.7 -7.7M345.3 280.2L308.5 278.9M308.5 278.9l-4.2 -7.9M345.3 270.3L310.5 271.2M310.5 271.2l-4.7 -7.7M345.3 260.4L308.7 258.2M308.7 258.2l-4.0 -8.1M312.7 258.4l-2.2 -4.5M345.3 250.5L315.1 260.6M315.1 260.6l-6.7 -6.0M345.3 240.6L316.9 250.4M316.9 250.4l-6.8 -5.9M345.3 230.6L316.1 243.0M316.1 243.0l-7.2 -5.4M319.8 241.5l-4.0 -3.0M345.3 220.7L315.2 225.5M315.2 225.5l-5.7 -7.0M345.3 210.8L309.0 216.5M309.0 216.5l-5.7 -7.0M312.9 215.9l-3.1 -3.9M345.3 200.9L305.4 203.8M305.4 203.8l-5.1 -7.4M345.3 191.0L313.7 184.2M313.7 184.2l-2.8 -8.6M345.3 181.0L308.8 175.4M309.2 175.5l-0.1 -5.0M316.1 176.5l-0.1 -5.0M323.0 177.6l-0.1 -5.0M345.3 171.1L307.0 158.4M311.1 159.7l0.7 -4.9M317.8 161.9l0.7 -4.9M324.4 164.2l0.7 -4.9M345.3 161.2L315.6 154.9M316.1 155.0l0.2 -5.0M323.0 156.5l0.2 -5.0M329.8 157.9l0.2 -5.0M345.3 151.3L310.4 143.9M310.9 144.0l0.2 -5.0M317.8 145.5l0.2 -5.0M324.6 146.9l0.2 -5.0M345.3 141.4L312.6 135.4M319.9 136.7l0.0 -5.0M326.8 138.0l0.0 -5.0M345.3 131.4L311.3 119.7M315.3 121.1l0.8 -4.9M321.9 123.4l0.8 -4.9M345.3 121.5L307.8 109.9M311.5 111.1l0.6 -5.0M318.2 113.1l0.6 -5.0M324.8 115.2l0.6 -5.0M345.3 111.6L306.6 101.1M313.5 102.9l0.5 -5.0M320.3 104.8l0.5 -5.0M358.1 399.3L326.4 397.8M326.4 397.8l-4.1 -8.0M358.1 389.4L336.9 418.6M336.9 418.6l-9.0 -0.9M358.1 379.4L345.8 411.4M345.8 411.4l-8.9 1.4M358.1 369.5L336.4 399.7M336.4 399.7l-9.0 -0.9M358.1 359.6L336.5 327.2M336.5 327.2l4.0 -8.1M338.7 330.5l2.2 -4.5M358.1 349.7L342.5 321.5M342.5 321.5l4.7 -7.7M358.1 339.8L343.3 366.2M343.3 366.2l-9.0 0.1M358.1 329.8L327.8 325.3M327.8 325.3l-3.3 -8.4M358.1 319.9L320.0 310.9M320.0 310.9l-2.6 -8.6M358.1 310.0L326.1 306.7M326.1 306.7l-3.7 -8.2M358.1 300.1L324.2 298.5M324.2 298.5l-4.1 -8.0M328.2 298.7l-2.3 -4.4M358.1 290.2L316.8 289.2M316.8 289.2l-4.3 -7.9M320.8 289.3l-2.4 -4.4M358.1 280.2L318.3 278.6M318.3 278.6l-4.2 -8.0M358.1 270.3L323.6 274.0M323.6 274.0l-5.3 -7.3M327.6 273.6l-5.3 -7.3M331.5 273.2l-2.9 -4.0M358.1 260.4L321.9 257.6M321.9 257.6l-3.9 -8.1M358.1 250.5L322.5 265.9M322.5 265.9l-7.2 -5.4M326.1 264.3l-4.0 -3.0M358.1 240.6L322.7 252.6M322.7 252.6l-6.8 -5.9M358.1 230.6L324.8 242.5M324.8 242.5l-6.9 -5.8M328.6 241.2l-3.8 -3.2M358.1 220.7L320.9 238.2M320.9 238.2l-7.4 -5.1M358.1 210.8L319.5 215.4M319.5 215.4l-5.4 -7.2M323.4 214.9l-3.0 -4.0M358.1 200.9L318.8 208.9M318.8 208.9l-6.0 -6.7M322.8 208.1l-3.3 -3.7M358.1 191.0L323.9 186.4M323.9 186.4l-3.4 -8.3M327.8 187.0l-1.9 -4.6M358.1 181.0L323.2 170.9M325.4 171.5l0.5 -5.0M332.1 173.5l0.5 -5.0M358.1 171.1L328.2 164.6M330.7 165.2l0.2 -5.0M337.6 166.6l0.2 -5.0M358.1 161.2L325.4 156.1M326.9 156.3l-0.1 -5.0M333.8 157.4l-0.1 -5.0M340.7 158.5l-0.1 -5.0M358.1 151.3L323.4 143.1M323.8 143.2l0.3 -5.0M330.6 144.8l0.3 -5.0M337.4 146.4l0.3 -5.0M358.1 141.4L320.1 126.4M321.5 126.9l1.0 -4.9M328.0 129.5l1.0 -4.9M358.1 131.4L318.1 122.0M319.2 122.3l0.3 -5.0M326.0 123.9l0.3 -5.0M332.8 125.5l0.3 -5.0M358.1 121.5L327.2 109.7M328.6 110.2l1.0 -4.9M335.2 112.7l1.0 -4.9M358.1 111.6L329.6 100.7M333.5 102.2l0.9 -4.9M340.0 104.7l0.9 -4.9M370.9 399.3L340.7 398.3M340.7 398.3l-4.3 -7.9M370.9 389.4L354.5 418.4M354.5 418.4l-9.0 0.1M356.4 414.9l-5.0 0.0M370.9 379.4L354.6 416.6M354.6 416.6l-8.9 1.0M370.9 369.5L351.1 404.6M351.1 404.6l-9.0 0.1M353.1 401.1l-5.0 0.1M370.9 359.6L338.0 337.2M338.0 337.2l0.7 -9.0M370.9 349.7L350.6 372.4M350.6 372.4l-8.8 -1.8M370.9 339.8L357.5 307.4M357.5 307.4l5.5 -7.1M359.0 311.1l3.0 -4.0M370.9 329.8L340.5 329.5M340.5 329.5l-4.4 -7.8M344.5 329.6l-2.5 -4.4M370.9 319.9L339.9 317.9M339.9 317.9l-4.0 -8.1M343.9 318.2l-2.2 -4.5M370.9 310.0L334.9 304.5M334.9 304.5l-3.3 -8.4M370.9 300.1L335.4 290.6M335.4 290.6l-2.3 -8.7M339.2 291.7l-2.3 -8.7M343.1 292.7l-1.3 -4.8M370.9 290.2L336.4 288.3M336.4 288.3l-4.1 -8.0M340.4 288.5l-4.1 -8.0M344.4 288.8l-2.3 -4.5M370.9 280.2L329.5 279.7M329.5 279.7l-4.4 -7.9M333.5 279.7l-2.4 -4.4M370.9 270.3L338.5 273.1M338.5 273.1l-5.2 -7.4M370.9 260.4L333.9 260.3M333.9 260.3l-4.5 -7.8M370.9 250.5L339.4 261.4M339.4 261.4l-6.8 -5.9M370.9 240.6L339.7 253.4M339.7 253.4l-7.1 -5.5M370.9 230.6L341.1 238.8M341.1 238.8l-6.4 -6.3M370.9 220.7L333.9 234.0M333.9 234.0l-6.9 -5.8M370.9 210.8L342.3 222.6M342.3 222.6l-7.1 -5.5M370.9 200.9L338.5 209.0M338.5 209.0l-6.3 -6.5M370.9 191.0L339.8 186.0M339.8 186.0l-3.2 -8.4M370.9 181.0L335.0 179.5M336.0 179.6l-0.7 -5.0M343.0 179.9l-0.7 -5.0M370.9 171.1L330.8 165.3M331.4 165.3l-0.1 -5.0M338.3 166.4l-0.1 -5.0M345.2 167.4l-0.1 -5.0M370.9 161.2L335.6 155.3M338.9 155.9l-0.0 -5.0M345.8 157.0l-0.0 -5.0M370.9 151.3L338.8 145.0M341.7 145.6l0.1 -5.0M348.6 146.9l0.1 -5.0M355.4 148.3l0.1 -5.0M370.9 141.4L333.8 133.4M339.0 134.6l0.2 -5.0M345.8 136.0l0.2 -5.0M370.9 131.4L342.4 121.4M342.6 121.4l0.8 -4.9M349.2 123.7l0.8 -4.9M355.8 126.1l0.8 -4.9M370.9 121.5L332.2 109.9M334.3 110.5l0.6 -5.0M341.0 112.5l0.6 -5.0M370.9 111.6L342.0 99.7M347.7 102.0l1.1 -4.9M354.2 104.7l1.1 -4.9M360.6 107.4l1.1 -4.9M383.7 399.3L348.5 395.3M348.5 395.3l-3.6 -8.3M383.7 389.4L370.4 416.5M370.4 416.5l-9.0 0.6M383.7 379.4L355.4 354.0M355.4 354.0l1.9 -8.8M383.7 369.5L360.1 344.5M360.1 344.5l2.6 -8.6M362.9 347.4l1.4 -4.8M383.7 359.6L356.3 328.2M356.3 328.2l2.9 -8.5M359.0 331.2l2.9 -8.5M361.6 334.2l1.6 -4.7M383.7 349.7L370.8 382.5M370.8 382.5l-8.9 1.4M383.7 339.8L364.0 316.1M364.0 316.1l3.1 -8.4M366.6 319.1l1.7 -4.7M383.7 329.8L348.9 328.2M348.9 328.2l-4.1 -8.0M352.9 328.4l-2.3 -4.4M383.7 319.9L351.4 315.7M351.4 315.7l-3.4 -8.3M383.7 310.0L353.2 301.0M353.2 301.0l-2.1 -8.8M383.7 300.1L352.0 295.7M352.0 295.7l-3.4 -8.3M355.9 296.2l-1.9 -4.6M383.7 290.2L346.4 286.6M346.4 286.6l-3.7 -8.2M350.3 287.0l-2.1 -4.5M383.7 280.2L345.0 277.5M345.0 277.5l-3.9 -8.1M349.0 277.8l-2.2 -4.5M383.7 270.3L352.5 266.4M352.5 266.4l-3.5 -8.3M356.4 266.9l-1.9 -4.6M383.7 260.4L342.6 256.0M342.6 256.0l-3.6 -8.2M346.5 256.4l-3.6 -8.2M350.5 256.9l-2.0 -4.6M383.7 250.5L354.2 257.4M354.2 257.4l-6.2 -6.6M383.7 240.6L354.7 252.6M354.7 252.6l-7.1 -5.5M358.4 251.1l-4.0 -3.0M383.7 230.6L352.3 242.6M352.3 242.6l-7.0 -5.7M356.0 241.2l-3.9 -3.2M383.7 220.7L353.3 229.4M353.3 229.4l-6.5 -6.3M383.7 210.8L348.5 219.2M348.5 219.2l-6.2 -6.5M383.7 200.9L349.5 208.5M349.5 208.5l-6.1 -6.6M383.7 191.0L351.1 189.8M351.1 189.8l-4.2 -7.9M355.1 189.9l-2.3 -4.4M383.7 181.0L343.5 179.9M350.3 180.1l-0.7 -4.9M357.3 180.3l-0.7 -4.9M383.7 171.1L352.0 167.8M356.2 168.3l-0.4 -5.0M363.1 169.0l-0.4 -5.0M370.1 169.7l-0.4 -5.0M383.7 161.2L343.5 157.5M346.8 157.8l-0.4 -5.0M353.7 158.4l-0.4 -5.0M360.7 159.1l-0.4 -5.0M383.7 151.3L354.6 143.3M360.9 145.0l0.5 -5.0M367.7 146.9l0.5 -5.0M383.7 141.4L352.7 133.9M352.9 134.0l0.3 -5.0M359.7 135.6l0.3 -5.0M366.5 137.2l0.3 -5.0M383.7 131.4L352.7 126.7M360.3 127.9l-0.1 -5.0M367.3 128.9l-0.1 -5.0M383.7 121.5L354.2 113.5M354.8 113.6l0.5 -5.0M361.5 115.5l0.5 -5.0M383.7 111.6L351.6 103.4M358.7 105.2l0.4 -5.0M365.5 106.9l0.4 -5.0M396.5 399.3L358.6 398.4M358.6 398.4l-4.3 -7.9M362.6 398.5l-4.3 -7.9M366.6 398.6l-2.4 -4.4M396.5 389.4L381.0 355.9M381.0 355.9l5.2 -7.4M382.7 359.6l2.9 -4.1M396.5 379.4L381.5 409.1M381.5 409.1l-9.0 0.5M383.3 405.5l-5.0 0.3M396.5 369.5L374.0 343.4M374.0 343.4l3.0 -8.5M396.5 359.6L372.7 383.9M372.7 383.9l-8.7 -2.2M396.5 349.7L374.3 383.0M374.3 383.0l-9.0 -0.6M396.5 339.8L367.2 366.7M367.2 366.7l-8.6 -2.7M370.1 364.0l-4.8 -1.5M396.5 329.8L357.9 329.2M357.9 329.2l-4.4 -7.9M396.5 319.9L360.2 320.3M360.2 320.3l-4.6 -7.7M364.2 320.3l-2.5 -4.3M396.5 310.0L358.5 301.8M358.5 301.8l-2.8 -8.6M396.5 300.1L358.5 295.6M358.5 295.6l-3.6 -8.3M396.5 290.2L363.7 286.2M363.7 286.2l-3.5 -8.3M367.7 286.7l-3.5 -8.3M371.7 287.2l-2.0 -4.6M396.5 280.2L364.0 278.0M364.0 278.0l-4.0 -8.1M368.0 278.3l-2.2 -4.5M396.5 270.3L365.8 271.4M365.8 271.4l-4.8 -7.6M396.5 260.4L362.4 257.6M362.4 257.6l-3.8 -8.1M366.4 257.9l-3.8 -8.1M370.4 258.2l-2.1 -4.5M396.5 250.5L364.1 254.2M364.1 254.2l-5.4 -7.2M368.1 253.7l-3.0 -4.0M396.5 240.6L359.5 248.4M359.5 248.4l-6.0 -6.7M396.5 230.6L368.9 245.1M368.9 245.1l-7.6 -4.8M372.5 243.2l-4.2 -2.7M396.5 220.7L365.1 230.1M365.1 230.1l-6.6 -6.2M396.5 210.8L367.3 219.5M367.3 219.5l-6.5 -6.2M396.5 200.9L364.1 208.9M364.1 208.9l-6.2 -6.5M368.0 208.0l-6.2 -6.5M371.8 207.0l-3.5 -3.6M396.5 191.0L360.9 186.1M360.9 186.1l-3.4 -8.3M396.5 181.0L362.6 176.8M367.5 177.4l-0.3 -5.0M374.5 178.3l-0.3 -5.0M381.4 179.2l-0.3 -5.0M396.5 171.1L358.6 166.1M362.9 166.7l-0.2 -5.0M369.9 167.6l-0.2 -5.0M396.5 161.2L363.0 154.9M370.2 156.3l0.1 -5.0M377.1 157.6l0.1 -5.0M384.0 158.8l0.1 -5.0M396.5 151.3L356.9 146.4M357.6 146.5l-0.3 -5.0M364.5 147.4l-0.3 -5.0M396.5 141.4L358.3 133.0M364.6 134.3l0.2 -5.0M371.4 135.8l0.2 -5.0M378.2 137.4l0.2 -5.0M396.5 131.4L362.0 123.7M367.7 125.0l0.2 -5.0M374.5 126.5l0.2 -5.0M381.3 128.0l0.2 -5.0M396.5 121.5L364.6 108.8M369.9 110.9l1.0 -4.9M376.4 113.5l1.0 -4.9M382.9 116.1l1.0 -4.9M396.5 111.6L358.8 104.0M364.2 105.1l0.1 -5.0M371.1 106.5l0.1 -5.0M409.3 399.3L368.9 397.8M368.9 397.8l-4.2 -8.0M409.3 389.4L396.5 358.0M396.5 358.0l5.5 -7.1M409.3 379.4L404.3 346.5M404.3 346.5l7.0 -5.6M409.3 369.5L406.0 328.9M406.0 328.9l7.4 -5.1M406.3 332.9l7.4 -5.1M406.6 336.9l4.1 -2.8M409.3 359.6L414.4 324.0M414.4 324.0l8.4 -3.3M409.3 349.7L424.8 313.3M424.8 313.3l8.9 -1.1M423.2 316.9l5.0 -0.6M409.3 339.8L419.8 300.9M419.8 300.9l8.7 -2.3M418.7 304.8l4.8 -1.3M409.3 329.8L375.4 329.3M375.4 329.3l-4.4 -7.9M409.3 319.9L374.8 317.3M374.8 317.3l-3.9 -8.1M378.8 317.6l-3.9 -8.1M382.8 317.9l-2.2 -4.5M409.3 310.0L371.1 309.3M371.1 309.3l-4.4 -7.9M375.1 309.4l-2.4 -4.4M409.3 300.1L370.1 297.1M370.1 297.1l-3.9 -8.1M409.3 290.2L371.1 286.0M371.1 286.0l-3.6 -8.2M409.3 280.2L372.3 273.7M372.3 273.7l-3.1 -8.5M409.3 270.3L374.6 266.2M374.6 266.2l-3.5 -8.3M409.3 260.4L376.2 259.7M376.2 259.7l-4.3 -7.9M409.3 250.5L377.4 257.1M377.4 257.1l-6.0 -6.7M381.3 256.3l-6.0 -6.7M385.2 255.5l-3.3 -3.7M409.3 240.6L374.9 246.8M374.9 246.8l-5.8 -6.9M378.8 246.1l-3.2 -3.8M409.3 230.6L375.9 240.0M375.9 240.0l-6.4 -6.3M409.3 220.7L372.8 232.0M372.8 232.0l-6.6 -6.1M376.6 230.8l-3.7 -3.4M409.3 210.8L378.5 218.9M378.5 218.9l-6.3 -6.4M382.4 217.9l-6.3 -6.4M386.3 216.9l-3.5 -3.5M409.3 200.9L375.4 212.8M375.4 212.8l-6.8 -5.8M379.2 211.5l-3.8 -3.2M409.3 191.0L374.2 186.4M374.2 186.4l-3.5 -8.3M378.2 186.9l-3.5 -8.3M382.1 187.4l-1.9 -4.6M409.3 181.0L376.3 179.4M384.2 179.8l-0.6 -5.0M391.2 180.1l-0.6 -5.0M409.3 171.1L369.4 165.3M372.1 165.7l-0.1 -5.0M379.0 166.7l-0.1 -5.0M385.9 167.7l-0.1 -5.0M409.3 161.2L377.6 156.3M380.5 156.8l-0.1 -5.0M387.5 157.8l-0.1 -5.0M394.4 158.9l-0.1 -5.0M409.3 151.3L376.1 144.2M382.3 145.5l0.2 -5.0M389.1 147.0l0.2 -5.0M409.3 141.4L370.5 131.6M371.4 131.8l0.4 -5.0M378.2 133.5l0.4 -5.0M384.9 135.2l0.4 -5.0M409.3 131.4L375.4 126.1M382.4 127.2l-0.1 -5.0M389.3 128.3l-0.1 -5.0M409.3 121.5L373.9 111.8M374.4 111.9l0.5 -5.0M381.2 113.8l0.5 -5.0M409.3 111.6L379.9 104.0M387.2 105.9l0.4 -5.0M394.0 107.7l0.4 -5.0M400.8 109.4l0.4 -5.0M422.1 399.3L382.3 396.0M382.3 396.0l-3.8 -8.1M386.3 396.3l-2.1 -4.5M422.1 389.4L411.2 359.7M411.2 359.7l5.8 -6.9M422.1 379.4L412.1 341.7M412.1 341.7l6.4 -6.3M413.1 345.6l3.5 -3.5M422.1 369.5L416.3 332.9M416.3 332.9l7.0 -5.7M416.9 336.9l3.9 -3.1M422.1 359.6L424.3 320.3M424.3 320.3l8.0 -4.1M424.1 324.3l4.5 -2.3M422.1 349.7L436.0 315.9M436.0 315.9l8.9 -1.2M434.5 319.6l5.0 -0.7M422.1 339.8L435.6 310.1M435.6 310.1l9.0 -0.9M433.9 313.7l5.0 -0.5M422.1 329.8L388.9 331.3M388.9 331.3l-4.8 -7.6M392.9 331.1l-2.7 -4.2M422.1 319.9L385.5 318.7M385.5 318.7l-4.2 -7.9M389.5 318.8l-2.4 -4.4M422.1 310.0L381.0 308.2M381.0 308.2l-4.2 -8.0M385.0 308.4l-2.3 -4.4M422.1 300.1L381.1 295.9M381.1 295.9l-3.7 -8.2M385.1 296.3l-3.7 -8.2M389.0 296.7l-2.1 -4.6M422.1 290.2L390.0 285.7M390.0 285.7l-3.4 -8.3M422.1 280.2L381.0 275.3M381.0 275.3l-3.5 -8.3M385.0 275.8l-2.0 -4.6M422.1 270.3L390.7 266.0M390.7 266.0l-3.4 -8.3M422.1 260.4L380.4 259.5M380.4 259.5l-4.3 -7.9M384.4 259.6l-4.3 -7.9M388.4 259.7l-2.4 -4.4M422.1 250.5L381.0 250.0M381.0 250.0l-4.4 -7.8M385.0 250.0l-2.4 -4.4M422.1 240.6L392.1 248.7M392.1 248.7l-6.4 -6.3M396.0 247.7l-3.6 -3.5M422.1 230.6L385.5 238.2M385.5 238.2l-6.0 -6.7M389.4 237.4l-6.0 -6.7M393.3 236.6l-3.3 -3.7M422.1 220.7L391.7 229.7M391.7 229.7l-6.5 -6.2M422.1 210.8L386.3 224.6M386.3 224.6l-7.0 -5.7M422.1 200.9L391.6 207.1M391.6 207.1l-6.0 -6.7M395.6 206.3l-6.0 -6.7M399.5 205.5l-3.3 -3.7M422.1 191.0L389.0 189.2M389.0 189.2l-4.1 -8.0M422.1 181.0L385.7 178.0M386.9 178.1l-0.5 -5.0M393.9 178.7l-0.5 -5.0M400.9 179.3l-0.5 -5.0M422.1 171.1L387.2 166.6M392.1 167.2l-0.2 -5.0M399.0 168.1l-0.2 -5.0M406.0 169.0l-0.2 -5.0M422.1 161.2L385.8 154.7M388.3 155.1l0.0 -5.0M395.2 156.3l0.0 -5.0M402.1 157.6l0.0 -5.0M422.1 151.3L390.1 153.7M391.4 153.6l-1.2 -4.8M398.4 153.1l-1.2 -4.8M405.3 152.6l-1.2 -4.8M422.1 141.4L389.3 134.0M397.0 135.7l0.2 -5.0M403.9 137.3l0.2 -5.0M422.1 131.4L387.9 124.0M389.4 124.4l0.2 -5.0M396.2 125.8l0.2 -5.0M422.1 121.5L383.5 114.3M384.2 114.4l0.1 -5.0M391.1 115.7l0.1 -5.0M398.0 117.0l0.1 -5.0M422.1 111.6L388.3 104.6M390.0 105.0l0.1 -5.0M396.9 106.4l0.1 -5.0M403.7 107.8l0.1 -5.0M434.9 399.3L400.7 398.5M400.7 398.5l-4.3 -7.9M434.9 389.4L417.6 359.3M417.6 359.3l4.5 -7.8M419.6 362.8l4.5 -7.8M421.6 366.2l2.5 -4.3M434.9 379.4L422.0 347.5M422.0 347.5l5.6 -7.1M423.5 351.2l3.1 -3.9M434.9 369.5L430.4 333.5M430.4 333.5l7.2 -5.4M434.9 359.6L433.4 324.7M433.4 324.7l7.6 -4.8M434.9 349.7L439.9 317.5M439.9 317.5l8.4 -3.2M439.3 321.5l4.7 -1.8M434.9 339.8L453.5 313.5M453.5 313.5l9.0 0.8M451.2 316.8l5.0 0.5M434.9 329.8L397.8 325.4M397.8 325.4l-3.5 -8.3M401.8 325.9l-2.0 -4.6M434.9 319.9L404.7 321.7M404.7 321.7l-4.9 -7.5M434.9 310.0L404.1 310.0M404.1 310.0l-4.5 -7.8M408.1 310.0l-2.5 -4.3M434.9 300.1L404.5 297.9M404.5 297.9l-3.9 -8.1M434.9 290.2L403.9 287.7M403.9 287.7l-3.9 -8.1M407.9 288.0l-2.1 -4.5M434.9 280.2L404.4 277.7M404.4 277.7l-3.8 -8.1M408.4 278.1l-2.1 -4.5M434.9 270.3L403.5 266.2M403.5 266.2l-3.4 -8.3M407.5 266.7l-1.9 -4.6M434.9 260.4L394.9 262.3M394.9 262.3l-4.9 -7.6M398.9 262.1l-4.9 -7.6M402.9 261.9l-2.7 -4.2M434.9 250.5L399.9 252.8M399.9 252.8l-5.0 -7.5M403.9 252.6l-2.8 -4.2M434.9 240.6L402.6 243.8M402.6 243.8l-5.3 -7.3M406.5 243.4l-5.3 -7.3M410.5 243.0l-2.9 -4.1M434.9 230.6L398.1 229.8M398.1 229.8l-4.3 -7.9M402.1 229.9l-4.3 -7.9M406.1 230.0l-2.4 -4.4M434.9 220.7L394.1 224.7M394.1 224.7l-5.2 -7.3M434.9 210.8L405.4 218.3M405.4 218.3l-6.3 -6.5M409.3 217.3l-6.3 -6.5M413.2 216.3l-3.5 -3.6M434.9 200.9L406.3 212.5M406.3 212.5l-7.1 -5.5M434.9 191.0L399.3 185.8M399.3 185.8l-3.3 -8.4M434.9 181.0L403.3 178.5M405.9 178.7l-0.5 -5.0M412.9 179.3l-0.5 -5.0M419.8 179.8l-0.5 -5.0M434.9 171.1L404.6 167.4M410.2 168.1l-0.3 -5.0M417.1 168.9l-0.3 -5.0M434.9 161.2L394.5 156.7M397.4 157.1l-0.3 -5.0M404.4 157.8l-0.3 -5.0M411.3 158.6l-0.3 -5.0M434.9 151.3L397.5 141.2M398.6 141.5l0.4 -5.0M405.4 143.3l0.4 -5.0M412.1 145.1l0.4 -5.0M434.9 141.4L398.0 129.7M398.9 130.0l0.7 -5.0M405.6 132.1l0.7 -5.0M412.3 134.2l0.7 -5.0M434.9 131.4L401.1 129.2M403.3 129.3l-0.5 -5.0M410.3 129.8l-0.5 -5.0M417.3 130.3l-0.5 -5.0M434.9 121.5L399.9 116.4M402.0 116.7l-0.1 -5.0M408.9 117.7l-0.1 -5.0M415.9 118.7l-0.1 -5.0M434.9 111.6L404.6 104.6M404.7 104.6l0.3 -5.0M411.5 106.2l0.3 -5.0M418.3 107.8l0.3 -5.0M447.7 399.3L407.1 392.0M407.1 392.0l-3.0 -8.5M411.1 392.7l-1.7 -4.7M447.7 389.4L422.3 369.5M422.3 369.5l1.3 -8.9M425.5 372.0l1.3 -8.9M428.6 374.4l0.7 -5.0M447.7 379.4L427.5 349.9M427.5 349.9l3.9 -8.1M429.7 353.2l3.9 -8.1M432.0 356.5l2.2 -4.5M447.7 369.5L436.3 334.1M436.3 334.1l6.0 -6.7M447.7 359.6L454.5 329.9M454.5 329.9l8.6 -2.7M447.7 349.7L463.9 318.0M463.9 318.0l9.0 -0.5M462.1 321.5l5.0 -0.3M447.7 339.8L469.3 310.3M469.3 310.3l8.9 1.0M447.7 329.8L417.2 328.4M417.2 328.4l-4.1 -8.0M447.7 319.9L417.4 318.1M417.4 318.1l-4.0 -8.0M447.7 310.0L406.4 314.6M406.4 314.6l-5.3 -7.3M410.4 314.1l-3.0 -4.0M447.7 300.1L413.6 298.2M413.6 298.2l-4.1 -8.0M447.7 290.2L406.2 286.2M406.2 286.2l-3.7 -8.2M447.7 280.2L410.0 273.9M410.0 273.9l-3.2 -8.4M447.7 270.3L408.9 267.0M408.9 267.0l-3.8 -8.1M447.7 260.4L410.4 261.7M410.4 261.7l-4.8 -7.6M447.7 250.5L410.6 250.4M410.6 250.4l-4.5 -7.8M447.7 240.6L409.6 241.1M409.6 241.1l-4.6 -7.7M413.6 241.0l-2.6 -4.3M447.7 230.6L407.6 237.6M407.6 237.6l-5.8 -6.9M411.5 236.9l-3.2 -3.8M447.7 220.7L408.6 233.2M408.6 233.2l-6.7 -6.1M412.4 232.0l-3.7 -3.4M447.7 210.8L408.0 222.0M408.0 222.0l-6.4 -6.3M447.7 200.9L412.4 216.0M412.4 216.0l-7.2 -5.4M447.7 191.0L410.3 186.4M410.3 186.4l-3.5 -8.3M414.3 186.9l-2.0 -4.6M447.7 181.0L416.9 175.1M423.2 176.4l0.1 -5.0M430.1 177.7l0.1 -5.0M436.9 179.0l0.1 -5.0M447.7 171.1L410.0 167.7M415.3 168.2l-0.4 -5.0M422.3 168.8l-0.4 -5.0M429.3 169.4l-0.4 -5.0M447.7 161.2L407.5 160.2M408.0 160.3l-0.8 -4.9M415.0 160.4l-0.8 -4.9M422.0 160.6l-0.8 -4.9M447.7 151.3L414.3 145.9M414.8 146.0l-0.1 -5.0M421.7 147.1l-0.1 -5.0M428.6 148.2l-0.1 -5.0M447.7 141.4L411.7 135.6M413.9 136.0l-0.1 -5.0M420.8 137.1l-0.1 -5.0M447.7 131.4L417.7 125.3M420.8 125.9l0.1 -5.0M427.7 127.3l0.1 -5.0M434.5 128.7l0.1 -5.0M447.7 121.5L411.3 112.2M414.0 112.9l0.4 -5.0M420.8 114.6l0.4 -5.0M447.7 111.6L417.8 104.7M424.5 106.2l0.3 -5.0M431.3 107.8l0.3 -5.0M460.5 399.3L422.6 396.3M422.6 396.3l-3.9 -8.1M426.6 396.6l-2.2 -4.5M460.5 389.4L425.7 367.4M425.7 367.4l0.4 -9.0M429.1 369.5l0.2 -5.0M460.5 379.4L433.1 360.0M433.1 360.0l0.8 -9.0M436.4 362.3l0.5 -5.0M460.5 369.5L440.9 344.8M440.9 344.8l3.3 -8.4M460.5 359.6L464.1 326.2M464.1 326.2l8.2 -3.6M463.7 330.2l8.2 -3.6M463.3 334.2l4.6 -2.0M460.5 349.7L480.6 325.5M480.6 325.5l8.9 1.5M478.0 328.6l4.9 0.8M460.5 339.8L495.8 321.7M495.8 321.7l7.6 4.9M492.3 323.5l7.6 4.9M488.7 325.3l4.2 2.7M460.5 329.8L422.6 328.7M422.6 328.7l-4.3 -7.9M426.6 328.8l-2.4 -4.4M460.5 319.9L425.7 321.2M425.7 321.2l-4.8 -7.6M429.7 321.1l-4.8 -7.6M433.7 320.9l-2.7 -4.2M460.5 310.0L420.2 312.5M420.2 312.5l-5.0 -7.5M424.2 312.2l-5.0 -7.5M428.2 312.0l-2.8 -4.2M460.5 300.1L427.1 298.7M427.1 298.7l-4.2 -8.0M460.5 290.2L427.6 287.0M427.6 287.0l-3.7 -8.2M431.6 287.4l-2.1 -4.5M460.5 280.2L422.2 276.0M422.2 276.0l-3.6 -8.2M426.2 276.4l-2.0 -4.6M460.5 270.3L421.7 266.6M421.7 266.6l-3.7 -8.2M425.7 267.0l-2.1 -4.5M460.5 260.4L426.4 267.0M426.4 267.0l-5.9 -6.8M430.3 266.2l-3.3 -3.8M460.5 250.5L430.5 252.0M430.5 252.0l-4.9 -7.6M460.5 240.6L428.7 248.0M428.7 248.0l-6.2 -6.6M432.5 247.1l-3.4 -3.6M460.5 230.6L430.2 233.7M430.2 233.7l-5.3 -7.3M434.1 233.3l-5.3 -7.3M438.1 232.9l-2.9 -4.1M460.5 220.7L429.9 232.4M429.9 232.4l-7.0 -5.7M433.6 231.0l-3.9 -3.2M460.5 210.8L430.0 218.4M430.0 218.4l-6.3 -6.5M460.5 200.9L425.0 215.2M425.0 215.2l-7.1 -5.6M460.5 191.0L429.8 178.3M429.8 178.3l-1.2 -8.9M433.5 179.9l-0.7 -5.0M460.5 181.0L432.4 168.8M436.3 170.5l1.2 -4.9M442.7 173.3l1.2 -4.9M460.5 171.1L426.4 156.9M429.8 158.3l1.1 -4.9M436.3 161.0l1.1 -4.9M460.5 161.2L430.3 148.9M430.8 149.1l1.1 -4.9M437.3 151.7l1.1 -4.9M443.7 154.4l1.1 -4.9M460.5 151.3L431.4 140.2M431.7 140.3l0.9 -4.9M438.3 142.8l0.9 -4.9M444.8 145.3l0.9 -4.9M460.5 141.4L429.1 129.8M431.8 130.8l0.9 -4.9M438.4 133.2l0.9 -4.9M445.0 135.6l0.9 -4.9M460.5 131.4L426.3 123.0M428.9 123.6l0.3 -5.0M435.7 125.3l0.3 -5.0M460.5 121.5L421.3 111.9M425.5 112.9l0.3 -5.0M432.3 114.6l0.3 -5.0M439.1 116.3l0.3 -5.0M460.5 111.6L428.5 105.5M434.7 106.7l0.1 -5.0M441.6 108.0l0.1 -5.0M448.4 109.3l0.1 -5.0M473.3 399.3L438.2 396.8M438.2 396.8l-3.9 -8.1M442.2 397.1l-2.2 -4.5M473.3 389.4L438.4 387.4M438.4 387.4l-4.1 -8.0M442.3 387.6l-2.3 -4.5M473.3 379.4L437.7 373.8M437.7 373.8l-3.2 -8.4M441.7 374.4l-3.2 -8.4M445.6 375.0l-1.8 -4.7M473.3 369.5L436.8 375.6M436.8 375.6l-5.7 -6.9M473.3 359.6L496.7 381.7M496.7 381.7l-2.1 8.8M493.8 379.0l-2.1 8.8M490.9 376.2l-1.2 4.9M473.3 349.7L510.4 354.1M510.4 354.1l3.5 8.3M473.3 339.8L508.8 350.1M508.8 350.1l2.2 8.7M505.0 349.0l2.2 8.7M501.2 347.8l1.2 4.9M473.3 329.8L440.1 328.0M440.1 328.0l-4.1 -8.0M444.1 328.2l-2.3 -4.5M473.3 319.9L442.6 318.4M442.6 318.4l-4.1 -8.0M446.6 318.6l-4.1 -8.0M450.6 318.8l-2.3 -4.4M473.3 310.0L431.9 309.7M431.9 309.7l-4.4 -7.8M473.3 300.1L436.7 300.0M436.7 300.0l-4.5 -7.8M473.3 290.2L438.1 285.0M438.1 285.0l-3.3 -8.4M442.0 285.6l-1.8 -4.6M473.3 280.2L438.0 273.3M438.0 273.3l-2.9 -8.5M441.9 274.1l-1.6 -4.7M473.3 270.3L440.4 270.6M440.4 270.6l-4.6 -7.8M444.4 270.6l-4.6 -7.8M448.4 270.5l-2.5 -4.3M473.3 260.4L438.8 266.0M438.8 266.0l-5.7 -7.0M473.3 250.5L436.5 249.3M436.5 249.3l-4.2 -7.9M473.3 240.6L439.0 245.3M439.0 245.3l-5.5 -7.1M443.0 244.7l-3.1 -4.0M473.3 230.6L434.8 234.9M434.8 234.9l-5.3 -7.3M438.7 234.4l-3.0 -4.0M473.3 220.7L434.6 225.0M434.6 225.0l-5.3 -7.2M438.6 224.6l-5.3 -7.2M442.6 224.1l-3.0 -4.0M473.3 210.8L433.2 216.6M433.2 216.6l-5.6 -7.1M437.2 216.1l-5.6 -7.1M441.1 215.5l-3.1 -3.9M473.3 200.9L444.5 210.1M444.5 210.1l-6.7 -6.0M448.3 208.9l-6.7 -6.0M452.1 207.7l-3.7 -3.4M473.3 191.0L436.2 179.9M436.2 179.9l-2.1 -8.8M440.1 181.1l-1.2 -4.9M473.3 181.0L442.8 170.4M443.5 170.6l0.8 -4.9M450.1 172.9l0.8 -4.9M473.3 171.1L440.6 165.4M445.8 166.3l-0.0 -5.0M452.7 167.5l-0.0 -5.0M473.3 161.2L443.0 149.3M449.5 151.8l1.0 -4.9M456.0 154.4l1.0 -4.9M473.3 151.3L439.4 135.4M444.7 137.9l1.3 -4.8M451.0 140.8l1.3 -4.8M473.3 141.4L436.8 131.2M440.7 132.3l0.5 -5.0M447.4 134.2l0.5 -5.0M454.1 136.0l0.5 -5.0M473.3 131.4L435.1 120.8M442.0 122.7l0.5 -5.0M448.7 124.6l0.5 -5.0M455.4 126.5l0.5 -5.0M473.3 121.5L441.3 114.4M446.0 115.5l0.2 -5.0M452.8 117.0l0.2 -5.0M459.7 118.5l0.2 -5.0M473.3 111.6L432.2 103.2M433.8 103.5l0.1 -5.0M440.7 104.9l0.1 -5.0M486.1 399.3L455.1 398.3M455.1 398.3l-4.3 -7.9M459.1 398.4l-2.4 -4.4M486.1 389.4L448.1 396.9M448.1 396.9l-5.9 -6.8M452.0 396.2l-3.3 -3.8M486.1 379.4L459.1 400.4M459.1 400.4l-8.3 -3.4M486.1 369.5L462.9 390.2M462.9 390.2l-8.5 -2.8M486.1 359.6L481.3 400.8M481.3 400.8l-8.3 3.6M481.8 396.8l-4.6 2.0M486.1 349.7L507.3 377.8M507.3 377.8l-3.5 8.3M504.9 374.6l-1.9 4.6M486.1 339.8L514.3 365.0M514.3 365.0l-1.8 8.8M486.1 329.8L460.0 297.3M460.0 297.3l3.3 -8.4M462.5 300.4l1.8 -4.7M486.1 319.9L461.7 293.8M461.7 293.8l2.6 -8.6M486.1 310.0L464.1 278.8M464.1 278.8l3.8 -8.2M486.1 300.1L461.4 269.9M461.4 269.9l3.2 -8.4M463.9 273.0l1.8 -4.7M486.1 290.2L461.2 259.2M461.2 259.2l3.2 -8.4M463.7 262.4l1.8 -4.7M486.1 280.2L469.0 250.7M469.0 250.7l4.5 -7.8M471.0 254.2l4.5 -7.8M473.0 257.6l2.5 -4.3M486.1 270.3L464.9 243.8M464.9 243.8l3.3 -8.4M467.4 246.9l3.3 -8.4M469.9 250.1l1.8 -4.7M486.1 260.4L469.2 228.8M469.2 228.8l4.8 -7.6M471.1 232.3l4.8 -7.6M473.0 235.8l2.6 -4.2M486.1 250.5L461.2 217.1M461.2 217.1l3.6 -8.3M463.6 220.3l2.0 -4.6M486.1 240.6L469.1 209.3M469.1 209.3l4.7 -7.7M471.1 212.8l2.6 -4.3M486.1 230.6L469.0 199.8M469.0 199.8l4.6 -7.7M486.1 220.7L470.0 194.6M470.0 194.6l4.3 -7.9M486.1 210.8L471.3 177.4M471.3 177.4l5.3 -7.3M486.1 200.9L465.3 168.5M465.3 168.5l4.1 -8.0M486.1 191.0L452.0 176.7M452.0 176.7l-1.2 -8.9M455.7 178.3l-0.6 -5.0M486.1 181.0L452.4 171.9M457.3 173.3l0.4 -5.0M464.0 175.1l0.4 -5.0M470.8 176.9l0.4 -5.0M486.1 171.1L448.2 158.2M449.8 158.8l0.8 -4.9M456.4 161.0l0.8 -4.9M463.0 163.3l0.8 -4.9M486.1 161.2L453.8 141.9M455.1 142.7l1.8 -4.7M461.1 146.3l1.8 -4.7M486.1 151.3L458.0 140.1M462.3 141.8l1.0 -4.9M468.8 144.4l1.0 -4.9M486.1 141.4L453.8 130.9M456.5 131.8l0.7 -5.0M463.2 134.0l0.7 -5.0M469.8 136.1l0.7 -5.0M486.1 131.4L453.6 121.9M460.6 123.9l0.6 -5.0M467.3 125.9l0.6 -5.0M474.0 127.9l0.6 -5.0M486.1 121.5L456.5 114.8M462.7 116.2l0.2 -5.0M469.5 117.8l0.2 -5.0M476.3 119.3l0.2 -5.0M486.1 111.6L452.9 108.0M455.8 108.3l-0.3 -5.0M462.7 109.0l-0.3 -5.0M469.7 109.8l-0.3 -5.0M498.9 399.3L465.1 399.8M465.1 399.8l-4.6 -7.7M469.1 399.7l-2.6 -4.3M498.9 389.4L466.9 415.1M466.9 415.1l-8.4 -3.2M470.0 412.6l-4.7 -1.8M498.9 379.4L476.2 402.3M476.2 402.3l-8.7 -2.3M479.1 399.5l-4.8 -1.3M498.9 369.5L483.8 405.6M483.8 405.6l-8.9 1.1M485.3 402.0l-5.0 0.6M498.9 359.6L499.1 398.8M499.1 398.8l-7.8 4.5M498.9 349.7L512.7 387.5M512.7 387.5l-5.8 6.9M511.4 383.7l-3.2 3.8M498.9 339.8L515.9 373.8M515.9 373.8l-5.0 7.5M514.1 370.2l-5.0 7.5M512.3 366.6l-2.8 4.2M498.9 329.8L475.2 298.9M475.2 298.9l3.4 -8.3M477.6 302.1l1.9 -4.6M498.9 319.9L477.1 298.9M477.1 298.9l2.2 -8.7M498.9 310.0L469.3 287.6M469.3 287.6l1.1 -8.9M472.5 290.0l0.6 -5.0M498.9 300.1L473.4 276.6M473.4 276.6l2.0 -8.8M476.3 279.3l1.1 -4.9M498.9 290.2L476.6 263.2M476.6 263.2l3.1 -8.4M479.1 266.3l3.1 -8.4M481.7 269.4l1.7 -4.7M498.9 280.2L477.0 258.9M477.0 258.9l2.2 -8.7M498.9 270.3L471.9 243.4M471.9 243.4l2.3 -8.7M498.9 260.4L484.1 234.0M484.1 234.0l4.6 -7.7M498.9 250.5L482.0 225.6M482.0 225.6l3.9 -8.1M484.3 228.9l3.9 -8.1M486.5 232.2l2.2 -4.5M498.9 240.6L481.5 210.9M481.5 210.9l4.5 -7.8M498.9 230.6L483.3 202.6M483.3 202.6l4.6 -7.7M498.9 220.7L480.7 187.2M480.7 187.2l4.7 -7.7M498.9 210.8L481.9 178.4M481.9 178.4l4.8 -7.6M483.8 182.0l4.8 -7.6M485.6 185.5l2.7 -4.2M498.9 200.9L485.4 168.2M485.4 168.2l5.5 -7.1M486.9 171.9l3.0 -4.0M498.9 191.0L466.9 183.2M466.9 183.2l-2.5 -8.6M470.8 184.2l-2.5 -8.6M474.7 185.1l-1.4 -4.8M498.9 181.0L465.2 170.4M472.8 172.8l0.6 -5.0M479.5 174.9l0.6 -5.0M486.2 177.0l0.6 -5.0M498.9 171.1L462.4 155.6M464.5 156.5l1.1 -4.9M470.9 159.3l1.1 -4.9M477.4 162.0l1.1 -4.9M498.9 161.2L463.1 149.2M466.5 150.3l0.7 -4.9M473.2 152.6l0.7 -4.9M498.9 151.3L466.0 136.1M472.7 139.2l1.3 -4.8M479.0 142.1l1.3 -4.8M498.9 141.4L465.6 132.6M466.3 132.8l0.4 -5.0M473.0 134.5l0.4 -5.0M479.8 136.3l0.4 -5.0M498.9 131.4L464.7 120.3M469.1 121.7l0.7 -5.0M475.7 123.9l0.7 -5.0M498.9 121.5L466.8 117.8M471.0 118.3l-0.3 -5.0M478.0 119.1l-0.3 -5.0M498.9 111.6L465.0 108.6M469.4 109.0l-0.4 -5.0M476.4 109.6l-0.4 -5.0M511.7 399.3L477.6 396.1M477.6 396.1l-3.7 -8.2M481.6 396.4l-3.7 -8.2M485.5 396.8l-2.1 -4.5M511.7 389.4L486.7 415.8M486.7 415.8l-8.8 -2.1M511.7 379.4L487.5 409.5M487.5 409.5l-8.9 -1.4M490.0 406.4l-4.9 -0.8M511.7 369.5L505.1 404.3M505.1 404.3l-8.5 3.0M505.8 400.3l-8.5 3.0M506.6 396.4l-4.7 1.6M511.7 359.6L504.9 395.5M504.9 395.5l-8.5 3.0M511.7 349.7L521.5 386.9M521.5 386.9l-6.4 6.3M511.7 339.8L525.6 373.0M525.6 373.0l-5.4 7.2M524.1 369.3l-5.4 7.2M522.5 365.6l-3.0 4.0M511.7 329.8L485.2 302.8M485.2 302.8l2.4 -8.7M488.0 305.7l2.4 -8.7M490.8 308.6l1.3 -4.8M511.7 319.9L495.0 286.5M495.0 286.5l5.0 -7.5M511.7 310.0L486.4 280.8M486.4 280.8l2.9 -8.5M489.0 283.8l2.9 -8.5M491.6 286.8l1.6 -4.7M511.7 300.1L488.5 275.6M488.5 275.6l2.5 -8.6M511.7 290.2L484.1 260.3M484.1 260.3l2.7 -8.6M486.8 263.2l1.5 -4.8M511.7 280.2L492.6 254.2M492.6 254.2l3.6 -8.2M495.0 257.4l2.0 -4.6M511.7 270.3L490.4 245.5M490.4 245.5l3.0 -8.5M511.7 260.4L489.4 228.9M489.4 228.9l3.8 -8.2M491.7 232.2l2.1 -4.5M511.7 250.5L497.6 215.6M497.6 215.6l5.5 -7.1M499.1 219.3l3.1 -3.9M511.7 240.6L495.0 202.2M495.0 202.2l5.4 -7.2M496.6 205.9l5.4 -7.2M498.2 209.5l3.0 -4.0M511.7 230.6L487.9 197.5M487.9 197.5l3.7 -8.2M490.2 200.7l2.1 -4.6M511.7 220.7L496.1 195.0M496.1 195.0l4.3 -7.9M498.2 198.4l2.4 -4.4M511.7 210.8L493.2 174.9M493.2 174.9l4.9 -7.6M511.7 200.9L497.8 169.1M497.8 169.1l5.3 -7.2M499.4 172.8l3.0 -4.0M511.7 191.0L491.1 162.7M491.1 162.7l3.7 -8.2M493.5 165.9l2.0 -4.6M511.7 181.0L482.0 166.2M482.5 166.5l1.4 -4.8M488.8 169.6l1.4 -4.8M511.7 171.1L481.0 159.0M483.8 160.2l1.0 -4.9M490.3 162.7l1.0 -4.9M496.8 165.3l1.0 -4.9M511.7 161.2L483.6 147.0M488.3 149.4l1.4 -4.8M494.5 152.5l1.4 -4.8M500.8 155.7l1.4 -4.8M511.7 151.3L475.1 140.0M477.5 140.8l0.6 -5.0M484.2 142.8l0.6 -5.0M490.9 144.9l0.6 -5.0M511.7 141.4L478.2 125.6M480.0 126.5l1.3 -4.8M486.3 129.5l1.3 -4.8M511.7 131.4L482.2 120.6M486.8 122.3l0.9 -4.9M493.4 124.7l0.9 -4.9M511.7 121.5L470.7 116.1M475.6 116.7l-0.2 -5.0M482.5 117.6l-0.2 -5.0M489.4 118.6l-0.2 -5.0M511.7 111.6L479.7 106.4M484.9 107.2l-0.1 -5.0M491.8 108.3l-0.1 -5.0M524.5 399.3L489.1 399.0M489.1 399.0l-4.4 -7.8M493.1 399.1l-2.5 -4.3M524.5 389.4L510.2 416.3M510.2 416.3l-9.0 0.3M512.0 412.8l-5.0 0.2M524.5 379.4L507.9 409.8M507.9 409.8l-9.0 0.2M524.5 369.5L515.6 403.6M515.6 403.6l-8.7 2.4M524.5 359.6L519.2 399.8M519.2 399.8l-8.3 3.4M524.5 349.7L525.3 380.5M525.3 380.5l-7.7 4.7M524.5 339.8L538.9 369.3M538.9 369.3l-5.0 7.5M537.2 365.7l-2.8 4.1M524.5 329.8L500.7 308.8M500.7 308.8l1.8 -8.8M503.7 311.4l1.0 -4.9M524.5 319.9L499.6 286.3M499.6 286.3l3.6 -8.3M502.0 289.5l3.6 -8.3M504.4 292.7l2.0 -4.6M524.5 310.0L502.8 279.9M502.8 279.9l3.7 -8.2M524.5 300.1L503.2 272.0M503.2 272.0l3.5 -8.3M524.5 290.2L504.2 260.1M504.2 260.1l3.9 -8.1M524.5 280.2L504.4 251.7M504.4 251.7l3.8 -8.2M524.5 270.3L494.9 245.0M494.9 245.0l1.7 -8.8M524.5 260.4L500.6 226.1M500.6 226.1l3.8 -8.1M524.5 250.5L504.8 216.1M504.8 216.1l4.5 -7.8M506.8 219.5l4.5 -7.8M508.8 223.0l2.5 -4.3M524.5 240.6L499.0 209.5M499.0 209.5l3.2 -8.4M524.5 230.6L510.3 200.4M510.3 200.4l5.2 -7.4M512.0 204.0l2.9 -4.1M524.5 220.7L507.8 183.7M507.8 183.7l5.3 -7.3M509.5 187.4l5.3 -7.3M511.1 191.0l2.9 -4.1M524.5 210.8L513.3 181.6M513.3 181.6l5.7 -7.0M514.8 185.3l3.2 -3.9M524.5 200.9L507.8 172.5M507.8 172.5l4.4 -7.8M509.8 175.9l4.4 -7.8M511.9 179.4l2.5 -4.3M524.5 191.0L511.3 162.7M511.3 162.7l5.2 -7.4M513.0 166.3l2.9 -4.1M524.5 181.0L491.0 201.4M497.7 197.3l-3.3 -3.8M503.7 193.7l-3.3 -3.8M524.5 171.1L489.2 190.7M493.4 188.4l-3.1 -3.9M499.5 185.0l-3.1 -3.9M524.5 161.2L503.9 197.8M506.5 193.2l-4.7 -1.7M509.9 187.1l-4.7 -1.7M513.4 181.0l-4.7 -1.7M524.5 151.3L497.2 132.5M497.8 132.9l2.1 -4.5M503.6 136.9l2.1 -4.5M524.5 141.4L496.8 166.7M498.7 165.0l-4.0 -3.0M503.9 160.2l-4.0 -3.0M524.5 131.4L495.4 145.4M501.6 142.4l-2.9 -4.1M507.9 139.4l-2.9 -4.1M524.5 121.5L491.1 113.6M492.5 113.9l0.3 -5.0M499.3 115.5l0.3 -5.0M506.1 117.2l0.3 -5.0M524.5 111.6L485.0 104.0M489.4 104.9l0.1 -5.0M496.3 106.2l0.1 -5.0M537.3 399.3L507.3 397.7M507.3 397.7l-4.1 -8.0M537.3 389.4L520.5 418.8M520.5 418.8l-9.0 0.0M537.3 379.4L521.7 406.0M521.7 406.0l-9.0 -0.1M523.8 402.6l-5.0 -0.0M537.3 369.5L530.0 401.5M530.0 401.5l-8.6 2.6M530.9 397.6l-4.8 1.5M537.3 359.6L535.4 400.8M535.4 400.8l-8.0 4.1M537.3 349.7L546.5 382.2M546.5 382.2l-6.3 6.4M537.3 339.8L547.3 373.9M547.3 373.9l-6.2 6.5M546.1 370.1l-3.5 3.6M537.3 329.8L521.0 302.5M521.0 302.5l4.4 -7.9M523.0 306.0l2.4 -4.4M537.3 319.9L515.3 289.7M515.3 289.7l3.7 -8.2M537.3 310.0L517.4 287.0M517.4 287.0l3.0 -8.5M537.3 300.1L515.6 270.3M515.6 270.3l3.7 -8.2M518.0 273.5l2.0 -4.6M537.3 290.2L515.8 254.5M515.8 254.5l4.3 -7.9M537.3 280.2L515.1 252.5M515.1 252.5l3.3 -8.4M517.6 255.6l3.3 -8.4M520.1 258.8l1.8 -4.7M537.3 270.3L513.2 240.7M513.2 240.7l3.2 -8.4M515.8 243.8l1.8 -4.7M537.3 260.4L518.7 235.2M518.7 235.2l3.6 -8.2M521.1 238.4l2.0 -4.6M537.3 250.5L520.1 225.5M520.1 225.5l3.9 -8.1M537.3 240.6L523.6 213.0M523.6 213.0l5.0 -7.5M525.4 216.6l2.8 -4.2M537.3 230.6L521.9 203.1M521.9 203.1l4.6 -7.7M523.8 206.6l2.5 -4.3M537.3 220.7L522.8 192.8M522.8 192.8l4.8 -7.6M524.6 196.4l2.7 -4.2M537.3 210.8L515.1 179.0M515.1 179.0l3.8 -8.2M517.4 182.3l3.8 -8.2M519.7 185.6l2.1 -4.5M537.3 200.9L512.8 168.9M512.8 168.9l3.4 -8.3M515.2 172.0l1.9 -4.6M537.3 191.0L514.8 155.8M514.8 155.8l4.1 -8.0M537.3 181.0L513.2 202.9M518.2 198.3l-3.9 -3.1M523.4 193.6l-3.9 -3.1M537.3 171.1L503.9 187.4M507.5 185.7l-2.9 -4.0M513.8 182.6l-2.9 -4.0M520.1 179.5l-2.9 -4.0M537.3 161.2L510.3 188.2M514.8 183.7l-4.1 -2.9M519.7 178.8l-4.1 -2.9M524.7 173.8l-4.1 -2.9M537.3 151.3L514.3 171.9M516.8 169.7l-3.9 -3.1M522.0 165.0l-3.9 -3.1M527.2 160.3l-3.9 -3.1M537.3 141.4L503.7 165.1M509.3 161.2l-3.6 -3.5M515.0 157.1l-3.6 -3.5M520.7 153.1l-3.6 -3.5M537.3 131.4L519.6 93.4M520.9 96.3l4.1 -2.9M523.9 102.6l4.1 -2.9M537.3 121.5L506.7 112.7M510.0 113.7l0.5 -5.0M516.7 115.6l0.5 -5.0M537.3 111.6L501.2 102.4M504.7 103.3l0.4 -5.0M511.5 105.0l0.4 -5.0M518.2 106.8l0.4 -5.0M550.1 399.3L509.5 397.7M509.5 397.7l-4.2 -8.0M550.1 389.4L523.4 403.2M523.4 403.2l-7.6 -4.8M526.9 401.4l-7.6 -4.8M530.5 399.5l-4.2 -2.7M550.1 379.4L524.1 397.4M524.1 397.4l-8.1 -3.9M527.4 395.2l-8.1 -3.9M530.7 392.9l-4.5 -2.1M550.1 369.5L516.9 390.0M516.9 390.0l-7.9 -4.3M550.1 359.6L520.7 379.1M520.7 379.1l-8.1 -4.0M524.0 376.9l-4.5 -2.2M550.1 349.7L525.1 367.3M525.1 367.3l-8.2 -3.8M528.3 365.0l-8.2 -3.8M531.6 362.7l-4.5 -2.1M550.1 339.8L517.3 361.4M517.3 361.4l-8.0 -4.0M550.1 329.8L527.5 350.3M527.5 350.3l-8.6 -2.8M530.5 347.6l-4.8 -1.5M550.1 319.9L529.0 353.3M529.0 353.3l-9.0 -0.4M550.1 310.0L527.6 330.7M527.6 330.7l-8.6 -2.7M530.6 328.0l-4.8 -1.5M550.1 300.1L523.8 331.5M523.8 331.5l-8.9 -1.6M550.1 290.2L523.0 316.4M523.0 316.4l-8.7 -2.5M550.1 280.2L518.4 300.1M518.4 300.1l-7.9 -4.2M550.1 270.3L526.2 300.7M526.2 300.7l-8.9 -1.3M528.6 297.6l-8.9 -1.3M531.1 294.4l-4.9 -0.7M550.1 260.4L524.4 285.7M524.4 285.7l-8.7 -2.4M550.1 250.5L530.9 219.4M530.9 219.4l4.3 -7.9M533.0 222.8l4.3 -7.9M535.1 226.2l2.4 -4.4M550.1 240.6L533.5 207.9M533.5 207.9l4.9 -7.5M550.1 230.6L532.5 203.9M532.5 203.9l4.0 -8.0M534.7 207.2l2.2 -4.5M550.1 220.7L532.8 190.3M532.8 190.3l4.5 -7.8M534.7 193.8l2.5 -4.3M550.1 210.8L527.7 179.2M527.7 179.2l3.7 -8.2M530.0 182.5l2.1 -4.5M550.1 200.9L535.1 172.6M535.1 172.6l4.8 -7.6M536.9 176.1l4.8 -7.6M538.8 179.7l2.6 -4.2M550.1 191.0L533.1 159.3M533.1 159.3l4.7 -7.6M535.0 162.8l2.6 -4.2M550.1 181.0L522.9 162.9M524.5 164.0l2.0 -4.6M530.4 167.9l2.0 -4.6M536.2 171.8l2.0 -4.6M550.1 171.1L524.0 142.9M527.3 146.5l3.0 -4.0M532.1 151.7l3.0 -4.0M536.8 156.8l3.0 -4.0M550.1 161.2L524.1 184.4M526.3 182.4l-3.9 -3.1M531.5 177.8l-3.9 -3.1M536.8 173.1l-3.9 -3.1M550.1 151.3L514.8 168.8M516.6 167.9l-3.0 -4.0M522.9 164.8l-3.0 -4.0M550.1 141.4L515.0 159.6M521.0 156.5l-3.0 -4.0M527.2 153.3l-3.0 -4.0M533.4 150.1l-3.0 -4.0M550.1 131.4L522.1 157.4M524.3 155.3l-4.0 -3.0M529.5 150.5l-4.0 -3.0M550.1 121.5L518.2 118.1M522.9 118.6l-0.3 -5.0M529.9 119.3l-0.3 -5.0M536.8 120.1l-0.3 -5.0M550.1 111.6L513.0 105.1M520.8 106.4l0.0 -5.0M527.7 107.6l0.0 -5.0M534.6 108.9l0.0 -5.0M562.9 399.3L526.5 400.0M526.5 400.0l-4.7 -7.7M530.5 399.9l-2.6 -4.3M562.9 389.4L533.0 409.1M533.0 409.1l-8.0 -4.0M562.9 379.4L525.5 396.9M525.5 396.9l-7.4 -5.2M529.1 395.2l-7.4 -5.2M532.7 393.5l-4.1 -2.9M562.9 369.5L526.8 389.4M526.8 389.4l-7.7 -4.7M530.3 387.4l-7.7 -4.7M533.8 385.5l-4.3 -2.6M562.9 359.6L535.9 377.8M535.9 377.8l-8.1 -4.0M539.3 375.5l-4.5 -2.2M562.9 349.7L527.7 367.3M527.7 367.3l-7.5 -5.0M531.3 365.5l-4.2 -2.8M562.9 339.8L535.3 353.7M535.3 353.7l-7.5 -4.9M538.8 351.9l-4.2 -2.7M562.9 329.8L536.8 355.5M536.8 355.5l-8.7 -2.4M562.9 319.9L542.0 346.5M542.0 346.5l-8.9 -1.3M544.5 343.4l-4.9 -0.7M562.9 310.0L537.4 334.3M537.4 334.3l-8.6 -2.5M562.9 300.1L532.7 324.9M532.7 324.9l-8.4 -3.2M535.8 322.3l-4.7 -1.8M562.9 290.2L538.4 309.9M538.4 309.9l-8.4 -3.3M562.9 280.2L537.4 308.2M537.4 308.2l-8.8 -1.9M540.1 305.2l-4.9 -1.1M562.9 270.3L541.3 294.1M541.3 294.1l-8.8 -1.9M544.0 291.1l-4.9 -1.1M562.9 260.4L539.9 284.8M539.9 284.8l-8.8 -2.1M562.9 250.5L547.4 214.6M547.4 214.6l5.4 -7.2M549.0 218.3l3.0 -4.0M562.9 240.6L540.9 217.5M540.9 217.5l2.5 -8.6M543.7 220.4l1.4 -4.8M562.9 230.6L544.5 265.8M544.5 265.8l-9.0 0.4M546.4 262.2l-5.0 0.2M562.9 220.7L551.6 249.7M551.6 249.7l-8.9 1.4M562.9 210.8L538.8 178.4M538.8 178.4l3.6 -8.3M541.2 181.7l3.6 -8.3M543.6 184.9l2.0 -4.6M562.9 200.9L545.5 169.9M545.5 169.9l4.6 -7.7M547.5 173.3l2.6 -4.3M562.9 191.0L542.0 222.1M542.0 222.1l-9.0 -0.6M544.2 218.8l-5.0 -0.3M562.9 181.0L542.5 203.1M543.0 202.5l-4.2 -2.7M547.8 197.4l-4.2 -2.7M552.5 192.2l-4.2 -2.7M562.9 171.1L541.3 149.1M545.6 153.5l2.9 -4.1M550.5 158.5l2.9 -4.1M562.9 161.2L532.8 176.9M535.9 175.3l-3.0 -4.0M542.1 172.1l-3.0 -4.0M548.3 168.8l-3.0 -4.0M562.9 151.3L534.9 133.8M535.6 134.2l1.9 -4.6M541.5 137.9l1.9 -4.6M547.4 141.6l1.9 -4.6M562.9 141.4L541.4 162.3M546.2 157.7l-4.1 -2.9M551.2 152.8l-4.1 -2.9M556.2 147.9l-4.1 -2.9M562.9 131.4L536.4 158.0M540.1 154.3l-4.1 -2.9M545.1 149.3l-4.1 -2.9M562.9 121.5L523.1 114.2M527.7 115.1l0.0 -5.0M534.6 116.3l0.0 -5.0M562.9 111.6L526.7 100.9M530.0 101.9l0.6 -5.0M536.7 103.9l0.6 -5.0M575.7 399.3L545.7 397.1M545.7 397.1l-3.9 -8.1M549.7 397.4l-3.9 -8.1M553.7 397.7l-2.2 -4.5M575.7 389.4L541.5 411.7M541.5 411.7l-8.0 -4.1M575.7 379.4L545.5 399.9M545.5 399.9l-8.1 -3.9M575.7 369.5L537.4 385.4M537.4 385.4l-7.1 -5.5M575.7 359.6L544.6 377.9M544.6 377.9l-7.8 -4.4M548.1 375.9l-7.8 -4.4M551.5 373.8l-4.4 -2.5M575.7 349.7L545.0 376.1M545.0 376.1l-8.5 -3.0M548.1 373.5l-8.5 -3.0M551.1 370.9l-4.7 -1.6M575.7 339.8L545.2 359.5M545.2 359.5l-8.0 -4.1M548.6 357.3l-4.5 -2.3M575.7 329.8L548.3 360.6M548.3 360.6l-8.8 -1.8M551.0 357.6l-4.9 -1.0M575.7 319.9L549.9 340.0M549.9 340.0l-8.3 -3.4M575.7 310.0L556.0 333.9M556.0 333.9l-8.9 -1.5M575.7 300.1L551.2 318.6M551.2 318.6l-8.3 -3.5M554.4 316.2l-4.6 -1.9M575.7 290.2L546.3 313.2M546.3 313.2l-8.3 -3.4M575.7 280.2L549.8 304.2M549.8 304.2l-8.6 -2.7M552.7 301.5l-4.8 -1.5M575.7 270.3L551.0 291.0M551.0 291.0l-8.5 -3.1M554.1 288.5l-8.5 -3.1M557.1 285.9l-4.7 -1.7M575.7 260.4L549.7 283.2M549.7 283.2l-8.5 -2.9M552.8 280.5l-4.7 -1.6M575.7 250.5L555.2 217.5M555.2 217.5l4.2 -7.9M575.7 240.6L556.9 265.4M556.9 265.4l-8.9 -1.1M559.3 262.2l-8.9 -1.1M561.7 259.1l-5.0 -0.6M575.7 230.6L556.6 194.3M556.6 194.3l4.8 -7.6M558.5 197.9l2.7 -4.2M575.7 220.7L567.5 181.3M567.5 181.3l6.7 -6.0M575.7 210.8L557.8 185.0M557.8 185.0l3.8 -8.1M575.7 200.9L553.1 224.1M553.1 224.1l-8.7 -2.2M555.9 221.2l-8.7 -2.2M558.6 218.4l-4.8 -1.2M575.7 191.0L563.0 163.1M563.0 163.1l5.2 -7.3M575.7 181.0L546.2 158.6M546.6 158.9l2.3 -4.4M552.2 163.1l2.3 -4.4M557.8 167.4l2.3 -4.4M575.7 171.1L553.3 144.4M555.6 147.1l3.2 -3.8M560.1 152.5l3.2 -3.8M564.6 157.8l3.2 -3.8M575.7 161.2L543.5 174.7M546.4 173.5l-2.7 -4.2M552.9 170.8l-2.7 -4.2M559.3 168.1l-2.7 -4.2M575.7 151.3L549.3 173.4M549.6 173.2l-3.8 -3.2M555.0 168.7l-3.8 -3.2M575.7 141.4L545.5 127.6M547.6 128.6l1.2 -4.8M554.0 131.5l1.2 -4.8M575.7 131.4L548.5 148.0M554.0 144.6l-3.3 -3.8M559.9 141.0l-3.3 -3.8M575.7 121.5L546.0 115.2M550.2 116.1l0.2 -5.0M557.1 117.5l0.2 -5.0M575.7 111.6L544.6 104.2M547.8 104.9l0.3 -5.0M554.6 106.6l0.3 -5.0M588.5 399.3L557.5 396.5M557.5 396.5l-3.8 -8.2M588.5 389.4L562.4 410.0M562.4 410.0l-8.4 -3.3M588.5 379.4L552.6 395.7M552.6 395.7l-7.3 -5.2M588.5 369.5L560.5 388.1M560.5 388.1l-8.1 -4.0M563.8 385.9l-8.1 -4.0M567.2 383.7l-4.5 -2.2M588.5 359.6L555.6 374.5M555.6 374.5l-7.3 -5.2M559.2 372.9l-7.3 -5.2M562.8 371.2l-4.1 -2.9M588.5 349.7L556.0 374.8M556.0 374.8l-8.3 -3.4M559.2 372.4l-8.3 -3.4M562.4 369.9l-4.6 -1.9M588.5 339.8L556.5 357.6M556.5 357.6l-7.7 -4.6M560.0 355.7l-7.7 -4.6M563.4 353.7l-4.3 -2.6M588.5 329.8L565.4 359.0M565.4 359.0l-8.9 -1.3M588.5 319.9L556.0 344.5M556.0 344.5l-8.3 -3.5M588.5 310.0L559.5 338.6M559.5 338.6l-8.7 -2.4M562.4 335.8l-4.8 -1.3M588.5 300.1L557.4 324.9M557.4 324.9l-8.4 -3.3M588.5 290.2L562.3 311.7M562.3 311.7l-8.4 -3.2M565.4 309.2l-8.4 -3.2M568.5 306.7l-4.7 -1.8M588.5 280.2L564.1 311.1M564.1 311.1l-8.9 -1.3M566.6 307.9l-8.9 -1.3M569.1 304.8l-4.9 -0.7M588.5 270.3L561.2 292.1M561.2 292.1l-8.4 -3.3M564.4 289.6l-4.7 -1.8M588.5 260.4L558.2 283.9M558.2 283.9l-8.3 -3.4M588.5 250.5L568.3 279.9M568.3 279.9l-9.0 -0.7M588.5 240.6L579.4 270.7M579.4 270.7l-8.8 2.1M588.5 230.6L576.1 265.1M576.1 265.1l-8.9 1.6M577.4 261.3l-4.9 0.9M588.5 220.7L572.2 253.1M572.2 253.1l-9.0 0.5M588.5 210.8L572.5 248.8M572.5 248.8l-8.9 1.1M574.1 245.2l-8.9 1.1M575.6 241.5l-5.0 0.6M588.5 200.9L577.0 164.2M577.0 164.2l6.1 -6.6M588.5 191.0L565.4 220.2M565.4 220.2l-8.9 -1.3M588.5 181.0L567.7 157.4M572.9 163.3l3.1 -3.9M577.5 168.6l3.1 -3.9M582.2 173.8l3.1 -3.9M588.5 171.1L559.3 147.0M560.0 147.6l2.5 -4.3M565.4 152.0l2.5 -4.3M588.5 161.2L569.7 131.3M573.5 137.4l3.7 -3.4M577.3 143.4l3.7 -3.4M588.5 151.3L568.2 175.4M572.9 169.8l-4.3 -2.5M577.4 164.5l-4.3 -2.5M588.5 141.4L559.6 167.4M561.2 166.0l-3.9 -3.1M566.4 161.4l-3.9 -3.1M588.5 131.4L557.5 123.1M558.4 123.3l0.4 -5.0M565.2 125.1l0.4 -5.0M572.0 127.0l0.4 -5.0M588.5 121.5L556.1 108.4M558.6 109.4l1.0 -4.9M565.1 112.1l1.0 -4.9M571.6 114.7l1.0 -4.9M588.5 111.6L552.3 99.5M559.4 101.8l0.7 -4.9M566.1 104.1l0.7 -4.9M572.7 106.3l0.7 -4.9M601.3 399.3L566.7 397.5M566.7 397.5l-4.1 -8.0M570.6 397.7l-2.3 -4.5M601.3 389.4L568.9 411.0M568.9 411.0l-8.1 -4.0M601.3 379.4L569.8 404.5M569.8 404.5l-8.4 -3.3M601.3 369.5L573.9 389.3M573.9 389.3l-8.2 -3.7M601.3 359.6L564.2 372.0M564.2 372.0l-6.7 -6.0M601.3 349.7L566.9 367.0M566.9 367.0l-7.5 -4.9M601.3 339.8L570.5 357.1M570.5 357.1l-7.7 -4.6M574.0 355.1l-7.7 -4.6M577.5 353.1l-4.3 -2.6M601.3 329.8L574.6 357.7M574.6 357.7l-8.7 -2.1M601.3 319.9L567.2 340.9M567.2 340.9l-7.9 -4.3M601.3 310.0L572.5 340.0M572.5 340.0l-8.7 -2.2M575.2 337.1l-8.7 -2.2M578.0 334.2l-4.9 -1.2M601.3 300.1L574.6 329.4M574.6 329.4l-8.8 -1.9M577.3 326.5l-4.9 -1.1M601.3 290.2L575.0 318.2M575.0 318.2l-8.8 -2.1M601.3 280.2L579.9 302.6M579.9 302.6l-8.7 -2.1M582.7 299.8l-4.9 -1.2M601.3 270.3L575.7 293.0M575.7 293.0l-8.5 -2.9M578.7 290.3l-8.5 -2.9M581.7 287.7l-4.7 -1.6M601.3 260.4L578.1 280.3M578.1 280.3l-8.5 -3.0M581.1 277.7l-4.7 -1.7M601.3 250.5L576.8 281.7M576.8 281.7l-8.9 -1.3M579.3 278.5l-8.9 -1.3M581.7 275.4l-4.9 -0.7M601.3 240.6L587.4 277.3M587.4 277.3l-8.9 1.5M588.8 273.6l-4.9 0.8M601.3 230.6L569.3 206.0M569.3 206.0l1.2 -8.9M572.5 208.5l0.7 -5.0M601.3 220.7L582.3 253.0M582.3 253.0l-9.0 -0.1M584.3 249.6l-9.0 -0.1M586.4 246.1l-5.0 -0.0M601.3 210.8L581.6 175.8M581.6 175.8l4.6 -7.7M583.5 179.2l2.5 -4.3M601.3 200.9L587.5 236.8M587.5 236.8l-8.9 1.4M588.9 233.1l-4.9 0.8M601.3 191.0L585.7 217.4M585.7 217.4l-9.0 -0.1M587.8 214.0l-5.0 -0.0M601.3 181.0L572.4 158.1M577.1 161.8l2.4 -4.4M582.6 166.1l2.4 -4.4M588.1 170.5l2.4 -4.4M601.3 171.1L574.3 145.6M579.0 150.0l2.7 -4.2M584.0 154.8l2.7 -4.2M601.3 161.2L568.0 145.4M570.3 146.5l1.3 -4.8M576.6 149.5l1.3 -4.8M601.3 151.3L585.6 182.5M586.8 180.1l-4.8 -1.4M590.0 173.9l-4.8 -1.4M593.1 167.6l-4.8 -1.4M601.3 141.4L580.9 164.4M582.4 162.7l-4.3 -2.6M587.0 157.4l-4.3 -2.6M601.3 131.4L566.0 111.8M566.4 112.0l1.6 -4.7M572.5 115.4l1.6 -4.7M578.7 118.8l1.6 -4.7M601.3 121.5L564.2 106.5M569.9 108.8l1.0 -4.9M576.4 111.5l1.0 -4.9M582.9 114.1l1.0 -4.9M601.3 111.6L571.8 99.5M576.4 101.4l1.1 -4.9M582.9 104.1l1.1 -4.9M589.4 106.7l1.1 -4.9M614.1 399.3L572.5 398.0M572.5 398.0l-4.3 -7.9M576.5 398.1l-2.4 -4.4M614.1 389.4L586.5 407.8M586.5 407.8l-8.1 -4.0M589.8 405.6l-8.1 -4.0M593.1 403.3l-4.5 -2.2M614.1 379.4L582.4 400.4M582.4 400.4l-8.0 -4.0M614.1 369.5L586.1 386.2M586.1 386.2l-7.9 -4.4M614.1 359.6L583.2 381.6M583.2 381.6l-8.2 -3.7M586.4 379.3l-8.2 -3.7M589.7 377.0l-4.5 -2.1M614.1 349.7L579.7 373.5M579.7 373.5l-8.1 -3.8M583.0 371.3l-8.1 -3.8M586.3 369.0l-4.5 -2.1M614.1 339.8L579.1 358.9M579.1 358.9l-7.7 -4.7M614.1 329.8L589.0 357.0M589.0 357.0l-8.8 -2.0M614.1 319.9L587.7 337.1M587.7 337.1l-8.0 -4.1M591.1 335.0l-4.5 -2.3M614.1 310.0L584.9 331.6M584.9 331.6l-8.3 -3.6M614.1 300.1L585.1 328.5M585.1 328.5l-8.7 -2.4M588.0 325.7l-8.7 -2.4M590.8 322.9l-4.8 -1.3M614.1 290.2L589.6 316.5M589.6 316.5l-8.8 -2.0M614.1 280.2L589.4 298.1M589.4 298.1l-8.2 -3.7M592.7 295.7l-4.6 -2.0M614.1 270.3L584.3 298.6M584.3 298.6l-8.6 -2.6M587.2 295.8l-4.8 -1.4M614.1 260.4L583.8 284.0M583.8 284.0l-8.3 -3.4M614.1 250.5L601.3 217.9M601.3 217.9l5.6 -7.0M602.8 221.7l3.1 -3.9M614.1 240.6L596.5 269.9M596.5 269.9l-9.0 -0.2M598.6 266.4l-5.0 -0.1M614.1 230.6L601.2 260.4M601.2 260.4l-8.9 1.0M602.8 256.7l-8.9 1.0M604.4 253.1l-5.0 0.6M614.1 220.7L600.1 248.1M600.1 248.1l-9.0 0.4M614.1 210.8L596.1 176.8M596.1 176.8l4.8 -7.6M614.1 200.9L588.8 221.7M588.8 221.7l-8.4 -3.2M614.1 191.0L605.1 151.8M605.1 151.8l6.6 -6.1M614.1 181.0L585.3 198.4M588.2 196.6l-3.3 -3.8M594.2 193.0l-3.3 -3.8M614.1 171.1L589.3 188.5M595.0 184.5l-3.5 -3.5M600.7 180.5l-3.5 -3.5M606.5 176.5l-3.5 -3.5M614.1 161.2L594.6 133.5M598.3 138.8l3.5 -3.5M602.4 144.5l3.5 -3.5M606.4 150.2l3.5 -3.5M614.1 151.3L590.8 128.1M596.3 133.5l2.9 -4.1M601.2 138.4l2.9 -4.1M614.1 141.4L598.6 167.8M602.3 161.5l-4.7 -1.7M605.9 155.4l-4.7 -1.7M614.1 131.4L586.0 116.1M586.0 116.1l1.6 -4.7M592.1 119.5l1.6 -4.7M598.3 122.8l1.6 -4.7M614.1 121.5L577.4 104.7M584.3 107.8l1.3 -4.8M590.7 110.8l1.3 -4.8M614.1 111.6L582.6 102.3M584.3 102.8l0.6 -5.0M591.0 104.8l0.6 -5.0M597.8 106.8l0.6 -5.0M626.9 399.3L595.4 398.5M595.4 398.5l-4.3 -7.9M626.9 389.4L592.8 408.1M592.8 408.1l-7.7 -4.7M626.9 379.4L591.5 397.8M591.5 397.8l-7.6 -4.9M626.9 369.5L594.5 386.3M594.5 386.3l-7.6 -4.9M626.9 359.6L600.0 376.3M600.0 376.3l-7.9 -4.3M603.4 374.2l-4.4 -2.4M626.9 349.7L589.6 368.3M589.6 368.3l-7.5 -5.0M626.9 339.8L590.6 360.6M590.6 360.6l-7.8 -4.5M594.1 358.6l-4.3 -2.5M626.9 329.8L604.3 355.4M604.3 355.4l-8.8 -1.8M606.9 352.4l-8.8 -1.8M609.6 349.4l-4.9 -1.0M626.9 319.9L601.3 347.4M601.3 347.4l-8.8 -2.0M604.0 344.4l-4.9 -1.1M626.9 310.0L599.8 337.5M599.8 337.5l-8.7 -2.3M602.6 334.6l-8.7 -2.3M605.4 331.8l-4.8 -1.3M626.9 300.1L601.8 325.0M601.8 325.0l-8.7 -2.4M604.7 322.2l-4.8 -1.3M626.9 290.2L596.2 318.7M596.2 318.7l-8.6 -2.7M626.9 280.2L601.3 311.2M601.3 311.2l-8.9 -1.5M603.9 308.1l-8.9 -1.5M606.4 305.0l-4.9 -0.8M626.9 270.3L601.8 294.6M601.8 294.6l-8.7 -2.5M604.6 291.8l-8.7 -2.5M607.5 289.1l-4.8 -1.4M626.9 260.4L603.8 279.9M603.8 279.9l-8.5 -3.1M626.9 250.5L608.8 218.2M608.8 218.2l4.6 -7.7M610.7 221.7l2.5 -4.3M626.9 240.6L603.5 210.4M603.5 210.4l3.4 -8.3M606.0 213.6l3.4 -8.3M608.4 216.7l1.9 -4.6M626.9 230.6L610.2 267.7M610.2 267.7l-9.0 0.9M626.9 220.7L603.9 196.0M603.9 196.0l2.6 -8.6M626.9 210.8L607.7 244.9M607.7 244.9l-9.0 0.1M609.7 241.4l-5.0 0.1M626.9 200.9L611.3 236.9M611.3 236.9l-8.9 1.0M612.9 233.2l-8.9 1.0M614.5 229.5l-5.0 0.6M626.9 191.0L607.1 224.6M607.1 224.6l-9.0 -0.1M609.1 221.2l-9.0 -0.1M611.1 217.7l-5.0 -0.0M626.9 181.0L598.4 150.4M601.5 153.7l3.0 -4.0M606.3 158.9l3.0 -4.0M611.1 164.0l3.0 -4.0M626.9 171.1L597.4 149.4M599.8 151.1l2.2 -4.5M605.4 155.3l2.2 -4.5M611.0 159.4l2.2 -4.5M626.9 161.2L605.1 194.5M608.9 188.8l-4.6 -2.0M612.7 182.9l-4.6 -2.0M616.5 177.1l-4.6 -2.0M626.9 151.3L599.0 174.1M604.9 169.3l-3.8 -3.3M610.3 164.9l-3.8 -3.3M615.7 160.4l-3.8 -3.3M626.9 141.4L602.4 112.1M603.1 113.0l3.2 -3.8M607.6 118.3l3.2 -3.8M612.1 123.7l3.2 -3.8M626.9 131.4L602.4 102.6M603.0 103.2l3.2 -3.8M607.5 108.6l3.2 -3.8M626.9 121.5L593.9 108.9M600.1 111.2l0.9 -4.9M606.6 113.7l0.9 -4.9M613.1 116.2l0.9 -4.9M626.9 111.6L588.5 97.3M595.6 99.9l0.9 -4.9M602.2 102.4l0.9 -4.9M608.7 104.8l0.9 -4.9M639.7 399.3L609.5 399.5M609.5 399.5l-4.6 -7.8M639.7 389.4L614.8 370.7M614.8 370.7l1.1 -8.9M618.0 373.1l0.6 -5.0M639.7 379.4L633.9 348.1M633.9 348.1l6.8 -5.8M639.7 369.5L633.6 335.9M633.6 335.9l6.9 -5.8M634.3 339.9l6.9 -5.8M635.1 343.8l3.8 -3.2M639.7 359.6L629.3 328.8M629.3 328.8l5.9 -6.8M639.7 349.7L633.0 319.3M633.0 319.3l6.6 -6.1M633.9 323.2l6.6 -6.1M634.7 327.1l3.7 -3.4M639.7 339.8L628.6 307.4M628.6 307.4l5.9 -6.8M639.7 329.8L635.8 297.8M635.8 297.8l7.2 -5.4M639.7 319.9L636.6 281.3M636.6 281.3l7.4 -5.1M636.9 285.3l4.1 -2.8M639.7 310.0L632.3 277.7M632.3 277.7l6.6 -6.1M639.7 300.1L632.7 268.3M632.7 268.3l6.6 -6.1M633.6 272.2l3.7 -3.4M639.7 290.2L627.3 260.7M627.3 260.7l5.4 -7.2M628.8 264.4l3.0 -4.0M639.7 280.2L639.0 249.8M639.0 249.8l7.7 -4.7M639.1 253.8l4.3 -2.6M639.7 270.3L632.8 231.7M632.8 231.7l6.9 -5.8M633.5 235.6l3.8 -3.2M639.7 260.4L633.0 228.8M633.0 228.8l6.7 -6.0M633.9 232.7l3.7 -3.3M639.7 250.5L624.6 280.1M624.6 280.1l-9.0 0.5M639.7 240.6L629.3 204.8M629.3 204.8l6.2 -6.5M630.4 208.7l6.2 -6.5M631.5 212.5l3.5 -3.6M639.7 230.6L617.9 200.8M617.9 200.8l3.6 -8.2M639.7 220.7L614.2 187.5M614.2 187.5l3.4 -8.3M639.7 210.8L624.7 175.2M624.7 175.2l5.4 -7.2M639.7 200.9L627.6 230.1M627.6 230.1l-8.9 1.2M629.2 226.4l-8.9 1.2M630.7 222.7l-5.0 0.7M639.7 191.0L622.4 222.7M622.4 222.7l-9.0 0.2M624.3 219.2l-5.0 0.1M639.7 181.0L609.6 166.5M611.8 167.6l1.4 -4.8M618.1 170.6l1.4 -4.8M624.4 173.6l1.4 -4.8M639.7 171.1L605.9 147.4M609.6 150.0l2.1 -4.5M615.4 154.0l2.1 -4.5M639.7 161.2L603.5 141.0M608.3 143.7l1.6 -4.7M614.5 147.1l1.6 -4.7M620.6 150.5l1.6 -4.7M639.7 151.3L608.6 176.3M612.7 172.9l-3.8 -3.3M618.2 168.6l-3.8 -3.3M639.7 141.4L615.3 167.4M618.1 164.4l-4.2 -2.7M622.9 159.3l-4.2 -2.7M639.7 131.4L620.3 104.4M624.7 110.4l3.5 -3.6M628.7 116.1l3.5 -3.6M639.7 121.5L602.9 108.6M605.2 109.5l0.8 -4.9M611.8 111.8l0.8 -4.9M639.7 111.6L603.5 96.8M610.1 99.5l1.1 -4.9M616.6 102.1l1.1 -4.9M652.5 399.3L620.8 399.1M620.8 399.1l-4.5 -7.8M624.8 399.1l-2.5 -4.3M652.5 389.4L624.1 366.9M624.1 366.9l1.3 -8.9M652.5 379.4L647.9 348.3M647.9 348.3l7.0 -5.6M652.5 369.5L648.0 330.7M648.0 330.7l7.2 -5.4M648.5 334.7l7.2 -5.4M649.0 338.7l4.0 -3.0M652.5 359.6L644.8 318.4M644.8 318.4l6.8 -5.9M645.5 322.3l3.8 -3.3M652.5 349.7L651.2 309.6M651.2 309.6l7.6 -4.7M651.4 313.6l4.2 -2.6M652.5 339.8L641.4 308.4M641.4 308.4l5.8 -6.8M642.8 312.2l5.8 -6.8M644.1 316.0l3.2 -3.8M652.5 329.8L650.5 293.3M650.5 293.3l7.5 -4.9M652.5 319.9L638.2 283.7M638.2 283.7l5.6 -7.1M652.5 310.0L645.5 273.2M645.5 273.2l6.8 -5.9M652.5 300.1L646.6 260.8M646.6 260.8l7.0 -5.6M652.5 290.2L645.3 254.1M645.3 254.1l6.8 -6.0M652.5 280.2L643.8 245.9M643.8 245.9l6.4 -6.3M644.8 249.8l3.6 -3.5M652.5 270.3L650.5 238.0M650.5 238.0l7.5 -5.0M650.8 242.0l7.5 -5.0M651.0 246.0l4.2 -2.8M652.5 260.4L650.6 218.8M650.6 218.8l7.6 -4.9M650.8 222.8l7.6 -4.9M651.0 226.8l4.2 -2.7M652.5 250.5L654.0 216.1M654.0 216.1l8.0 -4.2M652.5 240.6L653.2 198.8M653.2 198.8l7.9 -4.4M653.1 202.8l7.9 -4.4M653.1 206.8l4.4 -2.4M652.5 230.6L650.4 200.7M650.4 200.7l7.5 -5.0M650.7 204.7l4.1 -2.8M652.5 220.7L651.3 178.9M651.3 178.9l7.7 -4.7M651.4 182.9l4.3 -2.6M652.5 210.8L653.1 176.7M653.1 176.7l7.9 -4.4M653.0 180.7l4.4 -2.4M652.5 200.9L649.3 168.2M649.3 168.2l7.3 -5.3M652.5 191.0L650.3 155.1M650.3 155.1l7.5 -5.0M652.5 181.0L618.8 196.8M623.3 194.7l-2.9 -4.1M629.7 191.8l-2.9 -4.1M652.5 171.1L619.4 188.9M620.6 188.2l-3.1 -3.9M626.8 184.9l-3.1 -3.9M633.0 181.6l-3.1 -3.9M652.5 161.2L619.8 171.4M627.3 169.1l-2.3 -4.4M634.0 167.0l-2.3 -4.4M652.5 151.3L616.2 163.0M622.7 160.9l-2.3 -4.4M629.4 158.7l-2.3 -4.4M652.5 141.4L620.6 154.9M621.6 154.4l-2.7 -4.2M628.1 151.7l-2.7 -4.2M652.5 131.4L622.9 153.1M627.7 149.6l-3.6 -3.5M633.3 145.4l-3.6 -3.5M639.0 141.3l-3.6 -3.5M652.5 121.5L625.7 107.8M631.5 110.7l1.5 -4.8M637.7 113.9l1.5 -4.8M652.5 111.6L622.2 97.8M623.5 98.3l1.3 -4.8M629.9 101.3l1.3 -4.8M665.3 399.3L635.1 400.7M635.1 400.7l-4.9 -7.6M665.3 389.4L642.4 369.8M642.4 369.8l1.6 -8.9M665.3 379.4L654.7 339.2M654.7 339.2l6.4 -6.3M655.7 343.1l3.5 -3.5M665.3 369.5L661.4 329.5M661.4 329.5l7.3 -5.2M661.8 333.4l4.1 -2.9M665.3 359.6L662.8 326.8M662.8 326.8l7.4 -5.1M665.3 349.7L655.0 315.4M655.0 315.4l6.2 -6.6M665.3 339.8L662.0 307.5M662.0 307.5l7.3 -5.3M662.4 311.5l4.1 -2.9M665.3 329.8L655.0 291.6M655.0 291.6l6.3 -6.4M665.3 319.9L657.3 288.0M657.3 288.0l6.4 -6.3M665.3 310.0L657.0 274.9M657.0 274.9l6.5 -6.2M657.9 278.8l3.6 -3.4M665.3 300.1L658.5 263.7M658.5 263.7l6.8 -5.9M659.2 267.6l3.8 -3.3M665.3 290.2L663.2 248.3M663.2 248.3l7.6 -4.9M665.3 280.2L662.0 244.3M662.0 244.3l7.3 -5.2M665.3 270.3L658.8 240.0M658.8 240.0l6.7 -6.0M659.7 243.9l3.7 -3.4M665.3 260.4L659.6 229.9M659.6 229.9l6.8 -5.9M660.3 233.9l3.8 -3.3M665.3 250.5L651.2 212.3M651.2 212.3l5.7 -6.9M652.5 216.1l3.2 -3.9M665.3 240.6L646.5 273.7M646.5 273.7l-9.0 0.1M648.5 270.3l-9.0 0.1M650.5 266.8l-5.0 0.0M665.3 230.6L649.4 199.1M649.4 199.1l4.9 -7.5M651.2 202.6l2.7 -4.2M665.3 220.7L651.3 193.9M651.3 193.9l4.8 -7.6M653.2 197.5l4.8 -7.6M655.0 201.0l2.7 -4.2M665.3 210.8L645.3 187.1M645.3 187.1l3.0 -8.5M665.3 200.9L646.3 164.2M646.3 164.2l4.8 -7.6M665.3 191.0L650.1 220.4M650.1 220.4l-9.0 0.4M665.3 181.0L632.1 199.2M636.9 196.6l-3.1 -3.9M643.1 193.2l-3.1 -3.9M649.2 189.9l-3.1 -3.9M665.3 171.1L637.1 183.4M643.3 180.7l-2.8 -4.2M649.7 177.9l-2.8 -4.2M656.1 175.1l-2.8 -4.2M665.3 161.2L634.9 175.4M638.2 173.9l-2.9 -4.1M644.6 170.9l-2.9 -4.1M650.9 168.0l-2.9 -4.1M665.3 151.3L630.0 171.3M632.3 170.0l-3.2 -3.9M638.3 166.6l-3.2 -3.9M665.3 141.4L630.3 150.5M635.8 149.0l-2.1 -4.5M642.6 147.3l-2.1 -4.5M665.3 131.4L632.2 145.3M634.4 144.4l-2.7 -4.2M640.9 141.7l-2.7 -4.2M665.3 121.5L629.4 106.8M634.0 108.7l1.1 -4.9M640.5 111.4l1.1 -4.9M665.3 111.6L635.4 102.0M636.4 102.3l0.7 -5.0M643.1 104.4l0.7 -5.0M678.1 399.3L637.1 392.4M637.1 392.4l-3.2 -8.4M678.1 389.4L655.8 369.2M655.8 369.2l1.9 -8.8M658.7 371.9l1.0 -4.9M678.1 379.4L669.4 341.2M669.4 341.2l6.6 -6.1M678.1 369.5L670.5 337.6M670.5 337.6l6.5 -6.2M671.4 341.5l3.6 -3.4M678.1 359.6L670.9 324.2M670.9 324.2l6.7 -6.0M671.7 328.1l6.7 -6.0M672.5 332.1l3.7 -3.3M678.1 349.7L667.7 313.9M667.7 313.9l6.2 -6.5M668.8 317.8l3.5 -3.6M678.1 339.8L671.9 308.1M671.9 308.1l6.8 -5.9M672.7 312.0l3.8 -3.3M678.1 329.8L671.7 293.2M671.7 293.2l6.9 -5.8M672.4 297.2l3.8 -3.2M678.1 319.9L667.1 283.8M667.1 283.8l6.1 -6.6M678.1 310.0L665.9 271.8M665.9 271.8l6.0 -6.7M667.1 275.6l3.4 -3.7M678.1 300.1L678.7 260.2M678.7 260.2l7.9 -4.4M678.6 264.1l4.4 -2.4M678.1 290.2L662.6 255.2M662.6 255.2l5.3 -7.3M664.2 258.8l2.9 -4.0M678.1 280.2L670.3 243.1M670.3 243.1l6.7 -6.0M678.1 270.3L672.2 233.5M672.2 233.5l7.0 -5.7M672.8 237.4l3.9 -3.2M678.1 260.4L668.6 229.0M668.6 229.0l6.1 -6.6M678.1 250.5L658.7 214.8M658.7 214.8l4.7 -7.7M678.1 240.6L661.8 273.7M661.8 273.7l-9.0 0.6M663.6 270.1l-9.0 0.6M665.4 266.5l-5.0 0.3M678.1 230.6L670.0 192.3M670.0 192.3l6.7 -6.0M670.8 196.2l6.7 -6.0M671.7 200.1l3.7 -3.3M678.1 220.7L661.4 255.0M661.4 255.0l-9.0 0.6M663.1 251.4l-5.0 0.3M678.1 210.8L652.9 233.2M652.9 233.2l-8.5 -2.8M655.9 230.6l-8.5 -2.8M658.9 227.9l-4.7 -1.6M678.1 200.9L659.4 229.7M659.4 229.7l-9.0 -0.5M678.1 191.0L667.9 227.4M667.9 227.4l-8.7 2.2M669.0 223.5l-4.8 1.2M678.1 181.0L642.2 164.6M642.4 164.7l1.3 -4.8M648.7 167.6l1.3 -4.8M678.1 171.1L649.5 159.7M656.5 162.5l1.0 -4.9M663.0 165.1l1.0 -4.9M678.1 161.2L639.5 148.0M645.2 150.0l0.8 -4.9M651.9 152.2l0.8 -4.9M658.5 154.5l0.8 -4.9M678.1 151.3L643.3 142.5M645.5 143.1l0.4 -5.0M652.3 144.8l0.4 -5.0M659.1 146.5l0.4 -5.0M678.1 141.4L641.9 156.3M646.3 154.4l-2.7 -4.2M652.8 151.8l-2.7 -4.2M659.3 149.1l-2.7 -4.2M678.1 131.4L644.8 144.3M645.3 144.1l-2.6 -4.3M651.8 141.6l-2.6 -4.3M678.1 121.5L642.6 114.3M643.1 114.4l0.1 -5.0M650.0 115.8l0.1 -5.0M656.8 117.2l0.1 -5.0M678.1 111.6L639.1 101.2M642.9 102.2l0.4 -5.0M649.7 104.0l0.4 -5.0M691.0 399.3L658.4 396.0M658.4 396.0l-3.7 -8.2M662.3 396.4l-3.7 -8.2M666.3 396.8l-2.1 -4.6M691.0 389.4L663.1 366.2M663.1 366.2l1.5 -8.9M691.0 379.4L680.8 343.9M680.8 343.9l6.3 -6.5M691.0 369.5L683.2 340.0M683.2 340.0l6.4 -6.3M684.2 343.9l3.6 -3.5M691.0 359.6L679.5 329.4M679.5 329.4l5.7 -7.0M691.0 349.7L686.3 312.3M686.3 312.3l7.2 -5.4M686.8 316.3l4.0 -3.0M691.0 339.8L682.6 309.2M682.6 309.2l6.3 -6.4M691.0 329.8L677.9 298.5M677.9 298.5l5.5 -7.2M679.4 302.2l3.0 -4.0M691.0 319.9L689.5 281.4M689.5 281.4l7.6 -4.8M691.0 310.0L683.3 275.6M683.3 275.6l6.6 -6.1M691.0 300.1L685.4 266.9M685.4 266.9l6.9 -5.7M691.0 290.2L685.0 257.8M685.0 257.8l6.8 -5.8M691.0 280.2L683.2 243.1M683.2 243.1l6.7 -6.0M691.0 270.3L685.1 231.3M685.1 231.3l7.0 -5.6M691.0 260.4L687.6 228.1M687.6 228.1l7.3 -5.3M691.0 250.5L692.1 210.4M692.1 210.4l7.9 -4.3M692.0 214.4l7.9 -4.3M691.9 218.4l4.4 -2.4M691.0 240.6L684.2 270.6M684.2 270.6l-8.6 2.7M691.0 230.6L675.5 261.8M675.5 261.8l-9.0 0.6M691.0 220.7L685.4 250.3M685.4 250.3l-8.5 3.0M686.1 246.4l-4.7 1.7M691.0 210.8L675.5 176.5M675.5 176.5l5.3 -7.3M691.0 200.9L675.8 169.4M675.8 169.4l5.1 -7.4M677.5 173.0l5.1 -7.4M679.3 176.6l2.8 -4.1M691.0 191.0L675.3 219.9M675.3 219.9l-9.0 0.3M677.2 216.4l-5.0 0.1M691.0 181.0L661.7 196.1M666.5 193.7l-3.0 -4.0M672.7 190.4l-3.0 -4.0M678.9 187.2l-3.0 -4.0M691.0 171.1L653.4 157.7M659.3 159.8l0.8 -4.9M665.9 162.1l0.8 -4.9M672.5 164.5l0.8 -4.9M691.0 161.2L657.9 143.5M660.6 144.9l1.6 -4.8M666.7 148.2l1.6 -4.8M672.9 151.5l1.6 -4.8M691.0 151.3L659.9 142.7M660.8 142.9l0.5 -5.0M667.6 144.8l0.5 -5.0M691.0 141.4L658.4 121.6M661.7 123.6l1.8 -4.7M667.7 127.3l1.8 -4.7M673.7 130.9l1.8 -4.7M691.0 131.4L656.5 115.2M659.6 116.7l1.3 -4.8M666.0 119.7l1.3 -4.8M691.0 121.5L658.0 114.4M663.4 115.6l0.2 -5.0M670.2 117.1l0.2 -5.0M691.0 111.6L661.8 103.1M669.1 105.2l0.5 -5.0M675.9 107.2l0.5 -5.0M703.8 399.3L663.3 398.6M663.3 398.6l-4.4 -7.9M667.3 398.7l-2.4 -4.4M703.8 389.4L669.1 381.8M669.1 381.8l-2.7 -8.6M673.0 382.6l-2.7 -8.6M676.9 383.5l-1.5 -4.8M703.8 379.4L673.9 369.0M673.9 369.0l-1.7 -8.8M703.8 369.5L675.5 355.0M675.5 355.0l-0.4 -9.0M703.8 359.6L667.1 339.1M667.1 339.1l-0.1 -9.0M670.6 341.0l-0.1 -5.0M703.8 349.7L676.3 337.3M676.3 337.3l-0.9 -9.0M680.0 338.9l-0.5 -5.0M703.8 339.8L674.4 322.8M674.4 322.8l0.0 -9.0M703.8 329.8L673.4 315.0M673.4 315.0l-0.6 -9.0M677.0 316.7l-0.3 -5.0M703.8 319.9L674.0 302.7M674.0 302.7l0.0 -9.0M677.5 304.7l0.0 -5.0M703.8 310.0L677.3 287.7M677.3 287.7l1.6 -8.9M680.3 290.3l0.9 -4.9M703.8 300.1L677.7 284.0M677.7 284.0l0.3 -9.0M681.1 286.1l0.3 -9.0M684.5 288.2l0.1 -5.0M703.8 290.2L681.5 256.3M681.5 256.3l4.1 -8.0M683.7 259.6l2.3 -4.5M703.8 280.2L681.3 258.6M681.3 258.6l2.2 -8.7M684.2 261.4l2.2 -8.7M687.1 264.1l1.2 -4.9M703.8 270.3L675.7 248.7M675.7 248.7l1.2 -8.9M678.9 251.2l0.7 -5.0M703.8 260.4L682.3 235.6M682.3 235.6l3.0 -8.5M684.9 238.6l3.0 -8.5M687.5 241.6l1.6 -4.7M703.8 250.5L682.9 217.6M682.9 217.6l4.2 -8.0M685.1 221.0l2.3 -4.4M703.8 240.6L701.0 201.9M701.0 201.9l7.5 -5.0M701.3 205.8l4.1 -2.8M703.8 230.6L688.6 261.7M688.6 261.7l-9.0 0.6M690.3 258.1l-5.0 0.3M703.8 220.7L683.9 194.0M683.9 194.0l3.6 -8.3M686.3 197.2l2.0 -4.6M703.8 210.8L691.8 172.3M691.8 172.3l6.1 -6.6M693.0 176.1l3.4 -3.7M703.8 200.9L687.4 163.1M687.4 163.1l5.4 -7.2M689.0 166.8l3.0 -4.0M703.8 191.0L689.2 221.1M689.2 221.1l-9.0 0.7M703.8 181.0L671.8 198.1M676.2 195.8l-3.1 -3.9M682.4 192.5l-3.1 -3.9M703.8 171.1L668.4 184.6M675.5 181.9l-2.6 -4.3M682.1 179.4l-2.6 -4.3M703.8 161.2L674.8 175.9M678.3 174.2l-3.0 -4.0M684.5 171.0l-3.0 -4.0M703.8 151.3L674.6 134.1M675.0 134.4l1.8 -4.7M681.1 137.9l1.8 -4.7M687.1 141.5l1.8 -4.7M703.8 141.4L666.9 159.6M667.7 159.2l-3.0 -4.0M674.0 156.1l-3.0 -4.0M703.8 131.4L669.1 154.3M674.5 150.8l-3.4 -3.6M680.3 146.9l-3.4 -3.6M686.1 143.1l-3.4 -3.6M703.8 121.5L674.2 112.1M674.6 112.2l0.7 -5.0M681.3 114.3l0.7 -5.0M688.0 116.5l0.7 -5.0M703.8 111.6L672.6 103.4M672.9 103.5l0.4 -5.0M679.6 105.3l0.4 -5.0M716.6 399.3L677.6 397.8M677.6 397.8l-4.2 -8.0M681.6 397.9l-4.2 -8.0M685.6 398.1l-2.3 -4.4M716.6 389.4L679.1 379.6M679.1 379.6l-2.4 -8.7M682.9 380.6l-1.3 -4.8M716.6 379.4L686.3 370.6M686.3 370.6l-2.1 -8.7M690.2 371.7l-1.2 -4.9M716.6 369.5L680.1 357.4M680.1 357.4l-1.8 -8.8M716.6 359.6L685.3 344.8M685.3 344.8l-0.7 -9.0M688.9 346.5l-0.7 -9.0M692.5 348.2l-0.4 -5.0M716.6 349.7L683.3 339.9M683.3 339.9l-2.1 -8.7M687.1 341.0l-1.2 -4.9M716.6 339.8L682.1 316.1M682.1 316.1l0.7 -9.0M685.4 318.4l0.7 -9.0M688.7 320.7l0.4 -5.0M716.6 329.8L680.2 316.1M680.2 316.1l-1.5 -8.9M716.6 319.9L690.1 302.1M690.1 302.1l0.6 -9.0M693.4 304.3l0.3 -5.0M716.6 310.0L693.1 289.9M693.1 289.9l1.7 -8.8M716.6 300.1L690.0 274.4M690.0 274.4l2.2 -8.7M692.9 277.2l1.2 -4.9M716.6 290.2L691.1 263.6M691.1 263.6l2.5 -8.6M693.9 266.5l2.5 -8.6M696.7 269.4l1.4 -4.8M716.6 280.2L692.4 262.3M692.4 262.3l1.0 -8.9M716.6 270.3L694.3 247.2M694.3 247.2l2.5 -8.6M697.0 250.0l2.5 -8.6M699.8 252.9l1.4 -4.8M716.6 260.4L693.7 238.5M693.7 238.5l2.1 -8.7M716.6 250.5L707.6 290.0M707.6 290.0l-8.6 2.7M716.6 240.6L711.7 208.9M711.7 208.9l7.0 -5.6M712.3 212.9l3.9 -3.1M716.6 230.6L702.7 269.7M702.7 269.7l-8.9 1.6M704.0 266.0l-8.9 1.6M705.3 262.2l-4.9 0.9M716.6 220.7L716.6 184.1M716.6 184.1l7.8 -4.5M716.6 210.8L698.5 173.8M698.5 173.8l5.0 -7.5M700.3 177.4l2.8 -4.1M716.6 200.9L705.5 164.8M705.5 164.8l6.1 -6.6M706.7 168.6l6.1 -6.6M707.9 172.4l3.4 -3.7M716.6 191.0L702.8 160.4M702.8 160.4l5.3 -7.3M704.4 164.0l5.3 -7.3M706.0 167.7l2.9 -4.1M716.6 181.0L684.4 195.5M689.2 193.4l-2.8 -4.1M695.5 190.5l-2.8 -4.1M716.6 171.1L684.0 156.0M684.7 156.3l1.3 -4.8M691.0 159.2l1.3 -4.8M716.6 161.2L687.6 177.4M694.6 173.5l-3.2 -3.9M700.7 170.1l-3.2 -3.9M716.6 151.3L688.4 167.2M691.0 165.7l-3.2 -3.9M697.1 162.3l-3.2 -3.9M716.6 141.4L685.4 165.8M691.1 161.3l-3.7 -3.3M696.7 157.0l-3.7 -3.3M702.2 152.7l-3.7 -3.3M716.6 131.4L680.0 146.4M682.0 145.6l-2.7 -4.2M688.5 143.0l-2.7 -4.2M716.6 121.5L685.2 114.4M690.3 115.5l0.2 -5.0M697.1 117.1l0.2 -5.0M716.6 111.6L682.8 103.9M689.1 105.3l0.2 -5.0M695.9 106.9l0.2 -5.0M702.7 108.5l0.2 -5.0M729.4 399.3L695.5 399.1M695.5 399.1l-4.5 -7.8M729.4 389.4L699.3 380.5M699.3 380.5l-2.1 -8.8M703.2 381.6l-2.1 -8.8M707.0 382.7l-1.2 -4.9M729.4 379.4L690.0 365.6M690.0 365.6l-1.7 -8.8M729.4 369.5L693.0 354.5M693.0 354.5l-1.2 -8.9M696.7 356.0l-0.7 -5.0M729.4 359.6L697.3 343.9M697.3 343.9l-0.6 -9.0M700.9 345.7l-0.3 -5.0M729.4 349.7L702.1 336.5M702.1 336.5l-0.6 -9.0M705.7 338.2l-0.6 -9.0M709.3 340.0l-0.4 -5.0M729.4 339.8L701.2 326.9M701.2 326.9l-0.9 -9.0M729.4 329.8L704.6 311.1M704.6 311.1l1.1 -8.9M707.8 313.5l0.6 -5.0M729.4 319.9L702.9 295.0M702.9 295.0l2.1 -8.8M729.4 310.0L695.7 289.6M695.7 289.6l0.2 -9.0M699.1 291.7l0.1 -5.0M729.4 300.1L700.7 277.0M700.7 277.0l1.4 -8.9M729.4 290.2L702.7 273.0M702.7 273.0l0.4 -9.0M729.4 280.2L696.7 254.7M696.7 254.7l1.3 -8.9M729.4 270.3L702.1 242.3M702.1 242.3l2.4 -8.7M729.4 260.4L710.8 233.6M710.8 233.6l3.8 -8.1M713.1 236.9l2.1 -4.5M729.4 250.5L724.3 216.1M724.3 216.1l7.1 -5.6M729.4 240.6L723.0 270.0M723.0 270.0l-8.6 2.8M723.8 266.1l-4.8 1.5M729.4 230.6L723.9 200.1M723.9 200.1l6.9 -5.8M724.6 204.0l3.8 -3.2M729.4 220.7L724.0 252.6M724.0 252.6l-8.4 3.1M724.7 248.7l-4.7 1.7M729.4 210.8L717.9 173.7M717.9 173.7l6.1 -6.6M729.4 200.9L713.6 168.6M713.6 168.6l5.0 -7.5M715.3 172.2l2.8 -4.1M729.4 191.0L720.9 228.4M720.9 228.4l-8.6 2.7M729.4 181.0L698.5 164.9M698.8 165.1l1.5 -4.8M705.0 168.3l1.5 -4.8M711.2 171.6l1.5 -4.8M729.4 171.1L698.4 181.5M698.9 181.3l-2.4 -4.4M705.6 179.1l-2.4 -4.4M729.4 161.2L694.0 155.4M696.0 155.8l-0.1 -5.0M702.9 156.9l-0.1 -5.0M709.9 158.0l-0.1 -5.0M729.4 151.3L696.8 133.9M698.2 134.6l1.6 -4.8M704.4 137.9l1.6 -4.8M729.4 141.4L690.9 128.9M697.4 131.0l0.7 -5.0M704.1 133.2l0.7 -5.0M710.7 135.3l0.7 -5.0M729.4 131.4L692.2 118.2M696.4 119.7l0.8 -4.9M703.0 122.0l0.8 -4.9M709.6 124.4l0.8 -4.9M729.4 121.5L688.7 114.2M692.5 114.9l0.0 -5.0M699.4 116.1l0.0 -5.0M729.4 111.6L697.1 104.4M700.7 105.3l0.2 -5.0M707.6 106.8l0.2 -5.0M742.2 399.3L708.8 398.1M708.8 398.1l-4.2 -7.9M712.8 398.3l-2.3 -4.4M742.2 389.4L707.4 380.0M707.4 380.0l-2.3 -8.7M711.2 381.0l-1.3 -4.8M742.2 379.4L711.1 371.2M711.1 371.2l-2.3 -8.7M714.9 372.2l-1.3 -4.8M742.2 369.5L705.6 353.1M705.6 353.1l-0.9 -9.0M709.3 354.7l-0.5 -5.0M742.2 359.6L713.1 342.3M713.1 342.3l0.1 -9.0M716.6 344.3l0.1 -5.0M742.2 349.7L710.3 333.8M710.3 333.8l-0.6 -9.0M742.2 339.8L708.1 316.9M708.1 316.9l0.6 -9.0M742.2 329.8L715.1 313.9M715.1 313.9l0.1 -9.0M742.2 319.9L711.3 294.9M711.3 294.9l1.4 -8.9M742.2 310.0L717.1 287.8M717.1 287.8l1.8 -8.8M742.2 300.1L715.3 285.6M715.3 285.6l-0.3 -9.0M718.8 287.5l-0.1 -5.0M742.2 290.2L718.3 269.7M718.3 269.7l1.7 -8.8M742.2 280.2L715.2 256.9M715.2 256.9l1.7 -8.8M718.2 259.5l1.7 -8.8M721.2 262.1l0.9 -4.9M742.2 270.3L713.6 242.7M713.6 242.7l2.2 -8.7M716.4 245.5l2.2 -8.7M719.3 248.3l1.2 -4.9M742.2 260.4L714.9 236.4M714.9 236.4l1.8 -8.8M742.2 250.5L730.2 216.5M730.2 216.5l5.9 -6.8M742.2 240.6L727.8 209.9M727.8 209.9l5.1 -7.4M742.2 230.6L721.1 259.8M721.1 259.8l-9.0 -0.9M723.4 256.6l-5.0 -0.5M742.2 220.7L718.2 254.8M718.2 254.8l-9.0 -0.8M742.2 210.8L740.2 248.1M740.2 248.1l-8.0 4.1M740.4 244.1l-4.5 2.3M742.2 200.9L723.7 228.4M723.7 228.4l-9.0 -0.6M725.9 225.1l-9.0 -0.6M728.2 221.7l-5.0 -0.3M742.2 191.0L727.0 227.6M727.0 227.6l-8.9 1.2M728.6 223.9l-8.9 1.2M730.1 220.2l-5.0 0.7M742.2 181.0L711.6 165.0M711.6 165.0l-0.4 -9.0M715.1 166.8l-0.2 -5.0M742.2 171.1L708.7 155.0M709.9 155.5l1.4 -4.8M716.2 158.6l1.4 -4.8M722.5 161.6l1.4 -4.8M742.2 161.2L714.5 147.6M715.5 148.0l1.4 -4.8M721.7 151.1l1.4 -4.8M742.2 151.3L710.6 128.3M712.6 129.8l2.2 -4.5M718.2 133.9l2.2 -4.5M742.2 141.4L708.4 119.6M710.3 120.8l1.9 -4.6M716.2 124.6l1.9 -4.6M742.2 131.4L710.2 141.9M712.4 141.1l-2.4 -4.4M719.0 139.0l-2.4 -4.4M725.7 136.8l-2.4 -4.4M742.2 121.5L708.2 115.7M711.3 116.2l-0.0 -5.0M718.2 117.4l-0.0 -5.0M742.2 111.6L707.0 106.8M713.8 107.7l-0.2 -5.0M720.8 108.7l-0.2 -5.0M755.0 399.3L724.1 396.4M724.1 396.4l-3.8 -8.2M728.1 396.8l-2.1 -4.5M755.0 389.4L725.5 379.7M725.5 379.7l-1.8 -8.8M729.3 380.9l-1.0 -4.9M755.0 379.4L715.5 370.4M715.5 370.4l-2.7 -8.6M755.0 369.5L716.6 355.3M716.6 355.3l-1.5 -8.9M720.3 356.7l-0.8 -4.9M755.0 359.6L715.1 348.9M715.1 348.9l-2.3 -8.7M719.0 350.0l-2.3 -8.7M722.8 351.0l-1.3 -4.8M755.0 349.7L722.0 333.9M722.0 333.9l-0.7 -9.0M725.6 335.6l-0.7 -9.0M729.2 337.3l-0.4 -5.0M755.0 339.8L726.5 322.1M726.5 322.1l0.3 -9.0M729.9 324.2l0.2 -5.0M755.0 329.8L723.2 310.5M723.2 310.5l0.2 -9.0M755.0 319.9L719.6 300.0M719.6 300.0l-0.1 -9.0M755.0 310.0L730.9 288.6M730.9 288.6l1.8 -8.8M733.9 291.2l1.8 -8.8M736.9 293.9l1.0 -4.9M755.0 300.1L729.2 284.5M729.2 284.5l0.2 -9.0M755.0 290.2L722.8 266.6M722.8 266.6l1.0 -8.9M726.1 269.0l0.5 -5.0M755.0 280.2L729.0 252.0M729.0 252.0l2.7 -8.6M755.0 270.3L726.6 243.5M726.6 243.5l2.1 -8.8M729.5 246.2l2.1 -8.8M732.4 249.0l1.2 -4.9M755.0 260.4L729.1 232.3M729.1 232.3l2.7 -8.6M755.0 250.5L732.2 227.3M732.2 227.3l2.4 -8.7M735.0 230.1l2.4 -8.7M737.8 233.0l1.3 -4.8M755.0 240.6L741.9 276.0M741.9 276.0l-8.9 1.5M755.0 230.6L743.0 201.6M743.0 201.6l5.5 -7.1M755.0 220.7L736.1 183.3M736.1 183.3l4.9 -7.5M755.0 210.8L741.8 176.9M741.8 176.9l5.6 -7.0M755.0 200.9L739.5 235.4M739.5 235.4l-9.0 0.9M741.1 231.8l-9.0 0.9M742.7 228.1l-5.0 0.5M755.0 191.0L747.3 229.3M747.3 229.3l-8.5 2.9M748.1 225.4l-4.7 1.6M755.0 181.0L725.4 167.5M725.4 167.5l-0.8 -9.0M755.0 171.1L725.5 191.4M729.5 188.6l-3.5 -3.6M735.3 184.6l-3.5 -3.6M741.1 180.7l-3.5 -3.6M755.0 161.2L718.7 177.9M720.5 177.1l-2.9 -4.1M726.9 174.2l-2.9 -4.1M755.0 151.3L726.3 166.6M726.5 166.5l-3.1 -3.9M732.6 163.2l-3.1 -3.9M755.0 141.4L728.4 156.3M730.3 155.3l-3.2 -3.9M736.3 151.9l-3.2 -3.9M755.0 131.4L719.5 114.9M726.2 118.0l1.3 -4.8M732.5 121.0l1.3 -4.8M755.0 121.5L725.5 115.6M728.5 116.2l0.1 -5.0M735.3 117.5l0.1 -5.0M742.2 118.9l0.1 -5.0M755.0 111.6L723.4 105.6M724.0 105.8l0.1 -5.0M730.9 107.1l0.1 -5.0M737.7 108.4l0.1 -5.0M767.8 399.3L736.0 393.9M736.0 393.9l-3.1 -8.4M767.8 389.4L736.2 377.0M736.2 377.0l-1.3 -8.9M740.0 378.5l-0.7 -4.9M767.8 379.4L736.4 364.2M736.4 364.2l-0.6 -9.0M767.8 369.5L733.2 355.4M733.2 355.4l-1.2 -8.9M767.8 359.6L731.7 344.7M731.7 344.7l-1.2 -8.9M767.8 349.7L740.5 333.9M740.5 333.9l0.0 -9.0M767.8 339.8L731.2 320.0M731.2 320.0l-0.3 -9.0M734.7 321.9l-0.1 -5.0M767.8 329.8L733.4 311.2M733.4 311.2l-0.2 -9.0M737.0 313.1l-0.1 -5.0M767.8 319.9L739.0 303.0M739.0 303.0l0.1 -9.0M767.8 310.0L737.4 287.9M737.4 287.9l0.9 -9.0M740.6 290.3l0.5 -5.0M767.8 300.1L743.2 281.1M743.2 281.1l1.2 -8.9M746.3 283.5l1.2 -8.9M749.5 286.0l0.7 -5.0M767.8 290.2L738.4 266.2M738.4 266.2l1.4 -8.9M741.5 268.7l1.4 -8.9M744.6 271.3l0.8 -4.9M767.8 280.2L738.5 256.1M738.5 256.1l1.5 -8.9M741.6 258.6l1.5 -8.9M744.6 261.2l0.8 -4.9M767.8 270.3L738.3 246.0M738.3 246.0l1.5 -8.9M767.8 260.4L746.0 238.3M746.0 238.3l2.4 -8.7M748.8 241.1l2.4 -8.7M751.6 244.0l1.3 -4.8M767.8 250.5L739.1 224.8M739.1 224.8l1.8 -8.8M767.8 240.6L749.7 274.9M749.7 274.9l-9.0 0.4M751.6 271.3l-5.0 0.2M767.8 230.6L750.7 264.2M750.7 264.2l-9.0 0.5M752.6 260.6l-5.0 0.3M767.8 220.7L748.8 196.5M748.8 196.5l3.4 -8.4M767.8 210.8L757.8 250.3M757.8 250.3l-8.7 2.5M767.8 200.9L761.9 240.4M761.9 240.4l-8.4 3.3M767.8 191.0L752.7 222.8M752.7 222.8l-9.0 0.7M754.4 219.2l-9.0 0.7M756.1 215.6l-5.0 0.4M767.8 181.0L733.7 194.3M733.7 194.3l-7.0 -5.6M767.8 171.1L737.6 161.8M744.9 164.1l0.6 -5.0M751.6 166.1l0.6 -5.0M758.3 168.2l0.6 -5.0M767.8 161.2L731.3 172.7M734.1 171.8l-2.3 -4.4M740.8 169.7l-2.3 -4.4M767.8 151.3L732.8 129.2M736.7 131.6l1.9 -4.6M742.6 135.3l1.9 -4.6M767.8 141.4L739.2 129.3M741.1 130.1l1.1 -4.9M747.6 132.8l1.1 -4.9M767.8 131.4L733.1 144.0M739.1 141.9l-2.5 -4.3M745.7 139.5l-2.5 -4.3M752.2 137.1l-2.5 -4.3M767.8 121.5L734.0 114.1M736.5 114.6l0.2 -5.0M743.3 116.1l0.2 -5.0M750.2 117.6l0.2 -5.0M767.8 111.6L737.4 105.0M738.5 105.2l0.2 -5.0M745.3 106.7l0.2 -5.0M780.6 399.3L742.5 394.5M742.5 394.5l-3.5 -8.3M746.5 395.0l-1.9 -4.6M780.6 389.4L745.8 377.0M745.8 377.0l-1.6 -8.9M780.6 379.4L748.7 365.4M748.7 365.4l-1.0 -8.9M752.4 367.1l-1.0 -8.9M756.1 368.7l-0.5 -5.0M780.6 369.5L744.4 355.9M744.4 355.9l-1.5 -8.9M780.6 359.6L751.6 346.7M751.6 346.7l-1.0 -8.9M780.6 349.7L741.3 339.3M741.3 339.3l-2.4 -8.7M780.6 339.8L753.6 324.6M753.6 324.6l-0.1 -9.0M780.6 329.8L746.9 306.5M746.9 306.5l0.7 -9.0M780.6 319.9L748.7 296.5M748.7 296.5l1.0 -8.9M780.6 310.0L754.1 290.3M754.1 290.3l1.0 -8.9M780.6 300.1L749.8 282.4M749.8 282.4l-0.0 -9.0M753.3 284.4l-0.0 -5.0M780.6 290.2L748.0 267.4M748.0 267.4l0.8 -9.0M780.6 280.2L749.4 254.5M749.4 254.5l1.5 -8.9M780.6 270.3L756.2 251.7M756.2 251.7l1.2 -8.9M759.4 254.2l1.2 -8.9M762.6 256.6l0.6 -5.0M780.6 260.4L752.6 233.7M752.6 233.7l2.1 -8.7M755.5 236.5l1.2 -4.9M780.6 250.5L757.0 227.7M757.0 227.7l2.2 -8.7M780.6 240.6L761.1 211.9M761.1 211.9l3.9 -8.1M763.3 215.2l3.9 -8.1M765.6 218.5l2.2 -4.5M780.6 230.6L773.1 269.9M773.1 269.9l-8.5 3.0M773.9 266.0l-4.7 1.6M780.6 220.7L777.0 251.4M777.0 251.4l-8.3 3.6M777.5 247.4l-4.6 2.0M780.6 210.8L764.2 246.5M764.2 246.5l-9.0 0.8M765.9 242.8l-5.0 0.5M780.6 200.9L775.2 237.9M775.2 237.9l-8.4 3.3M780.6 191.0L756.4 224.5M756.4 224.5l-9.0 -0.9M758.8 221.2l-5.0 -0.5M780.6 181.0L741.6 166.7M741.6 166.7l-1.5 -8.9M780.6 171.1L745.3 184.0M745.3 184.0l-2.5 -4.3M751.9 181.6l-2.5 -4.3M758.4 179.2l-2.5 -4.3M780.6 161.2L751.6 174.6M756.3 172.4l-2.9 -4.1M762.7 169.4l-2.9 -4.1M769.0 166.5l-2.9 -4.1M780.6 151.3L743.9 132.9M750.1 136.0l1.4 -4.8M756.4 139.1l1.4 -4.8M780.6 141.4L752.9 128.8M760.1 132.1l1.2 -4.8M766.5 135.0l1.2 -4.8M780.6 131.4L744.6 151.9M749.6 149.1l-3.2 -3.8M755.7 145.6l-3.2 -3.8M761.8 142.2l-3.2 -3.8M780.6 121.5L744.8 114.8M746.7 115.2l0.1 -5.0M753.6 116.4l0.1 -5.0M780.6 111.6L740.9 105.6M747.7 106.6l-0.1 -5.0M754.6 107.7l-0.1 -5.0M761.5 108.7l-0.1 -5.0M793.4 399.3L752.7 398.3M752.7 398.3l-4.3 -7.9M756.7 398.4l-2.4 -4.4M793.4 389.4L753.2 377.6M753.2 377.6l-2.1 -8.7M757.1 378.7l-1.2 -4.9M793.4 379.4L755.5 369.5M755.5 369.5l-2.4 -8.7M793.4 369.5L755.8 357.1M755.8 357.1l-1.8 -8.8M759.6 358.4l-1.8 -8.8M763.4 359.6l-1.0 -4.9M793.4 359.6L764.3 350.4M764.3 350.4l-1.9 -8.8M768.1 351.6l-1.1 -4.9M793.4 349.7L763.2 342.8M763.2 342.8l-2.7 -8.6M767.1 343.7l-1.5 -4.8M793.4 339.8L762.3 329.5M762.3 329.5l-1.8 -8.8M766.1 330.8l-1.0 -4.9M793.4 329.8L756.4 317.1M756.4 317.1l-1.7 -8.8M760.2 318.4l-1.0 -4.9M793.4 319.9L757.5 304.7M757.5 304.7l-1.1 -8.9M761.2 306.3l-0.6 -5.0M793.4 310.0L761.0 297.5M761.0 297.5l-1.4 -8.9M764.7 298.9l-0.8 -4.9M793.4 300.1L762.9 294.7M762.9 294.7l-3.1 -8.5M766.8 295.4l-1.7 -4.7M793.4 290.2L761.8 277.6M761.8 277.6l-1.3 -8.9M793.4 280.2L758.7 265.2M758.7 265.2l-1.0 -8.9M793.4 270.3L756.7 256.8M756.7 256.8l-1.5 -8.9M760.5 258.2l-1.5 -8.9M764.2 259.6l-0.9 -4.9M793.4 260.4L763.9 246.3M763.9 246.3l-0.7 -9.0M767.5 248.0l-0.4 -5.0M793.4 250.5L759.1 232.2M759.1 232.2l-0.3 -9.0M793.4 240.6L772.4 207.5M772.4 207.5l4.2 -8.0M774.6 210.8l4.2 -8.0M776.7 214.2l2.3 -4.4M793.4 230.6L781.0 197.6M781.0 197.6l5.7 -6.9M793.4 220.7L782.8 188.6M782.8 188.6l6.0 -6.7M793.4 210.8L780.9 175.4M780.9 175.4l5.8 -6.8M793.4 200.9L779.8 163.7M779.8 163.7l5.8 -6.9M781.1 167.5l5.8 -6.9M782.5 171.3l3.2 -3.8M793.4 191.0L776.2 229.1M776.2 229.1l-9.0 0.9M777.8 225.5l-9.0 0.9M779.4 221.9l-5.0 0.5M793.4 181.0L754.4 171.1M754.4 171.1l-2.4 -8.7M758.3 172.1l-2.4 -8.7M762.1 173.1l-1.3 -4.8M793.4 171.1L754.7 155.4M760.3 157.6l1.1 -4.9M766.7 160.3l1.1 -4.9M773.2 162.9l1.1 -4.9M793.4 161.2L764.2 174.3M769.0 172.1l-2.8 -4.1M775.4 169.2l-2.8 -4.1M793.4 151.3L761.8 134.6M765.3 136.4l1.5 -4.8M771.5 139.7l1.5 -4.8M777.7 143.0l1.5 -4.8M793.4 141.4L758.1 156.5M764.8 153.6l-2.7 -4.2M771.2 150.9l-2.7 -4.2M777.7 148.1l-2.7 -4.2M793.4 131.4L758.7 146.2M765.5 143.3l-2.7 -4.2M771.9 140.6l-2.7 -4.2M778.4 137.8l-2.7 -4.2M793.4 121.5L757.0 112.8M757.5 112.9l0.3 -5.0M764.3 114.5l0.3 -5.0M771.1 116.2l0.3 -5.0M793.4 111.6L760.7 104.1M761.2 104.2l0.3 -5.0M768.0 105.8l0.3 -5.0M774.9 107.4l0.3 -5.0M806.2 399.3L765.4 399.6M765.4 399.6l-4.6 -7.8M769.4 399.6l-2.5 -4.3M806.2 389.4L771.8 379.7M771.8 379.7l-2.2 -8.7M775.6 380.8l-2.2 -8.7M779.5 381.9l-1.2 -4.8M806.2 379.4L775.9 373.6M775.9 373.6l-2.9 -8.5M806.2 369.5L775.8 359.6M775.8 359.6l-1.8 -8.8M806.2 359.6L769.8 350.8M769.8 350.8l-2.5 -8.6M806.2 349.7L774.9 340.1M774.9 340.1l-2.0 -8.8M778.8 341.3l-1.1 -4.9M806.2 339.8L772.1 331.2M772.1 331.2l-2.5 -8.7M776.0 332.2l-1.4 -4.8M806.2 329.8L776.4 320.7M776.4 320.7l-2.0 -8.8M780.2 321.9l-1.1 -4.9M806.2 319.9L772.4 308.6M772.4 308.6l-1.8 -8.8M806.2 310.0L766.6 296.9M766.6 296.9l-1.8 -8.8M770.4 298.1l-1.0 -4.9M806.2 300.1L774.5 284.7M774.5 284.7l-0.6 -9.0M806.2 290.2L776.8 276.6M776.8 276.6l-0.8 -9.0M780.4 278.3l-0.8 -9.0M784.0 279.9l-0.5 -5.0M806.2 280.2L773.0 267.7M773.0 267.7l-1.4 -8.9M776.8 269.1l-1.4 -8.9M780.5 270.5l-0.8 -4.9M806.2 270.3L776.7 258.0M776.7 258.0l-1.1 -8.9M806.2 260.4L769.5 242.3M769.5 242.3l-0.6 -9.0M773.1 244.1l-0.6 -9.0M776.7 245.9l-0.3 -5.0M806.2 250.5L769.0 235.0M769.0 235.0l-1.2 -8.9M772.7 236.6l-1.2 -8.9M776.4 238.1l-0.6 -5.0M806.2 240.6L794.2 203.0M794.2 203.0l6.1 -6.7M806.2 230.6L791.0 260.1M791.0 260.1l-9.0 0.4M806.2 220.7L796.0 186.1M796.0 186.1l6.2 -6.5M806.2 210.8L790.2 242.5M790.2 242.5l-9.0 0.5M792.0 238.9l-5.0 0.3M806.2 200.9L802.5 242.5M802.5 242.5l-8.2 3.8M802.8 238.5l-4.5 2.1M806.2 191.0L795.1 158.8M795.1 158.8l5.9 -6.8M796.4 162.5l3.3 -3.8M806.2 181.0L766.6 192.3M766.6 192.3l-6.5 -6.3M770.5 191.2l-3.6 -3.5M806.2 171.1L770.2 180.3M774.1 179.3l-2.1 -4.6M780.8 177.6l-2.1 -4.6M806.2 161.2L770.7 177.0M775.4 174.9l-2.8 -4.1M781.8 172.1l-2.8 -4.1M788.2 169.2l-2.8 -4.1M806.2 151.3L775.6 170.4M780.5 167.3l-3.3 -3.7M786.5 163.6l-3.3 -3.7M806.2 141.4L776.3 126.9M780.3 128.8l1.4 -4.8M786.6 131.8l1.4 -4.8M792.9 134.9l1.4 -4.8M806.2 131.4L777.1 115.0M781.0 117.1l1.7 -4.7M787.0 120.6l1.7 -4.7M806.2 121.5L771.9 112.0M772.1 112.0l0.5 -5.0M778.8 113.9l0.5 -5.0M785.6 115.8l0.5 -5.0M806.2 111.6L771.0 101.5M775.9 103.0l0.5 -5.0M782.6 104.9l0.5 -5.0M789.4 106.8l0.5 -5.0M819.0 399.3L784.9 400.2M784.9 400.2l-4.7 -7.7M819.0 389.4L780.5 387.9M780.5 387.9l-4.2 -8.0M819.0 379.4L778.4 372.1M778.4 372.1l-3.0 -8.5M782.3 372.8l-1.7 -4.7M819.0 369.5L778.9 361.1M778.9 361.1l-2.8 -8.6M819.0 359.6L787.6 351.8M787.6 351.8l-2.5 -8.6M791.5 352.8l-2.5 -8.6M795.4 353.8l-1.4 -4.8M819.0 349.7L780.3 335.8M780.3 335.8l-1.6 -8.9M819.0 339.8L781.0 330.0M781.0 330.0l-2.4 -8.7M784.9 331.0l-1.3 -4.8M819.0 329.8L781.5 318.2M781.5 318.2l-2.0 -8.8M785.3 319.4l-2.0 -8.8M789.1 320.6l-1.1 -4.9M819.0 319.9L787.1 311.5M787.1 311.5l-2.4 -8.7M819.0 310.0L780.1 294.9M780.1 294.9l-1.4 -8.9M783.8 296.4l-0.8 -4.9M819.0 300.1L787.8 289.1M787.8 289.1l-1.7 -8.8M819.0 290.2L791.1 277.0M791.1 277.0l-0.7 -9.0M794.7 278.7l-0.4 -5.0M819.0 280.2L784.9 261.8M784.9 261.8l-0.2 -9.0M819.0 270.3L791.5 255.5M791.5 255.5l-0.3 -9.0M795.0 257.4l-0.1 -5.0M819.0 260.4L787.5 244.2M787.5 244.2l-0.4 -9.0M791.0 246.0l-0.2 -5.0M819.0 250.5L787.9 235.6M787.9 235.6l-0.7 -9.0M819.0 240.6L802.5 271.6M802.5 271.6l-9.0 0.3M804.4 268.0l-5.0 0.2M819.0 230.6L807.1 203.0M807.1 203.0l5.4 -7.2M808.6 206.7l3.0 -4.0M819.0 220.7L814.8 182.6M814.8 182.6l7.3 -5.3M815.3 186.5l4.0 -3.0M819.0 210.8L808.6 243.3M808.6 243.3l-8.8 1.9M819.0 200.9L799.4 169.0M799.4 169.0l4.3 -7.9M801.5 172.4l2.4 -4.4M819.0 191.0L799.9 224.3M799.9 224.3l-9.0 0.0M801.9 220.9l-9.0 0.0M803.8 217.4l-5.0 0.0M819.0 181.0L784.5 171.4M784.5 171.4l-2.2 -8.7M819.0 171.1L784.6 154.6M791.5 157.9l1.3 -4.8M797.8 161.0l1.3 -4.8M819.0 161.2L785.6 174.9M788.2 173.8l-2.7 -4.2M794.7 171.1l-2.7 -4.2M819.0 151.3L791.6 167.6M797.2 164.2l-3.3 -3.8M803.2 160.7l-3.3 -3.8M819.0 141.4L788.4 129.1M789.2 129.4l1.0 -4.9M795.7 132.0l1.0 -4.9M802.2 134.6l1.0 -4.9M819.0 131.4L790.1 121.1M791.9 121.7l0.8 -4.9M798.5 124.1l0.8 -4.9M819.0 121.5L781.0 112.0M784.8 112.9l0.4 -5.0M791.6 114.6l0.4 -5.0M798.4 116.3l0.4 -5.0M819.0 111.6L784.7 106.6M787.5 107.0l-0.1 -5.0M794.4 108.0l-0.1 -5.0M831.8 399.3L791.8 395.7M791.8 395.7l-3.8 -8.2M831.8 389.4L803.1 380.0M803.1 380.0l-1.9 -8.8M806.9 381.2l-1.9 -8.8M810.7 382.5l-1.0 -4.9M831.8 379.4L801.7 370.3M801.7 370.3l-2.0 -8.8M805.5 371.5l-2.0 -8.8M809.4 372.6l-1.1 -4.9M831.8 369.5L801.2 361.0M801.2 361.0l-2.2 -8.7M831.8 359.6L793.0 345.4M793.0 345.4l-1.5 -8.9M831.8 349.7L794.3 335.9M794.3 335.9l-1.5 -8.9M798.1 337.3l-1.5 -8.9M801.8 338.6l-0.8 -4.9M831.8 339.8L797.1 326.8M797.1 326.8l-1.5 -8.9M800.9 328.2l-1.5 -8.9M804.6 329.6l-0.8 -4.9M831.8 329.8L803.8 317.3M803.8 317.3l-0.9 -9.0M807.4 318.9l-0.9 -9.0M811.1 320.6l-0.5 -5.0M831.8 319.9L793.3 304.0M793.3 304.0l-1.2 -8.9M797.0 305.5l-0.7 -5.0M831.8 310.0L798.7 296.4M798.7 296.4l-1.2 -8.9M802.4 298.0l-1.2 -8.9M806.1 299.5l-0.7 -5.0M831.8 300.1L804.7 286.4M804.7 286.4l-0.5 -9.0M831.8 290.2L796.0 280.6M796.0 280.6l-2.3 -8.7M799.9 281.6l-1.3 -4.8M831.8 280.2L798.5 266.0M798.5 266.0l-1.1 -8.9M802.2 267.5l-1.1 -8.9M805.9 269.1l-0.6 -5.0M831.8 270.3L803.5 254.5M803.5 254.5l-0.1 -9.0M831.8 260.4L803.4 246.0M803.4 246.0l-0.5 -9.0M831.8 250.5L796.9 234.5M796.9 234.5l-0.8 -9.0M800.6 236.2l-0.5 -5.0M831.8 240.6L830.7 210.4M830.7 210.4l7.6 -4.8M830.8 214.4l7.6 -4.8M831.0 218.4l4.2 -2.7M831.8 230.6L833.2 197.8M833.2 197.8l8.0 -4.2M833.1 201.8l4.4 -2.3M831.8 220.7L831.2 179.4M831.2 179.4l7.7 -4.6M831.2 183.4l7.7 -4.6M831.3 187.4l4.3 -2.6M831.8 210.8L827.5 245.6M827.5 245.6l-8.3 3.5M831.8 200.9L831.8 162.0M831.8 162.0l7.8 -4.5M831.8 191.0L830.5 155.4M830.5 155.4l7.6 -4.8M830.7 159.4l4.2 -2.7M831.8 181.0L797.2 162.7M797.2 162.7l-0.3 -9.0M800.7 164.6l-0.3 -9.0M804.2 166.4l-0.2 -5.0M831.8 171.1L800.2 183.5M805.9 181.3l-2.6 -4.3M812.4 178.7l-2.6 -4.3M831.8 161.2L799.9 180.3M802.6 178.7l-3.3 -3.8M808.6 175.1l-3.3 -3.8M814.6 171.5l-3.3 -3.8M831.8 151.3L800.2 139.4M801.0 139.7l0.9 -4.9M807.5 142.2l0.9 -4.9M831.8 141.4L800.6 127.1M801.8 127.7l1.3 -4.8M808.2 130.6l1.3 -4.8M814.6 133.5l1.3 -4.8M831.8 131.4L798.3 109.0M800.2 110.3l2.0 -4.6M806.1 114.2l2.0 -4.6M811.9 118.1l2.0 -4.6M831.8 121.5L794.6 114.3M800.3 115.4l0.1 -5.0M807.2 116.7l0.1 -5.0M831.8 111.6L794.2 104.9M796.4 105.3l0.0 -5.0M803.3 106.6l0.0 -5.0M844.6 399.3L811.4 396.1M811.4 396.1l-3.7 -8.2M815.4 396.5l-2.1 -4.6M844.6 389.4L803.0 383.8M803.0 383.8l-3.4 -8.3M807.0 384.3l-1.9 -4.6M844.6 379.4L815.6 371.4M815.6 371.4l-2.2 -8.7M819.4 372.4l-2.2 -8.7M823.3 373.5l-1.2 -4.8M844.6 369.5L814.7 359.0M814.7 359.0l-1.6 -8.8M818.5 360.3l-0.9 -4.9M844.6 359.6L812.8 349.3M812.8 349.3l-1.9 -8.8M816.6 350.5l-1.0 -4.9M844.6 349.7L812.7 341.0M812.7 341.0l-2.3 -8.7M816.6 342.1l-1.3 -4.8M844.6 339.8L806.4 332.1M806.4 332.1l-2.9 -8.5M810.3 332.8l-2.9 -8.5M814.3 333.6l-1.6 -4.7M844.6 329.8L812.4 318.6M812.4 318.6l-1.7 -8.8M816.2 319.9l-1.7 -8.8M820.0 321.2l-0.9 -4.9M844.6 319.9L807.3 307.6M807.3 307.6l-1.8 -8.8M811.1 308.9l-1.0 -4.9M844.6 310.0L809.1 296.3M809.1 296.3l-1.4 -8.9M844.6 300.1L812.1 286.5M812.1 286.5l-1.1 -8.9M844.6 290.2L813.3 276.6M813.3 276.6l-1.0 -8.9M817.0 278.2l-1.0 -8.9M820.6 279.8l-0.6 -5.0M844.6 280.2L808.0 262.8M808.0 262.8l-0.7 -9.0M811.6 264.5l-0.7 -9.0M815.3 266.2l-0.4 -5.0M844.6 270.3L815.1 253.4M815.1 253.4l-0.0 -9.0M818.5 255.4l-0.0 -5.0M844.6 260.4L811.3 239.1M811.3 239.1l0.4 -9.0M814.7 241.3l0.2 -5.0M844.6 250.5L818.4 235.5M818.4 235.5l-0.0 -9.0M821.9 237.4l-0.0 -9.0M825.3 239.4l-0.0 -5.0M844.6 240.6L842.3 273.6M842.3 273.6l-8.1 3.9M842.5 269.6l-4.5 2.2M844.6 230.6L842.5 191.1M842.5 191.1l7.5 -4.9M844.6 220.7L843.1 180.5M843.1 180.5l7.6 -4.8M843.3 184.5l4.2 -2.7M844.6 210.8L843.6 171.7M843.6 171.7l7.7 -4.7M844.6 200.9L842.5 237.2M842.5 237.2l-8.0 4.0M844.6 191.0L845.1 151.2M845.1 151.2l7.8 -4.4M844.6 181.0L811.8 196.3M811.8 196.3l-7.4 -5.2M844.6 171.1L813.4 192.5M815.1 191.3l-3.5 -3.6M820.9 187.4l-3.5 -3.6M826.7 183.4l-3.5 -3.6M844.6 161.2L810.4 150.8M817.5 152.9l0.6 -5.0M824.2 155.0l0.6 -5.0M830.9 157.0l0.6 -5.0M844.6 151.3L815.4 162.3M819.4 160.8l-2.6 -4.3M826.0 158.3l-2.6 -4.3M832.5 155.8l-2.6 -4.3M844.6 141.4L812.2 157.6M814.1 156.7l-3.0 -4.0M820.4 153.6l-3.0 -4.0M826.6 150.4l-3.0 -4.0M844.6 131.4L807.3 142.3M808.7 141.9l-2.2 -4.5M815.5 139.9l-2.2 -4.5M822.2 138.0l-2.2 -4.5M844.6 121.5L807.4 108.9M813.1 110.9l0.8 -4.9M819.8 113.1l0.8 -4.9M826.4 115.4l0.8 -4.9M844.6 111.6L813.6 104.4M816.7 105.2l0.3 -5.0M823.6 106.7l0.3 -5.0M830.4 108.3l0.3 -5.0M857.4 399.3L821.2 392.9M821.2 392.9l-3.1 -8.5M825.1 393.6l-1.7 -4.7M857.4 389.4L818.8 383.6M818.8 383.6l-3.3 -8.4M857.4 379.4L819.2 368.9M819.2 368.9l-2.3 -8.7M857.4 369.5L822.4 361.6M822.4 361.6l-2.7 -8.6M826.3 362.5l-2.7 -8.6M830.2 363.4l-1.5 -4.8M857.4 359.6L823.3 345.7M823.3 345.7l-1.2 -8.9M857.4 349.7L827.5 341.0M827.5 341.0l-2.1 -8.7M831.3 342.1l-1.2 -4.9M857.4 339.8L827.1 331.5M827.1 331.5l-2.3 -8.7M857.4 329.8L818.1 316.8M818.1 316.8l-1.8 -8.8M821.9 318.0l-1.0 -4.9M857.4 319.9L819.6 308.3M819.6 308.3l-2.0 -8.8M823.4 309.4l-2.0 -8.8M827.2 310.6l-1.1 -4.9M857.4 310.0L824.5 301.4M824.5 301.4l-2.4 -8.7M828.3 302.4l-2.4 -8.7M832.2 303.4l-1.3 -4.8M857.4 300.1L823.0 289.2M823.0 289.2l-1.9 -8.8M857.4 290.2L825.8 278.3M825.8 278.3l-1.5 -8.9M829.5 279.7l-1.5 -8.9M833.2 281.1l-0.8 -4.9M857.4 280.2L828.8 269.6M828.8 269.6l-1.5 -8.9M832.6 271.0l-0.8 -4.9M857.4 270.3L828.7 256.1M828.7 256.1l-0.6 -9.0M857.4 260.4L826.8 248.1M826.8 248.1l-1.3 -8.9M857.4 250.5L842.2 220.3M842.2 220.3l4.9 -7.5M857.4 240.6L840.0 213.9M840.0 213.9l4.1 -8.0M842.2 217.3l4.1 -8.0M844.4 220.6l2.3 -4.5M857.4 230.6L842.5 266.6M842.5 266.6l-8.9 1.2M844.0 262.9l-5.0 0.7M857.4 220.7L836.3 254.2M836.3 254.2l-9.0 -0.4M838.4 250.8l-5.0 -0.2M857.4 210.8L848.5 244.7M848.5 244.7l-8.7 2.4M857.4 200.9L851.2 230.4M851.2 230.4l-8.6 2.8M857.4 191.0L841.6 217.2M841.6 217.2l-9.0 -0.2M843.6 213.8l-5.0 -0.1M857.4 181.0L826.7 165.8M826.7 165.8l-0.6 -9.0M857.4 171.1L824.8 181.6M825.8 181.3l-2.3 -4.4M832.4 179.2l-2.3 -4.4M857.4 161.2L826.3 150.0M828.9 150.9l0.9 -4.9M835.5 153.3l0.9 -4.9M842.1 155.7l0.9 -4.9M857.4 151.3L817.2 162.3M823.8 160.5l-2.1 -4.5M830.6 158.6l-2.1 -4.5M837.3 156.8l-2.1 -4.5M857.4 141.4L827.2 155.7M830.9 153.9l-2.9 -4.1M837.2 150.9l-2.9 -4.1M843.5 147.9l-2.9 -4.1M857.4 131.4L823.4 149.9M826.1 148.4l-3.1 -3.9M832.3 145.1l-3.1 -3.9M838.4 141.7l-3.1 -3.9M857.4 121.5L819.0 109.5M824.4 111.2l0.6 -5.0M831.1 113.3l0.6 -5.0M837.8 115.4l0.6 -5.0M857.4 111.6L823.1 101.8M823.4 101.9l0.5 -5.0M830.2 103.8l0.5 -5.0M836.9 105.7l0.5 -5.0M870.2 399.3L835.3 399.2M835.3 399.2l-4.5 -7.8M839.3 399.2l-2.5 -4.3M870.2 389.4L832.0 385.9M832.0 385.9l-3.8 -8.2M836.0 386.2l-2.1 -4.5M870.2 379.4L839.7 371.8M839.7 371.8l-2.5 -8.7M843.6 372.8l-1.4 -4.8M870.2 369.5L831.8 362.8M831.8 362.8l-3.1 -8.5M870.2 359.6L840.4 355.2M840.4 355.2l-3.3 -8.4M844.3 355.8l-3.3 -8.4M848.3 356.4l-1.8 -4.6M870.2 349.7L837.8 338.8M837.8 338.8l-1.8 -8.8M870.2 339.8L838.1 330.4M838.1 330.4l-2.1 -8.7M870.2 329.8L836.2 321.3M836.2 321.3l-2.5 -8.7M840.1 322.3l-2.5 -8.7M844.0 323.2l-1.4 -4.8M870.2 319.9L835.9 302.8M835.9 302.8l-0.5 -9.0M839.5 304.6l-0.3 -5.0M870.2 310.0L832.0 295.2M832.0 295.2l-1.4 -8.9M870.2 300.1L843.3 286.3M843.3 286.3l-0.4 -9.0M846.9 288.1l-0.2 -5.0M870.2 290.2L839.9 272.9M839.9 272.9l-0.0 -9.0M843.4 274.9l-0.0 -9.0M846.9 276.9l-0.0 -5.0M870.2 280.2L841.8 268.3M841.8 268.3l-1.1 -8.9M845.5 269.9l-0.6 -5.0M870.2 270.3L836.7 255.5M836.7 255.5l-1.0 -8.9M840.4 257.1l-0.5 -5.0M870.2 260.4L839.3 245.5M839.3 245.5l-0.7 -9.0M842.9 247.2l-0.7 -9.0M846.5 249.0l-0.4 -5.0M870.2 250.5L856.3 282.1M856.3 282.1l-8.9 1.0M870.2 240.6L853.6 209.9M853.6 209.9l4.7 -7.7M870.2 230.6L862.6 259.9M862.6 259.9l-8.7 2.4M863.6 256.0l-4.8 1.3M870.2 220.7L865.8 189.6M865.8 189.6l7.1 -5.5M866.4 193.6l7.1 -5.5M866.9 197.5l3.9 -3.1M870.2 210.8L847.1 177.6M847.1 177.6l3.8 -8.2M849.3 180.9l2.1 -4.5M870.2 200.9L852.1 226.6M852.1 226.6l-9.0 -0.8M870.2 191.0L848.7 222.3M848.7 222.3l-9.0 -0.7M870.2 181.0L843.7 195.6M843.7 195.6l-7.7 -4.7M847.2 193.6l-7.7 -4.7M850.7 191.7l-4.3 -2.6M870.2 171.1L833.0 188.8M834.5 188.1l-2.9 -4.1M840.8 185.1l-2.9 -4.1M870.2 161.2L832.1 147.1M833.7 147.7l0.9 -4.9M840.3 150.1l0.9 -4.9M846.9 152.6l0.9 -4.9M870.2 151.3L834.5 132.5M840.0 135.4l1.5 -4.8M846.2 138.6l1.5 -4.8M852.4 141.9l1.5 -4.8M870.2 141.4L840.0 123.4M841.7 124.5l1.8 -4.7M847.7 128.0l1.8 -4.7M853.7 131.6l1.8 -4.7M870.2 131.4L842.6 115.5M844.5 116.6l1.7 -4.7M850.6 120.1l1.7 -4.7M856.7 123.6l1.7 -4.7M870.2 121.5L829.5 112.4M834.7 113.5l0.2 -5.0M841.5 115.1l0.2 -5.0M848.4 116.6l0.2 -5.0M870.2 111.6L832.9 100.1M838.1 101.7l0.6 -5.0M844.8 103.8l0.6 -5.0M851.5 105.9l0.6 -5.0" stroke="#000" stroke-width="0.75" fill="none" stroke-opacity="0.85"/><path d="M166.0 102.2v9M166.0 409.2v-10M178.8 102.2v9M178.8 409.2v-10M191.6 102.2v9M191.6 409.2v-10M204.4 102.2v9M204.4 409.2v-10M217.2 102.2v9M217.2 409.2v-10M230.0 102.2v9M230.0 409.2v-10M242.8 102.2v9M242.8 409.2v-10M255.6 102.2v9M255.6 409.2v-10M268.4 102.2v9M268.4 409.2v-10M281.2 102.2v9M281.2 409.2v-10M294.0 102.2v9M294.0 409.2v-10M306.8 102.2v9M306.8 409.2v-10M319.6 102.2v9M319.6 409.2v-10M332.4 102.2v9M332.4 409.2v-10M345.3 102.2v9M345.3 409.2v-10M358.1 102.2v9M358.1 409.2v-10M370.9 102.2v9M370.9 409.2v-10M383.7 102.2v9M383.7 409.2v-10M396.5 102.2v9M396.5 409.2v-10M409.3 102.2v9M409.3 409.2v-10M422.1 102.2v9M422.1 409.2v-10M434.9 102.2v9M434.9 409.2v-10M447.7 102.2v9M447.7 409.2v-10M460.5 102.2v9M460.5 409.2v-10M473.3 102.2v9M473.3 409.2v-10M486.1 102.2v9M486.1 409.2v-10M498.9 102.2v9M498.9 409.2v-10M511.7 102.2v9M511.7 409.2v-10M524.5 102.2v9M524.5 409.2v-10M537.3 102.2v9M537.3 409.2v-10M550.1 102.2v9M550.1 409.2v-10M562.9 102.2v9M562.9 409.2v-10M575.7 102.2v9M575.7 409.2v-10M588.5 102.2v9M588.5 409.2v-10M601.3 102.2v9M601.3 409.2v-10M614.1 102.2v9M614.1 409.2v-10M626.9 102.2v9M626.9 409.2v-10M639.7 102.2v9M639.7 409.2v-10M652.5 102.2v9M652.5 409.2v-10M665.3 102.2v9M665.3 409.2v-10M678.1 102.2v9M678.1 409.2v-10M691.0 102.2v9M691.0 409.2v-10M703.8 102.2v9M703.8 409.2v-10M716.6 102.2v9M716.6 409.2v-10M729.4 102.2v9M729.4 409.2v-10M742.2 102.2v9M742.2 409.2v-10M755.0 102.2v9M755.0 409.2v-10M767.8 102.2v9M767.8 409.2v-10M780.6 102.2v9M780.6 409.2v-10M793.4 102.2v9M793.4 409.2v-10M806.2 102.2v9M806.2 409.2v-10M819.0 102.2v9M819.0 409.2v-10M831.8 102.2v9M831.8 409.2v-10M844.6 102.2v9M844.6 409.2v-10M857.4 102.2v9M857.4 409.2v-10M153.2 359.6h25M870.2 359.6h-25M153.2 310.0h25M870.2 310.0h-25M153.2 260.4h25M870.2 260.4h-25M153.2 210.8h25M870.2 210.8h-25M153.2 161.2h25M870.2 161.2h-25M153.2 111.6h25M870.2 111.6h-25" stroke="#000" stroke-width="1.1" fill="none"/><circle cx="473.6" cy="360" r="3" fill="none" stroke="#000" stroke-width="0.8"/></g><rect x="153.2" y="102.2" width="717.0" height="307.0" fill="none" stroke="#000" stroke-width="1.3"/><text x="144" y="414.7" font-size="14" text-anchor="end">0</text><text x="144" y="365.1" font-size="14" text-anchor="end">5</text><text x="144" y="315.5" font-size="14" text-anchor="end">10</text><text x="144" y="265.9" font-size="14" text-anchor="end">15</text><text x="144" y="216.3" font-size="14" text-anchor="end">20</text><text x="144" y="166.7" font-size="14" text-anchor="end">25</text><text x="144" y="117.1" font-size="14" text-anchor="end">30</text><text transform="translate(169.5 424.4) rotate(-45)" font-size="13.4" text-anchor="end">20.00</text><text transform="translate(220.7 424.4) rotate(-45)" font-size="13.4" text-anchor="end">20.12</text><text transform="translate(271.9 424.4) rotate(-45)" font-size="13.4" text-anchor="end">21.00</text><text transform="translate(323.1 424.4) rotate(-45)" font-size="13.4" text-anchor="end">21.12</text><text transform="translate(374.4 424.4) rotate(-45)" font-size="13.4" text-anchor="end">22.00</text><text transform="translate(425.6 424.4) rotate(-45)" font-size="13.4" text-anchor="end">22.12</text><text transform="translate(476.8 424.4) rotate(-45)" font-size="13.4" text-anchor="end">23.00</text><text transform="translate(528.0 424.4) rotate(-45)" font-size="13.4" text-anchor="end">23.12</text><text transform="translate(579.2 424.4) rotate(-45)" font-size="13.4" text-anchor="end">24.00</text><text transform="translate(630.4 424.4) rotate(-45)" font-size="13.4" text-anchor="end">24.12</text><text transform="translate(681.6 424.4) rotate(-45)" font-size="13.4" text-anchor="end">25.00</text><text transform="translate(732.9 424.4) rotate(-45)" font-size="13.4" text-anchor="end">25.12</text><text transform="translate(784.1 424.4) rotate(-45)" font-size="13.4" text-anchor="end">26.00</text><text transform="translate(835.3 424.4) rotate(-45)" font-size="13.4" text-anchor="end">26.12</text><text transform="translate(886.5 424.4) rotate(-45)" font-size="13.4" text-anchor="end">27.00</text><rect x="889.4" y="113" width="19.5" height="1.05" fill="#feb6b6"/><rect x="889.4" y="114" width="19.5" height="1.05" fill="#faaeae"/><rect x="889.4" y="115" width="19.5" height="1.05" fill="#f8a8a8"/><rect x="889.4" y="116" width="19.5" height="1.05" fill="#f4a0a0"/><rect x="889.4" y="117" width="19.5" height="1.05" fill="#f29a9a"/><rect x="889.4" y="118" width="19.5" height="1.05" fill="#ee9090"/><rect x="889.4" y="119" width="19.5" height="1.05" fill="#ec8486"/><rect x="889.4" y="120" width="19.5" height="1.05" fill="#e8787a"/><rect x="889.4" y="121" width="19.5" height="1.05" fill="#e66c70"/><rect x="889.4" y="122" width="19.5" height="1.05" fill="#e26064"/><rect x="889.4" y="123" width="19.5" height="1.05" fill="#e0565b"/><rect x="889.4" y="124" width="19.5" height="1.05" fill="#dc4e53"/><rect x="889.4" y="125" width="19.5" height="1.05" fill="#da464b"/><rect x="889.4" y="126" width="19.5" height="1.05" fill="#d63e43"/><rect x="889.4" y="127" width="19.5" height="1.05" fill="#d4363b"/><rect x="889.4" y="128" width="19.5" height="1.05" fill="#d12f34"/><rect x="889.4" y="129" width="19.5" height="1.05" fill="#cf292e"/><rect x="889.4" y="130" width="19.5" height="1.05" fill="#cd2328"/><rect x="889.4" y="131" width="19.5" height="1.05" fill="#cb1d22"/><rect x="889.4" y="132" width="19.5" height="1.05" fill="#c9171c"/><rect x="889.4" y="133" width="19.5" height="1.05" fill="#c81216"/><rect x="889.4" y="134" width="19.5" height="1.05" fill="#c60e12"/><rect x="889.4" y="135" width="19.5" height="1.05" fill="#c60a0c"/><rect x="889.4" y="136" width="19.5" height="1.05" fill="#c40608"/><rect x="889.4" y="137" width="19.5" height="1.05" fill="#c40202"/><rect x="889.4" y="138" width="19.5" height="1.05" fill="#c40000"/><rect x="889.4" y="139" width="19.5" height="1.05" fill="#c60000"/><rect x="889.4" y="140" width="19.5" height="1.05" fill="#c80000"/><rect x="889.4" y="141" width="19.5" height="1.05" fill="#ca0000"/><rect x="889.4" y="142" width="19.5" height="1.05" fill="#cc0000"/><rect x="889.4" y="143" width="19.5" height="1.05" fill="#ce0000"/><rect x="889.4" y="144" width="19.5" height="1.05" fill="#d00000"/><rect x="889.4" y="145" width="19.5" height="1.05" fill="#d20000"/><rect x="889.4" y="146" width="19.5" height="1.05" fill="#d40000"/><rect x="889.4" y="147" width="19.5" height="1.05" fill="#d60000"/><rect x="889.4" y="148" width="19.5" height="1.05" fill="#d80000"/><rect x="889.4" y="149" width="19.5" height="1.05" fill="#dc0000"/><rect x="889.4" y="150" width="19.5" height="1.05" fill="#de0000"/><rect x="889.4" y="151" width="19.5" height="1.05" fill="#e20000"/><rect x="889.4" y="152" width="19.5" height="1.05" fill="#e40000"/><rect x="889.4" y="153" width="19.5" height="1.05" fill="#e80000"/><rect x="889.4" y="154" width="19.5" height="1.05" fill="#ea0000"/><rect x="889.4" y="155" width="19.5" height="1.05" fill="#ee0000"/><rect x="889.4" y="156" width="19.5" height="1.05" fill="#f00000"/><rect x="889.4" y="157" width="19.5" height="1.05" fill="#f40000"/><rect x="889.4" y="158" width="19.5" height="1.05" fill="#f60000"/><rect x="889.4" y="159" width="19.5" height="1.05" fill="#f90000"/><rect x="889.4" y="160" width="19.5" height="1.05" fill="#fb0000"/><rect x="889.4" y="161" width="19.5" height="1.05" fill="#fe0000"/><rect x="889.4" y="162" width="19.5" height="1.05" fill="#ff0200"/><rect x="889.4" y="163" width="19.5" height="1.05" fill="#ff0800"/><rect x="889.4" y="164" width="19.5" height="1.05" fill="#ff0c00"/><rect x="889.4" y="165" width="19.5" height="1.05" fill="#ff1200"/><rect x="889.4" y="166" width="19.5" height="1.05" fill="#ff1600"/><rect x="889.4" y="167" width="19.5" height="1.05" fill="#ff1b00"/><rect x="889.4" y="168" width="19.5" height="1.05" fill="#ff1f00"/><rect x="889.4" y="169" width="19.5" height="1.05" fill="#ff2300"/><rect x="889.4" y="170" width="19.5" height="1.05" fill="#ff2700"/><rect x="889.4" y="171" width="19.5" height="1.05" fill="#ff2b00"/><rect x="889.4" y="172" width="19.5" height="1.05" fill="#ff3000"/><rect x="889.4" y="173" width="19.5" height="1.05" fill="#ff3600"/><rect x="889.4" y="174" width="19.5" height="1.05" fill="#ff3c00"/><rect x="889.4" y="175" width="19.5" height="1.05" fill="#ff4200"/><rect x="889.4" y="176" width="19.5" height="1.05" fill="#ff4800"/><rect x="889.4" y="177" width="19.5" height="1.05" fill="#ff4e00"/><rect x="889.4" y="178" width="19.5" height="1.05" fill="#ff5200"/><rect x="889.4" y="179" width="19.5" height="1.05" fill="#ff5800"/><rect x="889.4" y="180" width="19.5" height="1.05" fill="#ff5c00"/><rect x="889.4" y="181" width="19.5" height="1.05" fill="#ff6200"/><rect x="889.4" y="182" width="19.5" height="1.05" fill="#ff6600"/><rect x="889.4" y="183" width="19.5" height="1.05" fill="#ff6800"/><rect x="889.4" y="184" width="19.5" height="1.05" fill="#ff6c00"/><rect x="889.4" y="185" width="19.5" height="1.05" fill="#ff6e00"/><rect x="889.4" y="186" width="19.5" height="1.05" fill="#ff7200"/><rect x="889.4" y="187" width="19.5" height="1.05" fill="#ff7500"/><rect x="889.4" y="188" width="19.5" height="1.05" fill="#ff7800"/><rect x="889.4" y="189" width="19.5" height="1.05" fill="#ff7b00"/><rect x="889.4" y="190" width="19.5" height="1.05" fill="#ff7e00"/><rect x="889.4" y="191" width="19.5" height="1.05" fill="#ff8000"/><rect x="889.4" y="192" width="19.5" height="1.05" fill="#ff8200"/><rect x="889.4" y="193" width="19.5" height="1.05" fill="#ff8400"/><rect x="889.4" y="194" width="19.5" height="1.05" fill="#ff8600"/><rect x="889.4" y="195" width="19.5" height="1.05" fill="#ff8800"/><rect x="889.4" y="196" width="19.5" height="1.05" fill="#ff8a00"/><rect x="889.4" y="197" width="19.5" height="1.05" fill="#ff8c00"/><rect x="889.4" y="198" width="19.5" height="1.05" fill="#ff8e00"/><rect x="889.4" y="199" width="19.5" height="1.05" fill="#ff9000"/><rect x="889.4" y="200" width="19.5" height="1.05" fill="#ff9200"/><rect x="889.4" y="201" width="19.5" height="1.05" fill="#ff9400"/><rect x="889.4" y="202" width="19.5" height="1.05" fill="#ff9600"/><rect x="889.4" y="203" width="19.5" height="1.05" fill="#ff9800"/><rect x="889.4" y="204" width="19.5" height="1.05" fill="#ff9a00"/><rect x="889.4" y="205" width="19.5" height="1.05" fill="#ff9c00"/><rect x="889.4" y="206" width="19.5" height="1.05" fill="#ffa000"/><rect x="889.4" y="207" width="19.5" height="1.05" fill="#ffa200"/><rect x="889.4" y="208" width="19.5" height="1.05" fill="#ffa600"/><rect x="889.4" y="209" width="19.5" height="1.05" fill="#ffa800"/><rect x="889.4" y="210" width="19.5" height="1.05" fill="#ffab00"/><rect x="889.4" y="211" width="19.5" height="1.05" fill="#ffad00"/><rect x="889.4" y="212" width="19.5" height="1.05" fill="#ffaf00"/><rect x="889.4" y="213" width="19.5" height="1.05" fill="#ffb100"/><rect x="889.4" y="214" width="19.5" height="1.05" fill="#ffb300"/><rect x="889.4" y="215" width="19.5" height="1.05" fill="#ffb601"/><rect x="889.4" y="216" width="19.5" height="1.05" fill="#ffb803"/><rect x="889.4" y="217" width="19.5" height="1.05" fill="#ffbc05"/><rect x="889.4" y="218" width="19.5" height="1.05" fill="#ffbe07"/><rect x="889.4" y="219" width="19.5" height="1.05" fill="#ffc209"/><rect x="889.4" y="220" width="19.5" height="1.05" fill="#ffc40b"/><rect x="889.4" y="221" width="19.5" height="1.05" fill="#ffc60d"/><rect x="889.4" y="222" width="19.5" height="1.05" fill="#ffc80f"/><rect x="889.4" y="223" width="19.5" height="1.05" fill="#ffca11"/><rect x="889.4" y="224" width="19.5" height="1.05" fill="#ffcc13"/><rect x="889.4" y="225" width="19.5" height="1.05" fill="#ffce16"/><rect x="889.4" y="226" width="19.5" height="1.05" fill="#ffd21a"/><rect x="889.4" y="227" width="19.5" height="1.05" fill="#ffd41e"/><rect x="889.4" y="228" width="19.5" height="1.05" fill="#ffd822"/><rect x="889.4" y="229" width="19.5" height="1.05" fill="#ffda26"/><rect x="889.4" y="230" width="19.5" height="1.05" fill="#ffdd2b"/><rect x="889.4" y="231" width="19.5" height="1.05" fill="#ffdf31"/><rect x="889.4" y="232" width="19.5" height="1.05" fill="#ffe137"/><rect x="889.4" y="233" width="19.5" height="1.05" fill="#ffe33d"/><rect x="889.4" y="234" width="19.5" height="1.05" fill="#ffe543"/><rect x="889.4" y="235" width="19.5" height="1.05" fill="#ffe74a"/><rect x="889.4" y="236" width="19.5" height="1.05" fill="#ffe852"/><rect x="889.4" y="237" width="19.5" height="1.05" fill="#ffea5a"/><rect x="889.4" y="238" width="19.5" height="1.05" fill="#ffec62"/><rect x="889.4" y="239" width="19.5" height="1.05" fill="#ffed6a"/><rect x="889.4" y="240" width="19.5" height="1.05" fill="#ffef72"/><rect x="889.4" y="241" width="19.5" height="1.05" fill="#fff07a"/><rect x="889.4" y="242" width="19.5" height="1.05" fill="#fff282"/><rect x="889.4" y="243" width="19.5" height="1.05" fill="#fff38a"/><rect x="889.4" y="244" width="19.5" height="1.05" fill="#fff492"/><rect x="889.4" y="245" width="19.5" height="1.05" fill="#fff69a"/><rect x="889.4" y="246" width="19.5" height="1.05" fill="#fff6a0"/><rect x="889.4" y="247" width="19.5" height="1.05" fill="#fff8a8"/><rect x="889.4" y="248" width="19.5" height="1.05" fill="#fff8ae"/><rect x="889.4" y="249" width="19.5" height="1.05" fill="#fffab6"/><rect x="889.4" y="250" width="19.5" height="1.05" fill="#fffabb"/><rect x="889.4" y="251" width="19.5" height="1.05" fill="#fffbbf"/><rect x="889.4" y="252" width="19.5" height="1.05" fill="#fffcc3"/><rect x="889.4" y="253" width="19.5" height="1.05" fill="#fffdc8"/><rect x="889.4" y="254" width="19.5" height="1.05" fill="#fffdcc"/><rect x="889.4" y="255" width="19.5" height="1.05" fill="#fffed0"/><rect x="889.4" y="256" width="19.5" height="1.05" fill="#ffffd4"/><rect x="889.4" y="257" width="19.5" height="1.05" fill="#c6e2f0"/><rect x="889.4" y="258" width="19.5" height="1.05" fill="#c4e1f0"/><rect x="889.4" y="259" width="19.5" height="1.05" fill="#c1e0f0"/><rect x="889.4" y="260" width="19.5" height="1.05" fill="#bfdff0"/><rect x="889.4" y="261" width="19.5" height="1.05" fill="#bcdef0"/><rect x="889.4" y="262" width="19.5" height="1.05" fill="#baddf0"/><rect x="889.4" y="263" width="19.5" height="1.05" fill="#b8dcf0"/><rect x="889.4" y="264" width="19.5" height="1.05" fill="#b5dbf0"/><rect x="889.4" y="265" width="19.5" height="1.05" fill="#b2d9f0"/><rect x="889.4" y="266" width="19.5" height="1.05" fill="#aed8ee"/><rect x="889.4" y="267" width="19.5" height="1.05" fill="#aad6ee"/><rect x="889.4" y="268" width="19.5" height="1.05" fill="#a6d4ec"/><rect x="889.4" y="269" width="19.5" height="1.05" fill="#a2d3ec"/><rect x="889.4" y="270" width="19.5" height="1.05" fill="#9ed2eb"/><rect x="889.4" y="271" width="19.5" height="1.05" fill="#9ad0eb"/><rect x="889.4" y="272" width="19.5" height="1.05" fill="#96d0eb"/><rect x="889.4" y="273" width="19.5" height="1.05" fill="#92ceeb"/><rect x="889.4" y="274" width="19.5" height="1.05" fill="#8eceeb"/><rect x="889.4" y="275" width="19.5" height="1.05" fill="#89cceb"/><rect x="889.4" y="276" width="19.5" height="1.05" fill="#83caeb"/><rect x="889.4" y="277" width="19.5" height="1.05" fill="#7dc8eb"/><rect x="889.4" y="278" width="19.5" height="1.05" fill="#77c6eb"/><rect x="889.4" y="279" width="19.5" height="1.05" fill="#71c4eb"/><rect x="889.4" y="280" width="19.5" height="1.05" fill="#6ac2ec"/><rect x="889.4" y="281" width="19.5" height="1.05" fill="#62c0ec"/><rect x="889.4" y="282" width="19.5" height="1.05" fill="#5abeee"/><rect x="889.4" y="283" width="19.5" height="1.05" fill="#52bcee"/><rect x="889.4" y="284" width="19.5" height="1.05" fill="#4abaf0"/><rect x="889.4" y="285" width="19.5" height="1.05" fill="#43b8f0"/><rect x="889.4" y="286" width="19.5" height="1.05" fill="#3db8f2"/><rect x="889.4" y="287" width="19.5" height="1.05" fill="#37b6f2"/><rect x="889.4" y="288" width="19.5" height="1.05" fill="#31b6f4"/><rect x="889.4" y="289" width="19.5" height="1.05" fill="#2bb4f4"/><rect x="889.4" y="290" width="19.5" height="1.05" fill="#26b4f6"/><rect x="889.4" y="291" width="19.5" height="1.05" fill="#20b4f6"/><rect x="889.4" y="292" width="19.5" height="1.05" fill="#1cb4f8"/><rect x="889.4" y="293" width="19.5" height="1.05" fill="#16b4f8"/><rect x="889.4" y="294" width="19.5" height="1.05" fill="#12b4fa"/><rect x="889.4" y="295" width="19.5" height="1.05" fill="#0eb4fa"/><rect x="889.4" y="296" width="19.5" height="1.05" fill="#0ab4fc"/><rect x="889.4" y="297" width="19.5" height="1.05" fill="#08b4fc"/><rect x="889.4" y="298" width="19.5" height="1.05" fill="#04b4fe"/><rect x="889.4" y="299" width="19.5" height="1.05" fill="#02b4fe"/><rect x="889.4" y="300" width="19.5" height="1.05" fill="#00b3ff"/><rect x="889.4" y="301" width="19.5" height="1.05" fill="#00b1ff"/><rect x="889.4" y="302" width="19.5" height="1.05" fill="#00afff"/><rect x="889.4" y="303" width="19.5" height="1.05" fill="#00adff"/><rect x="889.4" y="304" width="19.5" height="1.05" fill="#00abff"/><rect x="889.4" y="305" width="19.5" height="1.05" fill="#00a8ff"/><rect x="889.4" y="306" width="19.5" height="1.05" fill="#00a6ff"/><rect x="889.4" y="307" width="19.5" height="1.05" fill="#00a2ff"/><rect x="889.4" y="308" width="19.5" height="1.05" fill="#00a0ff"/><rect x="889.4" y="309" width="19.5" height="1.05" fill="#009cff"/><rect x="889.4" y="310" width="19.5" height="1.05" fill="#019aff"/><rect x="889.4" y="311" width="19.5" height="1.05" fill="#0398ff"/><rect x="889.4" y="312" width="19.5" height="1.05" fill="#0596ff"/><rect x="889.4" y="313" width="19.5" height="1.05" fill="#0794ff"/><rect x="889.4" y="314" width="19.5" height="1.05" fill="#0992ff"/><rect x="889.4" y="315" width="19.5" height="1.05" fill="#0b90ff"/><rect x="889.4" y="316" width="19.5" height="1.05" fill="#0d8eff"/><rect x="889.4" y="317" width="19.5" height="1.05" fill="#0f8cff"/><rect x="889.4" y="318" width="19.5" height="1.05" fill="#118aff"/><rect x="889.4" y="319" width="19.5" height="1.05" fill="#1388ff"/><rect x="889.4" y="320" width="19.5" height="1.05" fill="#1587ff"/><rect x="889.4" y="321" width="19.5" height="1.05" fill="#1686fe"/><rect x="889.4" y="322" width="19.5" height="1.05" fill="#1885fd"/><rect x="889.4" y="323" width="19.5" height="1.05" fill="#1984fc"/><rect x="889.4" y="324" width="19.5" height="1.05" fill="#1a84fc"/><rect x="889.4" y="325" width="19.5" height="1.05" fill="#1c83fb"/><rect x="889.4" y="326" width="19.5" height="1.05" fill="#1d82fa"/><rect x="889.4" y="327" width="19.5" height="1.05" fill="#1f81fa"/><rect x="889.4" y="328" width="19.5" height="1.05" fill="#2180f8"/><rect x="889.4" y="329" width="19.5" height="1.05" fill="#237ef8"/><rect x="889.4" y="330" width="19.5" height="1.05" fill="#257cf6"/><rect x="889.4" y="331" width="19.5" height="1.05" fill="#277bf6"/><rect x="889.4" y="332" width="19.5" height="1.05" fill="#2879f4"/><rect x="889.4" y="333" width="19.5" height="1.05" fill="#2a78f2"/><rect x="889.4" y="334" width="19.5" height="1.05" fill="#2a76f0"/><rect x="889.4" y="335" width="19.5" height="1.05" fill="#2c75ee"/><rect x="889.4" y="336" width="19.5" height="1.05" fill="#2c74ec"/><rect x="889.4" y="337" width="19.5" height="1.05" fill="#2e72ea"/><rect x="889.4" y="338" width="19.5" height="1.05" fill="#2e6eea"/><rect x="889.4" y="339" width="19.5" height="1.05" fill="#306ce8"/><rect x="889.4" y="340" width="19.5" height="1.05" fill="#3068e8"/><rect x="889.4" y="341" width="19.5" height="1.05" fill="#3266e6"/><rect x="889.4" y="342" width="19.5" height="1.05" fill="#3262e6"/><rect x="889.4" y="343" width="19.5" height="1.05" fill="#3260e4"/><rect x="889.4" y="344" width="19.5" height="1.05" fill="#325ce4"/><rect x="889.4" y="345" width="19.5" height="1.05" fill="#325ae2"/><rect x="889.4" y="346" width="19.5" height="1.05" fill="#3256e2"/><rect x="889.4" y="347" width="19.5" height="1.05" fill="#3254e1"/><rect x="889.4" y="348" width="19.5" height="1.05" fill="#3050e1"/><rect x="889.4" y="349" width="19.5" height="1.05" fill="#304ee1"/><rect x="889.4" y="350" width="19.5" height="1.05" fill="#2e4ae1"/><rect x="889.4" y="351" width="19.5" height="1.05" fill="#2e48e1"/><rect x="889.4" y="352" width="19.5" height="1.05" fill="#2c44e2"/><rect x="889.4" y="353" width="19.5" height="1.05" fill="#2a42e2"/><rect x="889.4" y="354" width="19.5" height="1.05" fill="#283ee4"/><rect x="889.4" y="355" width="19.5" height="1.05" fill="#263ce4"/><rect x="889.4" y="356" width="19.5" height="1.05" fill="#2438e6"/><rect x="889.4" y="357" width="19.5" height="1.05" fill="#2235e6"/><rect x="889.4" y="358" width="19.5" height="1.05" fill="#1e31e8"/><rect x="889.4" y="359" width="19.5" height="1.05" fill="#1c2de8"/><rect x="889.4" y="360" width="19.5" height="1.05" fill="#1829ea"/><rect x="889.4" y="361" width="19.5" height="1.05" fill="#1625ea"/><rect x="889.4" y="362" width="19.5" height="1.05" fill="#1221ec"/><rect x="889.4" y="363" width="19.5" height="1.05" fill="#101dee"/><rect x="889.4" y="364" width="19.5" height="1.05" fill="#0c19f0"/><rect x="889.4" y="365" width="19.5" height="1.05" fill="#0a15f2"/><rect x="889.4" y="366" width="19.5" height="1.05" fill="#0611f4"/><rect x="889.4" y="367" width="19.5" height="1.05" fill="#040ef6"/><rect x="889.4" y="368" width="19.5" height="1.05" fill="#040af6"/><rect x="889.4" y="369" width="19.5" height="1.05" fill="#0208f8"/><rect x="889.4" y="370" width="19.5" height="1.05" fill="#0204f8"/><rect x="889.4" y="371" width="19.5" height="1.05" fill="#0002fa"/><rect x="889.4" y="372" width="19.5" height="1.05" fill="#0100f9"/><rect x="889.4" y="373" width="19.5" height="1.05" fill="#0400f8"/><rect x="889.4" y="374" width="19.5" height="1.05" fill="#0600f7"/><rect x="889.4" y="375" width="19.5" height="1.05" fill="#0900f6"/><rect x="889.4" y="376" width="19.5" height="1.05" fill="#0d01f4"/><rect x="889.4" y="377" width="19.5" height="1.05" fill="#1303f2"/><rect x="889.4" y="378" width="19.5" height="1.05" fill="#1905f0"/><rect x="889.4" y="379" width="19.5" height="1.05" fill="#1f07ee"/><rect x="889.4" y="380" width="19.5" height="1.05" fill="#2509ec"/><rect x="889.4" y="381" width="19.5" height="1.05" fill="#2b0beb"/><rect x="889.4" y="382" width="19.5" height="1.05" fill="#310deb"/><rect x="889.4" y="383" width="19.5" height="1.05" fill="#370feb"/><rect x="889.4" y="384" width="19.5" height="1.05" fill="#3d11eb"/><rect x="889.4" y="385" width="19.5" height="1.05" fill="#4313eb"/><rect x="889.4" y="386" width="19.5" height="1.05" fill="#4914eb"/><rect x="889.4" y="387" width="19.5" height="1.05" fill="#4f16eb"/><rect x="889.4" y="388" width="19.5" height="1.05" fill="#5516eb"/><rect x="889.4" y="389" width="19.5" height="1.05" fill="#5b18eb"/><rect x="889.4" y="390" width="19.5" height="1.05" fill="#6118eb"/><rect x="889.4" y="391" width="19.5" height="1.05" fill="#661aeb"/><rect x="889.4" y="392" width="19.5" height="1.05" fill="#6c1ceb"/><rect x="889.4" y="393" width="19.5" height="1.05" fill="#701eeb"/><rect x="889.4" y="394" width="19.5" height="1.05" fill="#7620eb"/><rect x="889.4" y="395" width="19.5" height="1.05" fill="#7a22eb"/><rect x="889.4" y="396" width="19.5" height="1.05" fill="#7f24eb"/><rect x="889.4" y="397" width="19.5" height="1.05" fill="#8226eb"/><rect x="889.4" y="398" width="19.5" height="1.05" fill="#8527eb"/><path d="M889.4 114.30h19.5M889.4 117.31h19.5M889.4 120.32h19.5M889.4 123.33h19.5M889.4 126.34h19.5M889.4 129.35h19.5M889.4 132.36h19.5M889.4 135.37h19.5M889.4 138.38h19.5M889.4 141.39h19.5M889.4 144.40h19.5M889.4 147.41h19.5M889.4 150.42h19.5M889.4 153.43h19.5M889.4 156.44h19.5M889.4 159.45h19.5M889.4 162.46h19.5M889.4 165.47h19.5M889.4 168.48h19.5M889.4 171.49h19.5M889.4 174.50h19.5M889.4 177.51h19.5M889.4 180.52h19.5M889.4 183.53h19.5M889.4 186.54h19.5M889.4 189.55h19.5M889.4 192.56h19.5M889.4 195.57h19.5M889.4 198.58h19.5M889.4 201.59h19.5M889.4 204.60h19.5M889.4 207.61h19.5M889.4 210.62h19.5M889.4 213.63h19.5M889.4 216.64h19.5M889.4 219.65h19.5M889.4 222.66h19.5M889.4 225.67h19.5M889.4 228.68h19.5M889.4 231.69h19.5M889.4 234.70h19.5M889.4 237.71h19.5M889.4 240.72h19.5M889.4 243.73h19.5M889.4 246.74h19.5M889.4 249.75h19.5M889.4 252.76h19.5M889.4 255.77h19.5M889.4 258.78h19.5M889.4 261.79h19.5M889.4 264.80h19.5M889.4 267.81h19.5M889.4 270.82h19.5M889.4 273.83h19.5M889.4 276.84h19.5M889.4 279.85h19.5M889.4 282.86h19.5M889.4 285.87h19.5M889.4 288.88h19.5M889.4 291.89h19.5M889.4 294.90h19.5M889.4 297.91h19.5M889.4 300.92h19.5M889.4 303.93h19.5M889.4 306.94h19.5M889.4 309.95h19.5M889.4 312.96h19.5M889.4 315.97h19.5M889.4 318.98h19.5M889.4 321.99h19.5M889.4 325.00h19.5M889.4 328.01h19.5M889.4 331.02h19.5M889.4 334.03h19.5M889.4 337.04h19.5M889.4 340.05h19.5M889.4 343.06h19.5M889.4 346.07h19.5M889.4 349.08h19.5M889.4 352.09h19.5M889.4 355.10h19.5M889.4 358.11h19.5M889.4 361.12h19.5M889.4 364.13h19.5M889.4 367.14h19.5M889.4 370.15h19.5M889.4 373.16h19.5M889.4 376.17h19.5M889.4 379.18h19.5M889.4 382.19h19.5M889.4 385.20h19.5M889.4 388.21h19.5M889.4 391.22h19.5M889.4 394.23h19.5M889.4 397.24h19.5" stroke="#fff" stroke-opacity="0.22" stroke-width="0.9" fill="none"/><text x="927" y="122.1" font-size="17" >35</text><text x="927" y="142.7" font-size="17" >28</text><text x="927" y="163.3" font-size="17" >21</text><text x="927" y="183.9" font-size="17" >14</text><text x="927" y="204.5" font-size="17" >7</text><text x="927" y="225.1" font-size="17" >0</text><text x="927" y="245.7" font-size="17" >-7</text><text x="927" y="266.3" font-size="17" >-14</text><text x="927" y="286.9" font-size="17" >-21</text><text x="927" y="307.5" font-size="17" >-28</text><text x="927" y="328.1" font-size="17" >-35</text><text x="927" y="348.7" font-size="17" >-42</text><text x="927" y="369.3" font-size="17" >-49</text><text x="927" y="389.9" font-size="17" >-56</text><text x="175.5" y="53" font-size="41">Kazhydromet for Emba(48.82 58.22)</text><text x="469.5" y="91.6" font-size="23">20</text><text x="632" y="91.6" font-size="23">2026</text><polygon points="507.50,77.30 509.15,81.93 514.06,82.07 510.16,85.07 511.56,89.78 507.50,87.00 503.44,89.78 504.84,85.07 500.94,82.07 505.85,81.93" fill="none" stroke="#000" stroke-width="0.7"/><polygon points="520.01,77.30 521.66,81.93 526.57,82.07 522.67,85.07 524.07,89.78 520.01,87.00 515.95,89.78 517.35,85.07 513.45,82.07 518.36,81.93" fill="none" stroke="#000" stroke-width="0.7"/><polygon points="532.52,77.30 534.17,81.93 539.08,82.07 535.18,85.07 536.58,89.78 532.52,87.00 528.46,89.78 529.86,85.07 525.96,82.07 530.87,81.93" fill="none" stroke="#000" stroke-width="0.7"/><polygon points="545.03,77.30 546.68,81.93 551.59,82.07 547.69,85.07 549.09,89.78 545.03,87.00 540.97,89.78 542.37,85.07 538.47,82.07 543.38,81.93" fill="none" stroke="#000" stroke-width="0.7"/><polygon points="557.54,77.30 559.19,81.93 564.10,82.07 560.20,85.07 561.60,89.78 557.54,87.00 553.48,89.78 554.88,85.07 550.98,82.07 555.89,81.93" fill="none" stroke="#000" stroke-width="0.7"/><polygon points="570.05,77.30 571.70,81.93 576.61,82.07 572.71,85.07 574.11,89.78 570.05,87.00 565.99,89.78 567.39,85.07 563.49,82.07 568.40,81.93" fill="none" stroke="#000" stroke-width="0.7"/><polygon points="582.56,77.30 584.21,81.93 589.12,82.07 585.22,85.07 586.62,89.78 582.56,87.00 578.50,89.78 579.90,85.07 576.00,82.07 580.91,81.93" fill="none" stroke="#000" stroke-width="0.7"/><polygon points="595.07,77.30 596.72,81.93 601.63,82.07 597.73,85.07 599.13,89.78 595.07,87.00 591.01,89.78 592.41,85.07 588.51,82.07 593.42,81.93" fill="none" stroke="#000" stroke-width="0.7"/><polygon points="607.58,77.30 609.23,81.93 614.14,82.07 610.24,85.07 611.64,89.78 607.58,87.00 603.52,89.78 604.92,85.07 601.02,82.07 605.93,81.93" fill="none" stroke="#000" stroke-width="0.7"/><polygon points="620.09,77.30 621.74,81.93 626.65,82.07 622.75,85.07 624.15,89.78 620.09,87.00 616.03,89.78 617.43,85.07 613.53,82.07 618.44,81.93" fill="none" stroke="#000" stroke-width="0.7"/><path d="M165.4 460.5V563.0M177.3 460.5V563.0M189.3 460.5V563.0M201.2 460.5V563.0M213.2 460.5V563.0M225.2 460.5V563.0M237.1 460.5V563.0M249.1 460.5V563.0M261.0 460.5V563.0M272.9 460.5V563.0M284.9 460.5V563.0M296.9 460.5V563.0M308.8 460.5V563.0M320.8 460.5V563.0M332.7 460.5V563.0M344.6 460.5V563.0M356.6 460.5V563.0M368.5 460.5V563.0M380.5 460.5V563.0M392.4 460.5V563.0M404.4 460.5V563.0M416.4 460.5V563.0M428.3 460.5V563.0M440.2 460.5V563.0M452.2 460.5V563.0M464.1 460.5V563.0M476.1 460.5V563.0M488.0 460.5V563.0M500.0 460.5V563.0M511.9 460.5V563.0M523.9 460.5V563.0M535.9 460.5V563.0M547.8 460.5V563.0M559.8 460.5V563.0M571.7 460.5V563.0M583.6 460.5V563.0M595.6 460.5V563.0M607.5 460.5V563.0M619.5 460.5V563.0M631.4 460.5V563.0M643.4 460.5V563.0M655.4 460.5V563.0M667.3 460.5V563.0M679.2 460.5V563.0M691.2 460.5V563.0M703.1 460.5V563.0M715.1 460.5V563.0M727.0 460.5V563.0M739.0 460.5V563.0M750.9 460.5V563.0M762.9 460.5V563.0M774.8 460.5V563.0M786.8 460.5V563.0M798.7 460.5V563.0M810.7 460.5V563.0M822.6 460.5V563.0M834.6 460.5V563.0" stroke="#3a3a3a" stroke-width="0.9" stroke-dasharray="3 6.5" stroke-dashoffset="-4.5" fill="none"/><path d="M153.2 545.9H870.2M153.2 528.8H870.2M153.2 511.8H870.2M153.2 494.7H870.2M153.2 477.6H870.2" stroke="#808080" stroke-width="0.9" stroke-dasharray="3.3 6.3" fill="none"/><polyline points="165.4,479.3 177.3,483.8 189.3,489.0 201.2,493.5 213.2,502.6 225.2,506.1 237.1,509.5 249.1,514.0 261.0,516.9 272.9,517.4 284.9,516.3 296.9,518.0 308.8,519.7 320.8,518.0 332.7,518.0 344.6,512.9 356.6,507.8 368.5,502.6 380.5,498.1 392.4,495.2 404.4,491.8 416.4,489.0 428.3,490.1 440.2,491.2 452.2,491.2 464.1,491.2 476.1,493.5 488.0,494.7 500.0,495.8 511.9,489.0 523.9,485.0 535.9,481.0 547.8,472.5 559.8,465.1 571.7,462.2 583.6,462.2 595.6,465.6 607.5,466.8 619.5,470.2 631.4,477.6 643.4,479.3 655.4,480.4 667.3,483.8 679.2,492.4 691.2,498.1 703.1,503.8 715.1,512.9 727.0,519.2 739.0,523.7 750.9,528.3 762.9,532.8 774.8,539.7 786.8,546.5 798.7,546.5 810.7,543.6 822.6,545.3 834.6,545.9" fill="none" stroke="#1a1aff" stroke-width="1.3" stroke-linejoin="round"/><path d="M153.2 563.0h-14.0M870.2 563.0h14.0M153.2 557.3h-7.0M870.2 557.3h7.0M153.2 551.6h-7.0M870.2 551.6h7.0M153.2 545.9h-14.0M870.2 545.9h14.0M153.2 540.2h-7.0M870.2 540.2h7.0M153.2 534.5h-7.0M870.2 534.5h7.0M153.2 528.8h-14.0M870.2 528.8h14.0M153.2 523.1h-7.0M870.2 523.1h7.0M153.2 517.4h-7.0M870.2 517.4h7.0M153.2 511.8h-14.0M870.2 511.8h14.0M153.2 506.1h-7.0M870.2 506.1h7.0M153.2 500.4h-7.0M870.2 500.4h7.0M153.2 494.7h-14.0M870.2 494.7h14.0M153.2 489.0h-7.0M870.2 489.0h7.0M153.2 483.3h-7.0M870.2 483.3h7.0M153.2 477.6h-14.0M870.2 477.6h14.0M153.2 471.9h-7.0M870.2 471.9h7.0M153.2 466.2h-7.0M870.2 466.2h7.0M153.2 460.5h-14.0M870.2 460.5h14.0M165.4 563.0v13.5M177.3 563.0v13.5M189.3 563.0v13.5M201.2 563.0v13.5M213.2 563.0v13.5M225.2 563.0v13.5M237.1 563.0v13.5M249.1 563.0v13.5M261.0 563.0v13.5M272.9 563.0v13.5M284.9 563.0v13.5M296.9 563.0v13.5M308.8 563.0v13.5M320.8 563.0v13.5M332.7 563.0v13.5M344.6 563.0v13.5M356.6 563.0v13.5M368.5 563.0v13.5M380.5 563.0v13.5M392.4 563.0v13.5M404.4 563.0v13.5M416.4 563.0v13.5M428.3 563.0v13.5M440.2 563.0v13.5M452.2 563.0v13.5M464.1 563.0v13.5M476.1 563.0v13.5M488.0 563.0v13.5M500.0 563.0v13.5M511.9 563.0v13.5M523.9 563.0v13.5M535.9 563.0v13.5M547.8 563.0v13.5M559.8 563.0v13.5M571.7 563.0v13.5M583.6 563.0v13.5M595.6 563.0v13.5M607.5 563.0v13.5M619.5 563.0v13.5M631.4 563.0v13.5M643.4 563.0v13.5M655.4 563.0v13.5M667.3 563.0v13.5M679.2 563.0v13.5M691.2 563.0v13.5M703.1 563.0v13.5M715.1 563.0v13.5M727.0 563.0v13.5M739.0 563.0v13.5M750.9 563.0v13.5M762.9 563.0v13.5M774.8 563.0v13.5M786.8 563.0v13.5M798.7 563.0v13.5M810.7 563.0v13.5M822.6 563.0v13.5M834.6 563.0v13.5" stroke="#000" stroke-width="1.1" fill="none"/><rect x="153.2" y="460.5" width="717.0" height="102.5" fill="none" stroke="#000" stroke-width="1.3"/><text x="134.6" y="566.3" font-size="9.0" text-anchor="end">1008</text><text x="134.6" y="549.2" font-size="9.0" text-anchor="end">1011</text><text x="134.6" y="532.1" font-size="9.0" text-anchor="end">1014</text><text x="134.6" y="515.0" font-size="9.0" text-anchor="end">1017</text><text x="134.6" y="498.0" font-size="9.0" text-anchor="end">1020</text><text x="134.6" y="480.9" font-size="9.0" text-anchor="end">1023</text><text x="134.6" y="463.8" font-size="9.0" text-anchor="end">1026</text><text transform="translate(184.7 581.4) rotate(-45)" font-size="13.4" text-anchor="end">20.00</text><text transform="translate(232.5 581.4) rotate(-45)" font-size="13.4" text-anchor="end">20.12</text><text transform="translate(280.3 581.4) rotate(-45)" font-size="13.4" text-anchor="end">21.00</text><text transform="translate(328.1 581.4) rotate(-45)" font-size="13.4" text-anchor="end">21.12</text><text transform="translate(375.9 581.4) rotate(-45)" font-size="13.4" text-anchor="end">22.00</text><text transform="translate(423.7 581.4) rotate(-45)" font-size="13.4" text-anchor="end">22.12</text><text transform="translate(471.5 581.4) rotate(-45)" font-size="13.4" text-anchor="end">23.00</text><text transform="translate(519.3 581.4) rotate(-45)" font-size="13.4" text-anchor="end">23.12</text><text transform="translate(567.1 581.4) rotate(-45)" font-size="13.4" text-anchor="end">24.00</text><text transform="translate(614.9 581.4) rotate(-45)" font-size="13.4" text-anchor="end">24.12</text><text transform="translate(662.7 581.4) rotate(-45)" font-size="13.4" text-anchor="end">25.00</text><text transform="translate(710.5 581.4) rotate(-45)" font-size="13.4" text-anchor="end">25.12</text><text transform="translate(758.3 581.4) rotate(-45)" font-size="13.4" text-anchor="end">26.00</text><text transform="translate(806.1 581.4) rotate(-45)" font-size="13.4" text-anchor="end">26.12</text><text transform="translate(853.9 581.4) rotate(-45)" font-size="13.4" text-anchor="end">27.00</text><path d="M165.4 614.2V716.5M177.3 614.2V716.5M189.3 614.2V716.5M201.2 614.2V716.5M213.2 614.2V716.5M225.2 614.2V716.5M237.1 614.2V716.5M249.1 614.2V716.5M261.0 614.2V716.5M272.9 614.2V716.5M284.9 614.2V716.5M296.9 614.2V716.5M308.8 614.2V716.5M320.8 614.2V716.5M332.7 614.2V716.5M344.6 614.2V716.5M356.6 614.2V716.5M368.5 614.2V716.5M380.5 614.2V716.5M392.4 614.2V716.5M404.4 614.2V716.5M416.4 614.2V716.5M428.3 614.2V716.5M440.2 614.2V716.5M452.2 614.2V716.5M464.1 614.2V716.5M476.1 614.2V716.5M488.0 614.2V716.5M500.0 614.2V716.5M511.9 614.2V716.5M523.9 614.2V716.5M535.9 614.2V716.5M547.8 614.2V716.5M559.8 614.2V716.5M571.7 614.2V716.5M583.6 614.2V716.5M595.6 614.2V716.5M607.5 614.2V716.5M619.5 614.2V716.5M631.4 614.2V716.5M643.4 614.2V716.5M655.4 614.2V716.5M667.3 614.2V716.5M679.2 614.2V716.5M691.2 614.2V716.5M703.1 614.2V716.5M715.1 614.2V716.5M727.0 614.2V716.5M739.0 614.2V716.5M750.9 614.2V716.5M762.9 614.2V716.5M774.8 614.2V716.5M786.8 614.2V716.5M798.7 614.2V716.5M810.7 614.2V716.5M822.6 614.2V716.5M834.6 614.2V716.5" stroke="#3a3a3a" stroke-width="0.9" stroke-dasharray="3 6.5" stroke-dashoffset="-4.5" fill="none"/><path d="M153.2 699.5H870.2M153.2 682.4H870.2M153.2 665.4H870.2M153.2 648.3H870.2M153.2 631.2H870.2" stroke="#808080" stroke-width="0.9" stroke-dasharray="3.3 6.3" fill="none"/><polyline points="165.4,693.3 177.3,701.8 189.3,679.7 201.2,663.6 213.2,666.7 225.2,683.1 237.1,688.9 249.1,689.9 261.0,700.8 272.9,703.5 284.9,665.4 296.9,640.5 308.8,643.9 320.8,686.5 332.7,683.8 344.6,688.5 356.6,692.6 368.5,691.6 380.5,674.6 392.4,657.5 404.4,666.7 416.4,684.8 428.3,693.3 440.2,695.7 452.2,691.3 464.1,694.0 476.1,657.5 488.0,635.0 500.0,637.0 511.9,672.9 523.9,689.9 535.9,690.9 547.8,683.1 559.8,678.6 571.7,662.6 583.6,642.8 595.6,642.2 607.5,662.6 619.5,671.8 631.4,672.5 643.4,672.5 655.4,671.1 667.3,645.6 679.2,628.9 691.2,627.5 703.1,655.1 715.1,666.0 727.0,672.2 739.0,678.6 750.9,674.6 762.9,639.4 774.8,617.3 786.8,614.9 798.7,642.8 810.7,656.8 822.6,669.4 834.6,678.0" fill="none" stroke="#ff1a1a" stroke-width="1.3" stroke-linejoin="round"/><path d="M153.2 716.5h-14.0M870.2 716.5h14.0M153.2 710.8h-7.0M870.2 710.8h7.0M153.2 705.1h-7.0M870.2 705.1h7.0M153.2 699.5h-14.0M870.2 699.5h14.0M153.2 693.8h-7.0M870.2 693.8h7.0M153.2 688.1h-7.0M870.2 688.1h7.0M153.2 682.4h-14.0M870.2 682.4h14.0M153.2 676.7h-7.0M870.2 676.7h7.0M153.2 671.0h-7.0M870.2 671.0h7.0M153.2 665.4h-14.0M870.2 665.4h14.0M153.2 659.7h-7.0M870.2 659.7h7.0M153.2 654.0h-7.0M870.2 654.0h7.0M153.2 648.3h-14.0M870.2 648.3h14.0M153.2 642.6h-7.0M870.2 642.6h7.0M153.2 636.9h-7.0M870.2 636.9h7.0M153.2 631.2h-14.0M870.2 631.2h14.0M153.2 625.6h-7.0M870.2 625.6h7.0M153.2 619.9h-7.0M870.2 619.9h7.0M153.2 614.2h-14.0M870.2 614.2h14.0M165.4 716.5v13.5M177.3 716.5v13.5M189.3 716.5v13.5M201.2 716.5v13.5M213.2 716.5v13.5M225.2 716.5v13.5M237.1 716.5v13.5M249.1 716.5v13.5M261.0 716.5v13.5M272.9 716.5v13.5M284.9 716.5v13.5M296.9 716.5v13.5M308.8 716.5v13.5M320.8 716.5v13.5M332.7 716.5v13.5M344.6 716.5v13.5M356.6 716.5v13.5M368.5 716.5v13.5M380.5 716.5v13.5M392.4 716.5v13.5M404.4 716.5v13.5M416.4 716.5v13.5M428.3 716.5v13.5M440.2 716.5v13.5M452.2 716.5v13.5M464.1 716.5v13.5M476.1 716.5v13.5M488.0 716.5v13.5M500.0 716.5v13.5M511.9 716.5v13.5M523.9 716.5v13.5M535.9 716.5v13.5M547.8 716.5v13.5M559.8 716.5v13.5M571.7 716.5v13.5M583.6 716.5v13.5M595.6 716.5v13.5M607.5 716.5v13.5M619.5 716.5v13.5M631.4 716.5v13.5M643.4 716.5v13.5M655.4 716.5v13.5M667.3 716.5v13.5M679.2 716.5v13.5M691.2 716.5v13.5M703.1 716.5v13.5M715.1 716.5v13.5M727.0 716.5v13.5M739.0 716.5v13.5M750.9 716.5v13.5M762.9 716.5v13.5M774.8 716.5v13.5M786.8 716.5v13.5M798.7 716.5v13.5M810.7 716.5v13.5M822.6 716.5v13.5M834.6 716.5v13.5" stroke="#000" stroke-width="1.1" fill="none"/><rect x="153.2" y="614.2" width="717.0" height="102.3" fill="none" stroke="#000" stroke-width="1.3"/><text x="134.6" y="719.8" font-size="9.0" text-anchor="end">-6</text><text x="134.6" y="702.8" font-size="9.0" text-anchor="end">-3</text><text x="134.6" y="685.7" font-size="9.0" text-anchor="end">0</text><text x="134.6" y="668.6" font-size="9.0" text-anchor="end">3</text><text x="134.6" y="651.6" font-size="9.0" text-anchor="end">6</text><text x="134.6" y="634.5" font-size="9.0" text-anchor="end">9</text><text x="134.6" y="617.5" font-size="9.0" text-anchor="end">12</text><text transform="translate(184.7 734.9) rotate(-45)" font-size="13.4" text-anchor="end">20.00</text><text transform="translate(232.5 734.9) rotate(-45)" font-size="13.4" text-anchor="end">20.12</text><text transform="translate(280.3 734.9) rotate(-45)" font-size="13.4" text-anchor="end">21.00</text><text transform="translate(328.1 734.9) rotate(-45)" font-size="13.4" text-anchor="end">21.12</text><text transform="translate(375.9 734.9) rotate(-45)" font-size="13.4" text-anchor="end">22.00</text><text transform="translate(423.7 734.9) rotate(-45)" font-size="13.4" text-anchor="end">22.12</text><text transform="translate(471.5 734.9) rotate(-45)" font-size="13.4" text-anchor="end">23.00</text><text transform="translate(519.3 734.9) rotate(-45)" font-size="13.4" text-anchor="end">23.12</text><text transform="translate(567.1 734.9) rotate(-45)" font-size="13.4" text-anchor="end">24.00</text><text transform="translate(614.9 734.9) rotate(-45)" font-size="13.4" text-anchor="end">24.12</text><text transform="translate(662.7 734.9) rotate(-45)" font-size="13.4" text-anchor="end">25.00</text><text transform="translate(710.5 734.9) rotate(-45)" font-size="13.4" text-anchor="end">25.12</text><text transform="translate(758.3 734.9) rotate(-45)" font-size="13.4" text-anchor="end">26.00</text><text transform="translate(806.1 734.9) rotate(-45)" font-size="13.4" text-anchor="end">26.12</text><text transform="translate(853.9 734.9) rotate(-45)" font-size="13.4" text-anchor="end">27.00</text><rect x="216.0" y="819.0" width="12.6" height="133.3" fill="#00ff00"/><path d="M159.5 819.0V952.3M172.1 819.0V952.3M184.7 819.0V952.3M197.3 819.0V952.3M209.9 819.0V952.3M222.5 819.0V952.3M235.1 819.0V952.3M247.7 819.0V952.3M260.3 819.0V952.3M272.9 819.0V952.3M285.5 819.0V952.3M298.1 819.0V952.3M310.7 819.0V952.3M323.3 819.0V952.3M335.9 819.0V952.3M348.5 819.0V952.3M361.1 819.0V952.3M373.7 819.0V952.3M386.3 819.0V952.3M398.9 819.0V952.3M411.5 819.0V952.3M424.1 819.0V952.3M436.7 819.0V952.3M449.3 819.0V952.3M461.9 819.0V952.3M474.5 819.0V952.3M487.1 819.0V952.3M499.7 819.0V952.3M512.3 819.0V952.3M524.9 819.0V952.3M537.5 819.0V952.3M550.1 819.0V952.3M562.7 819.0V952.3M575.3 819.0V952.3M587.9 819.0V952.3M600.5 819.0V952.3M613.1 819.0V952.3M625.7 819.0V952.3M638.3 819.0V952.3M650.9 819.0V952.3M663.5 819.0V952.3M676.1 819.0V952.3M688.7 819.0V952.3M701.3 819.0V952.3M713.9 819.0V952.3M726.5 819.0V952.3M739.1 819.0V952.3M751.7 819.0V952.3M764.3 819.0V952.3M776.9 819.0V952.3M789.5 819.0V952.3M802.1 819.0V952.3M814.7 819.0V952.3M827.3 819.0V952.3M839.9 819.0V952.3M852.5 819.0V952.3M865.1 819.0V952.3" stroke="#3a3a3a" stroke-width="0.9" stroke-dasharray="4.3 5.2" stroke-dashoffset="3.8" fill="none"/><path d="M153.2 925.6H870.2M153.2 899.0H870.2M153.2 872.3H870.2M153.2 845.7H870.2" stroke="#555" stroke-width="0.9" stroke-dasharray="4 5.2" fill="none"/><path d="M153.2 952.3h-14.0M870.2 952.3h14.0M153.2 945.6h-7.0M870.2 945.6h7.0M153.2 939.0h-7.0M870.2 939.0h7.0M153.2 932.3h-7.0M870.2 932.3h7.0M153.2 925.6h-14.0M870.2 925.6h14.0M153.2 919.0h-7.0M870.2 919.0h7.0M153.2 912.3h-7.0M870.2 912.3h7.0M153.2 905.6h-7.0M870.2 905.6h7.0M153.2 899.0h-14.0M870.2 899.0h14.0M153.2 892.3h-7.0M870.2 892.3h7.0M153.2 885.6h-7.0M870.2 885.6h7.0M153.2 879.0h-7.0M870.2 879.0h7.0M153.2 872.3h-14.0M870.2 872.3h14.0M153.2 865.7h-7.0M870.2 865.7h7.0M153.2 859.0h-7.0M870.2 859.0h7.0M153.2 852.3h-7.0M870.2 852.3h7.0M153.2 845.7h-14.0M870.2 845.7h14.0M153.2 839.0h-7.0M870.2 839.0h7.0M153.2 832.3h-7.0M870.2 832.3h7.0M153.2 825.7h-7.0M870.2 825.7h7.0M153.2 819.0h-14.0M870.2 819.0h14.0M159.5 952.3v13.5M172.1 952.3v13.5M184.7 952.3v13.5M197.3 952.3v13.5M209.9 952.3v13.5M222.5 952.3v13.5M235.1 952.3v13.5M247.7 952.3v13.5M260.3 952.3v13.5M272.9 952.3v13.5M285.5 952.3v13.5M298.1 952.3v13.5M310.7 952.3v13.5M323.3 952.3v13.5M335.9 952.3v13.5M348.5 952.3v13.5M361.1 952.3v13.5M373.7 952.3v13.5M386.3 952.3v13.5M398.9 952.3v13.5M411.5 952.3v13.5M424.1 952.3v13.5M436.7 952.3v13.5M449.3 952.3v13.5M461.9 952.3v13.5M474.5 952.3v13.5M487.1 952.3v13.5M499.7 952.3v13.5M512.3 952.3v13.5M524.9 952.3v13.5M537.5 952.3v13.5M550.1 952.3v13.5M562.7 952.3v13.5M575.3 952.3v13.5M587.9 952.3v13.5M600.5 952.3v13.5M613.1 952.3v13.5M625.7 952.3v13.5M638.3 952.3v13.5M650.9 952.3v13.5M663.5 952.3v13.5M676.1 952.3v13.5M688.7 952.3v13.5M701.3 952.3v13.5M713.9 952.3v13.5M726.5 952.3v13.5M739.1 952.3v13.5M751.7 952.3v13.5M764.3 952.3v13.5M776.9 952.3v13.5M789.5 952.3v13.5M802.1 952.3v13.5M814.7 952.3v13.5M827.3 952.3v13.5M839.9 952.3v13.5M852.5 952.3v13.5M865.1 952.3v13.5" stroke="#000" stroke-width="1.1" fill="none"/><rect x="153.2" y="819.0" width="717.0" height="133.3" fill="none" stroke="#000" stroke-width="1.3"/><text x="133.4" y="955.8" font-size="9.5" text-anchor="end">0.0000</text><text x="133.4" y="929.1" font-size="9.5" text-anchor="end">0.0020</text><text x="133.4" y="902.5" font-size="9.5" text-anchor="end">0.0040</text><text x="133.4" y="875.8" font-size="9.5" text-anchor="end">0.0060</text><text x="133.4" y="849.2" font-size="9.5" text-anchor="end">0.0080</text><text x="133.4" y="822.5" font-size="9.5" text-anchor="end">0.0100</text><text transform="translate(178.8 970.7) rotate(-45)" font-size="13.4" text-anchor="end">20.00</text><text transform="translate(229.2 970.7) rotate(-45)" font-size="13.4" text-anchor="end">20.12</text><text transform="translate(279.6 970.7) rotate(-45)" font-size="13.4" text-anchor="end">21.00</text><text transform="translate(330.0 970.7) rotate(-45)" font-size="13.4" text-anchor="end">21.12</text><text transform="translate(380.4 970.7) rotate(-45)" font-size="13.4" text-anchor="end">22.00</text><text transform="translate(430.8 970.7) rotate(-45)" font-size="13.4" text-anchor="end">22.12</text><text transform="translate(481.2 970.7) rotate(-45)" font-size="13.4" text-anchor="end">23.00</text><text transform="translate(531.6 970.7) rotate(-45)" font-size="13.4" text-anchor="end">23.12</text><text transform="translate(582.0 970.7) rotate(-45)" font-size="13.4" text-anchor="end">24.00</text><text transform="translate(632.4 970.7) rotate(-45)" font-size="13.4" text-anchor="end">24.12</text><text transform="translate(682.8 970.7) rotate(-45)" font-size="13.4" text-anchor="end">25.00</text><text transform="translate(733.2 970.7) rotate(-45)" font-size="13.4" text-anchor="end">25.12</text><text transform="translate(783.6 970.7) rotate(-45)" font-size="13.4" text-anchor="end">26.00</text><text transform="translate(834.0 970.7) rotate(-45)" font-size="13.4" text-anchor="end">26.12</text><text transform="translate(884.4 970.7) rotate(-45)" font-size="13.4" text-anchor="end">27.00</text><text transform="translate(98.3 512) rotate(-90)" font-size="24" text-anchor="middle">PMSL</text><text transform="translate(108.1 665.4) rotate(-90)" font-size="24" text-anchor="middle">TEMP at 2 M</text><text transform="translate(86 885.5) rotate(-90)" font-size="25" text-anchor="middle">PRECIP, mm</text></svg></body></html>
